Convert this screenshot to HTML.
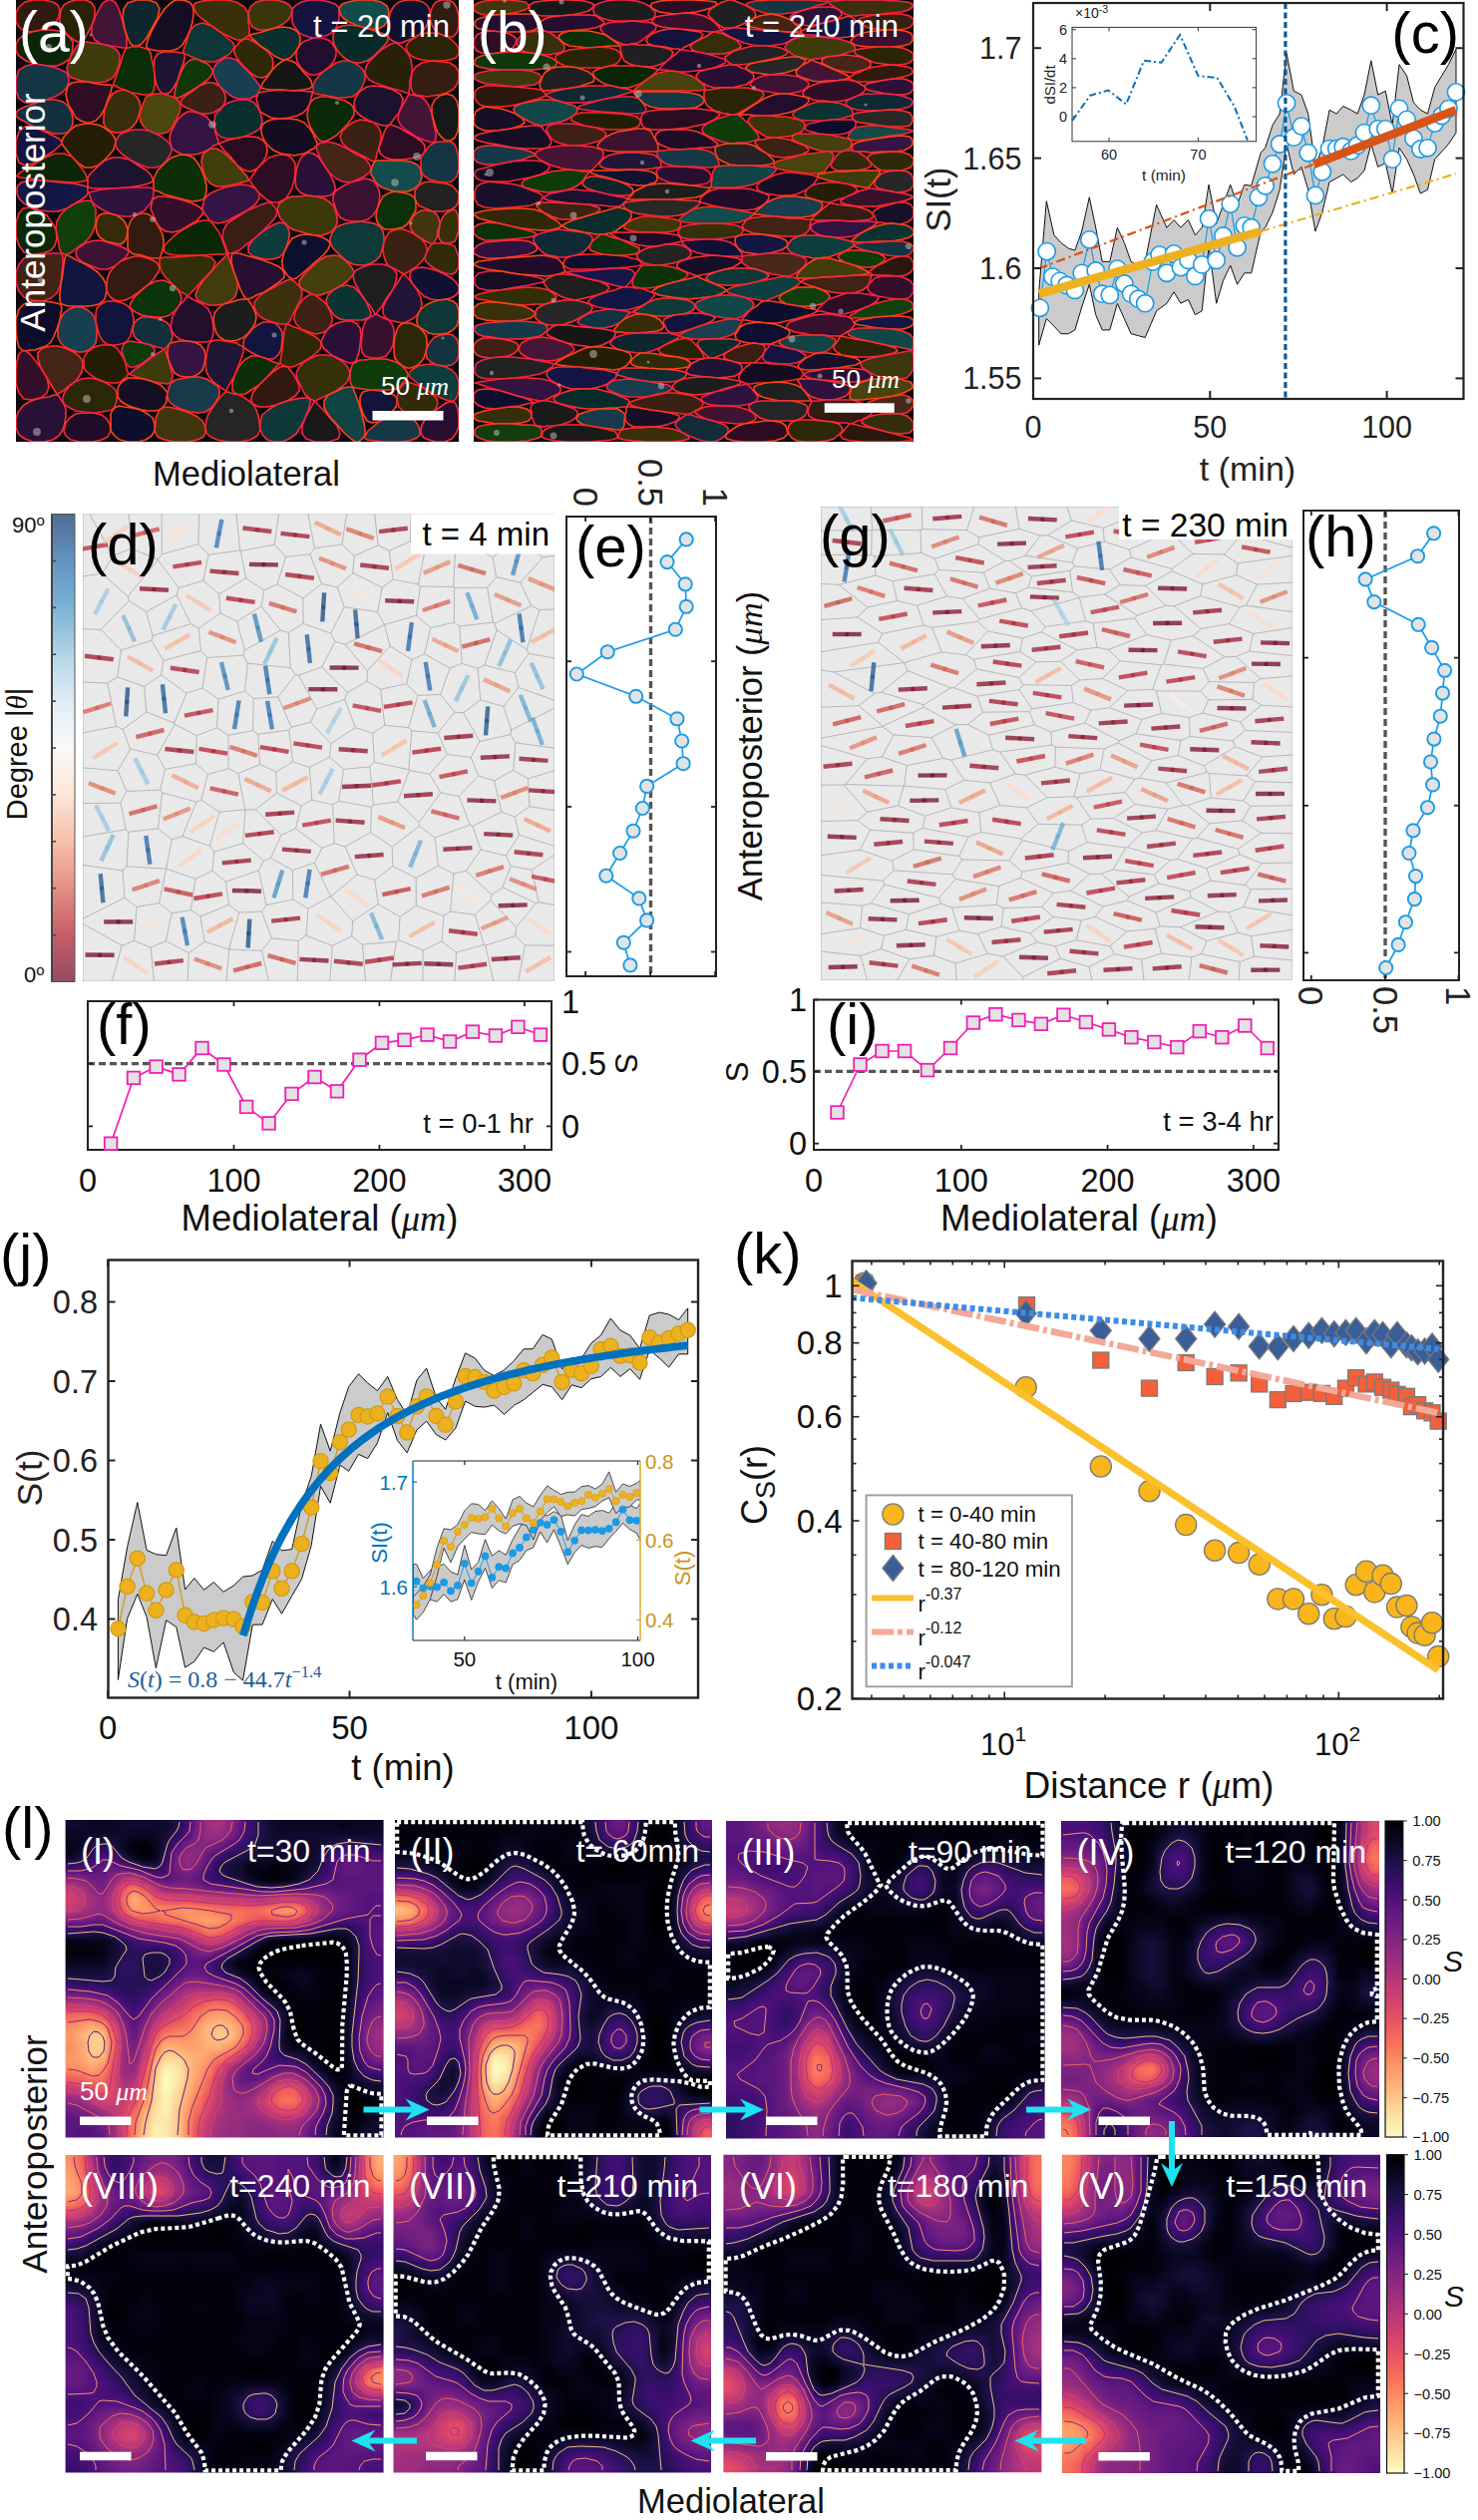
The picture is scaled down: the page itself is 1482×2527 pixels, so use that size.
<!DOCTYPE html>
<html><head><meta charset="utf-8"><style>
html,body{margin:0;padding:0;background:#fff;}
body{width:1482px;height:2527px;overflow:hidden;font-family:"Liberation Sans", sans-serif;}
svg{display:block;}
</style></head><body>
<svg width="1482" height="2527" viewBox="0 0 1482 2527" font-family='"Liberation Sans", sans-serif'><clipPath id="clipa"><rect x="16" y="0" width="444" height="443"/></clipPath>
<g clip-path="url(#clipa)" stroke-width="1.6" stroke-linejoin="round">
<rect x="16" y="0" width="444" height="443" fill="#0c0a0e"/>
<path d="M42 30l-10 2 -8 -1 -5 -4 -3 -5 0 -9 3 -6 6 -5 8 -2 11 0 9 2 5 3 2 5 -1 7 -3 5 -6 5z" fill="#311b11" stroke="#ff2626"/>
<path d="M60 17l1 -7 3 -5 5 -3 7 -2 10 0 6 3 3 5 0 8 -3 10 -4 7 -3 6 -2 3 -2 0 -3 0 -4 -2 -4 -3 -4 -4 -4 -5 -2 -5z" fill="#292208" stroke="#ff2a3a"/>
<path d="M122 18l3 11 2 9 0 6 0 3 -1 1 -3 0 -5 -1 -7 -1 -10 -2 -6 -4 -3 -6 0 -8 4 -10 4 -8 3 -5 5 -3 4 0 4 3 3 6z" fill="#421435" stroke="#f8204e"/>
<path d="M125 29l-2 -11 1 -9 4 -6 9 -3 12 0 8 3 3 6 -2 9 -6 11 -5 9 -5 6 -4 2 -4 0 -3 -2 -3 -6z" fill="#0e2630" stroke="#ff4418"/>
<path d="M177 98l-2 -1 0 -3 1 -5 2 -8 4 -10 4 -7 5 -4 6 -1 6 3 5 2 3 3 2 3 0 3 -2 4 -4 4 -7 5 -8 5 -7 4 -5 3z" fill="#0e380b" stroke="#ff3030"/>
<path d="M222 33l-10 -7 -8 -6 -6 -5 -3 -5 -1 -4 2 -3 7 -2 10 -1 14 0 10 2 8 5 4 6 0 9 1 6 0 5 0 2 0 1 -1 0 -2 1 -2 2 -3 1 -5 0 -6 -3z" fill="#392f0b" stroke="#ff2626"/>
<path d="M265 0l11 0 9 2 5 3 3 4 -1 6 -3 5 -5 4 -8 4 -10 2 -7 0 -6 -3 -3 -6 -1 -8 2 -6 6 -5z" fill="#3a350b" stroke="#ff2a3a"/>
<path d="M321 37l-7 1 -5 -1 -5 -2 -4 -2 -3 -4 -3 -4 -1 -5 0 -5 0 -6 4 -4 5 -3 9 -2 11 0 8 2 6 2 4 4 0 6 0 5 -1 4 -2 5 -2 3 -4 3 -5 2z" fill="#12143f" stroke="#f8204e"/>
<path d="M370 29l-11 -3 -9 -4 -6 -4 -3 -4 -1 -6 3 -4 6 -2 10 -2 14 0 9 2 6 4 2 6 -1 8 -4 6 -6 3z" fill="#124b4b" stroke="#ff4418"/>
<path d="M390 38l-1 -2 0 -4 0 -5 1 -6 1 -8 4 -7 5 -4 8 -2 9 0 7 2 5 4 2 5 -1 7 -2 7 -3 5 -5 5 -7 4 -6 2 -4 2 -4 0 -3 -1 -2 -1 -2 -1z" fill="#0e1031" stroke="#ff3030"/>
<path d="M414 39l6 -4 7 -2 7 0 7 1 8 3 5 4 4 4 2 4 0 5 -3 4 -6 2 -8 1 -11 0 -9 -1 -7 -2 -5 -3 -3 -4 -1 -4 2 -4z" fill="#2c2408" stroke="#ff2626"/>
<path d="M32 32l10 -2 9 0 8 1 6 2 5 5 3 4 0 5 -1 6 -2 6 -6 4 -7 3 -10 0 -12 -2 -9 -3 -7 -5 -3 -5 0 -7 3 -5 5 -4z" fill="#0a2607" stroke="#ff2a3a"/>
<path d="M70 59l3 -6 3 -5 2 -3 3 -2 2 -1 4 0 6 1 8 1 9 2 7 4 3 5 0 7 -3 10 -4 6 -7 4 -9 1 -10 -1 -9 -2 -6 -2 -3 -2 -1 -3 -1 -4 1 -4z" fill="#403b0c" stroke="#f8204e"/>
<path d="M153 29l6 -11 6 -9 6 -6 5 -3 6 0 5 1 4 2 2 3 1 4 0 5 -1 7 -2 7 -4 9 -4 7 -5 4 -7 2 -7 0 -6 0 -5 -1 -4 -1 -2 -1 0 -4 2 -6z" fill="#150e23" stroke="#ff4418"/>
<path d="M164 52l7 0 6 0 4 1 3 0 1 1 0 4 -1 5 -3 8 -3 10 -4 7 -4 5 -3 1 -4 0 -3 -3 -3 -6 -2 -8 -1 -10 1 -8 3 -5z" fill="#1e1434" stroke="#ff3030"/>
<path d="M222 33l-10 -7 -9 -3 -7 2 -5 5 -3 8 -2 7 -2 5 0 3 1 1 3 1 4 2 5 2 6 2 7 1 5 0 5 -2 5 -3 4 -2 3 -3 2 -3 1 -2 -1 -4 -5 -4z" fill="#0d3636" stroke="#ff2626"/>
<path d="M261 46l8 6 4 6 1 6 -1 6 -5 6 -5 2 -6 -1 -6 -4 -8 -8 -5 -6 -3 -6 0 -4 1 -2 2 -2 2 -3 2 -1 3 -2 4 0 6 3z" fill="#302809" stroke="#ff2a3a"/>
<path d="M306 72l-5 -5 -3 -5 -1 -6 0 -5 3 -5 4 -4 5 -2 5 -2 7 0 5 1 5 2 3 4 3 5 0 5 -2 6 -4 5 -7 6 -7 3 -6 0z" fill="#220d2c" stroke="#f8204e"/>
<path d="M294 91l-13 -1 -10 0 -6 -1 -3 -1 0 -1 1 -3 2 -3 4 -5 4 -6 5 -5 4 -3 3 -2 3 0 4 1 4 2 4 4 5 6 4 4 3 4 1 4 0 2 -3 2 -7 1z" fill="#161616" stroke="#ff4418"/>
<path d="M389 38l-1 -2 -3 -2 -6 -2 -9 -3 -11 -3 -9 -1 -7 1 -5 2 -3 4 -1 4 0 4 1 5 3 5 3 4 4 4 5 3 5 2 6 0 7 -2 6 -4 7 -7 5 -5 3 -4z" fill="#0a2a2a" stroke="#ff3030"/>
<path d="M412 82l1 -9 4 -6 6 -4 9 -2 11 1 8 1 6 4 3 5 0 8 -2 5 -4 5 -6 3 -7 2 -7 1 -6 1 -6 -1 -5 -1 -3 -2 -2 -5z" fill="#351d12" stroke="#ff2626"/>
<path d="M441 34l8 3 5 0 4 -4 2 -7 0 -10 -2 -8 -3 -5 -5 -3 -7 0 -6 2 -3 4 -2 5 -1 7 2 7 3 5z" fill="#321b11" stroke="#ff2a3a"/>
<path d="M47 66l-12 -2 -9 2 -7 4 -3 9 0 12 3 8 6 4 9 0 12 -3 9 -3 7 -4 4 -4 2 -3 1 -4 0 -3 -1 -3 -1 -3 -4 -2 -7 -3z" fill="#143544" stroke="#f8204e"/>
<path d="M87 82l10 2 8 1 5 0 3 1 0 0 -1 2 -1 5 -3 7 -3 9 -4 7 -5 5 -5 2 -5 0 -5 -2 -5 -3 -3 -6 -4 -6 -2 -6 -1 -6 1 -4 1 -4 4 -3 6 -1z" fill="#2f0e25" stroke="#ff4418"/>
<path d="M124 132l5 -2 4 -3 4 -5 2 -6 2 -8 -1 -6 -3 -5 -5 -4 -7 -3 -7 1 -5 3 -4 6 -4 10 -1 7 0 7 2 4 4 3 5 2 4 0z" fill="#382e0b" stroke="#ff3030"/>
<path d="M128 48l-1 0 -2 3 -2 5 -2 7 -3 9 -2 6 -2 5 0 2 0 0 2 1 3 2 6 2 7 3 7 1 5 1 4 0 4 -1 2 -3 1 -6 0 -8 -1 -10 -2 -8 -1 -6 -2 -3 -2 -1 -3 -1 -3 -1 -3 0 -4 0 -3 0 -2 1z" fill="#0b2c08" stroke="#ff2626"/>
<path d="M194 111l7 3 7 0 6 -1 5 -3 5 -4 2 -5 0 -5 -2 -5 -4 -5 -6 -3 -6 0 -8 3 -8 6 -6 4 -4 4 -1 3 1 2 3 2 4 2z" fill="#3b2014" stroke="#ff2a3a"/>
<path d="M240 99l6 0 5 0 3 -2 3 -1 2 -3 1 -2 1 -2 0 -1 0 -1 -2 -3 -3 -4 -6 -7 -7 -7 -6 -6 -6 -2 -6 0 -4 3 -4 3 -2 3 -1 3 0 3 1 4 2 4 3 5 5 5 5 4 5 3z" fill="#183f50" stroke="#f8204e"/>
<path d="M251 36l0 -1 3 -1 5 -1 7 -2 10 -3 8 -1 7 1 5 2 3 3 2 4 0 4 -1 5 -3 5 -3 4 -3 3 -3 1 -3 1 -4 -1 -6 -3 -6 -5 -8 -5 -5 -5 -4 -3z" fill="#0b2e2e" stroke="#ff4418"/>
<path d="M311 103l-2 6 -1 6 1 6 2 6 4 7 3 4 3 3 4 1 3 -1 4 -2 5 -3 5 -5 6 -6 4 -5 3 -5 0 -4 -1 -4 -3 -3 -5 -3 -8 -2 -9 -2 -8 0 -6 2z" fill="#0a2908" stroke="#ff3030"/>
<path d="M355 63l-5 -2 -6 0 -7 2 -6 4 -7 5 -5 5 -3 4 -2 4 0 2 0 2 0 2 0 1 0 1 3 1 5 1 7 1 9 2 8 0 7 -1 5 -3 4 -5 2 -4 2 -5 0 -4 -1 -4 -2 -3 -3 -3z" fill="#143745" stroke="#ff2626"/>
<path d="M391 125l-3 1 -3 0 -4 -1 -6 -2 -7 -3 -5 -3 -4 -3 -3 -4 -1 -3 0 -4 1 -4 3 -5 4 -4 5 -3 7 -1 9 1 10 3 7 4 3 5 -1 6 -3 8 -4 5 -3 4z" fill="#1b122d" stroke="#ff2a3a"/>
<path d="M411 81l2 -8 0 -7 -1 -6 -2 -5 -3 -4 -3 -3 -2 -2 -3 -2 -3 -1 -4 1 -5 3 -6 4 -6 6 -5 5 -3 5 -1 5 1 4 3 4 6 3 8 3 10 3 8 2 5 2 3 1 0 0 0 -2 1 -5z" fill="#282108" stroke="#f8204e"/>
<path d="M72 157l7 7 6 4 7 0 6 -2 7 -6 5 -5 4 -5 1 -4 1 -4 -1 -4 -2 -3 -3 -3 -4 -3 -5 -3 -4 -1 -6 -1 -5 0 -5 1 -5 1 -4 3 -4 4 -3 3 -2 3 -1 3 0 2 2 3 3 4z" fill="#251e07" stroke="#ff4418"/>
<path d="M46 100l-12 4 -9 3 -6 3 -3 3 0 3 3 3 6 3 8 5 12 4 9 3 8 0 5 -1 4 -4 2 -5 0 -5 -1 -6 -4 -7 -5 -4 -8 -2z" fill="#12303e" stroke="#ff3030"/>
<path d="M177 119l-4 8 -4 5 -6 2 -7 0 -7 -3 -5 -4 -3 -5 -1 -6 2 -8 2 -5 2 -5 3 -2 3 -1 3 -1 4 0 4 0 4 1 3 1 3 1 2 1 1 1 2 1 1 1 1 2 1 2 0 4 -1 4z" fill="#4c460f" stroke="#ff2626"/>
<path d="M178 120l-4 7 -3 7 -1 5 1 5 1 4 3 3 4 2 4 2 6 0 6 0 5 -1 5 -2 6 -3 3 -3 3 -1 2 -1 0 -1 0 -1 -1 -4 -2 -5 -1 -6 -4 -5 -4 -5 -6 -3 -7 -2 -6 0 -5 3z" fill="#331442" stroke="#ff2a3a"/>
<path d="M215 127l2 6 4 4 6 2 8 0 10 -2 7 -3 6 -3 3 -3 1 -3 1 -4 -1 -4 -1 -5 -3 -5 -3 -4 -4 -2 -5 -1 -6 0 -5 1 -6 2 -5 3 -4 5 -4 4 -1 6z" fill="#0b2f2f" stroke="#f8204e"/>
<path d="M280 119l10 0 8 1 7 3 5 5 4 6 2 5 2 4 0 3 -2 1 -1 2 -3 1 -3 2 -4 2 -5 1 -5 1 -6 -1 -7 -1 -5 -2 -5 -3 -4 -4 -3 -4 -2 -5 -1 -4 0 -4 1 -3 4 -3 5 -2z" fill="#140d22" stroke="#ff4418"/>
<path d="M311 103l-3 6 -4 4 -6 3 -8 2 -10 1 -8 -1 -6 -3 -5 -3 -2 -5 -1 -4 -1 -4 1 -3 1 -3 5 -1 7 -1 10 -1 13 1 9 0 7 1 3 0 0 1 0 2 -1 3z" fill="#150e24" stroke="#ff3030"/>
<path d="M380 148l2 -8 0 -7 -3 -6 -4 -4 -7 -2 -7 -1 -6 2 -6 4 -6 6 -2 5 2 6 6 6 10 5 8 4 5 3 3 1 1 -1 1 -2 1 -5z" fill="#3b2014" stroke="#ff2626"/>
<path d="M404 160l-11 0 -7 -2 -5 -4 -1 -6 3 -8 2 -7 2 -4 2 -3 2 -1 4 1 5 2 7 4 9 5 7 5 3 4 0 5 -2 4 -5 2 -7 2z" fill="#2c0d23" stroke="#ff2a3a"/>
<path d="M417 137l-9 -6 -6 -5 -3 -6 1 -7 4 -8 3 -5 2 -4 1 -2 0 0 1 1 3 0 3 1 5 1 4 3 4 6 3 8 2 11 2 8 0 6 -1 3 -2 1 -4 -1 -6 -2z" fill="#441437" stroke="#f8204e"/>
<path d="M447 141l5 0 4 -3 3 -6 1 -9 0 -13 -2 -9 -4 -5 -6 -2 -7 2 -5 4 -3 6 0 8 3 11 3 8 4 5z" fill="#171717" stroke="#ff4418"/>
<path d="M45 132l-12 -5 -8 0 -6 5 -3 9 0 13 3 9 6 3 8 -2 12 -7 8 -5 6 -5 3 -3 0 -2 -3 -3 -6 -3z" fill="#13143f" stroke="#ff3030"/>
<path d="M45 158l-11 7 -9 5 -6 4 -2 2 0 1 4 1 9 1 13 2 17 1 14 1 8 -1 5 -1 0 -3 -1 -3 -3 -5 -5 -6 -6 -7 -8 -3 -9 0z" fill="#0a2607" stroke="#ff2626"/>
<path d="M89 188l-1 -1 0 -2 0 -2 0 -2 0 -3 2 -3 4 -4 5 -5 6 -5 8 -3 8 0 9 2 9 6 8 5 4 4 2 4 0 3 -4 2 -8 2 -12 2 -16 1 -12 0 -8 0z" fill="#1d1331" stroke="#ff2a3a"/>
<path d="M167 161l-5 5 -6 2 -8 0 -8 -3 -10 -5 -7 -5 -5 -5 -2 -4 0 -4 2 -4 2 -3 4 -2 6 -2 5 -1 7 0 7 1 7 3 6 3 5 4 3 3 2 4 0 4 -2 4z" fill="#262626" stroke="#f8204e"/>
<path d="M173 197l11 3 9 2 7 -1 4 -1 2 -4 1 -4 0 -6 -2 -8 -3 -8 -4 -7 -4 -5 -5 -2 -6 -1 -5 1 -6 2 -5 4 -5 5 -4 4 -2 4 -2 4 0 3 0 3 0 2 0 2 1 2 4 1 6 3z" fill="#0c2f09" stroke="#ff4418"/>
<path d="M220 144l-1 0 2 2 4 5 6 6 7 9 7 5 7 1 6 -3 6 -7 3 -6 1 -5 -1 -6 -3 -4 -5 -3 -6 -1 -8 0 -10 2 -8 2 -5 2z" fill="#2a0c21" stroke="#ff3030"/>
<path d="M283 201l4 -2 3 -5 3 -6 2 -7 1 -9 0 -8 -3 -5 -4 -3 -7 -1 -6 1 -6 2 -6 5 -6 6 -4 6 -2 3 -2 2 0 1 1 1 2 3 3 4 4 5 4 3 3 3 3 2 3 1 3 0 3 0z" fill="#2c0d23" stroke="#ff2626"/>
<path d="M317 197l-9 -1 -7 -3 -4 -5 -1 -7 1 -10 2 -7 3 -6 3 -3 4 -2 5 1 5 3 5 7 6 9 4 8 2 6 0 4 -2 3 -3 2 -6 1z" fill="#2b1037" stroke="#ff2a3a"/>
<path d="M330 173l-6 -9 -4 -8 -2 -5 -1 -4 1 -1 2 -2 2 -1 3 0 3 -1 5 1 7 2 8 4 10 6 8 4 4 5 2 4 0 3 -3 3 -4 3 -6 3 -8 3 -8 -1 -6 -3z" fill="#442517" stroke="#f8204e"/>
<path d="M417 188l3 -3 2 -4 1 -4 -1 -4 -1 -5 -3 -3 -6 -3 -8 -1 -11 0 -8 0 -6 0 -3 1 -1 0 0 1 -1 2 -1 3 -1 3 0 4 2 3 2 4 3 3 4 3 6 2 6 2 7 0 7 0 5 -2z" fill="#134c4c" stroke="#ff4418"/>
<path d="M418 188l3 -3 4 -2 6 -1 7 1 9 1 6 2 4 4 3 4 0 6 -1 4 -2 3 -4 3 -4 1 -4 1 -5 0 -6 0 -5 -2 -5 -2 -4 -2 -2 -3 -2 -4 0 -4 0 -3z" fill="#222222" stroke="#ff3030"/>
<path d="M84 244l-6 4 -5 4 -3 2 -3 1 -1 0 -1 0 -1 0 -1 -1 -1 0 -2 -3 -1 -5 -1 -7 -2 -9 1 -8 4 -7 6 -6 8 -5 7 -2 6 -1 4 1 2 4 2 4 0 5 0 6 -1 6 -2 6 -4 6z" fill="#103f0c" stroke="#ff2626"/>
<path d="M75 204l-8 5 -9 3 -9 0 -9 -1 -9 -3 -7 -4 -5 -5 -2 -5 0 -6 4 -5 9 -2 13 0 17 2 14 1 9 2 4 1 1 2 0 1 0 1 0 2 0 1 -2 3 -4 3z" fill="#141644" stroke="#ff2a3a"/>
<path d="M117 216l-7 -2 -6 -3 -5 -3 -4 -3 -3 -3 -1 -3 -1 -3 -1 -2 0 -1 4 -1 8 -2 12 -1 16 -1 12 0 8 0 5 1 0 2 0 2 0 3 -1 3 -2 5 -3 3 -3 4 -4 2 -5 3 -6 1 -6 0z" fill="#30123e" stroke="#f8204e"/>
<path d="M160 259l0 0 1 -2 1 -3 1 -3 1 -5 0 -5 -1 -6 -3 -6 -5 -8 -4 -5 -5 -2 -5 0 -5 2 -4 4 -2 4 -2 6 0 8 0 6 0 4 1 3 1 1 2 2 4 1 6 1 6 2 6 1 3 0z" fill="#321b11" stroke="#ff4418"/>
<path d="M203 169l3 9 5 6 6 3 8 0 10 -2 7 -2 5 -1 2 -1 0 -1 -1 -3 -4 -4 -6 -7 -8 -8 -7 -6 -6 -3 -6 0 -5 3 -3 4 -1 6z" fill="#423d0d" stroke="#ff3030"/>
<path d="M260 194l-4 -5 -6 -3 -7 -1 -8 1 -10 2 -8 3 -6 3 -4 3 -2 3 -1 3 -1 4 0 3 1 3 2 2 2 3 2 3 4 2 5 1 8 -2 9 -5 12 -6 8 -6 4 -6z" fill="#341444" stroke="#ff2626"/>
<path d="M317 197l-9 -1 -8 1 -7 0 -6 2 -4 3 -3 2 -1 3 -1 3 1 3 1 4 2 3 3 3 4 4 4 3 7 2 7 2 9 2 7 0 6 -2 4 -2 3 -4 2 -4 0 -5 -1 -6 -2 -6 -4 -4 -6 -4z" fill="#3d380c" stroke="#ff2a3a"/>
<path d="M362 222l-8 0 -7 -1 -6 -3 -3 -5 -2 -6 -2 -5 0 -4 1 -4 2 -3 3 -2 5 -3 6 -3 8 -2 6 -2 6 1 4 2 3 4 2 5 1 5 -1 7 -2 7 -4 6 -5 4z" fill="#3b1130" stroke="#f8204e"/>
<path d="M394 230l5 -1 5 -1 4 -3 3 -4 3 -5 3 -5 0 -4 0 -4 -1 -4 -3 -3 -5 -2 -6 -1 -7 -1 -6 2 -5 3 -3 6 -3 7 -1 7 1 5 2 3 3 3 3 2 4 0z" fill="#0c3009" stroke="#ff4418"/>
<path d="M440 232l1 -7 2 -6 3 -4 4 -3 4 -2 3 1 2 4 1 7 0 9 -2 7 -2 4 -5 2 -5 0 -4 -2 -2 -4z" fill="#36310a" stroke="#ff3030"/>
<path d="M423 173l-1 -5 0 -5 0 -4 2 -4 3 -4 2 -3 3 -3 2 -1 2 -1 3 -1 4 0 4 0 5 0 4 3 2 5 2 9 0 10 -2 8 -5 5 -6 1 -9 -1 -7 -2 -5 -3z" fill="#143543" stroke="#ff2626"/>
<path d="M57 239l-1 -9 -4 -7 -5 -7 -7 -4 -10 -4 -7 1 -4 5 -3 9 0 14 3 9 5 7 8 2 11 -1 8 -3 4 -5z" fill="#0a2808" stroke="#ff2a3a"/>
<path d="M92 267l-9 -4 -6 -5 -1 -5 2 -4 7 -5 6 -2 7 -1 8 1 8 3 7 2 4 2 3 2 1 1 -1 3 -2 3 -5 4 -6 5 -7 3 -8 0z" fill="#3e1232" stroke="#f8204e"/>
<path d="M117 216l-7 -2 -6 0 -5 2 -2 5 -1 6 1 6 3 5 6 4 9 2 6 1 4 -3 2 -4 1 -8 -2 -6 -3 -4z" fill="#342b0a" stroke="#ff4418"/>
<path d="M152 204l1 -4 5 -3 6 0 9 1 11 3 9 3 6 3 4 3 1 3 -2 3 -4 5 -7 4 -10 6 -8 2 -7 -1 -6 -4 -4 -7 -3 -7 -2 -5z" fill="#350f2a" stroke="#ff3030"/>
<path d="M182 231l9 -5 8 -4 6 -1 5 0 3 3 3 4 3 4 3 6 2 6 2 5 1 4 1 1 0 0 -5 1 -8 0 -12 1 -17 0 -11 0 -8 -2 -3 -3 1 -5 4 -4 5 -5z" fill="#0a2707" stroke="#ff2626"/>
<path d="M285 253l3 -8 2 -7 0 -6 -2 -5 -3 -3 -5 -1 -7 3 -8 5 -11 9 -5 7 0 6 5 4 11 3 8 0 7 -2z" fill="#0e3b3b" stroke="#ff2a3a"/>
<path d="M233 254l2 -1 5 -2 6 -5 8 -6 10 -9 7 -7 5 -6 2 -5 -1 -3 -1 -2 -2 -2 -2 -2 -2 -1 -5 1 -7 3 -10 4 -11 7 -9 6 -4 7 -1 7 2 6 2 5 1 3 1 2 0 0 1 0 1 0z" fill="#381e13" stroke="#f8204e"/>
<path d="M318 261l-9 8 -7 6 -5 4 -4 1 -1 -1 -2 -1 -2 -2 -2 -3 -2 -3 -1 -5 0 -5 2 -7 4 -8 4 -6 7 -3 7 -1 9 1 7 2 4 2 3 2 1 3 -2 5 -4 5z" fill="#0d0f2e" stroke="#ff4418"/>
<path d="M385 243l-2 8 -2 6 -4 4 -5 3 -6 2 -6 0 -6 -1 -6 -3 -6 -5 -5 -5 -3 -3 -2 -4 -1 -3 0 -3 1 -3 2 -4 3 -4 4 -2 6 -2 7 -1 8 -1 7 1 6 1 4 2 3 2 2 4 1 5z" fill="#0e3939" stroke="#ff3030"/>
<path d="M412 271l5 -3 3 -3 3 -3 3 -4 2 -5 0 -5 -2 -4 -4 -5 -6 -4 -6 -3 -5 -2 -6 0 -5 1 -4 2 -3 5 -2 5 -1 8 1 6 2 6 3 4 6 3 4 2 3 2 1 0 1 1 2 -1 2 -1z" fill="#3b2014" stroke="#ff2626"/>
<path d="M416 235l6 4 5 3 4 2 2 0 2 0 1 -2 2 -4 1 -6 2 -7 -1 -6 -2 -4 -4 -3 -6 -1 -5 0 -4 2 -4 3 -3 5 -1 5 1 4z" fill="#41360d" stroke="#ff2a3a"/>
<path d="M43 255l-11 1 -8 3 -5 6 -3 8 0 11 3 8 5 6 8 3 11 1 8 -3 6 -5 4 -9 1 -11 1 -9 0 -7 -1 -3 -1 -1 -4 0 -6 0z" fill="#422417" stroke="#f8204e"/>
<path d="M102 303l-3 2 -4 1 -6 1 -7 0 -7 0 -6 0 -4 -1 -3 -1 -1 -1 -1 -3 0 -7 1 -9 2 -11 1 -9 1 -6 1 -3 1 0 3 1 5 3 7 3 9 5 7 5 5 6 3 5 1 7 -1 5 -1 4z" fill="#12143d" stroke="#ff4418"/>
<path d="M139 293l9 -7 6 -6 4 -6 2 -4 -1 -4 -2 -3 -4 -2 -5 -2 -7 -2 -6 0 -7 2 -7 3 -6 5 -5 6 -2 5 -1 6 0 7 2 5 3 3 3 2 5 1 5 -1 7 -3z" fill="#331b11" stroke="#ff3030"/>
<path d="M160 260l1 -1 4 -1 9 0 12 -1 16 -1 10 2 4 5 -3 8 -10 10 -7 8 -5 5 -3 3 -1 0 -1 -2 -4 -2 -5 -4 -6 -6 -5 -5 -3 -4 -2 -4 -1 -4 0 -3 0 -2z" fill="#322e0a" stroke="#ff2626"/>
<path d="M224 305l7 -3 5 -5 2 -7 0 -8 -4 -11 -3 -8 -2 -6 0 -2 -1 0 0 0 0 0 0 0 0 0 -3 3 -5 5 -7 8 -9 10 -6 9 -2 6 2 5 6 3 6 2 7 0z" fill="#413b0d" stroke="#ff2a3a"/>
<path d="M257 313l-2 -5 0 -5 4 -5 6 -5 10 -5 7 -4 6 -3 3 -1 2 1 2 1 2 2 2 2 3 3 1 4 -1 6 -3 6 -4 8 -3 6 -2 4 -2 2 -1 0 -2 0 -4 0 -5 -1 -6 -2 -5 -2 -5 -3z" fill="#3c310c" stroke="#f8204e"/>
<path d="M246 299l2 1 4 -1 5 -3 8 -3 9 -6 7 -5 4 -4 0 -4 -2 -4 -4 -3 -7 -3 -8 -3 -10 -3 -8 -2 -6 -2 -5 0 -2 0 -1 3 0 6 2 8 4 11 3 8 3 6z" fill="#270f32" stroke="#ff4418"/>
<path d="M319 262l-9 8 -6 6 -4 6 0 4 2 3 3 2 4 2 3 2 4 1 5 0 6 -2 7 -3 7 -4 6 -4 4 -4 3 -3 1 -3 -1 -3 -3 -4 -4 -4 -6 -5 -6 -1 -8 1z" fill="#453f0d" stroke="#ff3030"/>
<path d="M419 292l-5 -7 -4 -5 -3 -3 -2 -2 -1 0 -2 3 -3 5 -5 7 -6 10 -4 8 0 6 2 4 4 3 5 1 4 1 4 1 4 -1 4 -2 4 -2 4 -4 3 -5 1 -5 -1 -6z" fill="#201536" stroke="#ff2626"/>
<path d="M439 301l9 -1 6 -2 4 -3 2 -3 0 -5 -3 -4 -4 -4 -7 -4 -9 -4 -8 -2 -6 -1 -6 1 -4 2 -2 4 0 4 3 6 6 7 5 5 7 3z" fill="#0f1032" stroke="#ff2a3a"/>
<path d="M426 258l2 -5 2 -4 2 -3 1 -1 2 -1 2 0 4 0 5 0 5 1 5 2 2 5 2 6 0 9 -3 6 -4 2 -7 -1 -9 -4 -6 -4 -4 -4z" fill="#302c09" stroke="#f8204e"/>
<path d="M60 305l1 1 1 3 -1 5 -1 7 -3 9 -3 7 -3 6 -5 4 -6 2 -5 2 -5 0 -4 1 -4 -1 -3 -3 -2 -7 -1 -9 0 -12 3 -10 5 -5 8 -3 11 0 8 1 6 1z" fill="#0c0d28" stroke="#ff4418"/>
<path d="M82 308l-7 0 -6 2 -5 4 -4 7 -2 9 0 8 3 6 4 4 7 3 6 2 6 0 5 -2 4 -3 3 -4 1 -6 0 -7 -1 -9 -3 -7 -5 -4z" fill="#183f50" stroke="#ff3030"/>
<path d="M130 309l2 2 1 4 1 4 0 6 -2 6 -1 5 -2 4 -3 3 -2 1 -3 1 -4 1 -5 0 -5 -1 -4 -3 -3 -5 -2 -6 -2 -9 0 -7 1 -6 3 -3 3 -2 4 -2 4 0 4 0 4 1 4 1 4 2z" fill="#11133a" stroke="#ff2626"/>
<path d="M130 308l3 3 3 2 6 3 6 1 9 1 7 0 6 -2 5 -4 5 -6 2 -6 -1 -5 -4 -6 -6 -5 -7 -3 -8 1 -8 4 -8 7 -6 6 -3 5z" fill="#0d330a" stroke="#ff2a3a"/>
<path d="M213 321l1 7 0 6 -1 4 -1 3 -2 1 -3 1 -5 0 -7 0 -8 -1 -7 -2 -4 -3 -3 -4 -2 -5 1 -5 1 -6 3 -5 4 -6 4 -4 2 -3 2 -1 0 0 2 0 3 2 4 2 6 3 5 4 3 5z" fill="#220d2b" stroke="#f8204e"/>
<path d="M256 313l-2 -4 -2 -4 -2 -3 -2 -2 -2 0 -3 0 -5 1 -6 2 -8 2 -5 4 -4 5 -1 7 1 7 2 6 3 4 5 3 7 1 6 -1 5 -2 5 -4 5 -6 3 -5 1 -6z" fill="#1d1d1d" stroke="#ff4418"/>
<path d="M253 330l-4 5 -4 5 -1 4 0 3 1 2 3 2 5 3 6 3 9 3 6 0 5 -4 3 -6 1 -9 0 -8 -3 -5 -4 -4 -6 -1 -6 0 -6 3z" fill="#131540" stroke="#ff3030"/>
<path d="M331 312l-3 -6 -4 -4 -4 -3 -4 -3 -4 -1 -4 2 -4 3 -4 5 -4 8 -1 7 2 5 5 5 8 3 6 2 6 -1 5 -2 4 -5 2 -4 0 -5z" fill="#3e2115" stroke="#ff2626"/>
<path d="M347 321l7 0 5 0 5 0 4 -2 3 -1 1 -4 -2 -5 -3 -7 -6 -8 -6 -6 -7 -2 -7 1 -7 4 -5 5 -2 5 1 5 4 6 4 5 5 3z" fill="#0c3333" stroke="#ff2a3a"/>
<path d="M395 270l-5 -3 -6 -2 -6 0 -6 0 -6 2 -5 2 -4 2 -2 3 -1 2 1 5 2 5 4 7 6 9 5 6 3 5 1 2 1 0 2 -3 4 -5 4 -7 7 -10 3 -8 1 -7z" fill="#1e1e1e" stroke="#f8204e"/>
<path d="M448 300l-8 1 -7 2 -6 3 -5 4 -3 5 -1 5 0 4 2 4 5 3 5 3 5 1 7 0 7 -1 5 -3 4 -4 2 -7 0 -8 -2 -7 -4 -3z" fill="#0d3636" stroke="#ff4418"/>
<path d="M68 388l7 -5 4 -5 3 -5 1 -5 0 -5 -2 -4 -4 -4 -5 -3 -7 -3 -7 -2 -6 0 -6 1 -5 2 -3 4 0 6 3 9 6 10 5 8 3 5 2 3 1 0 2 -1 3 -2z" fill="#452518" stroke="#ff3030"/>
<path d="M126 364l-3 -6 -3 -5 -3 -4 -5 -3 -5 0 -5 0 -4 1 -5 2 -4 3 -3 3 -2 4 0 4 0 5 2 4 5 4 6 4 8 3 6 1 6 0 4 -1 3 -3 3 -2 1 -2 1 -1 0 0 -1 -2 -1 -3z" fill="#241e07" stroke="#ff2626"/>
<path d="M151 346l-8 -2 -6 -4 -3 -4 -1 -5 1 -6 3 -4 5 -3 6 0 9 1 6 2 5 3 3 4 1 5 1 4 -1 4 -1 3 -2 2 -2 2 -1 1 -1 1 -1 0 -2 -1 -5 -1z" fill="#12303c" stroke="#ff2a3a"/>
<path d="M142 366l9 -7 6 -4 5 -3 2 -2 1 0 1 2 1 4 2 5 2 8 2 6 0 4 -1 3 -1 2 -4 1 -6 -1 -7 -1 -10 -3 -7 -2 -5 -2 -2 -1 0 0 2 -2 4 -3z" fill="#3f3a0c" stroke="#f8204e"/>
<path d="M186 378l7 0 6 -3 4 -4 2 -6 1 -8 -1 -6 -4 -5 -6 -3 -8 -1 -7 0 -5 1 -4 1 -2 2 -1 4 0 5 1 6 3 7 3 6 5 3z" fill="#351444" stroke="#ff4418"/>
<path d="M280 365l0 0 -2 2 -4 4 -6 7 -8 8 -8 5 -6 4 -6 1 -5 -2 -2 -3 0 -6 2 -8 5 -10 5 -6 7 -4 7 0 9 3 6 3 4 1z" fill="#0c2e09" stroke="#ff3030"/>
<path d="M287 326l1 -1 3 1 4 2 6 2 8 4 6 3 4 3 3 3 0 4 -1 3 -4 4 -5 4 -8 5 -6 3 -5 2 -4 0 -3 -1 -3 -1 -1 -1 -1 0 0 0 0 -3 1 -5 1 -7 1 -9 1 -8 1 -5z" fill="#312809" stroke="#ff2626"/>
<path d="M347 322l6 0 5 3 3 4 1 7 -1 10 -1 7 -2 6 -1 3 -3 2 -3 0 -4 -1 -6 -3 -7 -3 -5 -4 -4 -3 -2 -4 -1 -3 1 -3 2 -4 2 -4 4 -4 5 -3 5 -2z" fill="#2a1036" stroke="#ff2a3a"/>
<path d="M395 337l-1 9 -3 6 -4 5 -7 2 -8 0 -6 -2 -3 -4 -1 -7 1 -10 1 -7 2 -6 2 -3 3 -2 3 -1 1 -1 2 -1 0 0 2 1 2 1 4 2 5 2 3 4 2 5z" fill="#37102c" stroke="#f8204e"/>
<path d="M408 324l-4 0 -4 3 -2 4 -2 6 -1 9 0 7 1 6 3 4 5 4 4 2 4 0 3 -1 4 -2 3 -3 3 -4 2 -6 1 -6 0 -6 -1 -5 -3 -4 -4 -4 -4 -2 -4 -2z" fill="#2e2609" stroke="#ff4418"/>
<path d="M429 347l-2 6 1 6 4 4 6 3 9 1 6 -1 5 -4 2 -6 0 -9 -2 -7 -4 -4 -5 -1 -7 1 -6 2 -4 4z" fill="#13323f" stroke="#ff3030"/>
<path d="M47 379l-6 -10 -6 -8 -5 -6 -4 -3 -4 0 -3 3 -2 7 -1 9 0 14 3 9 5 6 7 1 10 -2 6 -5 2 -6z" fill="#330f29" stroke="#ff2626"/>
<path d="M33 443l11 0 9 -2 6 -4 4 -6 2 -7 1 -7 0 -6 -1 -4 -3 -5 -2 -3 -1 -2 -2 -1 0 0 -3 0 -5 2 -8 1 -10 3 -7 4 -5 6 -3 7 0 10 3 7 6 4z" fill="#291036" stroke="#ff2a3a"/>
<path d="M126 364l-2 -6 -2 -6 1 -4 1 -3 3 -2 4 -1 5 1 7 1 8 2 4 4 0 4 -5 5 -8 6 -7 3 -5 0z" fill="#0f3a0b" stroke="#f8204e"/>
<path d="M125 381l-3 2 -3 4 -1 3 0 4 0 4 3 4 4 3 7 3 10 3 7 1 6 0 5 -1 3 -2 2 -3 2 -3 0 -4 1 -5 -3 -4 -4 -4 -7 -3 -10 -3 -8 -1 -7 0z" fill="#160e25" stroke="#ff4418"/>
<path d="M186 379l8 -1 6 0 7 2 5 3 6 4 2 4 0 5 -3 6 -5 7 -6 4 -7 1 -8 -1 -10 -3 -6 -3 -5 -4 -2 -4 0 -5 1 -4 1 -3 1 -3 2 -1 3 -2 4 -1z" fill="#163a4a" stroke="#ff3030"/>
<path d="M232 343l-7 -1 -5 -1 -4 0 -3 1 -2 1 -2 3 -1 5 -1 6 -1 8 1 7 2 5 4 5 5 4 4 3 3 2 1 1 1 0 1 -3 3 -5 4 -7 4 -10 3 -8 2 -6 0 -4 -1 -2 -3 -1 -3 -2z" fill="#1f1534" stroke="#ff2626"/>
<path d="M288 402l-11 4 -9 2 -8 0 -5 -2 -3 -3 0 -4 2 -6 6 -7 8 -8 7 -6 6 -4 4 -1 3 1 3 3 3 4 3 5 3 7 0 5 -4 5z" fill="#2f1910" stroke="#ff2a3a"/>
<path d="M329 396l8 -4 7 -5 4 -4 2 -5 1 -4 -2 -5 -3 -4 -5 -4 -7 -4 -7 -1 -8 0 -7 3 -7 4 -5 5 -3 6 1 6 3 6 3 6 2 4 3 2 2 2 2 1 1 0 1 1 1 0 2 -1 4 -2z" fill="#35300a" stroke="#f8204e"/>
<path d="M382 392l-11 -1 -7 2 -3 5 0 7 3 10 4 7 5 2 7 -1 7 -5 6 -5 4 -5 1 -4 0 -5 -3 -3 -6 -2z" fill="#11133b" stroke="#ff4418"/>
<path d="M404 384l-3 4 -4 2 -7 1 -8 0 -11 0 -8 -1 -6 -1 -3 -1 -1 -1 -1 -2 -1 -3 0 -4 0 -4 1 -4 1 -4 2 -2 2 -1 4 -2 5 0 6 -1 8 0 7 0 7 2 5 2 4 3 3 3 2 3 1 2 0 1 -1 3 -1 2z" fill="#0f3b0b" stroke="#ff3030"/>
<path d="M423 388l10 6 7 4 7 3 4 1 4 0 2 -2 2 -4 1 -6 0 -8 -3 -7 -4 -4 -6 -3 -9 -2 -7 -1 -7 1 -5 1 -3 2 -3 2 -2 2 -1 2 0 2 2 2 5 4z" fill="#0f3c3c" stroke="#ff2626"/>
<path d="M66 424l-2 8 2 5 5 4 9 2 13 0 9 -2 6 -3 3 -6 -1 -7 -3 -5 -5 -4 -8 -2 -10 0 -8 1 -6 4z" fill="#1f0c28" stroke="#ff2a3a"/>
<path d="M69 388l6 -5 7 -3 7 -1 7 1 8 3 6 3 5 4 2 4 0 4 0 4 -1 3 -1 3 -3 3 -4 1 -6 1 -8 1 -10 -1 -8 -1 -6 -3 -5 -3 -2 -4 0 -4 2 -5z" fill="#2b2708" stroke="#f8204e"/>
<path d="M132 409l9 2 7 4 5 4 2 6 0 7 -3 5 -6 4 -7 2 -11 0 -8 -2 -5 -4 -4 -5 0 -7 0 -6 0 -4 2 -4 2 -2 4 -2 6 1z" fill="#0d0e2d" stroke="#ff4418"/>
<path d="M190 414l-9 -3 -7 -2 -6 -1 -5 1 -3 2 -2 4 -2 5 0 5 -1 7 3 6 7 3 10 2 13 0 10 -2 6 -3 2 -4 0 -6 -3 -6 -5 -4z" fill="#40350c" stroke="#ff3030"/>
<path d="M218 402l-5 7 -4 6 -2 6 -1 7 1 6 4 4 7 3 10 2 13 0 10 -2 7 -4 3 -6 -1 -8 -1 -6 -2 -6 -2 -4 -4 -4 -3 -2 -4 -3 -4 -2 -5 -1 -4 -1 -2 -1 -2 0 0 0 -2 1 -3 3z" fill="#252525" stroke="#ff2626"/>
<path d="M307 417l-5 10 -5 8 -7 5 -7 3 -9 0 -6 -2 -4 -4 -3 -6 0 -8 2 -7 6 -5 8 -5 11 -4 9 -2 7 -1 4 0 3 1 0 4 -1 5z" fill="#0e3838" stroke="#ff2a3a"/>
<path d="M329 417l9 10 3 8 -2 5 -9 3 -14 0 -9 -3 -4 -5 0 -8 4 -10 4 -7 3 -5 1 -3 1 0 2 3 5 5z" fill="#181818" stroke="#f8204e"/>
<path d="M339 427l-9 -10 -5 -8 0 -7 4 -6 9 -4 6 -3 5 -1 3 0 2 1 1 3 2 5 3 8 3 11 2 8 1 7 0 4 -1 3 -2 2 -2 2 -2 1 -3 0 -4 -3 -6 -5z" fill="#104343" stroke="#ff4418"/>
<path d="M421 431l0 5 -3 3 -7 3 -11 1 -14 0 -11 -1 -7 -1 -3 -3 2 -2 2 -4 5 -4 6 -5 8 -5 7 -3 6 -1 6 1 5 4 4 3 3 4z" fill="#153746" stroke="#ff3030"/>
<path d="M405 385l-3 3 -2 4 -1 3 -1 4 1 5 1 4 3 3 4 4 6 3 5 1 6 -1 6 -2 6 -5 3 -6 -1 -5 -6 -6 -9 -6 -8 -3 -6 -2z" fill="#332a0a" stroke="#ff2626"/>
<path d="M437 411l-7 5 -4 5 -3 5 -1 5 0 4 3 4 5 2 7 2 9 0 7 -3 4 -5 3 -7 0 -11 -1 -7 -2 -5 -2 -2 -4 0 -4 1 -4 3z" fill="#260e31" stroke="#ff2a3a"/>
<circle cx="173" cy="289" r="3.2" fill="#bbb" fill-opacity="0.55"/>
<circle cx="161" cy="320" r="2.0" fill="#bbb" fill-opacity="0.55"/>
<circle cx="412" cy="224" r="1.8" fill="#bbb" fill-opacity="0.55"/>
<circle cx="135" cy="215" r="2.3" fill="#bbb" fill-opacity="0.55"/>
<circle cx="305" cy="243" r="2.6" fill="#bbb" fill-opacity="0.55"/>
<circle cx="338" cy="103" r="2.1" fill="#bbb" fill-opacity="0.55"/>
<circle cx="396" cy="183" r="3.8" fill="#bbb" fill-opacity="0.55"/>
<circle cx="444" cy="339" r="1.6" fill="#bbb" fill-opacity="0.55"/>
<circle cx="153" cy="355" r="2.0" fill="#bbb" fill-opacity="0.55"/>
<circle cx="448" cy="5" r="3.7" fill="#bbb" fill-opacity="0.55"/>
<circle cx="153" cy="220" r="2.8" fill="#bbb" fill-opacity="0.55"/>
<circle cx="41" cy="281" r="3.0" fill="#bbb" fill-opacity="0.55"/>
<circle cx="418" cy="157" r="3.9" fill="#bbb" fill-opacity="0.55"/>
<circle cx="37" cy="433" r="3.9" fill="#bbb" fill-opacity="0.55"/>
<circle cx="232" cy="412" r="2.2" fill="#bbb" fill-opacity="0.55"/>
<circle cx="213" cy="125" r="3.8" fill="#bbb" fill-opacity="0.55"/>
<circle cx="91" cy="35" r="1.5" fill="#bbb" fill-opacity="0.55"/>
<circle cx="275" cy="336" r="2.5" fill="#bbb" fill-opacity="0.55"/>
<circle cx="87" cy="400" r="3.9" fill="#bbb" fill-opacity="0.55"/>
<circle cx="49" cy="47" r="3.1" fill="#bbb" fill-opacity="0.55"/>
</g>
<clipPath id="clipb"><rect x="475" y="0" width="441" height="443"/></clipPath>
<g clip-path="url(#clipb)" stroke-width="1.6" stroke-linejoin="round">
<rect x="475" y="0" width="441" height="443" fill="#0c0a0e"/>
<path d="M509 14l-13 1 -10 0 -7 -2 -4 -3 0 -4 4 -3 7 -2 10 -1 14 0 10 1 7 1 3 3 0 3 -4 2 -7 2z" fill="#42360d" stroke="#ff2626"/>
<path d="M531 8l0 -3 5 -3 8 -1 13 -1 16 0 13 1 7 2 3 2 -2 3 -4 3 -7 2 -10 2 -12 1 -10 0 -8 0 -5 -1 -3 -1 -2 -2 -2 -2z" fill="#181818" stroke="#ff2a3a"/>
<path d="M603 18l-4 -2 -3 -2 -1 -3 0 -3 2 -3 4 -2 7 -2 9 -1 11 0 10 1 7 2 6 3 3 3 3 3 0 3 -1 2 -2 2 -4 1 -6 1 -9 0 -10 0 -9 0 -7 -1z" fill="#1d1d1d" stroke="#f8204e"/>
<path d="M697 0l-21 0 -14 1 -8 2 -2 3 3 3 6 3 7 1 9 1 11 -1 10 -1 8 -2 7 -2 6 -3 -1 -3 -8 -1z" fill="#2d0d24" stroke="#ff4418"/>
<path d="M754 9l-7 -4 -5 -2 -5 -2 -3 -1 -3 0 -3 1 -4 1 -5 3 -5 3 -3 3 -1 4 3 3 5 5 4 3 4 2 4 0 4 0 4 -1 5 -2 6 -3 6 -3 3 -4 -1 -3z" fill="#202020" stroke="#ff3030"/>
<path d="M813 8l-11 3 -9 2 -8 1 -7 0 -5 0 -6 -1 -6 -2 -6 -2 -7 -4 1 -2 8 -2 16 -1 23 0 17 0 11 1 6 0 0 1 -3 2 -6 1z" fill="#143543" stroke="#ff2626"/>
<path d="M814 8l-11 3 -7 3 -4 3 1 3 5 4 6 1 8 1 10 -2 11 -3 8 -3 3 -3 -1 -4 -5 -3 -7 -1 -8 0z" fill="#2c1139" stroke="#ff2a3a"/>
<path d="M863 0l21 0 16 1 10 1 5 2 0 3 -4 3 -7 2 -12 1 -15 2 -12 0 -8 1 -4 0 -1 0 -2 -1 -3 -1 -4 -3 -5 -3 -3 -2 -3 -2 -1 -2 0 -1 5 0 11 -1z" fill="#3a300b" stroke="#f8204e"/>
<path d="M534 14l3 1 2 2 2 2 0 3 0 3 -2 3 -3 2 -4 1 -5 1 -6 0 -8 0 -10 0 -11 -1 -8 -1 -6 -2 -2 -3 0 -3 3 -3 7 -2 10 -2 13 -1 11 0 8 0z" fill="#250e2f" stroke="#ff4418"/>
<path d="M581 30l-11 1 -8 1 -8 0 -5 0 -3 -1 -2 -1 -2 -2 0 -3 0 -3 4 -3 6 -2 9 -1 12 -1 11 0 8 0 6 1 4 3 3 2 1 2 -1 1 -3 2 -5 2 -7 1z" fill="#260e31" stroke="#ff3030"/>
<path d="M648 37l5 -4 4 -3 1 -3 -1 -2 -2 -1 -5 -2 -6 0 -9 -1 -10 1 -8 0 -7 1 -5 2 -2 1 -1 3 2 3 3 3 6 4 6 3 5 2 5 1 5 -1 5 -1 4 -2z" fill="#291035" stroke="#ff2626"/>
<path d="M681 29l13 1 10 1 8 1 4 0 2 0 1 -1 1 0 2 0 1 -1 -1 -1 -2 -3 -3 -3 -5 -4 -6 -3 -8 -2 -10 -1 -11 1 -8 1 -7 1 -5 1 -2 2 -1 1 0 2 2 2 2 1 5 2 8 1z" fill="#37102c" stroke="#ff2a3a"/>
<path d="M778 31l-15 -1 -13 -1 -9 -1 -7 0 -3 1 -3 0 -3 1 -1 0 -1 1 1 1 3 2 5 3 7 3 7 3 8 2 8 1 9 0 7 -1 7 -1 5 -2 5 -3 4 -2 2 -2 1 -1 0 0 -4 -1 -8 -1z" fill="#131540" stroke="#f8204e"/>
<path d="M779 31l-16 -2 -10 -2 -5 -2 1 -3 6 -3 6 -3 6 -1 6 -1 5 1 5 1 5 2 5 2 4 4 4 3 2 2 0 2 0 1 -5 0 -8 0z" fill="#432417" stroke="#ff4418"/>
<path d="M833 38l-12 -2 -8 -1 -6 0 -3 -1 -1 0 0 -1 0 0 1 -1 0 -1 4 -2 6 -2 8 -3 12 -3 8 -2 6 -2 4 -1 0 1 2 0 2 2 4 3 4 3 2 3 -1 3 -3 3 -5 2 -6 1 -9 1z" fill="#131541" stroke="#ff3030"/>
<path d="M865 25l-5 -3 1 -3 6 -2 10 -2 16 -1 11 0 8 2 4 3 0 4 -3 4 -6 2 -8 1 -11 0 -10 -1 -7 -1z" fill="#371e13" stroke="#ff2626"/>
<path d="M503 32l-11 -1 -8 1 -6 3 -3 5 0 6 3 5 5 2 8 1 10 -1 7 -2 6 -3 3 -4 1 -4 -2 -3 -5 -3z" fill="#2e0d25" stroke="#ff2a3a"/>
<path d="M540 54l-9 -1 -7 -2 -4 -3 -2 -4 1 -4 2 -3 3 -3 4 -2 5 0 4 -1 5 0 3 0 4 1 3 1 4 3 4 3 4 4 2 3 0 3 -2 3 -4 1 -5 1 -7 1z" fill="#3a2f0b" stroke="#f8204e"/>
<path d="M565 43l-4 -4 -1 -3 4 -3 7 -2 11 0 9 0 9 2 7 2 6 4 4 3 3 2 1 1 0 1 -3 0 -6 0 -10 1 -12 1 -10 -1 -9 -1z" fill="#0c2f09" stroke="#ff4418"/>
<path d="M649 38l5 -4 7 -3 9 -2 11 0 13 2 8 1 3 3 -3 4 -7 4 -6 3 -4 2 -2 2 0 0 -3 -1 -5 0 -8 -2 -10 -1 -7 -2 -2 -3z" fill="#11133b" stroke="#ff3030"/>
<path d="M734 52l6 -2 7 -2 7 -2 8 0 8 0 7 1 6 1 4 2 3 2 -2 3 -5 2 -9 2 -13 3 -11 2 -8 1 -5 0 -2 0 -2 -1 -2 -1 -2 -2 -2 -2 0 -2 3 -2z" fill="#222222" stroke="#ff2626"/>
<path d="M695 43l8 -4 6 -3 4 -3 3 -1 2 0 3 1 4 1 6 3 7 3 4 4 1 3 -3 2 -7 3 -7 2 -8 0 -9 0 -10 -2 -5 -2 -2 -3z" fill="#362d0a" stroke="#ff2a3a"/>
<path d="M832 38l-11 -1 -10 0 -8 0 -7 2 -5 3 -3 3 -1 2 1 3 3 2 3 2 3 2 4 1 5 1 3 1 3 1 1 0 1 0 2 -1 5 0 8 -2 10 -1 7 -2 6 -2 4 -1 1 -1 1 -2 -1 -1 -1 -2 -3 -2 -5 -2 -7 -2z" fill="#403b0c" stroke="#f8204e"/>
<path d="M858 36l5 -2 7 -2 8 -1 10 -1 11 0 8 1 6 2 2 3 0 5 -3 3 -7 2 -10 1 -14 0 -11 0 -8 -1 -5 -1 -3 -2 -1 -2 2 -3z" fill="#3b112f" stroke="#ff4418"/>
<path d="M555 67l-4 1 -7 1 -10 1 -14 0 -18 0 -13 -1 -9 -2 -4 -2 0 -4 2 -3 5 -2 8 -2 10 -1 10 -1 10 0 9 1 10 1 7 2 6 2 3 2 2 2 0 2 -1 2z" fill="#0e380b" stroke="#ff3030"/>
<path d="M572 67l8 1 7 0 8 0 8 0 9 -2 6 -2 3 -3 2 -4 -1 -4 -4 -3 -6 -2 -10 -1 -12 1 -10 1 -9 1 -6 2 -4 2 -3 1 -1 2 0 3 2 2 3 2 4 2z" fill="#2b2308" stroke="#ff2626"/>
<path d="M638 66l8 1 8 0 7 -2 7 -3 5 -5 2 -4 -2 -3 -6 -2 -11 -2 -8 -1 -8 0 -6 -1 -5 1 -3 0 -3 0 -1 1 0 0 0 1 0 2 1 4 1 4 2 4 5 3z" fill="#202020" stroke="#ff2a3a"/>
<path d="M661 69l0 1 2 0 4 0 6 1 8 1 8 0 8 -1 10 -1 9 -2 7 -3 4 -2 1 -2 -2 -2 -4 -1 -6 -2 -7 -2 -10 -2 -8 -1 -5 -1 -3 0 0 0 -2 1 -3 3 -4 3 -6 5 -4 4 -2 2z" fill="#220d2c" stroke="#f8204e"/>
<path d="M805 65l-5 4 -6 2 -7 2 -7 1 -8 1 -7 -1 -7 -1 -5 -1 -5 -3 0 -2 4 -3 9 -2 13 -2 11 -2 9 -1 7 0 4 2 3 1 -1 2z" fill="#262626" stroke="#ff4418"/>
<path d="M863 57l7 3 3 3 0 3 -4 3 -7 2 -7 2 -8 -1 -9 -2 -9 -4 -5 -3 0 -3 5 -3 10 -1 9 -1 8 1z" fill="#472619" stroke="#ff3030"/>
<path d="M859 82l-3 -1 -2 -1 -2 -1 0 -1 0 -1 2 -1 3 -2 6 -2 6 -3 8 -2 8 -1 8 -1 9 1 7 1 4 1 2 2 0 3 -3 2 -6 2 -10 2 -13 2 -10 1 -8 0z" fill="#2f1910" stroke="#ff2626"/>
<path d="M858 50l-1 1 0 2 2 2 5 2 6 3 7 3 8 1 8 1 9 0 7 -1 4 -2 3 -3 0 -5 -4 -3 -7 -3 -10 -1 -14 0 -11 1 -7 1z" fill="#2c2408" stroke="#ff2a3a"/>
<path d="M515 87l-16 -2 -12 -1 -8 -3 -3 -2 0 -4 4 -2 9 -2 13 -1 17 0 13 1 8 3 3 3 -2 5 -5 3 -9 1z" fill="#3d380c" stroke="#f8204e"/>
<path d="M555 68l-3 1 -3 2 -3 2 -2 4 -2 5 -1 3 1 3 1 2 2 1 4 0 8 -1 10 -1 13 -2 9 -3 6 -2 1 -4 -2 -3 -4 -3 -5 -2 -6 -2 -7 -1 -7 0 -5 0z" fill="#202020" stroke="#ff4418"/>
<path d="M595 75l2 3 4 3 5 3 7 2 9 2 8 0 7 -2 7 -3 7 -5 5 -4 3 -3 1 -1 0 0 -3 -1 -4 -1 -7 -1 -8 -1 -9 0 -8 0 -9 0 -8 2 -6 2 -3 2z" fill="#092507" stroke="#ff3030"/>
<path d="M651 78l-6 5 -5 4 -3 2 -2 2 1 0 4 0 9 0 13 0 17 0 13 0 9 0 5 -1 2 0 -1 -1 -1 -3 -3 -3 -5 -4 -5 -3 -6 -2 -7 -2 -7 -1 -8 1 -7 2z" fill="#48420e" stroke="#ff2626"/>
<path d="M699 79l5 4 5 3 7 2 8 0 10 0 8 -2 6 -1 4 -3 3 -2 1 -3 -1 -3 -3 -2 -5 -3 -4 -1 -3 -2 -3 -1 -2 0 -4 0 -6 1 -8 2 -10 2 -6 2 -3 4z" fill="#290f34" stroke="#ff2a3a"/>
<path d="M764 91l-6 -2 -4 -2 -2 -2 1 -2 3 -3 4 -2 5 -2 7 -1 8 0 8 0 7 1 6 1 6 3 3 2 1 2 -1 3 -4 3 -5 2 -5 1 -6 1 -7 0 -7 -1 -6 -1z" fill="#3e1232" stroke="#f8204e"/>
<path d="M851 78l0 -1 -2 -2 -5 -2 -7 -3 -9 -4 -7 -3 -5 -2 -2 -1 -1 0 -1 1 -3 2 -4 2 -5 4 -2 3 1 3 3 2 6 2 6 2 7 1 8 -1 9 0 6 -1 5 -1z" fill="#441437" stroke="#ff4418"/>
<path d="M868 89l-1 -3 2 -2 5 -1 9 -2 13 -2 10 0 6 2 4 3 0 5 -3 4 -6 2 -8 0 -11 -1 -9 -2 -7 -1z" fill="#2d113a" stroke="#ff3030"/>
<path d="M547 94l0 2 -2 1 -5 2 -8 2 -10 3 -10 2 -9 1 -8 0 -8 0 -6 -2 -3 -3 -2 -4 0 -6 4 -4 7 -2 12 0 16 1 12 1 9 1 6 1 2 1 1 1 1 1z" fill="#2d180f" stroke="#ff2626"/>
<path d="M548 94l0 2 2 1 4 2 5 2 8 2 9 0 10 0 13 -2 14 -3 11 -3 7 -2 3 -1 1 0 0 0 0 -1 -1 0 0 0 -2 -1 -5 -1 -6 -1 -8 -2 -10 0 -11 0 -11 1 -13 2 -10 2 -7 2z" fill="#0f2732" stroke="#ff2a3a"/>
<path d="M580 109l-1 -1 3 -2 7 -2 10 -3 14 -3 12 -1 9 0 7 2 4 5 2 3 1 3 -1 2 -2 1 -6 1 -8 0 -12 -1 -15 -1 -11 -1 -8 -1z" fill="#0e2630" stroke="#f8204e"/>
<path d="M641 99l5 5 6 3 9 2 12 0 13 0 11 -1 6 -3 3 -3 -1 -4 -4 -3 -9 -2 -13 -1 -17 0 -13 0 -9 0 -4 0 -1 0 1 2 2 2z" fill="#153847" stroke="#ff4418"/>
<path d="M736 115l-3 0 -4 -1 -4 0 -4 -2 -5 -1 -4 -3 -3 -2 -2 -4 -1 -4 0 -3 0 -3 1 -1 1 -1 4 0 5 -1 7 -1 10 0 9 0 7 0 7 2 6 1 3 3 -1 3 -5 5 -8 5 -7 4 -5 3z" fill="#2c2408" stroke="#ff3030"/>
<path d="M833 102l-7 0 -6 0 -7 2 -7 3 -7 3 -4 4 0 2 2 2 5 2 6 1 8 0 9 0 11 -1 8 -1 6 -2 4 -1 1 -2 0 -2 -1 -2 -2 -2 -4 -2 -4 -2 -6 -1z" fill="#0c3333" stroke="#ff2626"/>
<path d="M833 102l-7 -1 -6 0 -5 -1 -4 -2 -4 -1 -2 -2 0 -2 2 -3 4 -3 5 -2 6 -2 8 -1 8 -1 7 -1 6 0 4 1 4 1 2 1 3 2 2 1 2 3 -1 2 -2 2 -5 3 -7 3 -7 2 -7 1z" fill="#310e27" stroke="#ff2a3a"/>
<path d="M853 99l7 -3 8 -2 9 0 11 0 11 1 8 2 6 2 2 2 0 3 -3 3 -7 2 -11 1 -14 1 -12 0 -9 -1 -6 -2 -4 -2 -1 -2 1 -3z" fill="#0f2934" stroke="#f8204e"/>
<path d="M475 117l0 7 4 4 7 3 12 0 14 -2 10 -3 4 -3 -2 -4 -7 -5 -8 -3 -7 -2 -8 -1 -7 -1 -6 2 -4 3z" fill="#160f26" stroke="#ff4418"/>
<path d="M579 109l-1 -1 -2 -2 -4 -1 -6 -2 -7 -2 -8 -1 -9 0 -10 2 -10 2 -6 3 -1 3 2 4 8 5 6 3 4 2 4 1 2 1 3 0 4 -1 4 -1 6 -1 5 -1 5 -2 4 -2 4 -3 2 -2 1 -2z" fill="#114747" stroke="#ff3030"/>
<path d="M604 113l15 1 11 1 8 2 4 3 0 3 -1 3 -3 2 -5 1 -7 1 -8 0 -9 0 -11 -2 -12 -2 -8 -3 -5 -2 0 -3 3 -3 7 -2 9 0z" fill="#251e07" stroke="#ff2626"/>
<path d="M648 129l2 0 4 1 7 0 9 0 10 -1 10 -1 9 -2 9 -2 8 -4 4 -3 2 -2 -2 -2 -5 -2 -7 -1 -10 -1 -11 0 -14 1 -11 0 -9 1 -5 1 -2 1 -2 2 -1 2 0 3 0 3 1 3 2 2z" fill="#2a0c21" stroke="#ff2a3a"/>
<path d="M736 115l-3 0 -4 1 -6 2 -6 2 -8 4 -4 3 -1 4 3 4 7 3 7 3 6 2 7 1 8 -1 6 0 5 -1 4 -1 3 -1 1 -2 -1 -3 -4 -5 -5 -6 -5 -4 -3 -3 -2 -1 0 0 -1 -1 -2 0z" fill="#0f3b0b" stroke="#f8204e"/>
<path d="M753 107l8 -5 7 -4 8 -3 7 -1 7 0 6 1 5 1 5 1 4 1 1 3 -1 2 -5 4 -6 3 -8 3 -10 2 -10 1 -11 0 -9 -1 -6 0 -3 0 -1 0 2 -1 4 -3z" fill="#230d2d" stroke="#ff4418"/>
<path d="M880 111l14 -1 11 1 7 2 3 4 0 5 -3 4 -7 1 -10 0 -13 -1 -11 -2 -8 -1 -5 -1 -2 -2 -1 -1 -1 -1 1 -2 1 -2 5 -1 8 -1z" fill="#282828" stroke="#ff3030"/>
<path d="M878 139l15 -3 11 -1 8 -2 3 -1 0 -1 -3 -1 -7 -1 -10 -1 -13 -2 -11 0 -9 1 -6 2 -3 3 -2 3 -1 2 1 2 2 1 5 1 9 -1z" fill="#124a4a" stroke="#ff2626"/>
<path d="M514 148l-15 -3 -12 -2 -8 -2 -3 -2 0 -2 3 -2 8 -2 11 -2 15 -2 11 -2 9 -1 5 0 2 0 3 1 2 3 3 3 3 5 2 4 -1 3 -3 3 -5 1 -8 0 -10 0z" fill="#150e24" stroke="#ff2a3a"/>
<path d="M558 124l-5 1 -4 2 -1 3 1 3 3 5 5 4 6 2 8 2 9 0 8 -1 7 -2 7 -2 5 -4 1 -3 -3 -3 -8 -3 -12 -2 -10 -2 -9 0z" fill="#3e2115" stroke="#f8204e"/>
<path d="M647 129l2 1 3 1 2 3 2 4 3 5 1 4 0 3 0 1 -1 1 -4 0 -7 0 -9 0 -11 0 -10 0 -8 -1 -6 -1 -4 -2 -1 -2 1 -2 3 -3 5 -4 6 -3 6 -2 7 -1 6 -1 6 -1 5 0z" fill="#3c1230" stroke="#ff4418"/>
<path d="M680 130l-10 0 -8 1 -4 3 -1 4 2 5 5 3 8 3 10 1 13 -1 10 -1 7 0 5 -1 2 -1 1 -2 -3 -2 -4 -3 -7 -4 -7 -3 -9 -2z" fill="#1f0c28" stroke="#ff3030"/>
<path d="M751 124l6 6 6 4 5 3 6 1 5 0 6 -1 5 0 4 -1 5 -2 3 -1 3 -2 1 -2 1 -3 0 -2 -2 -2 -4 -2 -5 -1 -7 -2 -8 0 -10 -1 -11 0 -7 1 -3 3z" fill="#3f330c" stroke="#ff2626"/>
<path d="M847 151l-2 1 -4 0 -4 0 -4 0 -5 0 -6 -1 -7 -2 -7 -3 -8 -3 -5 -3 -1 -2 1 -2 4 -2 6 0 8 0 8 0 11 1 8 2 6 1 4 1 2 1 2 2 0 1 0 2 -1 2 -1 2 -2 1z" fill="#45400d" stroke="#ff2a3a"/>
<path d="M808 126l-1 3 2 2 5 1 7 2 11 1 8 0 7 -1 5 -2 4 -3 2 -3 0 -3 0 -1 -3 -2 -4 0 -7 0 -8 0 -11 1 -8 2 -6 1z" fill="#0c0d29" stroke="#f8204e"/>
<path d="M884 152l12 0 10 -1 6 -3 3 -3 0 -5 -3 -3 -8 -1 -11 1 -15 2 -11 2 -8 2 -4 2 -1 3 0 1 1 2 2 1 3 0 6 0 7 1z" fill="#361546" stroke="#ff4418"/>
<path d="M513 162l-15 3 -11 0 -8 -2 -4 -4 0 -7 4 -4 8 -2 11 0 15 2 12 2 7 2 4 2 0 2 -4 1 -8 3z" fill="#153948" stroke="#ff3030"/>
<path d="M579 171l-8 -1 -7 -1 -7 -2 -6 -2 -6 -3 -4 -2 -3 -3 -1 -1 0 -2 1 -2 3 -1 4 -2 5 -1 6 -1 7 -1 8 0 9 0 8 1 6 0 5 2 4 1 2 3 0 3 -1 3 -4 5 -3 3 -3 3 -1 1 -1 0 -3 0 -4 0z" fill="#451437" stroke="#ff2626"/>
<path d="M659 168l3 0 1 -2 0 -2 -1 -3 -2 -3 -5 -3 -7 -1 -9 -1 -11 0 -10 1 -8 2 -5 3 -4 5 1 3 5 2 11 1 15 0 12 0 9 -1z" fill="#211637" stroke="#ff2a3a"/>
<path d="M681 184l12 2 10 -1 6 -1 4 -4 0 -4 -2 -4 -6 -3 -9 -1 -12 -1 -10 0 -7 0 -5 1 -2 1 -1 1 -1 2 1 3 1 3 4 2 7 3z" fill="#270f32" stroke="#f8204e"/>
<path d="M762 150l7 4 4 4 3 3 0 2 -1 1 -4 1 -7 1 -9 0 -13 0 -10 -1 -7 -3 -5 -3 -2 -4 -1 -4 0 -2 1 -2 2 -1 4 -1 5 -1 6 0 7 0 7 0 7 2z" fill="#242424" stroke="#ff4418"/>
<path d="M804 155l-10 2 -9 1 -9 -1 -7 -3 -6 -4 -4 -4 -2 -3 1 -2 3 -1 4 0 4 -1 5 -1 5 0 6 1 7 1 7 3 8 3 4 4 -1 2z" fill="#3c2115" stroke="#ff3030"/>
<path d="M832 152l-5 0 -6 1 -8 1 -8 1 -11 3 -8 2 -5 1 -4 2 -1 1 0 2 0 1 1 1 2 1 4 1 5 1 7 1 9 1 8 1 5 0 4 0 3 -1 3 -1 2 -3 3 -4 3 -5 1 -4 -1 -2z" fill="#49430e" stroke="#ff2626"/>
<path d="M904 171l-8 0 -6 1 -6 2 -4 4 -3 4 0 4 4 3 8 2 10 2 9 -1 5 -2 3 -4 0 -6 -2 -5 -4 -3z" fill="#272727" stroke="#ff2a3a"/>
<path d="M544 162l6 3 1 3 -2 3 -7 4 -11 3 -11 2 -10 2 -10 0 -10 0 -7 -1 -5 -2 -2 -3 0 -3 3 -3 8 -2 11 -3 15 -3 12 -1 11 0z" fill="#120c1f" stroke="#f8204e"/>
<path d="M622 182l-13 -4 -9 -2 -6 -2 -3 -2 0 0 0 0 1 0 0 0 1 -1 5 0 8 0 12 0 15 -1 12 1 8 1 5 3 1 3 0 2 -2 3 -4 1 -5 2 -7 0 -9 -1z" fill="#101135" stroke="#ff4418"/>
<path d="M635 192l-2 3 -5 1 -8 0 -10 -1 -12 -3 -9 -3 -4 -3 -1 -3 3 -4 5 -2 7 0 10 2 12 3 9 4 4 3z" fill="#0d242d" stroke="#ff3030"/>
<path d="M660 158l3 3 4 3 7 2 10 1 12 0 10 1 7 0 5 -1 2 0 1 -2 0 -2 -2 -4 -2 -4 -5 -3 -7 -2 -10 -1 -13 1 -10 0 -7 1 -4 0 -2 1 0 1 0 2z" fill="#153948" stroke="#ff2626"/>
<path d="M778 169l-2 -1 -4 -1 -8 0 -9 -1 -13 0 -10 0 -7 0 -5 1 -2 0 -1 2 -2 3 -1 4 0 4 -1 4 0 3 0 1 0 0 3 0 5 0 7 0 9 0 9 -1 9 -2 7 -3 8 -4 5 -4 3 -3z" fill="#104343" stroke="#ff2a3a"/>
<path d="M870 159l4 5 -1 3 -4 2 -9 2 -12 0 -9 0 -5 -3 -1 -3 3 -5 3 -4 3 -3 3 -1 3 -1 3 0 3 0 3 1 3 0 3 2 3 2z" fill="#32290a" stroke="#f8204e"/>
<path d="M881 171l1 0 0 1 0 2 -3 4 -3 4 -2 3 -2 2 -1 1 -1 0 -3 0 -6 -1 -9 -2 -12 -2 -9 -2 -7 -2 -3 -1 -1 -1 0 -1 0 -1 2 -1 3 0 5 -1 7 -1 11 0 12 -1 10 0 7 0z" fill="#403b0c" stroke="#ff4418"/>
<path d="M870 160l4 4 3 3 3 2 2 1 1 1 3 0 4 0 6 0 8 0 6 -2 4 -2 2 -4 0 -4 -4 -4 -6 -2 -9 -1 -13 1 -9 1 -4 2z" fill="#2e2a09" stroke="#ff3030"/>
<path d="M526 188l7 3 6 2 4 2 1 2 0 2 -1 1 -1 2 -2 1 -3 1 -5 2 -9 1 -11 1 -15 1 -11 -1 -7 -3 -3 -5 0 -8 2 -5 5 -3 7 -2 10 1 9 1 8 1z" fill="#19112b" stroke="#ff2626"/>
<path d="M586 179l-3 4 -4 3 -6 3 -7 2 -8 1 -8 1 -8 -1 -8 -2 -8 -2 -3 -3 2 -4 7 -3 11 -3 10 -3 9 -1 9 -1 8 1 5 1 4 0 2 0 0 1 0 1 -2 2z" fill="#0f3b0b" stroke="#ff2a3a"/>
<path d="M629 199l0 1 0 0 -1 1 -2 2 -2 2 -1 1 -2 1 -1 0 -1 0 -6 0 -9 -1 -14 -1 -18 -1 -14 -2 -8 -1 -5 -2 1 -2 2 -1 4 -2 6 -1 9 -2 9 -1 10 1 12 1 12 3 9 2 7 1z" fill="#1b122f" stroke="#f8204e"/>
<path d="M636 192l-2 3 -2 2 -2 1 0 1 0 1 5 0 8 0 13 0 18 0 13 -1 11 -1 6 -2 4 -3 2 -2 2 -2 0 -1 0 0 -3 0 -7 -1 -9 -1 -12 -1 -11 -1 -9 0 -7 1 -6 1 -4 2 -4 2z" fill="#1e1e1e" stroke="#ff4418"/>
<path d="M628 210l4 2 6 2 7 1 8 1 10 1 9 0 8 -1 8 -2 6 -4 5 -3 2 -2 1 -2 -1 -1 -5 -1 -9 0 -13 -1 -18 0 -13 1 -10 1 -6 1 -2 2 0 1 1 2z" fill="#282828" stroke="#ff3030"/>
<path d="M814 186l-5 4 -6 3 -5 2 -6 1 -6 0 -6 0 -6 -1 -6 -1 -6 -2 -3 -3 0 -3 4 -4 8 -4 7 -3 9 -2 8 0 9 1 7 1 5 1 3 1 1 1 -1 2 -2 3z" fill="#150e24" stroke="#ff2626"/>
<path d="M915 198l0 -1 -2 -1 -6 -2 -8 -1 -11 -2 -8 -1 -6 -1 -3 0 0 0 -3 1 -5 1 -6 3 -10 4 -4 3 0 2 6 2 10 2 10 0 10 0 10 -2 11 -2 8 -2 5 -2z" fill="#38112d" stroke="#ff2a3a"/>
<path d="M840 183l12 2 6 3 2 3 -4 3 -9 4 -7 2 -5 2 -3 1 0 0 -3 0 -4 -1 -5 -1 -7 -2 -5 -2 -1 -3 2 -4 5 -4 7 -2 9 -1z" fill="#251e07" stroke="#f8204e"/>
<path d="M550 231l5 -1 4 -1 2 -1 2 -1 0 -1 -2 -2 -3 -3 -6 -3 -7 -5 -9 -3 -11 -1 -13 0 -14 1 -11 1 -8 2 -3 1 0 2 4 3 8 2 13 3 16 4 14 2 11 1z" fill="#302809" stroke="#ff4418"/>
<path d="M597 214l-13 4 -12 2 -10 0 -9 -3 -8 -4 -4 -3 -3 -3 0 -2 3 -2 6 0 10 0 14 1 19 1 10 3 2 2z" fill="#3e2215" stroke="#ff3030"/>
<path d="M681 221l1 1 1 2 0 1 -1 2 -2 3 -5 2 -8 1 -12 0 -14 0 -10 -2 -5 -2 0 -3 5 -4 6 -3 8 -2 8 0 10 1 8 1 6 1z" fill="#42360d" stroke="#ff2626"/>
<path d="M768 203l-5 4 -7 3 -9 1 -11 -1 -12 -2 -10 -2 -7 -2 -4 -1 -1 -1 0 -2 1 -2 2 -2 4 -3 4 -2 7 -2 8 0 9 0 9 0 8 1 7 2 6 2 4 2 0 3z" fill="#210c2a" stroke="#ff2a3a"/>
<path d="M683 238l-2 -2 -1 -2 0 -2 1 -2 2 -2 5 -2 8 -1 11 -1 14 0 10 1 8 1 4 2 2 2 0 2 -1 2 -2 2 -4 1 -6 1 -7 1 -10 1 -12 0 -9 0 -7 -1z" fill="#34300a" stroke="#f8204e"/>
<path d="M769 203l-5 4 -4 3 -3 3 -1 1 0 1 4 0 7 1 11 1 14 1 11 0 9 -1 7 -3 4 -4 2 -4 -1 -3 -5 -2 -7 -2 -7 -1 -7 -1 -6 0 -6 0 -5 1 -6 2z" fill="#173d4e" stroke="#ff4418"/>
<path d="M854 222l-16 -1 -12 0 -8 0 -4 -1 -1 0 1 -1 2 -2 4 -3 4 -4 4 -3 2 -2 2 -1 0 -1 3 1 5 1 8 1 10 1 8 2 5 2 4 3 1 3 -3 3 -8 1z" fill="#361d13" stroke="#ff3030"/>
<path d="M877 217l-2 -3 2 -3 5 -3 7 -2 11 -3 8 0 5 2 3 4 0 7 -2 4 -5 3 -6 2 -9 -1 -6 0 -5 -1 -3 0 0 0 -1 -1 -1 -2z" fill="#19102a" stroke="#ff2626"/>
<path d="M500 224l17 4 12 3 7 2 2 2 -3 2 -5 1 -8 1 -11 1 -14 1 -11 0 -7 -3 -4 -4 0 -6 5 -3 8 -2z" fill="#0c3009" stroke="#ff2a3a"/>
<path d="M550 232l5 -1 6 -1 7 1 8 1 9 1 6 2 3 3 0 4 -3 5 -4 4 -4 3 -6 2 -5 1 -6 1 -5 0 -5 -1 -5 -1 -4 -1 -4 -3 -3 -3 -3 -4 -2 -3 0 -3 1 -2 3 -2 3 -1 4 -1z" fill="#102a35" stroke="#f8204e"/>
<path d="M628 210l4 2 1 3 0 3 -3 4 -5 4 -4 3 -4 3 -3 1 -2 1 -3 0 -2 1 -2 0 -3 0 -4 0 -5 -1 -7 -1 -9 -2 -7 -1 -4 -2 -2 -1 0 -1 3 -2 7 -3 10 -3 13 -4 11 -3 7 -2 4 -1 1 0 2 0 2 1z" fill="#0b2d2d" stroke="#ff4418"/>
<path d="M632 243l-10 -3 -6 -3 -3 -2 -1 -1 3 -1 6 0 8 0 12 0 14 0 12 1 8 1 5 1 2 2 1 2 1 1 0 1 -1 0 -3 1 -5 1 -7 1 -9 2 -9 0 -9 -1z" fill="#1e0b27" stroke="#ff3030"/>
<path d="M723 208l13 2 9 2 7 1 3 1 0 1 0 1 -2 1 -2 2 -4 2 -6 2 -9 1 -11 0 -14 0 -11 0 -8 -1 -5 -1 -2 -1 1 -2 2 -2 4 -3 7 -4 8 -2 9 -1z" fill="#134c4c" stroke="#ff2626"/>
<path d="M765 235l11 1 9 1 8 0 7 0 4 -1 4 -2 2 -2 2 -3 0 -3 1 -3 0 -1 0 -1 -1 -1 -3 0 -7 -1 -11 0 -13 -2 -12 0 -8 1 -6 1 -4 2 -2 3 -2 2 1 2 1 2 4 2 6 2z" fill="#402316" stroke="#ff2a3a"/>
<path d="M870 230l-7 4 -8 3 -9 1 -9 0 -10 -1 -7 -2 -5 -3 -2 -3 0 -3 5 -3 8 -1 12 -1 16 1 12 0 8 0 5 1 1 0 -1 1 -4 3z" fill="#321340" stroke="#f8204e"/>
<path d="M871 230l-8 4 -5 4 -3 2 -1 2 1 0 5 1 8 0 11 -1 15 0 11 -2 7 -2 4 -3 0 -4 -3 -3 -4 -2 -6 -1 -9 -1 -8 1 -8 2z" fill="#0c3333" stroke="#ff4418"/>
<path d="M536 245l3 4 -2 3 -7 3 -12 2 -17 2 -13 0 -8 -2 -5 -3 0 -4 4 -4 7 -3 11 -1 14 -1 11 0 8 1z" fill="#2f123d" stroke="#ff3030"/>
<path d="M644 266l-1 0 -6 1 -9 1 -14 1 -19 1 -14 0 -9 0 -6 -3 -1 -3 1 -3 2 -2 4 -2 6 -1 8 -1 8 0 11 0 12 1 10 1 7 2 5 1 3 2 1 2 1 1z" fill="#0e0f2f" stroke="#ff2626"/>
<path d="M681 262l7 -2 4 -3 1 -3 -1 -3 -4 -3 -5 -2 -7 -1 -8 0 -9 2 -7 1 -6 2 -4 2 -2 2 -2 2 1 2 1 2 3 2 3 2 5 1 5 1 6 0 7 -1 6 -1z" fill="#242424" stroke="#ff2a3a"/>
<path d="M684 242l1 0 3 -1 6 0 9 -1 12 0 10 1 7 2 5 3 4 4 2 3 1 2 1 2 -1 0 -3 0 -6 0 -9 0 -11 -1 -9 -1 -8 -2 -5 -2 -4 -3 -3 -3 -2 -1z" fill="#0f1033" stroke="#f8204e"/>
<path d="M741 250l-3 -4 -1 -4 0 -3 2 -2 3 -1 6 -1 7 0 9 0 12 2 8 2 4 2 2 3 -1 3 -4 3 -6 2 -8 2 -10 1 -8 -1 -7 -1z" fill="#141643" stroke="#ff4418"/>
<path d="M841 254l6 -2 4 -2 3 -2 2 -1 0 -2 0 -1 -1 -1 0 0 -2 -1 -3 -1 -5 -1 -8 -2 -10 -1 -9 -1 -7 0 -6 0 -5 1 -4 2 -3 2 -2 3 -2 3 1 3 3 3 4 2 7 2 7 1 5 1 5 0 5 -1 5 0 5 -2z" fill="#0f3d3d" stroke="#ff3030"/>
<path d="M857 247l0 -2 4 -1 7 -1 11 0 15 -1 11 0 7 2 4 3 0 3 -2 3 -2 2 -4 2 -5 0 -6 0 -7 -1 -9 -2 -10 -2 -7 -2 -5 -2z" fill="#143443" stroke="#ff2626"/>
<path d="M880 266l7 -3 5 -3 6 -2 5 -1 5 0 4 1 2 2 2 4 0 5 -3 4 -5 3 -7 1 -10 -1 -8 0 -5 0 -3 0 -1 -1 0 0 -1 -1 -1 -1 0 0 1 -2 3 -2z" fill="#2b170f" stroke="#ff2a3a"/>
<path d="M501 291l16 -3 13 -2 9 -2 5 -1 2 -2 -4 -2 -8 -2 -13 -2 -18 -3 -14 0 -9 2 -4 4 0 7 4 4 8 2z" fill="#150e24" stroke="#f8204e"/>
<path d="M501 259l17 -1 14 -1 11 -1 8 1 4 1 4 1 3 3 2 2 1 3 1 3 1 2 0 1 0 0 -2 0 -2 1 -4 1 -4 1 -8 1 -11 -1 -15 -1 -18 -3 -14 -2 -9 -2 -4 -2 0 -2 4 -2 9 -1z" fill="#210c2a" stroke="#ff4418"/>
<path d="M617 256l-12 -1 -8 -2 -5 -2 -1 -4 3 -5 3 -3 3 -2 2 -2 3 0 4 1 5 2 8 2 9 4 6 3 4 2 0 3 -2 2 -5 1 -7 1z" fill="#0f390b" stroke="#ff3030"/>
<path d="M681 270l7 3 2 3 -3 3 -7 3 -12 3 -11 3 -8 1 -7 0 -4 -1 -3 -1 -1 -3 1 -4 2 -5 3 -4 2 -3 1 -1 2 -1 2 0 4 0 5 0 6 0 7 1 6 1z" fill="#0d320a" stroke="#ff2626"/>
<path d="M682 270l7 3 5 2 3 1 2 1 0 0 3 -1 6 -1 8 -2 11 -3 8 -2 5 -3 3 -2 0 -2 -3 -2 -6 -1 -8 -1 -11 -1 -10 1 -9 1 -7 2 -7 2 -3 3 0 3z" fill="#160f25" stroke="#ff2a3a"/>
<path d="M803 257l-6 -2 -8 -1 -8 0 -10 0 -10 1 -7 1 -6 0 -3 1 0 0 -1 1 0 1 0 2 0 2 2 2 5 3 7 2 9 3 8 2 7 1 5 1 3 0 4 -1 4 -2 4 -3 5 -5 2 -4 -2 -3z" fill="#4a2819" stroke="#f8204e"/>
<path d="M847 263l9 3 7 3 5 2 3 2 0 1 -4 1 -8 1 -13 1 -18 1 -13 1 -10 0 -5 0 -1 -1 0 -1 1 -3 3 -3 5 -5 4 -3 5 -3 4 -1 5 0 6 0 7 2z" fill="#433d0d" stroke="#ff4418"/>
<path d="M842 255l5 -3 7 -1 8 0 9 1 10 2 5 3 2 2 -2 3 -6 4 -7 2 -8 0 -8 -2 -10 -3 -5 -3 -2 -3z" fill="#0f3b0b" stroke="#ff3030"/>
<path d="M498 303l15 2 13 1 11 -1 9 0 7 -2 4 -3 1 -2 -2 -3 -6 -4 -8 -2 -11 -1 -14 1 -16 2 -13 2 -8 2 -4 2 0 1 3 2 8 1z" fill="#322e0a" stroke="#ff2626"/>
<path d="M601 282l-14 -3 -11 -3 -9 -1 -7 0 -5 1 -3 2 -3 1 -2 2 -2 2 1 2 2 3 3 3 6 3 5 3 5 2 5 1 5 1 5 -1 8 -2 8 -2 9 -3 4 -4 -2 -3z" fill="#1f1f1f" stroke="#ff2a3a"/>
<path d="M634 280l3 -5 -3 -4 -7 -2 -13 0 -19 2 -13 1 -10 0 -4 1 0 0 3 1 7 2 10 3 14 3 10 3 8 2 5 1 2 0 2 -2 2 -2z" fill="#151747" stroke="#f8204e"/>
<path d="M657 294l-3 -1 1 -2 5 -3 8 -3 12 -3 9 -2 7 -2 3 -1 0 0 2 1 4 2 5 2 7 3 5 2 4 2 2 2 0 1 -2 1 -4 2 -6 2 -8 1 -8 1 -9 1 -8 -1 -9 -1 -7 -1 -6 -1z" fill="#0c3333" stroke="#ff4418"/>
<path d="M717 273l10 -3 11 -1 10 0 10 1 9 3 4 3 -2 3 -8 3 -13 3 -12 1 -10 0 -8 -1 -7 -3 -3 -3 2 -3z" fill="#0e3838" stroke="#ff3030"/>
<path d="M790 278l-3 -1 -6 1 -9 2 -10 2 -14 3 -10 2 -6 2 -3 2 0 1 2 2 4 1 7 2 8 2 7 1 5 1 4 1 2 0 4 -2 5 -2 7 -3 8 -4 6 -4 3 -2 2 -2 -1 -1 -1 -1 -1 -1 -1 -1 -1 0 -2 -1 -3 0z" fill="#0f3e3e" stroke="#ff2626"/>
<path d="M803 282l1 1 2 1 5 2 6 2 9 3 8 2 8 1 7 0 7 0 6 -2 4 -2 4 -3 2 -4 1 -4 1 -2 0 -1 -1 0 -4 0 -10 0 -13 1 -18 1 -13 1 -8 1z" fill="#402316" stroke="#ff2a3a"/>
<path d="M905 300l-6 0 -7 -1 -6 -1 -6 -1 -5 -2 -3 -2 -2 -3 0 -3 3 -4 4 -4 6 -2 8 0 10 0 7 2 5 3 3 4 0 6 -2 4 -3 3z" fill="#330f29" stroke="#f8204e"/>
<path d="M475 309l0 6 4 4 8 2 11 1 15 0 11 -1 8 -2 4 -3 0 -3 -4 -3 -7 -3 -12 -2 -15 -2 -11 0 -8 2z" fill="#3a300b" stroke="#ff4418"/>
<path d="M564 326l-5 0 -4 0 -5 0 -4 -1 -4 -2 -3 -2 -2 -2 0 -3 0 -3 1 -3 4 -3 5 -2 7 -2 6 -1 6 -1 6 0 4 0 5 1 4 1 4 1 4 2 1 3 -1 3 -5 3 -7 4 -6 3 -6 2z" fill="#272727" stroke="#ff3030"/>
<path d="M621 311l-9 -1 -7 -1 -6 -1 -5 -2 -4 -2 0 -2 3 -3 6 -3 9 -3 8 -2 5 -2 4 -1 2 0 3 0 3 0 4 1 5 0 4 1 4 2 3 1 3 1 0 3 -2 2 -4 4 -7 4 -7 2 -7 2z" fill="#131542" stroke="#ff2626"/>
<path d="M644 307l6 -4 8 -3 7 -1 9 0 8 1 7 1 5 2 2 2 1 3 -2 3 -4 2 -6 2 -9 1 -9 1 -8 0 -7 -1 -7 -1 -6 -1 -3 -1 -2 0 0 0 1 -1 4 -2z" fill="#0e3a3a" stroke="#ff2a3a"/>
<path d="M709 315l6 2 6 1 6 1 4 0 5 1 4 -1 5 -2 4 -4 5 -4 2 -4 -2 -3 -5 -3 -8 -2 -9 -1 -8 0 -8 1 -8 2 -5 2 -4 2 -2 2 1 3 2 3 4 2z" fill="#114747" stroke="#f8204e"/>
<path d="M801 307l-12 -2 -6 -3 -2 -3 3 -4 8 -4 8 -3 9 0 8 0 8 3 5 3 2 3 -1 3 -5 4 -7 2 -8 1z" fill="#103f0c" stroke="#ff4418"/>
<path d="M801 307l-12 -2 -9 -2 -7 -1 -5 0 -2 0 -3 1 -3 3 -5 3 -5 4 -3 4 -2 2 -1 2 1 0 3 0 5 1 7 1 9 1 10 0 9 -2 9 -2 10 -3 7 -2 4 -2 2 -1 -1 -1 -3 -1 -7 -1z" fill="#0d0e2d" stroke="#ff3030"/>
<path d="M852 318l1 1 5 0 9 0 11 -1 15 -1 11 -2 8 -3 4 -3 0 -3 -2 -3 -4 -2 -5 -1 -6 0 -8 1 -8 2 -10 3 -9 4 -7 4 -4 2z" fill="#11410d" stroke="#ff2626"/>
<path d="M530 339l6 -1 5 -1 4 -2 2 -2 2 -2 0 -3 -1 -1 -2 -2 -4 -1 -7 -1 -10 -1 -12 0 -15 1 -11 1 -8 2 -3 2 0 4 3 3 5 2 9 1 11 2 11 0 8 0z" fill="#153949" stroke="#ff2a3a"/>
<path d="M621 311l-9 -1 -8 1 -7 1 -8 3 -7 4 -3 4 2 2 6 2 10 2 9 0 8 -2 7 -3 5 -4 3 -4 3 -2 1 -1 0 0 -2 0 -4 -1z" fill="#13323f" stroke="#f8204e"/>
<path d="M626 320l-5 4 -3 4 -2 2 0 2 2 1 4 0 7 1 9 0 12 -1 9 -1 5 -2 2 -3 -2 -3 -2 -3 -5 -3 -6 -2 -7 -1 -6 0 -6 2z" fill="#362c0a" stroke="#ff4418"/>
<path d="M665 324l2 3 1 3 2 2 3 2 2 0 5 0 6 -2 10 -3 11 -4 7 -3 3 -3 -2 -2 -7 -2 -7 -1 -8 0 -8 1 -9 1 -6 2 -4 2z" fill="#12143d" stroke="#ff3030"/>
<path d="M738 333l3 -5 2 -3 1 -2 0 -2 -1 0 -2 0 -2 -1 -4 0 -4 0 -6 1 -8 2 -9 2 -12 4 -8 3 -5 3 -2 1 1 1 1 1 2 0 2 1 3 0 4 1 7 0 8 0 10 0 8 -2 6 -2z" fill="#184051" stroke="#ff2626"/>
<path d="M808 318l-10 3 -6 2 -3 3 -1 3 4 2 5 2 7 1 10 2 11 0 9 1 6 0 3 0 0 0 1 -1 2 -1 3 -2 4 -2 2 -3 2 -2 0 -1 -1 -2 -1 -2 -1 -1 -1 -1 -2 -1 -3 -1 -4 0 -6 -1 -6 -1 -7 0 -8 1z" fill="#37102c" stroke="#ff2a3a"/>
<path d="M826 304l5 -4 6 -2 6 -2 6 -2 7 0 6 0 7 1 5 1 6 1 1 2 -2 3 -6 4 -10 4 -9 3 -8 2 -7 0 -7 -1 -5 -1 -4 -1 -2 0 -1 -1 1 -2 2 -2z" fill="#2d0d24" stroke="#f8204e"/>
<path d="M880 329l14 1 11 0 7 -2 4 -3 0 -4 -4 -3 -8 -1 -11 0 -15 1 -11 2 -7 1 -3 2 1 2 4 1 7 1z" fill="#141644" stroke="#ff4418"/>
<path d="M520 347l-1 4 -3 3 -6 3 -8 1 -11 1 -8 -1 -5 -2 -3 -4 0 -6 3 -4 6 -3 9 0 11 1 9 2 5 2z" fill="#3e2115" stroke="#ff3030"/>
<path d="M531 340l6 -1 6 -1 8 1 8 2 10 3 5 3 2 4 -3 3 -7 4 -8 3 -8 1 -8 -1 -9 -1 -7 -3 -4 -3 -2 -3 1 -4 2 -3 3 -2z" fill="#461538" stroke="#ff2626"/>
<path d="M564 326l-5 0 -4 1 -3 2 -2 2 -2 2 1 3 4 2 7 3 9 3 9 2 8 1 7 1 6 -1 5 -1 4 -2 4 -2 3 -3 2 -3 0 -2 0 -1 -2 -1 -4 -1 -6 -1 -8 -1 -11 -1 -9 -1 -7 -1z" fill="#161616" stroke="#ff2a3a"/>
<path d="M626 352l-7 -2 -5 -3 -2 -2 1 -3 3 -3 5 -2 7 -2 10 -1 12 0 10 0 7 0 5 0 2 1 2 0 2 1 2 0 1 1 -1 2 -4 2 -6 3 -7 4 -7 3 -6 2 -4 1 -4 0 -4 0 -5 -1z" fill="#0e252f" stroke="#f8204e"/>
<path d="M756 344l6 1 5 0 3 0 2 0 1 0 2 -1 3 -1 4 -2 6 -2 3 -3 1 -2 -1 -3 -4 -2 -4 -2 -6 -2 -8 -1 -9 -1 -7 1 -6 1 -5 3 -3 5 -2 3 1 3 1 2 3 1 4 1 5 1z" fill="#0e0f30" stroke="#ff4418"/>
<path d="M729 353l7 -4 7 -2 7 -2 6 -1 6 1 4 1 1 3 0 3 -3 5 -3 3 -2 2 -3 2 -3 0 -4 0 -5 0 -7 -1 -7 -2 -4 -2 0 -3z" fill="#381e13" stroke="#ff3030"/>
<path d="M825 353l-5 1 -5 0 -7 -1 -9 -2 -9 -2 -6 -3 -3 -2 2 -3 5 -2 7 -2 8 -1 10 0 12 0 8 2 4 2 1 3 -3 4 -3 3 -3 2z" fill="#114545" stroke="#ff2626"/>
<path d="M915 351l0 0 -5 -1 -9 -2 -13 -2 -18 -4 -12 -3 -7 -3 -1 -3 3 -2 7 -2 9 0 11 0 14 1 11 2 7 3 4 4 0 5 0 3 -1 3z" fill="#114646" stroke="#ff2a3a"/>
<path d="M532 360l9 2 7 1 5 1 3 1 0 0 -1 1 -1 2 -3 2 -3 2 -7 3 -10 2 -14 2 -16 1 -13 0 -8 -2 -4 -4 0 -5 2 -5 6 -3 8 -2 10 -1 11 0 10 1z" fill="#222222" stroke="#f8204e"/>
<path d="M567 358l7 -3 6 -3 7 -3 6 -1 6 0 6 0 7 1 6 1 8 2 5 2 2 3 0 3 -2 3 -2 3 -3 2 -2 1 -3 1 -6 1 -8 -1 -12 -1 -15 -1 -11 -1 -8 -1 -4 -1 0 0 1 -2 4 -2z" fill="#241e07" stroke="#ff4418"/>
<path d="M664 370l-14 -1 -11 0 -9 0 -5 0 -3 1 -2 2 -1 1 0 1 0 2 4 1 7 2 10 2 13 2 11 0 9 0 6 -1 5 -2 3 -2 1 -2 1 -1 -1 -1 -5 -2 -8 -1z" fill="#102a36" stroke="#ff3030"/>
<path d="M703 352l-4 -5 -3 -3 -3 -3 -3 -1 -3 -1 -4 1 -5 1 -7 3 -8 4 -3 3 2 3 6 2 12 2 9 2 7 0 5 0 3 0 2 -2 -1 -3z" fill="#2a2308" stroke="#ff2626"/>
<path d="M729 353l7 -4 4 -3 2 -2 0 -2 -3 -1 -5 -1 -7 0 -8 0 -10 0 -7 1 -3 3 1 3 4 5 3 3 3 3 3 1 2 0 3 -1 5 -2z" fill="#0a2b2b" stroke="#ff2a3a"/>
<path d="M767 352l-2 5 0 3 3 3 6 1 9 1 8 0 7 -1 5 -2 4 -3 1 -3 -3 -2 -6 -3 -10 -2 -7 -2 -6 -1 -3 -1 0 0 -2 2 -1 2z" fill="#131540" stroke="#f8204e"/>
<path d="M862 364l1 -1 -2 -2 -3 -2 -6 -1 -8 -2 -8 -1 -6 -1 -5 0 -4 0 -5 1 -4 2 -4 2 -4 3 -3 3 -1 2 1 2 2 1 5 1 8 0 11 -1 13 -1 11 -2 7 -1z" fill="#18102a" stroke="#ff4418"/>
<path d="M852 357l-8 -1 -5 -3 -3 -3 0 -3 3 -4 2 -3 1 -2 1 -1 0 0 5 1 9 2 13 2 18 4 10 3 2 3 -4 2 -13 3 -11 1 -10 0z" fill="#2c2408" stroke="#ff3030"/>
<path d="M517 379l-16 1 -13 2 -8 1 -4 1 0 0 4 1 8 3 11 3 16 5 12 3 9 2 6 1 2 0 3 -1 4 -2 4 -2 5 -2 2 -3 0 -3 -4 -4 -6 -3 -9 -2 -11 -1z" fill="#331342" stroke="#ff2626"/>
<path d="M580 368l15 2 11 1 8 2 4 1 0 2 0 2 -2 2 -3 2 -4 3 -5 2 -7 2 -7 1 -9 0 -8 0 -7 -2 -7 -3 -6 -3 -4 -4 -1 -3 1 -3 3 -2 7 -2 9 0z" fill="#131542" stroke="#ff2a3a"/>
<path d="M648 398l11 -3 7 -1 5 -2 3 -2 -1 -2 -3 -2 -7 -1 -10 -2 -13 -2 -11 -1 -9 1 -6 1 -4 3 -2 3 2 3 4 2 8 3 8 2 8 0z" fill="#173d4e" stroke="#f8204e"/>
<path d="M679 358l-11 -1 -10 -2 -7 -1 -5 0 -4 0 -3 2 -2 1 -3 3 -2 3 2 3 6 2 10 1 14 1 12 0 8 -1 6 -1 2 -3 0 -2 -5 -3z" fill="#302c09" stroke="#ff4418"/>
<path d="M729 361l8 2 5 2 2 2 0 4 -2 3 -5 3 -7 1 -10 1 -11 -1 -9 -1 -7 -1 -3 -1 -2 -2 0 -1 1 -2 2 -2 2 -3 3 -2 3 -1 3 -2 3 0 2 -1 3 0 2 0 3 0 3 0 5 1z" fill="#1e1433" stroke="#ff3030"/>
<path d="M753 364l3 0 5 0 6 0 7 1 9 0 7 1 6 1 4 2 2 1 2 2 1 1 0 2 0 1 -1 2 -1 1 -1 1 -2 0 -4 1 -7 1 -9 1 -12 1 -9 0 -6 1 -4 0 0 0 -1 -1 -2 0 -2 -1 -2 -1 -1 -2 0 -3 2 -3 2 -3 3 -3 3 -2z" fill="#140d21" stroke="#ff2626"/>
<path d="M872 374l-4 -3 -7 -1 -9 -1 -11 0 -14 1 -10 2 -7 1 -4 2 0 1 3 2 6 2 9 1 13 1 11 1 9 0 8 -1 5 -1 4 -2 0 -2z" fill="#2a1036" stroke="#ff2a3a"/>
<path d="M916 362l0 8 -3 5 -4 4 -7 1 -9 -1 -7 -1 -7 -1 -6 -3 -5 -3 -3 -2 -2 -3 0 -1 1 -2 4 -2 6 -2 10 -2 12 -2 9 -2 7 -1 3 -1 0 0 0 2 1 4z" fill="#3c370c" stroke="#f8204e"/>
<path d="M510 408l-14 2 -10 2 -7 2 -4 2 0 3 4 3 7 1 11 2 15 0 11 -1 7 -2 3 -4 -1 -5 -4 -3 -8 -2z" fill="#372d0b" stroke="#ff4418"/>
<path d="M611 409l-11 1 -11 0 -9 -1 -10 -2 -8 -2 -5 -2 -2 -3 1 -2 5 -3 6 -2 7 -2 7 -1 9 0 8 0 8 2 8 2 7 3 5 2 4 2 1 2 -1 2 0 1 -1 1 -1 1 0 0 -3 0 -6 1z" fill="#0a2b2b" stroke="#ff3030"/>
<path d="M701 410l-4 2 -3 2 -3 1 -1 0 -1 0 -4 0 -8 -1 -11 -1 -14 -2 -11 -2 -7 -2 -3 -2 1 -2 3 -1 6 -2 8 -2 10 -2 9 -2 9 0 7 1 5 1 5 1 5 2 3 2 2 2 1 2 -1 3z" fill="#3b2014" stroke="#ff2626"/>
<path d="M741 382l2 1 -1 2 -5 2 -8 2 -12 4 -11 2 -9 1 -7 -1 -6 -1 -4 -1 -4 -2 -1 -1 -1 -2 1 -2 2 -2 3 -2 5 -2 6 -1 8 -1 10 0 11 1 10 1 6 1z" fill="#1d1d1d" stroke="#ff2a3a"/>
<path d="M755 391l3 4 2 3 -1 3 -2 2 -5 2 -5 1 -7 1 -8 0 -9 0 -8 -1 -6 -1 -4 -2 -2 -2 1 -3 5 -2 8 -3 12 -3 9 -3 7 -1 3 -1 1 0 1 1 2 2z" fill="#30123f" stroke="#f8204e"/>
<path d="M768 384l12 -1 10 1 8 2 6 3 4 5 3 4 2 3 0 1 0 0 -4 0 -6 0 -9 0 -12 0 -10 -2 -8 -2 -5 -3 -3 -4 0 -3 4 -2z" fill="#202020" stroke="#ff4418"/>
<path d="M853 390l-2 4 -3 3 -5 2 -7 2 -9 0 -7 -1 -6 -2 -5 -4 -5 -5 -2 -4 -2 -3 1 -1 1 -1 5 0 7 0 10 1 12 2 10 2 5 2z" fill="#30123e" stroke="#ff3030"/>
<path d="M902 415l-8 0 -8 -1 -7 -2 -5 -2 -4 -3 0 -3 4 -2 9 -3 13 -2 10 -1 6 2 4 4 0 5 -3 4 -4 3z" fill="#4a2819" stroke="#ff2626"/>
<path d="M475 402l0 -7 4 -4 8 -1 12 1 16 5 11 3 7 3 2 2 -2 0 -5 1 -7 2 -11 1 -14 2 -10 -1 -7 -3z" fill="#0e0f2e" stroke="#ff2a3a"/>
<path d="M541 427l-3 0 -2 -2 -1 -3 -2 -4 0 -5 -1 -4 1 -3 1 -1 2 -1 2 -1 2 0 2 -1 3 0 4 0 5 1 7 2 9 3 6 2 3 3 0 3 -2 3 -4 3 -5 2 -6 2 -7 1 -6 0 -5 1z" fill="#1a1a1a" stroke="#f8204e"/>
<path d="M603 429l-12 -2 -8 -2 -4 -3 -1 -2 2 -4 4 -2 7 -2 9 -2 11 0 8 0 5 3 3 3 -1 6 0 4 -1 3 -1 1 -2 1 -4 0 -6 -1z" fill="#163a4a" stroke="#ff4418"/>
<path d="M627 422l0 -6 1 -4 0 -2 1 -2 0 0 4 0 8 1 11 2 14 2 10 2 5 2 0 3 -4 3 -6 2 -7 2 -10 1 -11 0 -8 0 -5 -3z" fill="#160f26" stroke="#ff3030"/>
<path d="M702 410l-4 2 -1 2 4 3 7 3 11 3 10 1 9 1 8 0 7 -2 4 -2 1 -2 -1 -3 -5 -4 -5 -2 -7 -2 -8 -1 -10 0 -8 0 -6 1z" fill="#401333" stroke="#ff2626"/>
<path d="M782 402l12 0 9 2 5 2 2 3 -1 4 -2 4 -3 2 -4 2 -4 1 -5 0 -5 0 -6 0 -6 0 -6 -1 -6 -2 -4 -3 -5 -4 -2 -3 0 -2 2 -2 4 -2 7 -1 8 0z" fill="#252525" stroke="#ff2a3a"/>
<path d="M811 409l-1 4 1 4 5 3 8 2 10 1 8 1 6 0 4 1 1 0 3 -1 4 -2 4 -1 6 -3 4 -3 1 -2 -2 -3 -4 -3 -4 -2 -4 -2 -3 -1 -4 -1 -5 0 -6 0 -7 0 -8 0 -7 1 -4 0 -3 0 0 1 -1 1 -1 2z" fill="#321b11" stroke="#f8204e"/>
<path d="M893 380l9 0 7 2 4 1 2 3 0 3 -3 2 -6 3 -10 3 -13 2 -11 1 -8 1 -6 0 -3 0 -3 -2 0 -2 0 -3 2 -4 2 -3 4 -2 5 -2 6 -2 7 -1 7 0z" fill="#47420e" stroke="#ff4418"/>
<path d="M540 428l-2 -1 -6 -1 -8 0 -12 -1 -14 0 -11 1 -8 2 -3 3 0 5 4 3 8 3 12 1 16 0 13 -1 8 -2 5 -2 1 -4 0 -3 -1 -2z" fill="#103e0c" stroke="#ff3030"/>
<path d="M590 443l-20 0 -14 -1 -9 -2 -4 -2 1 -4 2 -3 4 -2 6 -2 7 -1 8 0 10 0 10 1 11 2 9 2 6 2 2 3 0 3 -5 2 -10 1z" fill="#1a1a1a" stroke="#ff2626"/>
<path d="M620 436l0 3 5 2 10 1 15 1 21 0 13 -1 7 -2 -1 -3 -7 -4 -9 -3 -9 -1 -11 -1 -11 1 -8 0 -7 1 -4 1 -1 0 -1 1 -1 2z" fill="#392f0b" stroke="#ff2a3a"/>
<path d="M683 433l8 4 7 3 6 2 6 1 5 0 4 -1 4 -2 4 -3 3 -4 0 -4 -4 -3 -8 -3 -11 -3 -8 -2 -6 -2 -3 0 -1 0 -1 0 -3 2 -3 2 -4 3 -1 3 2 3z" fill="#102c37" stroke="#f8204e"/>
<path d="M773 422l7 1 4 1 4 3 1 4 1 4 -4 4 -9 3 -12 1 -17 0 -12 -1 -7 -2 -2 -3 4 -4 4 -3 5 -3 6 -2 7 -1 7 -1 7 -1z" fill="#2b0c22" stroke="#ff4418"/>
<path d="M841 436l4 -4 -1 -4 -3 -3 -7 -2 -11 -1 -9 -1 -7 0 -6 0 -4 1 -4 2 -2 3 -1 4 1 4 3 4 5 3 9 1 11 0 10 -1 7 -2z" fill="#2c2808" stroke="#ff3030"/>
<path d="M915 442l0 -1 -3 -2 -8 -2 -11 -3 -15 -4 -11 -2 -8 -2 -5 -1 -2 0 -1 1 -3 3 -2 3 -4 4 3 4 8 2 14 1 19 0 15 0 10 -1z" fill="#2a170e" stroke="#ff2626"/>
<path d="M916 424l0 6 -4 4 -8 1 -11 -1 -15 -4 -9 -3 -5 -3 1 -3 6 -3 7 -2 7 -1 9 0 8 0 7 2 4 3z" fill="#332e0a" stroke="#ff2a3a"/>
<circle cx="493" cy="374" r="2.2" fill="#bbb" fill-opacity="0.55"/>
<circle cx="794" cy="340" r="3.4" fill="#bbb" fill-opacity="0.55"/>
<circle cx="563" cy="2" r="2.5" fill="#bbb" fill-opacity="0.55"/>
<circle cx="640" cy="94" r="3.6" fill="#bbb" fill-opacity="0.55"/>
<circle cx="815" cy="307" r="3.2" fill="#bbb" fill-opacity="0.55"/>
<circle cx="756" cy="88" r="2.0" fill="#bbb" fill-opacity="0.55"/>
<circle cx="669" cy="192" r="2.3" fill="#bbb" fill-opacity="0.55"/>
<circle cx="491" cy="173" r="3.9" fill="#bbb" fill-opacity="0.55"/>
<circle cx="506" cy="1" r="1.8" fill="#bbb" fill-opacity="0.55"/>
<circle cx="555" cy="301" r="2.6" fill="#bbb" fill-opacity="0.55"/>
<circle cx="868" cy="105" r="1.6" fill="#bbb" fill-opacity="0.55"/>
<circle cx="911" cy="247" r="3.1" fill="#bbb" fill-opacity="0.55"/>
<circle cx="843" cy="312" r="2.6" fill="#bbb" fill-opacity="0.55"/>
<circle cx="644" cy="163" r="2.2" fill="#bbb" fill-opacity="0.55"/>
<circle cx="911" cy="402" r="2.7" fill="#bbb" fill-opacity="0.55"/>
<circle cx="575" cy="216" r="3.4" fill="#bbb" fill-opacity="0.55"/>
<circle cx="584" cy="98" r="2.5" fill="#bbb" fill-opacity="0.55"/>
<circle cx="663" cy="387" r="3.2" fill="#bbb" fill-opacity="0.55"/>
<circle cx="701" cy="66" r="2.2" fill="#bbb" fill-opacity="0.55"/>
<circle cx="561" cy="386" r="1.7" fill="#bbb" fill-opacity="0.55"/>
<circle cx="540" cy="204" r="2.2" fill="#bbb" fill-opacity="0.55"/>
<circle cx="487" cy="175" r="1.6" fill="#bbb" fill-opacity="0.55"/>
<circle cx="822" cy="377" r="2.6" fill="#bbb" fill-opacity="0.55"/>
<circle cx="650" cy="363" r="1.5" fill="#bbb" fill-opacity="0.55"/>
<circle cx="595" cy="355" r="3.9" fill="#bbb" fill-opacity="0.55"/>
<circle cx="548" cy="67" r="3.6" fill="#bbb" fill-opacity="0.55"/>
<circle cx="635" cy="239" r="3.4" fill="#bbb" fill-opacity="0.55"/>
<circle cx="555" cy="437" r="3.4" fill="#bbb" fill-opacity="0.55"/>
<circle cx="498" cy="434" r="3.0" fill="#bbb" fill-opacity="0.55"/>
</g>
<text x="19" y="52" font-size="57" text-anchor="start" fill="#fff" >(a)</text>
<text x="479" y="52" font-size="57" text-anchor="start" fill="#fff" >(b)</text>
<text x="451" y="37" font-size="31" text-anchor="end" fill="#fff" >t = 20 min</text>
<text x="901" y="37" font-size="31" text-anchor="end" fill="#fff" >t = 240 min</text>
<text x="45" y="213" font-size="35" text-anchor="middle" fill="#fff" transform="rotate(-90 45 213)" >Anteroposterior</text>
<rect x="373.5" y="412" width="71" height="9.5" fill="#fff"/>
<text x="450" y="396" font-size="26" text-anchor="end" fill="#fff">50 <tspan font-style="italic" font-family='"Liberation Serif", serif'>μm</tspan></text>
<rect x="826.7" y="404.3" width="70" height="9.5" fill="#fff"/>
<text x="902" y="389" font-size="26" text-anchor="end" fill="#fff">50 <tspan font-style="italic" font-family='"Liberation Serif", serif'>μm</tspan></text>
<text x="247" y="487" font-size="34.5" text-anchor="middle" fill="#111" >Mediolateral</text>
<polygon points="1041.7,292.8 1049.3,201.6 1056.9,235.8 1063.8,243.4 1071.4,249.1 1077.8,251 1084.7,232 1092.3,197.8 1098.7,228.2 1105.2,262.4 1112.8,262.4 1120.4,228.2 1127.3,243.4 1134.1,262.4 1141.3,266.2 1148.2,262.4 1159.6,205.4 1169.9,228.2 1177.1,220.6 1183.9,228.2 1191.5,220.6 1198.4,235.8 1205.2,228.2 1212.1,185.2 1219.7,224.4 1226.5,205.4 1233.7,185.2 1240.6,205.4 1247.8,185.2 1254.7,186.3 1264.2,153.3 1268.7,148.3 1276,125.5 1283.2,114.1 1290,53.2 1297.3,91.3 1304.9,95.1 1311.7,114.1 1318.9,167.3 1325.8,148.3 1333,110.3 1340.2,114.1 1346.7,106.5 1354.7,110.3 1361.1,114.1 1368,95.1 1374.8,60.8 1381.7,95.1 1389.3,91.3 1396.1,125.5 1403,64.7 1410.6,76.1 1417.4,102.7 1424.3,110.3 1431.5,114.1 1438.7,87.5 1445.6,76.1 1452.4,64.7 1460,49.4 1460,133.1 1452.4,144.5 1445.6,152.1 1438.7,159.7 1431.5,190.2 1424.3,194 1417.4,174.9 1410.6,159.7 1403,148.3 1396.1,194 1389.3,163.5 1381.7,167.3 1374.8,144.5 1368,171.1 1361.1,178.7 1354.7,182.5 1346.7,174.9 1340.2,178.7 1333,182.5 1325.8,213 1318.9,232 1311.7,190.2 1304.9,167.3 1297.3,174.9 1290,144.5 1283.2,190.2 1276,213 1268.7,228.2 1264.2,232 1254.7,273.8 1247.8,273.8 1240.6,285.2 1233.7,266.2 1226.5,281.4 1219.7,304.2 1212.1,247.2 1205.2,311.8 1198.4,315.6 1191.5,300.4 1183.9,304.2 1177.1,292.8 1169.9,304.2 1159.6,311.8 1148.2,338.5 1141.3,336.6 1134.1,334.7 1127.3,319.5 1120.4,304.2 1112.8,330.9 1105.2,330.9 1098.7,315.6 1092.3,285.2 1084.7,308 1077.8,330.9 1071.4,334.7 1063.8,334.7 1056.9,327.1 1049.3,319.5 1041.7,346.1" fill="#cbcbcb" stroke="#111" stroke-width="1"/>
<polyline points="1042.8,308.8 1049.7,252.1 1055.4,277.6 1062.6,281.8 1069.5,286 1077.8,290.9 1084.7,273.8 1092.3,240.3 1098.7,271.5 1105.2,294.7 1112.8,295.9 1120.4,269.6 1127.3,284.5 1134.1,294.7 1141.3,299.7 1148.2,304.2 1155.8,262.4 1162.6,255.6 1169.9,273.8 1177.1,254.4 1183.9,268.1 1191.5,260.9 1198.4,276.9 1205.2,265.4 1212.1,219.4 1219.7,260.9 1226.5,236.5 1233.7,204.6 1240.6,248.3 1247.8,226.3 1254.7,228.2 1261.9,197.8 1268.7,186.3 1276,164.3 1283.2,144.5 1290,103.4 1297.3,137.7 1304.9,126.6 1311.7,153.3 1318.9,195.9 1325.8,172.3 1333,149.1 1340.2,149.1 1346.7,147.2 1354.7,151.4 1361.1,145.7 1368,133.1 1374.8,105.7 1381.7,129.3 1389.3,129.3 1396.1,159.7 1403,108.8 1410.6,119.8 1417.4,138.8 1424.3,149.5 1431.5,148.3 1438.7,123.6 1445.6,116 1452.4,109.1 1460,92.4" fill="none" stroke="#1a9be6" stroke-width="1.2"/>
<circle cx="1042.8" cy="308.8" r="8.6" fill="#fff" stroke="#1a9be6" stroke-width="1.6"/>
<circle cx="1049.7" cy="252.1" r="8.6" fill="#fff" stroke="#1a9be6" stroke-width="1.6"/>
<circle cx="1055.4" cy="277.6" r="8.6" fill="#fff" stroke="#1a9be6" stroke-width="1.6"/>
<circle cx="1062.6" cy="281.8" r="8.6" fill="#fff" stroke="#1a9be6" stroke-width="1.6"/>
<circle cx="1069.5" cy="286" r="8.6" fill="#fff" stroke="#1a9be6" stroke-width="1.6"/>
<circle cx="1077.8" cy="290.9" r="8.6" fill="#fff" stroke="#1a9be6" stroke-width="1.6"/>
<circle cx="1084.7" cy="273.8" r="8.6" fill="#fff" stroke="#1a9be6" stroke-width="1.6"/>
<circle cx="1092.3" cy="240.3" r="8.6" fill="#fff" stroke="#1a9be6" stroke-width="1.6"/>
<circle cx="1098.7" cy="271.5" r="8.6" fill="#fff" stroke="#1a9be6" stroke-width="1.6"/>
<circle cx="1105.2" cy="294.7" r="8.6" fill="#fff" stroke="#1a9be6" stroke-width="1.6"/>
<circle cx="1112.8" cy="295.9" r="8.6" fill="#fff" stroke="#1a9be6" stroke-width="1.6"/>
<circle cx="1120.4" cy="269.6" r="8.6" fill="#fff" stroke="#1a9be6" stroke-width="1.6"/>
<circle cx="1127.3" cy="284.5" r="8.6" fill="#fff" stroke="#1a9be6" stroke-width="1.6"/>
<circle cx="1134.1" cy="294.7" r="8.6" fill="#fff" stroke="#1a9be6" stroke-width="1.6"/>
<circle cx="1141.3" cy="299.7" r="8.6" fill="#fff" stroke="#1a9be6" stroke-width="1.6"/>
<circle cx="1148.2" cy="304.2" r="8.6" fill="#fff" stroke="#1a9be6" stroke-width="1.6"/>
<circle cx="1155.8" cy="262.4" r="8.6" fill="#fff" stroke="#1a9be6" stroke-width="1.6"/>
<circle cx="1162.6" cy="255.6" r="8.6" fill="#fff" stroke="#1a9be6" stroke-width="1.6"/>
<circle cx="1169.9" cy="273.8" r="8.6" fill="#fff" stroke="#1a9be6" stroke-width="1.6"/>
<circle cx="1177.1" cy="254.4" r="8.6" fill="#fff" stroke="#1a9be6" stroke-width="1.6"/>
<circle cx="1183.9" cy="268.1" r="8.6" fill="#fff" stroke="#1a9be6" stroke-width="1.6"/>
<circle cx="1191.5" cy="260.9" r="8.6" fill="#fff" stroke="#1a9be6" stroke-width="1.6"/>
<circle cx="1198.4" cy="276.9" r="8.6" fill="#fff" stroke="#1a9be6" stroke-width="1.6"/>
<circle cx="1205.2" cy="265.4" r="8.6" fill="#fff" stroke="#1a9be6" stroke-width="1.6"/>
<circle cx="1212.1" cy="219.4" r="8.6" fill="#fff" stroke="#1a9be6" stroke-width="1.6"/>
<circle cx="1219.7" cy="260.9" r="8.6" fill="#fff" stroke="#1a9be6" stroke-width="1.6"/>
<circle cx="1226.5" cy="236.5" r="8.6" fill="#fff" stroke="#1a9be6" stroke-width="1.6"/>
<circle cx="1233.7" cy="204.6" r="8.6" fill="#fff" stroke="#1a9be6" stroke-width="1.6"/>
<circle cx="1240.6" cy="248.3" r="8.6" fill="#fff" stroke="#1a9be6" stroke-width="1.6"/>
<circle cx="1247.8" cy="226.3" r="8.6" fill="#fff" stroke="#1a9be6" stroke-width="1.6"/>
<circle cx="1254.7" cy="228.2" r="8.6" fill="#fff" stroke="#1a9be6" stroke-width="1.6"/>
<circle cx="1261.9" cy="197.8" r="8.6" fill="#fff" stroke="#1a9be6" stroke-width="1.6"/>
<circle cx="1268.7" cy="186.3" r="8.6" fill="#fff" stroke="#1a9be6" stroke-width="1.6"/>
<circle cx="1276" cy="164.3" r="8.6" fill="#fff" stroke="#1a9be6" stroke-width="1.6"/>
<circle cx="1283.2" cy="144.5" r="8.6" fill="#fff" stroke="#1a9be6" stroke-width="1.6"/>
<circle cx="1290" cy="103.4" r="8.6" fill="#fff" stroke="#1a9be6" stroke-width="1.6"/>
<circle cx="1297.3" cy="137.7" r="8.6" fill="#fff" stroke="#1a9be6" stroke-width="1.6"/>
<circle cx="1304.9" cy="126.6" r="8.6" fill="#fff" stroke="#1a9be6" stroke-width="1.6"/>
<circle cx="1311.7" cy="153.3" r="8.6" fill="#fff" stroke="#1a9be6" stroke-width="1.6"/>
<circle cx="1318.9" cy="195.9" r="8.6" fill="#fff" stroke="#1a9be6" stroke-width="1.6"/>
<circle cx="1325.8" cy="172.3" r="8.6" fill="#fff" stroke="#1a9be6" stroke-width="1.6"/>
<circle cx="1333" cy="149.1" r="8.6" fill="#fff" stroke="#1a9be6" stroke-width="1.6"/>
<circle cx="1340.2" cy="149.1" r="8.6" fill="#fff" stroke="#1a9be6" stroke-width="1.6"/>
<circle cx="1346.7" cy="147.2" r="8.6" fill="#fff" stroke="#1a9be6" stroke-width="1.6"/>
<circle cx="1354.7" cy="151.4" r="8.6" fill="#fff" stroke="#1a9be6" stroke-width="1.6"/>
<circle cx="1361.1" cy="145.7" r="8.6" fill="#fff" stroke="#1a9be6" stroke-width="1.6"/>
<circle cx="1368" cy="133.1" r="8.6" fill="#fff" stroke="#1a9be6" stroke-width="1.6"/>
<circle cx="1374.8" cy="105.7" r="8.6" fill="#fff" stroke="#1a9be6" stroke-width="1.6"/>
<circle cx="1381.7" cy="129.3" r="8.6" fill="#fff" stroke="#1a9be6" stroke-width="1.6"/>
<circle cx="1389.3" cy="129.3" r="8.6" fill="#fff" stroke="#1a9be6" stroke-width="1.6"/>
<circle cx="1396.1" cy="159.7" r="8.6" fill="#fff" stroke="#1a9be6" stroke-width="1.6"/>
<circle cx="1403" cy="108.8" r="8.6" fill="#fff" stroke="#1a9be6" stroke-width="1.6"/>
<circle cx="1410.6" cy="119.8" r="8.6" fill="#fff" stroke="#1a9be6" stroke-width="1.6"/>
<circle cx="1417.4" cy="138.8" r="8.6" fill="#fff" stroke="#1a9be6" stroke-width="1.6"/>
<circle cx="1424.3" cy="149.5" r="8.6" fill="#fff" stroke="#1a9be6" stroke-width="1.6"/>
<circle cx="1431.5" cy="148.3" r="8.6" fill="#fff" stroke="#1a9be6" stroke-width="1.6"/>
<circle cx="1438.7" cy="123.6" r="8.6" fill="#fff" stroke="#1a9be6" stroke-width="1.6"/>
<circle cx="1445.6" cy="116" r="8.6" fill="#fff" stroke="#1a9be6" stroke-width="1.6"/>
<circle cx="1452.4" cy="109.1" r="8.6" fill="#fff" stroke="#1a9be6" stroke-width="1.6"/>
<circle cx="1460" cy="92.4" r="8.6" fill="#fff" stroke="#1a9be6" stroke-width="1.6"/>
<line x1="1041.7" y1="294.7" x2="1264.2" y2="232" stroke="#EDB120" stroke-width="8.5"/>
<line x1="1264.2" y1="232" x2="1460" y2="174.2" stroke="#EDB120" stroke-width="2.2" stroke-dasharray="9 4 2 4"/>
<line x1="1041.7" y1="269.3" x2="1317.4" y2="164.7" stroke="#D95319" stroke-width="2.2" stroke-dasharray="9 4 2 4"/>
<line x1="1317.4" y1="164.7" x2="1460" y2="110.3" stroke="#D95319" stroke-width="8.5"/>
<line x1="1288.9" y1="3" x2="1288.9" y2="400" stroke="#0b5a95" stroke-width="3.2" stroke-dasharray="6 3.5"/>
<rect x="1036" y="3" width="431.5" height="397" fill="none" stroke="#222" stroke-width="2.2"/>
<line x1="1036" y1="48.2" x2="1044" y2="48.2" stroke="#222" stroke-width="2"/>
<line x1="1467.5" y1="48.2" x2="1459.5" y2="48.2" stroke="#222" stroke-width="2"/>
<text x="1024.5" y="59.2" font-size="30.5" text-anchor="end" fill="#222" >1.7</text>
<line x1="1036" y1="158.6" x2="1044" y2="158.6" stroke="#222" stroke-width="2"/>
<line x1="1467.5" y1="158.6" x2="1459.5" y2="158.6" stroke="#222" stroke-width="2"/>
<text x="1024.5" y="169.6" font-size="30.5" text-anchor="end" fill="#222" >1.65</text>
<line x1="1036" y1="269" x2="1044" y2="269" stroke="#222" stroke-width="2"/>
<line x1="1467.5" y1="269" x2="1459.5" y2="269" stroke="#222" stroke-width="2"/>
<text x="1024.5" y="280" font-size="30.5" text-anchor="end" fill="#222" >1.6</text>
<line x1="1036" y1="379.4" x2="1044" y2="379.4" stroke="#222" stroke-width="2"/>
<line x1="1467.5" y1="379.4" x2="1459.5" y2="379.4" stroke="#222" stroke-width="2"/>
<text x="1024.5" y="390.4" font-size="30.5" text-anchor="end" fill="#222" >1.55</text>
<line x1="1036" y1="400" x2="1036" y2="392" stroke="#222" stroke-width="2"/>
<line x1="1036" y1="3" x2="1036" y2="11" stroke="#222" stroke-width="2"/>
<text x="1036" y="439" font-size="30.5" text-anchor="middle" fill="#222" >0</text>
<line x1="1213.3" y1="400" x2="1213.3" y2="392" stroke="#222" stroke-width="2"/>
<line x1="1213.3" y1="3" x2="1213.3" y2="11" stroke="#222" stroke-width="2"/>
<text x="1213.3" y="439" font-size="30.5" text-anchor="middle" fill="#222" >50</text>
<line x1="1390.6" y1="400" x2="1390.6" y2="392" stroke="#222" stroke-width="2"/>
<line x1="1390.6" y1="3" x2="1390.6" y2="11" stroke="#222" stroke-width="2"/>
<text x="1390.6" y="439" font-size="30.5" text-anchor="middle" fill="#222" >100</text>
<text x="1251" y="482" font-size="34" text-anchor="middle" fill="#222" >t (min)</text>
<text x="953" y="200" font-size="34.5" text-anchor="middle" fill="#222" transform="rotate(-90 953 200)" >SI(t)</text>
<text x="1463" y="52.5" font-size="58" text-anchor="end" fill="#000" >(c)</text>
<rect x="1075" y="27.4" width="184.6" height="114.4" fill="#fff" stroke="#333" stroke-width="1"/>
<line x1="1075" y1="117" x2="1079" y2="117" stroke="#333" stroke-width="1"/>
<line x1="1259.6" y1="117" x2="1255.6" y2="117" stroke="#333" stroke-width="1"/>
<text x="1070" y="122" font-size="14.5" text-anchor="end" fill="#222" >0</text>
<line x1="1075" y1="87.9" x2="1079" y2="87.9" stroke="#333" stroke-width="1"/>
<line x1="1259.6" y1="87.9" x2="1255.6" y2="87.9" stroke="#333" stroke-width="1"/>
<text x="1070" y="92.9" font-size="14.5" text-anchor="end" fill="#222" >2</text>
<line x1="1075" y1="58.8" x2="1079" y2="58.8" stroke="#333" stroke-width="1"/>
<line x1="1259.6" y1="58.8" x2="1255.6" y2="58.8" stroke="#333" stroke-width="1"/>
<text x="1070" y="63.8" font-size="14.5" text-anchor="end" fill="#222" >4</text>
<line x1="1075" y1="29.7" x2="1079" y2="29.7" stroke="#333" stroke-width="1"/>
<line x1="1259.6" y1="29.7" x2="1255.6" y2="29.7" stroke="#333" stroke-width="1"/>
<text x="1070" y="34.7" font-size="14.5" text-anchor="end" fill="#222" >6</text>
<line x1="1112" y1="141.8" x2="1112" y2="137.8" stroke="#333" stroke-width="1"/>
<line x1="1112" y1="27.4" x2="1112" y2="31.4" stroke="#333" stroke-width="1"/>
<text x="1112" y="160" font-size="14.5" text-anchor="middle" fill="#222" >60</text>
<line x1="1201.4" y1="141.8" x2="1201.4" y2="137.8" stroke="#333" stroke-width="1"/>
<line x1="1201.4" y1="27.4" x2="1201.4" y2="31.4" stroke="#333" stroke-width="1"/>
<text x="1201.4" y="160" font-size="14.5" text-anchor="middle" fill="#222" >70</text>
<text x="1167" y="181" font-size="15.5" text-anchor="middle" fill="#222" >t (min)</text>
<text x="1058" y="85" font-size="15" text-anchor="middle" fill="#222" transform="rotate(-90 1058 85)" >dSI/dt</text>
<text x="1078" y="18" font-size="14" text-anchor="start" fill="#222" >×10<tspan font-size="10.5" dy="-5">-3</tspan></text>
<polyline points="1075.2,120.9 1093,95.8 1111.3,90.5 1129.2,104.6 1147,60.8 1164.5,62.7 1183.2,35 1201.4,76.1 1220.4,78 1237.6,106.5 1250.9,140.7" fill="none" stroke="#0b6fb8" stroke-width="2" stroke-dasharray="7 3 2 3"/>
<linearGradient id="cbdeg" x1="0" y1="0" x2="0" y2="1"><stop offset="0.00" stop-color="#506e90"/><stop offset="0.05" stop-color="#597fa9"/><stop offset="0.10" stop-color="#6393c3"/><stop offset="0.15" stop-color="#6fa3cc"/><stop offset="0.20" stop-color="#7bb3d4"/><stop offset="0.25" stop-color="#95c3dd"/><stop offset="0.30" stop-color="#b1d5e7"/><stop offset="0.35" stop-color="#c8e1ee"/><stop offset="0.40" stop-color="#deecf4"/><stop offset="0.45" stop-color="#ecf3f6"/><stop offset="0.50" stop-color="#f8f9f9"/><stop offset="0.55" stop-color="#fbefe8"/><stop offset="0.60" stop-color="#fde5d7"/><stop offset="0.65" stop-color="#fad2bf"/><stop offset="0.70" stop-color="#f6bfa6"/><stop offset="0.75" stop-color="#eda895"/><stop offset="0.80" stop-color="#e28f82"/><stop offset="0.85" stop-color="#d57676"/><stop offset="0.90" stop-color="#c85c6a"/><stop offset="0.95" stop-color="#ad5466"/><stop offset="1.00" stop-color="#944c62"/></linearGradient>
<rect x="52" y="515.5" width="23" height="469.0" fill="url(#cbdeg)" stroke="#555" stroke-width="1"/>
<line x1="52" y1="515.5" x2="52" y2="984.5" stroke="#444" stroke-width="2"/>
<line x1="52" y1="562.4" x2="56" y2="562.4" stroke="#444" stroke-width="1.6"/>
<line x1="52" y1="609.3" x2="56" y2="609.3" stroke="#444" stroke-width="1.6"/>
<line x1="52" y1="656.2" x2="56" y2="656.2" stroke="#444" stroke-width="1.6"/>
<line x1="52" y1="703.1" x2="56" y2="703.1" stroke="#444" stroke-width="1.6"/>
<line x1="52" y1="750" x2="56" y2="750" stroke="#444" stroke-width="1.6"/>
<line x1="52" y1="796.9" x2="56" y2="796.9" stroke="#444" stroke-width="1.6"/>
<line x1="52" y1="843.8" x2="56" y2="843.8" stroke="#444" stroke-width="1.6"/>
<line x1="52" y1="890.7" x2="56" y2="890.7" stroke="#444" stroke-width="1.6"/>
<line x1="52" y1="937.6" x2="56" y2="937.6" stroke="#444" stroke-width="1.6"/>
<text x="12" y="534" font-size="22" text-anchor="start" fill="#111" >90<tspan font-size="15" dy="-7">o</tspan></text>
<text x="24" y="985" font-size="22" text-anchor="start" fill="#111" >0<tspan font-size="15" dy="-7">o</tspan></text>
<text x="26.5" y="756" font-size="29" text-anchor="middle" fill="#111" transform="rotate(-90 26.5 756)" >Degree |<tspan font-style="italic" font-family='"Liberation Serif", serif'>θ</tspan>|</text>
<clipPath id="clipd"><rect x="83" y="515.5" width="473" height="468.5"/></clipPath>
<g clip-path="url(#clipd)">
<rect x="83" y="515.5" width="473" height="468.5" fill="#e9e9e9"/>
<path d="M43.7 948.2L83 926.3M83 984L83 926.3M58.5 999.9L83 984M123 873L124.9 900.4M123 873L83 867.5M124.9 900.4L83 921.2M83 867.5L83 921.2M317.8 711L299.4 677.1M311.4 724.3L317.8 711M292.1 729.2L311.4 724.3M292.1 729.2L278.9 698.9M278.9 698.9L296.4 676.4M299.4 677.1L296.4 676.4M39.8 831.8L83 839M45.1 805.2L83 805.6M83 839L83 805.6M83 769.9L83 805.6M83 769.9L47.8 772.8M126.2 831.8L83 839M126.2 831.8L120.9 805.2M120.9 805.2L83 805.6M126.2 831.8L128.9 834.3M83 867.5L83 839M123 873L127 868.8M127 868.8L128.9 834.3M127 793.5L120.9 805.2M127 793.5L118.2 772.8M118.2 772.8L83 769.9M293.6 763.9L276.9 774M293.6 763.9L310.3 769.4M310.3 769.4L312.8 802.2M276.9 774L277.5 795.3M277.5 795.3L302.2 808M302.2 808L312.8 802.2M197.1 804.1L162.6 795M197.1 804.1L182.8 838.6M162.6 795L158.5 830.8M158.5 830.8L172.3 841.8M182.8 838.6L172.3 841.8M160.7 792.1L162.6 795M127 793.5L160.7 792.1M128.9 834.3L158.5 830.8M166.6 871.2L166.7 871.1M166.6 871.2L127 868.8M166.7 871.1L172.3 841.8M195.9 881.3L166.7 871.1M195.9 881.3L213.1 873.2M214.6 854.2L213.1 873.2M210.4 848.4L214.6 854.2M210.4 848.4L182.8 838.6M289.8 732L293.6 763.9M289.8 732L258.7 736.2M276.9 774L260.5 766.4M258.7 736.2L260.5 766.4M83 867.5L43 873M83 921.2L41.1 900.4M83 926.3L83 921.2M83 926.3L122.3 948.2M83 984L112.1 984M122.3 948.2L112.1 984M122.3 1019.8L112.1 984M409.7 729.6L419 697.4M407.7 685.7L419 697.4M409.7 729.6L385.7 727.2M407.7 685.7L381.7 691.2M385.7 727.2L381.7 691.2M463.2 665.3L460.7 627.9M463.2 665.3L451.1 670M460.7 627.9L455.3 624.2M455.3 624.2L431.8 629.5M451.1 670L425.6 655.8M431.8 629.5L425.6 655.8M407.7 685.7L413 661.5M451.1 670L441.7 696.4M419 697.4L441.7 696.4M413 661.5L425.6 655.8M63.7 575.2L83 578M83 515.5L83 578M83 515.5L77.2 513.6M113.3 557.6L89.8 515.5M102.3 575.2L113.3 557.6M89.8 515.5L83 515.5M102.3 575.2L83 578M89.8 515.5L113.3 473.4M83 769.9L83 734.8M49.5 728.4L83 734.8M64.8 631.4L83 630.7M83 684L83 630.7M58.1 685.1L83 684M83 578L83 630.7M129.3 602.4L128.3 598.1M102.3 575.2L128.3 598.1M101.2 631.4L83 630.7M129.3 602.4L101.2 631.4M83 734.8L83 684M160.7 792.1L165.6 771.4M165.6 771.4L157.7 757.2M118.2 772.8L130.6 751.1M157.7 757.2L130.6 751.1M302.2 808L296.4 830.9M256.3 811.7L282 837.4M256.3 811.7L277.5 795.3M282 837.4L296.4 830.9M375.3 764.4L370.8 768.9M375.3 764.4L373.8 735.3M370.8 768.9L344.6 771.4M356.4 729.7L373.8 735.3M356.4 729.7L331.8 745.8M344.6 771.4L330.4 759.2M331.8 745.8L330.4 759.2M339.7 803.3L344.6 771.4M339.7 803.3L372.3 809.3M372.3 809.3L374.5 807.2M374.5 807.2L370.8 768.9M345.6 701.3L356.4 729.7M317.8 711L345.6 701.3M311.4 724.3L331.8 745.8M333.6 807L312.8 802.2M333.6 807L339.7 803.3M310.3 769.4L330.4 759.2M289.8 732L292.1 729.2M157.7 757.2L175.4 726.4M175.4 726.4L197.2 737.6M165.6 771.4L196.6 765.7M197.2 737.6L196.6 765.7M163.8 662.4L201.4 652.4M163.8 662.4L151.9 642.2M151.9 642.2L153.2 637.6M153.2 637.6L191.2 625.6M201.4 652.4L199.2 630M199.2 630L191.2 625.6M146.5 613.5L129.3 602.4M121.5 652L101.2 631.4M146.5 613.5L153.2 637.6M121.5 652L151.9 642.2M177.2 596.6L146.5 613.5M177.2 596.6L191.2 625.6M221 614.9L237.7 623.1M221 614.9L199.2 630M245.3 652L237.7 623.1M207.6 659.5L243.8 657.2M245.3 652L243.8 657.2M207.6 659.5L201.4 652.4M122.3 948.2L134.5 943.4M124.9 900.4L137 909.4M134.5 943.4L137 909.4M166.6 871.2L159.5 905.6M137 909.4L159.5 905.6M195.9 881.3L191.4 912.6M191.4 912.6L172.3 915.8M159.5 905.6L172.3 915.8M371.7 834.8L393.1 849.2M420.7 828.3L393.1 849.2M420.7 828.3L420.1 824.6M374.5 807.2L398.8 803.9M372.3 809.3L371.7 834.8M420.1 824.6L398.8 803.9M460.2 798.6L441.9 794.9M460.2 798.6L471.3 827.1M441.9 794.9L420.1 824.6M420.7 828.3L436.1 840.1M436.1 840.1L471.3 827.1M436.1 840.1L439.5 868.3M393.9 868.6L393.1 849.2M393.9 868.6L417.2 880.2M417.2 880.2L439.5 868.3M412.8 732.8L439.1 735M412.8 732.8L409.8 771.7M439.1 735L448.3 756.3M448.3 756.3L430.8 776.3M430.8 776.3L410.4 772.5M409.8 771.7L410.4 772.5M455.8 714.2L441.7 696.4M409.7 729.6L412.8 732.8M455.8 714.2L439.1 735M385.7 727.2L373.8 735.3M375.3 764.4L409.8 771.7M479.7 777.9L472.2 759.6M472.2 759.6L448.3 756.3M441.9 794.9L430.8 776.3M460.2 798.6L479.7 777.9M398.8 803.9L410.4 772.5M368.3 672.7L346 646.2M368.3 672.7L368.2 683.3M368.2 683.3L348.5 694.3M348.5 694.3L322.7 668.8M322.7 668.8L336 643.4M336 643.4L346 646.2M391.1 648L385.5 626.4M385.5 626.4L346 646.2M391.1 648L368.3 672.7M391.1 648L413 661.5M381.7 691.2L368.2 683.3M345.6 701.3L348.5 694.3M299.4 677.1L322.7 668.8M213.1 873.2L226.4 884.2M226.4 884.2L229.6 907.3M191.4 912.6L200.9 918.9M200.9 918.9L229.6 907.3M243.6 845.7L264.6 863.1M243.6 845.7L214.6 854.2M226.4 884.2L259.4 872.8M259.4 872.8L264.6 863.1M246 812.1L243.6 845.7M246 812.1L256.3 811.7M282 837.4L271.5 860.5M264.6 863.1L271.5 860.5M299.2 1024.5L298.3 984M298.3 984L269.4 984M262.5 1014.6L269.4 984M375.8 882.3L379.3 906.7M393.9 868.6L375.8 882.3M417.2 880.2L417.3 908.4M417.3 908.4L401.1 919.3M401.1 919.3L379.3 906.7M371.7 834.8L346 849M375.8 882.3L358.1 877.2M358.1 877.2L346 849M293.4 872.6L271.5 860.5M296.4 830.9L323.1 850.3M293.4 872.6L315.3 865.3M315.3 865.3L323.1 850.3M333.6 807L335.2 845.7M323.1 850.3L335.2 845.7M335.2 845.7L346 849M298.3 984L299.2 943.5M262.5 953.4L269.4 984M262.5 953.4L272.4 940.8M299.2 943.5L272.4 940.8M293.4 872.6L293.8 901.9M259.4 872.8L267 907.7M293.8 901.9L267 907.7M229.6 907.3L239.7 915.1M239.7 915.1L262.4 914M262.4 914L267 907.7M219.7 595.6L221 614.9M219.7 595.6L203.8 582.3M177.2 596.6L179.3 589.5M203.8 582.3L179.3 589.5M128.3 598.1L158.3 561.4M179.3 589.5L158.3 561.4M131.8 550L113.3 557.6M131.8 550L158.3 561.1M158.3 561.1L158.3 561.4M331.7 635.1L336 643.4M291.3 669.7L296.4 676.4M291.3 669.7L289.3 634.3M331.7 635.1L304 625.3M289.3 634.3L304 625.3M291.3 669.7L248.2 665.1M243.8 657.2L248.2 665.1M245.3 652L281.4 632.1M289.3 634.3L281.4 632.1M237.7 623.1L262 608.2M281.4 632.1L262 608.2M131.8 481L129.2 515.5M89.8 515.5L129.2 515.5M131.8 550L129.2 515.5M83 734.8L116.5 728.4M83 684L107.9 685.1M116.5 728.4L107.9 685.1M130.6 751.1L123.1 731.4M116.5 728.4L123.1 731.4M121.5 652L117.6 679M107.9 685.1L117.6 679M238.9 775.6L229 770.8M238.9 775.6L245.7 811.9M229 770.8L208.3 776.4M208.3 776.4L201.9 802.2M201.9 802.2L220 814.2M245.7 811.9L220 814.2M260.5 766.4L238.9 775.6M246 812.1L245.7 811.9M196.6 765.7L208.3 776.4M197.1 804.1L201.9 802.2M210.4 848.4L220 814.2M219 701.1L245.6 693M219 701.1L217.6 729.9M253.8 732.6L229 737.3M253.8 732.6L254.1 700.6M254.1 700.6L245.6 693M217.6 729.9L229 737.3M203 689.9L207.6 659.5M203 689.9L219 701.1M248.2 665.1L245.6 693M258.7 736.2L253.8 732.6M229 770.8L229 737.3M278.9 698.9L254.1 700.6M197.2 737.6L217.6 729.9M172.3 915.8L166.2 943.6M134.5 943.4L151.2 950.2M166.2 943.6L151.2 950.2M112.1 984L154.5 984M151.2 950.2L154.5 984M151.2 1017.8L154.5 984M528.2 651.3L498.1 631.8M498.1 631.8L485.8 667M530.1 655.5L516.5 674.7M528.2 651.3L530.1 655.5M516.5 674.7L485.8 667M463.2 665.3L479.1 670.3M494.6 624.2L495.8 625.2M498.1 631.8L495.8 625.2M460.7 627.9L494.6 624.2M479.1 670.3L485.8 667M473.9 828.4L482.1 852.1M471.3 827.1L473.9 828.4M454.9 876.1L439.5 868.3M454.9 876.1L467.3 873.3M467.3 873.3L482.1 852.1M306.9 938.1L309 911.1M306.9 938.1L333.3 948.4M333.3 948.4L352.7 938.7M309 911.1L331.6 899M352.7 938.7L353.7 923.7M353.7 923.7L331.7 899M331.6 899L331.7 899M299.2 943.5L306.9 938.1M293.8 901.9L309 911.1M272.4 940.8L262.4 914M298.3 984L330.7 984M330.7 984L333.3 948.4M315.3 865.3L331.6 899M379.3 906.7L353.7 923.7M358.1 877.2L331.7 899M421.3 588L419.4 585.9M421.3 588L417.5 617.2M419.4 585.9L394.2 581M417.5 617.2L385.5 626.4M394.2 581L383.1 589.1M383.1 589.1L378.6 613.6M385.5 626.4L378.6 613.6M431.8 629.5L417.5 617.2M385.5 626.4L385.5 626.4M353.9 574.5L383.1 589.1M338.3 588.9L353.9 574.5M345.2 608.7L338.3 588.9M345.2 608.7L378.6 613.6M331.7 635.1L345.2 608.7M528.2 651.3L541.1 611.6M495.8 625.2L532.7 607.6M541.1 611.6L532.7 607.6M537.4 905.8L503.9 889.8M537.4 905.8L517.7 929.7M517.7 929.7L491.7 903M503.9 889.8L493.1 897.1M491.7 903L493.1 897.1M467.3 873.3L493.1 897.1M482.1 852.1L507.5 858M512.3 868.4L503.9 889.8M507.5 858L512.3 868.4M585.5 948L556 948.2M556 984L556 948.2M591.9 1019.5L556 984M146.8 713.9L144.6 688.3M146.8 713.9L174.8 725.1M187 695.1L161.7 676.8M187 695.1L174.8 725.1M161.7 676.8L144.6 688.3M123.1 731.4L146.8 713.9M117.6 679L144.6 688.3M175.4 726.4L174.8 725.1M163.8 662.4L161.7 676.8M203 689.9L187 695.1M200.9 918.9L205.2 944.3M239.7 915.1L229.5 952M229.5 952L205.2 944.3M262.5 953.4L229.6 952.1M229.5 952L229.6 952.1M166.2 943.6L189.4 955.5M205.2 944.3L189.4 955.5M530.1 655.5L556 659.9M556 659.9L556 702.2M519.9 689.4L556 702.2M516.5 674.7L519.9 689.4M581.9 655.5L556 659.9M592.1 689.4L556 702.2M464.8 714.8L481.1 743.5M464.8 714.8L481.7 701.9M481.7 701.9L504.9 708.4M481.1 743.5L511.8 736.5M504.9 708.4L512.7 732M512.7 732L511.8 736.5M455.8 714.2L464.8 714.8M472.2 759.6L481.1 743.5M479.1 670.3L481.7 701.9M519.9 689.4L504.9 708.4M556 710L556 702.2M556 710L512.7 732M516.8 744.8L514.8 772.3M516.8 744.8L511.8 736.5M479.7 777.9L495.5 782.8M495.5 782.8L514.8 772.3M473.9 828.4L503 814.1M495.5 782.8L503 814.1M520.5 837.2L516.2 819.2M520.5 837.2L507.5 858M503 814.1L516.2 819.2M556 710L556 750.2M516.8 744.8L556 750.2M330.7 984L333.3 1019.6M352.7 938.7L363.4 947.1M363.4 947.1L366.6 984M330.7 984L366.6 984M229.6 1015.9L227 984M227 984L188.1 984M189.4 1012.5L188.1 984M269.4 984L227 984M229.6 952.1L227 984M189.4 955.5L188.1 984M154.5 984L188.1 984M262 608.2L264.8 591.8M219.7 595.6L246.6 579.9M264.8 591.8L246.6 579.9M476.6 548.7L494.1 559.2M476.6 548.7L456.5 555.1M456.5 555.1L454.6 588.5M494.1 559.2L497.6 578.7M455.6 589.4L488.6 589.3M455.6 589.4L454.6 588.5M488.6 589.3L497.6 578.7M455.3 624.2L455.6 589.4M494.6 624.2L488.6 589.3M421.3 588L454.6 588.5M521.7 584.1L532.7 607.6M521.7 584.1L497.6 578.7M556 659.9L556 610.9M570.9 611.6L556 610.9M541.1 611.6L556 610.9M556 710L599.3 732M595.2 744.8L556 750.2M514.8 772.3L529.4 780.8M516.2 819.2L531 808.6M531 808.6L529.4 780.8M397.3 944.1L391.5 984M366.6 984L391.5 984M363.4 947.1L397.3 944.1M401.1 919.3L399.5 942.4M399.5 942.4L397.3 944.1M129.2 515.5L162.1 515.5M162.3 475.2L162.1 515.5M158.3 561.1L162.3 555.8M162.3 555.8L162.1 515.5M209.2 556.3L198.8 545.6M209.2 556.3L240.7 551.9M198.8 545.6L199.8 515.5M199.8 515.5L237 515.5M240.7 551.9L237 515.5M203.8 582.3L209.2 556.3M162.3 555.8L198.8 545.6M246.6 579.9L241.3 552.4M241.3 552.4L240.7 551.9M162.1 515.5L199.8 515.5M198.8 485.4L199.8 515.5M240.7 479.1L237 515.5M310.8 555.8L286.8 558.4M310.8 555.8L322.5 585.5M286.8 558.4L277.9 585.9M277.9 585.9L303.9 599.8M322.5 585.5L303.9 599.8M275.3 546.1L286.8 558.4M275.3 546.1L241.3 552.4M264.8 591.8L277.9 585.9M304 625.3L303.9 599.8M338.3 588.9L322.5 585.5M494.1 559.2L516.2 540.8M521.7 584.1L544.6 558.7M516.2 540.8L544.6 558.7M556 610.9L556 557.3M544.6 558.7L556 557.3M567.4 558.7L556 557.3M556 948.2L526.5 948M556 984L519.6 984M526.5 948L519.6 984M526.5 1020L519.6 984M485.3 947.4L457.5 955.1M485.3 947.4L476.2 917.3M476.2 917.3L451.5 914M443 943.9L457.5 955.1M443 943.9L444.9 918.4M451.5 914L444.9 918.4M486.7 948.1L517 938.4M517.7 929.7L517 938.4M486.7 948.1L485.3 947.4M491.7 903L476.2 917.3M454.9 876.1L451.5 914M424.1 952.9L399.5 942.4M424.1 952.9L443 943.9M417.3 908.4L444.9 918.4M533.4 872.3L540.1 904.8M533.4 872.3L556 857.3M556 857.3L556 907.4M540.1 904.8L556 907.4M512.3 868.4L533.4 872.3M537.4 905.8L540.1 904.8M520.5 837.2L556 848.4M556 848.4L556 857.3M578.6 872.3L556 857.3M571.9 904.8L556 907.4M556 948.2L556 907.4M526.5 948L517 938.4M591.5 837.2L556 848.4M582.6 780.8L556 772.7M556 772.7L556 812.8M581 808.6L556 812.8M556 750.2L556 772.7M531 808.6L556 812.8M529.4 780.8L556 772.7M556 848.4L556 812.8M366.6 984L363.4 1020.9M391.5 984L397.3 1023.9M519.6 984L494.8 984M486.7 1019.9L494.8 984M486.7 948.1L494.8 984M556 515.5L514.8 515.5M556 515.5L590.1 477.7M516.2 490.2L514.8 515.5M516.2 540.8L514.8 515.5M556 557.3L556 515.5M479.3 515.5L514.8 515.5M476.6 482.3L479.3 515.5M479.3 515.5L476.6 548.7M423.9 984L455.9 984M424.1 1015.1L423.9 984M457.5 1012.9L455.9 984M457.5 955.1L455.9 984M424.1 952.9L423.9 984M391.5 984L423.9 984M494.8 984L455.9 984M237 515.5L279.5 515.5M275.3 484.9L279.5 515.5M275.3 546.1L279.5 515.5M342.8 546L347.6 515.5M342.8 546L315.5 549.6M347.6 515.5L308.9 515.5M315.5 549.6L308.9 515.5M310.8 555.8L315.5 549.6M353.9 574.5L355.2 557.4M355.2 557.4L342.8 546M342.8 485L347.6 515.5M315.5 481.4L308.9 515.5M279.5 515.5L308.9 515.5M394.2 581L390.1 552.3M355.2 557.4L379.2 546.8M390.1 552.3L379.2 546.8M419.4 585.9L425.9 552.6M390.1 552.3L411.4 543M411.4 543L425.9 552.6M456.5 555.1L445 547.9M425.9 552.6L445 547.9M479.3 515.5L445 515.5M445 547.9L445 515.5M375.7 515.5L412.2 515.5M379.2 484.2L375.7 515.5M411.4 488L412.2 515.5M379.2 546.8L375.7 515.5M411.4 543L412.2 515.5M347.6 515.5L375.7 515.5M445 515.5L412.2 515.5M445 515.5L445 483.1" stroke="#a8a8a8" stroke-width="0.8" fill="none"/>
<line x1="79.5" y1="551" x2="108.1" y2="546" stroke="#b51f2e" stroke-width="4.4" stroke-opacity="0.72"/>
<circle cx="93.8" cy="548.5" r="2.3" fill="#b51f2e" fill-opacity="0.55"/>
<line x1="131.6" y1="537.6" x2="159.7" y2="530.3" stroke="#c7433f" stroke-width="4.4" stroke-opacity="0.72"/>
<circle cx="145.6" cy="533.9" r="2.3" fill="#c7433f" fill-opacity="0.55"/>
<line x1="167.2" y1="542.5" x2="190.2" y2="525" stroke="#fcdfce" stroke-width="4.4" stroke-opacity="0.72"/>
<circle cx="178.7" cy="533.8" r="2.3" fill="#fcdfce" fill-opacity="0.55"/>
<line x1="216.8" y1="549.4" x2="222.4" y2="520.9" stroke="#286fb0" stroke-width="4.4" stroke-opacity="0.72"/>
<circle cx="219.6" cy="535.2" r="2.3" fill="#286fb0" fill-opacity="0.55"/>
<line x1="243.5" y1="529.5" x2="272.3" y2="533" stroke="#9e1127" stroke-width="4.4" stroke-opacity="0.72"/>
<circle cx="257.9" cy="531.3" r="2.3" fill="#9e1127" fill-opacity="0.55"/>
<line x1="281.5" y1="534.9" x2="310.4" y2="538.1" stroke="#991027" stroke-width="4.4" stroke-opacity="0.72"/>
<circle cx="295.9" cy="536.5" r="2.3" fill="#991027" fill-opacity="0.55"/>
<line x1="315.7" y1="523.8" x2="341.9" y2="536.3" stroke="#ee9878" stroke-width="4.4" stroke-opacity="0.72"/>
<circle cx="328.8" cy="530.1" r="2.3" fill="#ee9878" fill-opacity="0.55"/>
<line x1="347.3" y1="530.4" x2="374.7" y2="539.8" stroke="#d86551" stroke-width="4.4" stroke-opacity="0.72"/>
<circle cx="361" cy="535.1" r="2.3" fill="#d86551" fill-opacity="0.55"/>
<line x1="380" y1="533.1" x2="408.8" y2="529.8" stroke="#9b1027" stroke-width="4.4" stroke-opacity="0.72"/>
<circle cx="394.4" cy="531.4" r="2.3" fill="#9b1027" fill-opacity="0.55"/>
<line x1="414.9" y1="529.2" x2="443.2" y2="535.6" stroke="#c03538" stroke-width="4.4" stroke-opacity="0.72"/>
<circle cx="429.1" cy="532.4" r="2.3" fill="#c03538" fill-opacity="0.55"/>
<line x1="458.7" y1="546.7" x2="463.2" y2="518.1" stroke="#2064aa" stroke-width="4.4" stroke-opacity="0.72"/>
<circle cx="460.9" cy="532.4" r="2.3" fill="#2064aa" fill-opacity="0.55"/>
<line x1="480.3" y1="536.9" x2="509.1" y2="533.4" stroke="#9e1127" stroke-width="4.4" stroke-opacity="0.72"/>
<circle cx="494.7" cy="535.2" r="2.3" fill="#9e1127" fill-opacity="0.55"/>
<line x1="522.6" y1="530.2" x2="551.2" y2="535.3" stroke="#b51f2e" stroke-width="4.4" stroke-opacity="0.72"/>
<circle cx="536.9" cy="532.7" r="2.3" fill="#b51f2e" fill-opacity="0.55"/>
<line x1="103.7" y1="544.2" x2="127.9" y2="528.2" stroke="#faccb4" stroke-width="4.4" stroke-opacity="0.72"/>
<circle cx="115.8" cy="536.2" r="2.3" fill="#faccb4" fill-opacity="0.55"/>
<line x1="117.9" y1="563.1" x2="142.2" y2="578.9" stroke="#facab1" stroke-width="4.4" stroke-opacity="0.72"/>
<circle cx="130" cy="571" r="2.3" fill="#facab1" fill-opacity="0.55"/>
<line x1="173.4" y1="568.3" x2="202.1" y2="563.9" stroke="#b0172a" stroke-width="4.4" stroke-opacity="0.72"/>
<circle cx="187.7" cy="566.1" r="2.3" fill="#b0172a" fill-opacity="0.55"/>
<line x1="210.5" y1="572.6" x2="239.4" y2="575" stroke="#8d0c25" stroke-width="4.4" stroke-opacity="0.72"/>
<circle cx="225" cy="573.8" r="2.3" fill="#8d0c25" fill-opacity="0.55"/>
<line x1="249.9" y1="565.9" x2="278.9" y2="566.4" stroke="#6c011f" stroke-width="4.4" stroke-opacity="0.72"/>
<circle cx="264.4" cy="566.1" r="2.3" fill="#6c011f" fill-opacity="0.55"/>
<line x1="286.1" y1="576" x2="314.8" y2="579.7" stroke="#a11228" stroke-width="4.4" stroke-opacity="0.72"/>
<circle cx="300.4" cy="577.8" r="2.3" fill="#a11228" fill-opacity="0.55"/>
<line x1="319.9" y1="559.6" x2="347" y2="570.2" stroke="#e0785f" stroke-width="4.4" stroke-opacity="0.72"/>
<circle cx="333.5" cy="564.9" r="2.3" fill="#e0785f" fill-opacity="0.55"/>
<line x1="361.2" y1="566.5" x2="390" y2="569.7" stroke="#991027" stroke-width="4.4" stroke-opacity="0.72"/>
<circle cx="375.6" cy="568.1" r="2.3" fill="#991027" fill-opacity="0.55"/>
<line x1="396.1" y1="570.9" x2="420.8" y2="555.7" stroke="#f8c1a6" stroke-width="4.4" stroke-opacity="0.72"/>
<circle cx="408.4" cy="563.3" r="2.3" fill="#f8c1a6" fill-opacity="0.55"/>
<line x1="424.7" y1="574.7" x2="451.4" y2="563.3" stroke="#e6856a" stroke-width="4.4" stroke-opacity="0.72"/>
<circle cx="438.1" cy="569" r="2.3" fill="#e6856a" fill-opacity="0.55"/>
<line x1="459.3" y1="566.9" x2="487.1" y2="575.1" stroke="#ce5146" stroke-width="4.4" stroke-opacity="0.72"/>
<circle cx="473.2" cy="571" r="2.3" fill="#ce5146" fill-opacity="0.55"/>
<line x1="514" y1="576.9" x2="521.7" y2="548.9" stroke="#3884bb" stroke-width="4.4" stroke-opacity="0.72"/>
<circle cx="517.9" cy="562.9" r="2.3" fill="#3884bb" fill-opacity="0.55"/>
<line x1="529.8" y1="580.1" x2="556.5" y2="591.2" stroke="#e58368" stroke-width="4.4" stroke-opacity="0.72"/>
<circle cx="543.2" cy="585.7" r="2.3" fill="#e58368" fill-opacity="0.55"/>
<line x1="94.9" y1="616.2" x2="108.5" y2="590.5" stroke="#98c8df" stroke-width="4.4" stroke-opacity="0.72"/>
<circle cx="101.7" cy="603.3" r="2.3" fill="#98c8df" fill-opacity="0.55"/>
<line x1="140" y1="590.2" x2="169" y2="591.7" stroke="#7e0722" stroke-width="4.4" stroke-opacity="0.72"/>
<circle cx="154.5" cy="591" r="2.3" fill="#7e0722" fill-opacity="0.55"/>
<line x1="163.4" y1="631.7" x2="176.4" y2="605.8" stroke="#90c4dd" stroke-width="4.4" stroke-opacity="0.72"/>
<circle cx="169.9" cy="618.8" r="2.3" fill="#90c4dd" fill-opacity="0.55"/>
<line x1="186.8" y1="597" x2="211.4" y2="612.3" stroke="#f8c1a6" stroke-width="4.4" stroke-opacity="0.72"/>
<circle cx="199.1" cy="604.6" r="2.3" fill="#f8c1a6" fill-opacity="0.55"/>
<line x1="226.9" y1="599.7" x2="255.6" y2="603.9" stroke="#ad162a" stroke-width="4.4" stroke-opacity="0.72"/>
<circle cx="241.2" cy="601.8" r="2.3" fill="#ad162a" fill-opacity="0.55"/>
<line x1="269.8" y1="604.8" x2="297.5" y2="613.3" stroke="#d15749" stroke-width="4.4" stroke-opacity="0.72"/>
<circle cx="283.7" cy="609" r="2.3" fill="#d15749" fill-opacity="0.55"/>
<line x1="323.3" y1="623.3" x2="325.1" y2="594.4" stroke="#0e437b" stroke-width="4.4" stroke-opacity="0.72"/>
<circle cx="324.2" cy="608.8" r="2.3" fill="#0e437b" fill-opacity="0.55"/>
<line x1="350.7" y1="586.4" x2="372.9" y2="605" stroke="#fae7db" stroke-width="4.4" stroke-opacity="0.72"/>
<circle cx="361.8" cy="595.7" r="2.3" fill="#fae7db" fill-opacity="0.55"/>
<line x1="386.2" y1="602.2" x2="415.2" y2="603.2" stroke="#750421" stroke-width="4.4" stroke-opacity="0.72"/>
<circle cx="400.7" cy="602.7" r="2.3" fill="#750421" fill-opacity="0.55"/>
<line x1="423.8" y1="612" x2="451.3" y2="602.8" stroke="#d7624f" stroke-width="4.4" stroke-opacity="0.72"/>
<circle cx="437.5" cy="607.4" r="2.3" fill="#d7624f" fill-opacity="0.55"/>
<line x1="468.3" y1="594.2" x2="478.4" y2="621.3" stroke="#559ec9" stroke-width="4.4" stroke-opacity="0.72"/>
<circle cx="473.3" cy="607.7" r="2.3" fill="#559ec9" fill-opacity="0.55"/>
<line x1="520.6" y1="615.4" x2="524.4" y2="644.1" stroke="#1c5c9e" stroke-width="4.4" stroke-opacity="0.72"/>
<circle cx="522.5" cy="629.7" r="2.3" fill="#1c5c9e" fill-opacity="0.55"/>
<line x1="495.8" y1="595.9" x2="522.5" y2="607.3" stroke="#e6856a" stroke-width="4.4" stroke-opacity="0.72"/>
<circle cx="509.1" cy="601.6" r="2.3" fill="#e6856a" fill-opacity="0.55"/>
<line x1="123.3" y1="616.9" x2="135.2" y2="643.3" stroke="#77b4d5" stroke-width="4.4" stroke-opacity="0.72"/>
<circle cx="129.2" cy="630.1" r="2.3" fill="#77b4d5" fill-opacity="0.55"/>
<line x1="127.9" y1="658.3" x2="153.2" y2="672.4" stroke="#f5b090" stroke-width="4.4" stroke-opacity="0.72"/>
<circle cx="140.5" cy="665.3" r="2.3" fill="#f5b090" fill-opacity="0.55"/>
<line x1="165.1" y1="650.7" x2="190.3" y2="636.3" stroke="#f6b496" stroke-width="4.4" stroke-opacity="0.72"/>
<circle cx="177.7" cy="643.5" r="2.3" fill="#f6b496" fill-opacity="0.55"/>
<line x1="209.4" y1="633.7" x2="236.5" y2="644.1" stroke="#df755d" stroke-width="4.4" stroke-opacity="0.72"/>
<circle cx="222.9" cy="638.9" r="2.3" fill="#df755d" fill-opacity="0.55"/>
<line x1="254.9" y1="615.5" x2="261.9" y2="643.6" stroke="#347fb9" stroke-width="4.4" stroke-opacity="0.72"/>
<circle cx="258.4" cy="629.6" r="2.3" fill="#347fb9" fill-opacity="0.55"/>
<line x1="307.7" y1="636.3" x2="310.9" y2="665.1" stroke="#175493" stroke-width="4.4" stroke-opacity="0.72"/>
<circle cx="309.3" cy="650.7" r="2.3" fill="#175493" fill-opacity="0.55"/>
<line x1="356.1" y1="611.4" x2="358.6" y2="640.3" stroke="#134b87" stroke-width="4.4" stroke-opacity="0.72"/>
<circle cx="357.4" cy="625.9" r="2.3" fill="#134b87" fill-opacity="0.55"/>
<line x1="355.1" y1="645.4" x2="383.1" y2="653.2" stroke="#cc4c43" stroke-width="4.4" stroke-opacity="0.72"/>
<circle cx="369.1" cy="649.3" r="2.3" fill="#cc4c43" fill-opacity="0.55"/>
<line x1="409" y1="652.9" x2="412.9" y2="624.1" stroke="#1d5ea1" stroke-width="4.4" stroke-opacity="0.72"/>
<circle cx="410.9" cy="638.5" r="2.3" fill="#1d5ea1" fill-opacity="0.55"/>
<line x1="433.3" y1="640.8" x2="459.5" y2="653.1" stroke="#ed9676" stroke-width="4.4" stroke-opacity="0.72"/>
<circle cx="446.4" cy="646.9" r="2.3" fill="#ed9676" fill-opacity="0.55"/>
<line x1="463.3" y1="648.6" x2="491.3" y2="641.1" stroke="#c94641" stroke-width="4.4" stroke-opacity="0.72"/>
<circle cx="477.3" cy="644.9" r="2.3" fill="#c94641" fill-opacity="0.55"/>
<line x1="500.3" y1="668.2" x2="512.1" y2="641.7" stroke="#77b4d5" stroke-width="4.4" stroke-opacity="0.72"/>
<circle cx="506.2" cy="654.9" r="2.3" fill="#77b4d5" fill-opacity="0.55"/>
<line x1="532.8" y1="644.2" x2="558.2" y2="630.1" stroke="#f5b090" stroke-width="4.4" stroke-opacity="0.72"/>
<circle cx="545.5" cy="637.2" r="2.3" fill="#f5b090" fill-opacity="0.55"/>
<line x1="85" y1="657.7" x2="113.8" y2="661.2" stroke="#9e1127" stroke-width="4.4" stroke-opacity="0.72"/>
<circle cx="99.4" cy="659.5" r="2.3" fill="#9e1127" fill-opacity="0.55"/>
<line x1="126.3" y1="718.4" x2="128.1" y2="689.4" stroke="#0f457e" stroke-width="4.4" stroke-opacity="0.72"/>
<circle cx="127.2" cy="703.9" r="2.3" fill="#0f457e" fill-opacity="0.55"/>
<line x1="170.9" y1="669.7" x2="199.6" y2="674" stroke="#ad162a" stroke-width="4.4" stroke-opacity="0.72"/>
<circle cx="185.2" cy="671.9" r="2.3" fill="#ad162a" fill-opacity="0.55"/>
<line x1="221.9" y1="663.9" x2="228.8" y2="692" stroke="#317cb7" stroke-width="4.4" stroke-opacity="0.72"/>
<circle cx="225.4" cy="677.9" r="2.3" fill="#317cb7" fill-opacity="0.55"/>
<line x1="266.1" y1="667.6" x2="270.3" y2="696.3" stroke="#1e60a4" stroke-width="4.4" stroke-opacity="0.72"/>
<circle cx="268.2" cy="682" r="2.3" fill="#1e60a4" fill-opacity="0.55"/>
<line x1="265" y1="666" x2="277.5" y2="639.8" stroke="#84bcd9" stroke-width="4.4" stroke-opacity="0.72"/>
<circle cx="271.3" cy="652.9" r="2.3" fill="#84bcd9" fill-opacity="0.55"/>
<line x1="327.6" y1="735.4" x2="342" y2="710.2" stroke="#a4cee3" stroke-width="4.4" stroke-opacity="0.72"/>
<circle cx="334.8" cy="722.8" r="2.3" fill="#a4cee3" fill-opacity="0.55"/>
<line x1="330.6" y1="669.5" x2="359.6" y2="669.6" stroke="#67001f" stroke-width="4.4" stroke-opacity="0.72"/>
<circle cx="345.1" cy="669.6" r="2.3" fill="#67001f" fill-opacity="0.55"/>
<line x1="379.5" y1="661.8" x2="403.5" y2="678.1" stroke="#fbd0b9" stroke-width="4.4" stroke-opacity="0.72"/>
<circle cx="391.5" cy="670" r="2.3" fill="#fbd0b9" fill-opacity="0.55"/>
<line x1="426.7" y1="663.8" x2="431.3" y2="692.5" stroke="#2064aa" stroke-width="4.4" stroke-opacity="0.72"/>
<circle cx="429" cy="678.1" r="2.3" fill="#2064aa" fill-opacity="0.55"/>
<line x1="456.8" y1="703.2" x2="469.4" y2="677.1" stroke="#87beda" stroke-width="4.4" stroke-opacity="0.72"/>
<circle cx="463.1" cy="690.2" r="2.3" fill="#87beda" fill-opacity="0.55"/>
<line x1="484.9" y1="681.2" x2="511.3" y2="693.2" stroke="#eb9072" stroke-width="4.4" stroke-opacity="0.72"/>
<circle cx="498.1" cy="687.2" r="2.3" fill="#eb9072" fill-opacity="0.55"/>
<line x1="532.6" y1="664.7" x2="544.6" y2="691.1" stroke="#7ab6d6" stroke-width="4.4" stroke-opacity="0.72"/>
<circle cx="538.6" cy="677.9" r="2.3" fill="#7ab6d6" fill-opacity="0.55"/>
<line x1="83.5" y1="714.2" x2="111.1" y2="705.5" stroke="#d35a4a" stroke-width="4.4" stroke-opacity="0.72"/>
<circle cx="97.3" cy="709.9" r="2.3" fill="#d35a4a" fill-opacity="0.55"/>
<line x1="162.9" y1="686.3" x2="166" y2="715.2" stroke="#175493" stroke-width="4.4" stroke-opacity="0.72"/>
<circle cx="164.4" cy="700.7" r="2.3" fill="#175493" fill-opacity="0.55"/>
<line x1="185" y1="717.6" x2="213.5" y2="712.2" stroke="#b82431" stroke-width="4.4" stroke-opacity="0.72"/>
<circle cx="199.2" cy="714.9" r="2.3" fill="#b82431" fill-opacity="0.55"/>
<line x1="235" y1="731.1" x2="239.6" y2="702.4" stroke="#2064aa" stroke-width="4.4" stroke-opacity="0.72"/>
<circle cx="237.3" cy="716.8" r="2.3" fill="#2064aa" fill-opacity="0.55"/>
<line x1="268.1" y1="702.8" x2="272.9" y2="731.4" stroke="#2368ad" stroke-width="4.4" stroke-opacity="0.72"/>
<circle cx="270.5" cy="717.1" r="2.3" fill="#2368ad" fill-opacity="0.55"/>
<line x1="284.3" y1="710.2" x2="311.5" y2="700.2" stroke="#dd7059" stroke-width="4.4" stroke-opacity="0.72"/>
<circle cx="297.9" cy="705.2" r="2.3" fill="#dd7059" fill-opacity="0.55"/>
<line x1="309.3" y1="691.1" x2="338.3" y2="691.3" stroke="#69001f" stroke-width="4.4" stroke-opacity="0.72"/>
<circle cx="323.8" cy="691.2" r="2.3" fill="#69001f" fill-opacity="0.55"/>
<line x1="353.7" y1="707.4" x2="382.1" y2="712.9" stroke="#b92732" stroke-width="4.4" stroke-opacity="0.72"/>
<circle cx="367.9" cy="710.1" r="2.3" fill="#b92732" fill-opacity="0.55"/>
<line x1="385" y1="708.9" x2="413.6" y2="704.3" stroke="#b0172a" stroke-width="4.4" stroke-opacity="0.72"/>
<circle cx="399.3" cy="706.6" r="2.3" fill="#b0172a" fill-opacity="0.55"/>
<line x1="425.7" y1="702.1" x2="435.8" y2="729.3" stroke="#559ec9" stroke-width="4.4" stroke-opacity="0.72"/>
<circle cx="430.7" cy="715.7" r="2.3" fill="#559ec9" fill-opacity="0.55"/>
<line x1="487" y1="737.4" x2="489.2" y2="708.4" stroke="#124984" stroke-width="4.4" stroke-opacity="0.72"/>
<circle cx="488.1" cy="722.9" r="2.3" fill="#124984" fill-opacity="0.55"/>
<line x1="521.7" y1="696.7" x2="532.5" y2="723.6" stroke="#65a8ce" stroke-width="4.4" stroke-opacity="0.72"/>
<circle cx="527.1" cy="710.1" r="2.3" fill="#65a8ce" fill-opacity="0.55"/>
<line x1="533.8" y1="719.7" x2="544" y2="746.9" stroke="#58a0ca" stroke-width="4.4" stroke-opacity="0.72"/>
<circle cx="538.9" cy="733.3" r="2.3" fill="#58a0ca" fill-opacity="0.55"/>
<line x1="93" y1="760.3" x2="117.8" y2="745.2" stroke="#f8bfa3" stroke-width="4.4" stroke-opacity="0.72"/>
<circle cx="105.4" cy="752.7" r="2.3" fill="#f8bfa3" fill-opacity="0.55"/>
<line x1="136.4" y1="739.2" x2="164.5" y2="732" stroke="#c6403e" stroke-width="4.4" stroke-opacity="0.72"/>
<circle cx="150.5" cy="735.6" r="2.3" fill="#c6403e" fill-opacity="0.55"/>
<line x1="165.5" y1="751" x2="194.4" y2="754" stroke="#960f26" stroke-width="4.4" stroke-opacity="0.72"/>
<circle cx="179.9" cy="752.5" r="2.3" fill="#960f26" fill-opacity="0.55"/>
<line x1="199.5" y1="750.8" x2="228.1" y2="755.7" stroke="#b41c2d" stroke-width="4.4" stroke-opacity="0.72"/>
<circle cx="213.8" cy="753.3" r="2.3" fill="#b41c2d" fill-opacity="0.55"/>
<line x1="230.4" y1="748.9" x2="258" y2="757.8" stroke="#d45d4b" stroke-width="4.4" stroke-opacity="0.72"/>
<circle cx="244.2" cy="753.3" r="2.3" fill="#d45d4b" fill-opacity="0.55"/>
<line x1="260.8" y1="749.2" x2="289.5" y2="753.8" stroke="#b0172a" stroke-width="4.4" stroke-opacity="0.72"/>
<circle cx="275.2" cy="751.5" r="2.3" fill="#b0172a" fill-opacity="0.55"/>
<line x1="294.3" y1="745.4" x2="323" y2="749.6" stroke="#aa1529" stroke-width="4.4" stroke-opacity="0.72"/>
<circle cx="308.6" cy="747.5" r="2.3" fill="#aa1529" fill-opacity="0.55"/>
<line x1="339.7" y1="751.3" x2="368.7" y2="753.3" stroke="#870a24" stroke-width="4.4" stroke-opacity="0.72"/>
<circle cx="354.2" cy="752.3" r="2.3" fill="#870a24" fill-opacity="0.55"/>
<line x1="382.6" y1="757.5" x2="407.5" y2="742.6" stroke="#f7bb9e" stroke-width="4.4" stroke-opacity="0.72"/>
<circle cx="395" cy="750.1" r="2.3" fill="#f7bb9e" fill-opacity="0.55"/>
<line x1="413.4" y1="754.6" x2="442.1" y2="750.7" stroke="#a71429" stroke-width="4.4" stroke-opacity="0.72"/>
<circle cx="427.7" cy="752.6" r="2.3" fill="#a71429" fill-opacity="0.55"/>
<line x1="445.3" y1="740" x2="474.3" y2="737.8" stroke="#8a0b24" stroke-width="4.4" stroke-opacity="0.72"/>
<circle cx="459.8" cy="738.9" r="2.3" fill="#8a0b24" fill-opacity="0.55"/>
<line x1="481.8" y1="759.8" x2="510.8" y2="758.3" stroke="#7e0722" stroke-width="4.4" stroke-opacity="0.72"/>
<circle cx="496.3" cy="759.1" r="2.3" fill="#7e0722" fill-opacity="0.55"/>
<line x1="520.5" y1="760.8" x2="549.5" y2="762.9" stroke="#870a24" stroke-width="4.4" stroke-opacity="0.72"/>
<circle cx="535" cy="761.9" r="2.3" fill="#870a24" fill-opacity="0.55"/>
<line x1="88.7" y1="785.3" x2="115.8" y2="795.6" stroke="#de725b" stroke-width="4.4" stroke-opacity="0.72"/>
<circle cx="102.3" cy="790.5" r="2.3" fill="#de725b" fill-opacity="0.55"/>
<line x1="135.4" y1="760.6" x2="148.5" y2="786.5" stroke="#90c4dd" stroke-width="4.4" stroke-opacity="0.72"/>
<circle cx="142" cy="773.6" r="2.3" fill="#90c4dd" fill-opacity="0.55"/>
<line x1="172.7" y1="777.5" x2="198.8" y2="790.3" stroke="#f19e7c" stroke-width="4.4" stroke-opacity="0.72"/>
<circle cx="185.8" cy="783.9" r="2.3" fill="#f19e7c" fill-opacity="0.55"/>
<line x1="210.6" y1="790.4" x2="238.9" y2="796.7" stroke="#c03538" stroke-width="4.4" stroke-opacity="0.72"/>
<circle cx="224.8" cy="793.6" r="2.3" fill="#c03538" fill-opacity="0.55"/>
<line x1="245.5" y1="781.1" x2="271.7" y2="793.3" stroke="#ed9676" stroke-width="4.4" stroke-opacity="0.72"/>
<circle cx="258.6" cy="787.2" r="2.3" fill="#ed9676" fill-opacity="0.55"/>
<line x1="283.1" y1="792.8" x2="308.7" y2="779.3" stroke="#f4aa88" stroke-width="4.4" stroke-opacity="0.72"/>
<circle cx="295.9" cy="786" r="2.3" fill="#f4aa88" fill-opacity="0.55"/>
<line x1="320.4" y1="796.5" x2="333.8" y2="770.8" stroke="#95c6df" stroke-width="4.4" stroke-opacity="0.72"/>
<circle cx="327.1" cy="783.7" r="2.3" fill="#95c6df" fill-opacity="0.55"/>
<line x1="336.6" y1="822.6" x2="365.6" y2="824.7" stroke="#870a24" stroke-width="4.4" stroke-opacity="0.72"/>
<circle cx="351.1" cy="823.7" r="2.3" fill="#870a24" fill-opacity="0.55"/>
<line x1="373.1" y1="787.5" x2="401.9" y2="783.4" stroke="#aa1529" stroke-width="4.4" stroke-opacity="0.72"/>
<circle cx="387.5" cy="785.5" r="2.3" fill="#aa1529" fill-opacity="0.55"/>
<line x1="440.5" y1="779.1" x2="468.9" y2="773.4" stroke="#bb2a33" stroke-width="4.4" stroke-opacity="0.72"/>
<circle cx="454.7" cy="776.2" r="2.3" fill="#bb2a33" fill-opacity="0.55"/>
<line x1="468.4" y1="802.4" x2="497.4" y2="803.4" stroke="#750421" stroke-width="4.4" stroke-opacity="0.72"/>
<circle cx="482.9" cy="802.9" r="2.3" fill="#750421" fill-opacity="0.55"/>
<line x1="502.2" y1="800" x2="529.4" y2="790" stroke="#dd7059" stroke-width="4.4" stroke-opacity="0.72"/>
<circle cx="515.8" cy="795" r="2.3" fill="#dd7059" fill-opacity="0.55"/>
<line x1="530.2" y1="792.4" x2="559.1" y2="794.3" stroke="#840923" stroke-width="4.4" stroke-opacity="0.72"/>
<circle cx="544.6" cy="793.3" r="2.3" fill="#840923" fill-opacity="0.55"/>
<line x1="96" y1="807.5" x2="109.2" y2="833.3" stroke="#93c5de" stroke-width="4.4" stroke-opacity="0.72"/>
<circle cx="102.6" cy="820.4" r="2.3" fill="#93c5de" fill-opacity="0.55"/>
<line x1="129.6" y1="816.1" x2="157.6" y2="808.3" stroke="#ca4942" stroke-width="4.4" stroke-opacity="0.72"/>
<circle cx="143.6" cy="812.2" r="2.3" fill="#ca4942" fill-opacity="0.55"/>
<line x1="163.8" y1="821.5" x2="190.7" y2="810.6" stroke="#e27d63" stroke-width="4.4" stroke-opacity="0.72"/>
<circle cx="177.3" cy="816.1" r="2.3" fill="#e27d63" fill-opacity="0.55"/>
<line x1="190.6" y1="834.6" x2="214.7" y2="818.5" stroke="#faccb4" stroke-width="4.4" stroke-opacity="0.72"/>
<circle cx="202.6" cy="826.6" r="2.3" fill="#faccb4" fill-opacity="0.55"/>
<line x1="245.9" y1="837.9" x2="274.7" y2="834.2" stroke="#a11228" stroke-width="4.4" stroke-opacity="0.72"/>
<circle cx="260.3" cy="836.1" r="2.3" fill="#a11228" fill-opacity="0.55"/>
<line x1="266.2" y1="816.8" x2="295.1" y2="814.6" stroke="#8a0b24" stroke-width="4.4" stroke-opacity="0.72"/>
<circle cx="280.7" cy="815.7" r="2.3" fill="#8a0b24" fill-opacity="0.55"/>
<line x1="303.2" y1="827.6" x2="331.8" y2="822.6" stroke="#b51f2e" stroke-width="4.4" stroke-opacity="0.72"/>
<circle cx="317.5" cy="825.1" r="2.3" fill="#b51f2e" fill-opacity="0.55"/>
<line x1="343.1" y1="789" x2="372.1" y2="787.7" stroke="#7b0622" stroke-width="4.4" stroke-opacity="0.72"/>
<circle cx="357.6" cy="788.3" r="2.3" fill="#7b0622" fill-opacity="0.55"/>
<line x1="379.4" y1="819.1" x2="406.1" y2="830.2" stroke="#e58368" stroke-width="4.4" stroke-opacity="0.72"/>
<circle cx="392.8" cy="824.6" r="2.3" fill="#e58368" fill-opacity="0.55"/>
<line x1="405" y1="798.2" x2="433.9" y2="796.2" stroke="#870a24" stroke-width="4.4" stroke-opacity="0.72"/>
<circle cx="419.4" cy="797.2" r="2.3" fill="#870a24" fill-opacity="0.55"/>
<line x1="432.4" y1="813.3" x2="460.5" y2="820.7" stroke="#c94641" stroke-width="4.4" stroke-opacity="0.72"/>
<circle cx="446.4" cy="817" r="2.3" fill="#c94641" fill-opacity="0.55"/>
<line x1="485.2" y1="836.1" x2="514.2" y2="837.6" stroke="#7e0722" stroke-width="4.4" stroke-opacity="0.72"/>
<circle cx="499.7" cy="836.8" r="2.3" fill="#7e0722" fill-opacity="0.55"/>
<line x1="525.8" y1="821.3" x2="552.1" y2="833.6" stroke="#ed9676" stroke-width="4.4" stroke-opacity="0.72"/>
<circle cx="539" cy="827.5" r="2.3" fill="#ed9676" fill-opacity="0.55"/>
<line x1="101.5" y1="863.3" x2="113.7" y2="837" stroke="#7db8d7" stroke-width="4.4" stroke-opacity="0.72"/>
<circle cx="107.6" cy="850.2" r="2.3" fill="#7db8d7" fill-opacity="0.55"/>
<line x1="146.3" y1="838" x2="150.4" y2="866.7" stroke="#1e60a4" stroke-width="4.4" stroke-opacity="0.72"/>
<circle cx="148.4" cy="852.4" r="2.3" fill="#1e60a4" fill-opacity="0.55"/>
<line x1="178.7" y1="868.7" x2="202.5" y2="852.1" stroke="#fbd4be" stroke-width="4.4" stroke-opacity="0.72"/>
<circle cx="190.6" cy="860.4" r="2.3" fill="#fbd4be" fill-opacity="0.55"/>
<line x1="216.8" y1="842.4" x2="240" y2="825" stroke="#fcddca" stroke-width="4.4" stroke-opacity="0.72"/>
<circle cx="228.4" cy="833.7" r="2.3" fill="#fcddca" fill-opacity="0.55"/>
<line x1="222.8" y1="865.4" x2="251.7" y2="862.6" stroke="#930e26" stroke-width="4.4" stroke-opacity="0.72"/>
<circle cx="237.3" cy="864" r="2.3" fill="#930e26" fill-opacity="0.55"/>
<line x1="282.9" y1="851.6" x2="311.8" y2="853.9" stroke="#8a0b24" stroke-width="4.4" stroke-opacity="0.72"/>
<circle cx="297.3" cy="852.8" r="2.3" fill="#8a0b24" fill-opacity="0.55"/>
<line x1="321.9" y1="876.8" x2="349.8" y2="868.8" stroke="#cd4f44" stroke-width="4.4" stroke-opacity="0.72"/>
<circle cx="335.9" cy="872.8" r="2.3" fill="#cd4f44" fill-opacity="0.55"/>
<line x1="355.7" y1="859.1" x2="384.6" y2="857" stroke="#870a24" stroke-width="4.4" stroke-opacity="0.72"/>
<circle cx="370.2" cy="858.1" r="2.3" fill="#870a24" fill-opacity="0.55"/>
<line x1="411.2" y1="869.6" x2="422" y2="842.7" stroke="#65a8ce" stroke-width="4.4" stroke-opacity="0.72"/>
<circle cx="416.6" cy="856.2" r="2.3" fill="#65a8ce" fill-opacity="0.55"/>
<line x1="444.4" y1="851.8" x2="473.4" y2="850.1" stroke="#810823" stroke-width="4.4" stroke-opacity="0.72"/>
<circle cx="458.9" cy="851" r="2.3" fill="#810823" fill-opacity="0.55"/>
<line x1="477.3" y1="877.9" x2="505" y2="869.1" stroke="#d45d4b" stroke-width="4.4" stroke-opacity="0.72"/>
<circle cx="491.1" cy="873.5" r="2.3" fill="#d45d4b" fill-opacity="0.55"/>
<line x1="515.6" y1="854.2" x2="544.4" y2="857.3" stroke="#991027" stroke-width="4.4" stroke-opacity="0.72"/>
<circle cx="530" cy="855.7" r="2.3" fill="#991027" fill-opacity="0.55"/>
<line x1="533.1" y1="878.9" x2="561.5" y2="884.7" stroke="#bb2a33" stroke-width="4.4" stroke-opacity="0.72"/>
<circle cx="547.3" cy="881.8" r="2.3" fill="#bb2a33" fill-opacity="0.55"/>
<line x1="100.7" y1="876.3" x2="103.4" y2="905.2" stroke="#154f8d" stroke-width="4.4" stroke-opacity="0.72"/>
<circle cx="102" cy="890.8" r="2.3" fill="#154f8d" fill-opacity="0.55"/>
<line x1="132.5" y1="892.4" x2="160" y2="883.1" stroke="#d86551" stroke-width="4.4" stroke-opacity="0.72"/>
<circle cx="146.3" cy="887.7" r="2.3" fill="#d86551" fill-opacity="0.55"/>
<line x1="164.6" y1="891.3" x2="193" y2="897.5" stroke="#be3036" stroke-width="4.4" stroke-opacity="0.72"/>
<circle cx="178.8" cy="894.4" r="2.3" fill="#be3036" fill-opacity="0.55"/>
<line x1="194.4" y1="901" x2="223" y2="896.3" stroke="#b2192b" stroke-width="4.4" stroke-opacity="0.72"/>
<circle cx="208.7" cy="898.7" r="2.3" fill="#b2192b" fill-opacity="0.55"/>
<line x1="232.9" y1="893" x2="261.9" y2="893.7" stroke="#6f0220" stroke-width="4.4" stroke-opacity="0.72"/>
<circle cx="247.4" cy="893.3" r="2.3" fill="#6f0220" fill-opacity="0.55"/>
<line x1="274.5" y1="900.3" x2="283.2" y2="872.6" stroke="#408fc1" stroke-width="4.4" stroke-opacity="0.72"/>
<circle cx="278.8" cy="886.5" r="2.3" fill="#408fc1" fill-opacity="0.55"/>
<line x1="306.2" y1="900.4" x2="310.6" y2="871.8" stroke="#2064aa" stroke-width="4.4" stroke-opacity="0.72"/>
<circle cx="308.4" cy="886.1" r="2.3" fill="#2064aa" fill-opacity="0.55"/>
<line x1="346.4" y1="891.4" x2="370" y2="908.3" stroke="#fcd8c4" stroke-width="4.4" stroke-opacity="0.72"/>
<circle cx="358.2" cy="899.8" r="2.3" fill="#fcd8c4" fill-opacity="0.55"/>
<line x1="383.4" y1="897.1" x2="411.7" y2="891.2" stroke="#bc2d34" stroke-width="4.4" stroke-opacity="0.72"/>
<circle cx="397.5" cy="894.2" r="2.3" fill="#bc2d34" fill-opacity="0.55"/>
<line x1="423" y1="898.3" x2="450.7" y2="889.8" stroke="#d15749" stroke-width="4.4" stroke-opacity="0.72"/>
<circle cx="436.9" cy="894.1" r="2.3" fill="#d15749" fill-opacity="0.55"/>
<line x1="458.3" y1="887.7" x2="480.5" y2="906.3" stroke="#fae7db" stroke-width="4.4" stroke-opacity="0.72"/>
<circle cx="469.4" cy="897" r="2.3" fill="#fae7db" fill-opacity="0.55"/>
<line x1="499.7" y1="908.3" x2="528.7" y2="907.4" stroke="#720320" stroke-width="4.4" stroke-opacity="0.72"/>
<circle cx="514.2" cy="907.9" r="2.3" fill="#720320" fill-opacity="0.55"/>
<line x1="510.9" y1="881.3" x2="537.9" y2="891.7" stroke="#df755d" stroke-width="4.4" stroke-opacity="0.72"/>
<circle cx="524.4" cy="886.5" r="2.3" fill="#df755d" fill-opacity="0.55"/>
<line x1="104.2" y1="924.4" x2="133.2" y2="924.4" stroke="#67001f" stroke-width="4.4" stroke-opacity="0.72"/>
<circle cx="118.7" cy="924.4" r="2.3" fill="#67001f" fill-opacity="0.55"/>
<line x1="141.6" y1="917.7" x2="164.1" y2="936" stroke="#fae4d7" stroke-width="4.4" stroke-opacity="0.72"/>
<circle cx="152.9" cy="926.9" r="2.3" fill="#fae4d7" fill-opacity="0.55"/>
<line x1="182.6" y1="919.7" x2="188" y2="948.2" stroke="#276db0" stroke-width="4.4" stroke-opacity="0.72"/>
<circle cx="185.3" cy="933.9" r="2.3" fill="#276db0" fill-opacity="0.55"/>
<line x1="207.8" y1="934.9" x2="233.4" y2="921.2" stroke="#f4aa88" stroke-width="4.4" stroke-opacity="0.72"/>
<circle cx="220.6" cy="928" r="2.3" fill="#f4aa88" fill-opacity="0.55"/>
<line x1="248.6" y1="950.5" x2="250.3" y2="921.6" stroke="#0e437b" stroke-width="4.4" stroke-opacity="0.72"/>
<circle cx="249.4" cy="936.1" r="2.3" fill="#0e437b" fill-opacity="0.55"/>
<line x1="272.2" y1="923.6" x2="301" y2="920.6" stroke="#991027" stroke-width="4.4" stroke-opacity="0.72"/>
<circle cx="286.6" cy="922.1" r="2.3" fill="#991027" fill-opacity="0.55"/>
<line x1="317.5" y1="917.3" x2="341.5" y2="933.6" stroke="#fbd0b9" stroke-width="4.4" stroke-opacity="0.72"/>
<circle cx="329.5" cy="925.5" r="2.3" fill="#fbd0b9" fill-opacity="0.55"/>
<line x1="372" y1="915.4" x2="383" y2="942.2" stroke="#68aacf" stroke-width="4.4" stroke-opacity="0.72"/>
<circle cx="377.5" cy="928.8" r="2.3" fill="#68aacf" fill-opacity="0.55"/>
<line x1="393.7" y1="967.4" x2="422.7" y2="965.9" stroke="#7e0722" stroke-width="4.4" stroke-opacity="0.72"/>
<circle cx="408.2" cy="966.6" r="2.3" fill="#7e0722" fill-opacity="0.55"/>
<line x1="410.5" y1="939.2" x2="435.7" y2="924.8" stroke="#f6b496" stroke-width="4.4" stroke-opacity="0.72"/>
<circle cx="423.1" cy="932" r="2.3" fill="#f6b496" fill-opacity="0.55"/>
<line x1="450" y1="933.3" x2="478.8" y2="936.8" stroke="#9e1127" stroke-width="4.4" stroke-opacity="0.72"/>
<circle cx="464.4" cy="935" r="2.3" fill="#9e1127" fill-opacity="0.55"/>
<line x1="482.6" y1="931.3" x2="509.3" y2="919.9" stroke="#e6856a" stroke-width="4.4" stroke-opacity="0.72"/>
<circle cx="495.9" cy="925.6" r="2.3" fill="#e6856a" fill-opacity="0.55"/>
<line x1="528" y1="920.5" x2="551.6" y2="937.4" stroke="#fcd8c4" stroke-width="4.4" stroke-opacity="0.72"/>
<circle cx="539.8" cy="929" r="2.3" fill="#fcd8c4" fill-opacity="0.55"/>
<line x1="85.6" y1="957.5" x2="114.6" y2="957.8" stroke="#69001f" stroke-width="4.4" stroke-opacity="0.72"/>
<circle cx="100.1" cy="957.7" r="2.3" fill="#69001f" fill-opacity="0.55"/>
<line x1="124.1" y1="959.9" x2="148.1" y2="976.2" stroke="#fbd0b9" stroke-width="4.4" stroke-opacity="0.72"/>
<circle cx="136.1" cy="968" r="2.3" fill="#fbd0b9" fill-opacity="0.55"/>
<line x1="155" y1="966.5" x2="183.8" y2="963.1" stroke="#9e1127" stroke-width="4.4" stroke-opacity="0.72"/>
<circle cx="169.4" cy="964.8" r="2.3" fill="#9e1127" fill-opacity="0.55"/>
<line x1="194.8" y1="961.5" x2="222.1" y2="971.3" stroke="#db6d57" stroke-width="4.4" stroke-opacity="0.72"/>
<circle cx="208.4" cy="966.4" r="2.3" fill="#db6d57" fill-opacity="0.55"/>
<line x1="234.1" y1="973.3" x2="262.1" y2="966" stroke="#c7433f" stroke-width="4.4" stroke-opacity="0.72"/>
<circle cx="248.1" cy="969.6" r="2.3" fill="#c7433f" fill-opacity="0.55"/>
<line x1="268.5" y1="958.2" x2="296.5" y2="965.8" stroke="#ca4942" stroke-width="4.4" stroke-opacity="0.72"/>
<circle cx="282.5" cy="962" r="2.3" fill="#ca4942" fill-opacity="0.55"/>
<line x1="334.9" y1="963.7" x2="363.8" y2="966.8" stroke="#991027" stroke-width="4.4" stroke-opacity="0.72"/>
<circle cx="349.3" cy="965.3" r="2.3" fill="#991027" fill-opacity="0.55"/>
<line x1="300.5" y1="961.9" x2="329.5" y2="963.5" stroke="#7e0722" stroke-width="4.4" stroke-opacity="0.72"/>
<circle cx="315" cy="962.7" r="2.3" fill="#7e0722" fill-opacity="0.55"/>
<line x1="366.1" y1="964.7" x2="394.8" y2="960.5" stroke="#aa1529" stroke-width="4.4" stroke-opacity="0.72"/>
<circle cx="380.4" cy="962.6" r="2.3" fill="#aa1529" fill-opacity="0.55"/>
<line x1="425.3" y1="966.3" x2="454.3" y2="967.3" stroke="#750421" stroke-width="4.4" stroke-opacity="0.72"/>
<circle cx="439.8" cy="966.8" r="2.3" fill="#750421" fill-opacity="0.55"/>
<line x1="459.4" y1="970.6" x2="488.1" y2="966.8" stroke="#a41328" stroke-width="4.4" stroke-opacity="0.72"/>
<circle cx="473.7" cy="968.7" r="2.3" fill="#a41328" fill-opacity="0.55"/>
<line x1="492.8" y1="962" x2="521.8" y2="960.2" stroke="#810823" stroke-width="4.4" stroke-opacity="0.72"/>
<circle cx="507.3" cy="961.1" r="2.3" fill="#810823" fill-opacity="0.55"/>
<line x1="526.9" y1="974.5" x2="552" y2="960" stroke="#f7b698" stroke-width="4.4" stroke-opacity="0.72"/>
<circle cx="539.5" cy="967.2" r="2.3" fill="#f7b698" fill-opacity="0.55"/>
</g>
<rect x="412" y="515.5" width="144" height="40" fill="#fff"/>
<text x="551" y="547" font-size="33" text-anchor="end" fill="#000" >t = 4 min</text>
<text x="88" y="566" font-size="58" text-anchor="start" fill="#000" >(d)</text>
<rect x="568" y="518" width="150" height="461" fill="#fff" stroke="#222" stroke-width="2"/>
<line x1="652.5" y1="518" x2="652.5" y2="979" stroke="#555" stroke-width="3.4" stroke-dasharray="7 4"/>
<line x1="568" y1="663.2" x2="573" y2="663.2" stroke="#222" stroke-width="1.8"/>
<line x1="718" y1="663.2" x2="713" y2="663.2" stroke="#222" stroke-width="1.8"/>
<line x1="568" y1="809" x2="573" y2="809" stroke="#222" stroke-width="1.8"/>
<line x1="718" y1="809" x2="713" y2="809" stroke="#222" stroke-width="1.8"/>
<line x1="568" y1="954.5" x2="573" y2="954.5" stroke="#222" stroke-width="1.8"/>
<line x1="718" y1="954.5" x2="713" y2="954.5" stroke="#222" stroke-width="1.8"/>
<line x1="587.1" y1="518" x2="587.1" y2="523" stroke="#222" stroke-width="1.8"/>
<line x1="587.1" y1="979" x2="587.1" y2="974" stroke="#222" stroke-width="1.8"/>
<line x1="652.1" y1="518" x2="652.1" y2="523" stroke="#222" stroke-width="1.8"/>
<line x1="652.1" y1="979" x2="652.1" y2="974" stroke="#222" stroke-width="1.8"/>
<line x1="717.1" y1="518" x2="717.1" y2="523" stroke="#222" stroke-width="1.8"/>
<line x1="717.1" y1="979" x2="717.1" y2="974" stroke="#222" stroke-width="1.8"/>
<polyline points="688.2,540.9 669,563.6 687.2,585.8 688.2,608.3 677.3,631.2 609.2,653.7 578.3,676 637.7,698.3 678.9,720.8 683.7,743 685.1,765.7 648.6,788.4 644.3,810.5 635,833.2 621.6,855.5 607.8,878.2 640.8,900.9 648.6,922.9 625.3,945.2 631.9,967.9" fill="none" stroke="#1a9be6" stroke-width="1.7"/>
<circle cx="688.2" cy="540.9" r="6.6" fill="#e3e3e3" stroke="#1a9be6" stroke-width="1.9"/>
<circle cx="669" cy="563.6" r="6.6" fill="#e3e3e3" stroke="#1a9be6" stroke-width="1.9"/>
<circle cx="687.2" cy="585.8" r="6.6" fill="#e3e3e3" stroke="#1a9be6" stroke-width="1.9"/>
<circle cx="688.2" cy="608.3" r="6.6" fill="#e3e3e3" stroke="#1a9be6" stroke-width="1.9"/>
<circle cx="677.3" cy="631.2" r="6.6" fill="#e3e3e3" stroke="#1a9be6" stroke-width="1.9"/>
<circle cx="609.2" cy="653.7" r="6.6" fill="#e3e3e3" stroke="#1a9be6" stroke-width="1.9"/>
<circle cx="578.3" cy="676" r="6.6" fill="#e3e3e3" stroke="#1a9be6" stroke-width="1.9"/>
<circle cx="637.7" cy="698.3" r="6.6" fill="#e3e3e3" stroke="#1a9be6" stroke-width="1.9"/>
<circle cx="678.9" cy="720.8" r="6.6" fill="#e3e3e3" stroke="#1a9be6" stroke-width="1.9"/>
<circle cx="683.7" cy="743" r="6.6" fill="#e3e3e3" stroke="#1a9be6" stroke-width="1.9"/>
<circle cx="685.1" cy="765.7" r="6.6" fill="#e3e3e3" stroke="#1a9be6" stroke-width="1.9"/>
<circle cx="648.6" cy="788.4" r="6.6" fill="#e3e3e3" stroke="#1a9be6" stroke-width="1.9"/>
<circle cx="644.3" cy="810.5" r="6.6" fill="#e3e3e3" stroke="#1a9be6" stroke-width="1.9"/>
<circle cx="635" cy="833.2" r="6.6" fill="#e3e3e3" stroke="#1a9be6" stroke-width="1.9"/>
<circle cx="621.6" cy="855.5" r="6.6" fill="#e3e3e3" stroke="#1a9be6" stroke-width="1.9"/>
<circle cx="607.8" cy="878.2" r="6.6" fill="#e3e3e3" stroke="#1a9be6" stroke-width="1.9"/>
<circle cx="640.8" cy="900.9" r="6.6" fill="#e3e3e3" stroke="#1a9be6" stroke-width="1.9"/>
<circle cx="648.6" cy="922.9" r="6.6" fill="#e3e3e3" stroke="#1a9be6" stroke-width="1.9"/>
<circle cx="625.3" cy="945.2" r="6.6" fill="#e3e3e3" stroke="#1a9be6" stroke-width="1.9"/>
<circle cx="631.9" cy="967.9" r="6.6" fill="#e3e3e3" stroke="#1a9be6" stroke-width="1.9"/>
<text x="574.6" y="508" font-size="34.5" text-anchor="end" fill="#222" transform="rotate(90 574.6 508)" >0</text>
<text x="639.6" y="508" font-size="34.5" text-anchor="end" fill="#222" transform="rotate(90 639.6 508)" >0.5</text>
<text x="704.6" y="508" font-size="34.5" text-anchor="end" fill="#222" transform="rotate(90 704.6 508)" >1</text>
<text x="577" y="567.5" font-size="58" text-anchor="start" fill="#000" >(e)</text>
<clipPath id="clipg"><rect x="823" y="508" width="473" height="475"/></clipPath>
<g clip-path="url(#clipg)">
<rect x="823" y="508" width="473" height="475" fill="#e9e9e9"/>
<path d="M783.1 958.4L823 954.1M823 954.1L823 983M823 983L770.7 1004.8M823 983L869.5 983M823 954.1L862.9 958.4M862.9 958.4L869.5 983M1144.5 1003.7L1147 983M1147 983L1192.1 983M1194.9 1006.3L1192.1 983M874.6 484.6L873.4 508M873.4 508L823 508M823 508L777.6 483.8M761 728.7L823 740.2M823 709.3L823 740.2M785 707.6L823 709.3M883.4 951.6L911.9 961.8M883.4 951.6L886.6 938.3M886.6 938.3L908.4 932.3M908.4 932.3L938.8 939.4M938.8 939.4L936.4 958.2M911.9 961.8L936.4 958.2M899.5 983L869.5 983M899.5 983L911.9 961.8M862.9 958.4L883.4 951.6M961.8 933.3L954.4 910.1M943.6 906.2L954.4 910.1M943.6 906.2L911.4 916.8M911.4 916.8L908.4 932.3M961.8 933.3L938.8 939.4M980.5 936.5L990.2 956.3M958 965.9L990.2 956.3M958 965.9L936.4 958.2M961.8 933.3L980.5 936.5M823 954.1L823 936.6M783.3 930.6L823 936.6M862.7 930.6L823 936.6M862.7 930.6L886.6 938.3M823 936.6L823 904.9M864.5 908.3L823 904.9M862.7 930.6L864.5 908.3M911.4 916.8L873.4 905.8M943.6 906.2L941.4 900.3M941.4 900.3L886.9 887.1M886.9 887.1L873.4 905.8M873.4 905.8L864.5 908.3M781.5 908.3L823 904.9M1004.2 929.4L980.5 936.5M1004.2 929.4L1033 935.8M1005.6 959L990.2 956.3M1005.6 959L1040.1 944.8M1040.1 944.8L1033 935.8M958 965.9L959.2 983M899.5 983L959.2 983M911.9 1004.2L899.5 983M869.5 983L862.9 1007.6M954.4 910.1L999.3 907.3M1004.2 929.4L1005.9 910.6M1005.9 910.6L999.3 907.3M958.1 881.6L941.4 900.3M958.1 881.6L1001.6 888.6M999.3 907.3L1001.6 888.6M924.9 485.3L924.3 508M976.9 508L924.3 508M969.4 484.4L976.9 508M873.4 508L924.3 508M823 556.3L823 532M772.2 556.5L823 556.3M771.9 531.7L823 532M874.1 531.7L873.8 556.5M874.1 531.7L823 532M873.8 556.5L823 556.3M823 508L823 532M874.6 531.4L873.4 508M874.6 531.4L874.1 531.7M835.7 673.9L876.9 695.3M835.7 673.9L906.6 664.6M906.6 664.6L906.7 664.6M910 672.5L906.7 664.6M910 672.5L883.6 694.3M883.6 694.3L876.9 695.3M1123 586.6L1148.6 587.4M1148.6 587.4L1169 607.3M1107.4 596L1123 586.6M1107.4 596L1140.2 617M1169 607.3L1140.2 617M1174.2 642L1196.1 637.6M1174.2 642L1149.8 636.5M1140.2 617L1137.6 620.1M1149.8 636.5L1137.6 620.1M1177.3 607.6L1204.2 630.6M1177.3 607.6L1169 607.3M1204.2 630.6L1196.1 637.6M1228.2 658.8L1196.1 637.6M1228.2 658.8L1206 670.4M1174.2 642L1166.9 666M1166.9 666L1206 670.4M1148.6 587.4L1175.4 572.7M1203.7 597.6L1205.8 585.8M1203.7 597.6L1177.3 607.6M1205.8 585.8L1175.4 572.7M1155.6 691.3L1164.5 666.8M1164.5 666.8L1123.3 662.8M1130.9 692.4L1155.6 691.3M1130.9 692.4L1105.5 680.5M1105.5 680.5L1123.3 662.8M1149.8 636.5L1111.2 651.5M1164.5 666.8L1166.9 666M1123.3 662.8L1111.2 651.5M1030.8 589L1075.6 593.9M1030.8 589L1034.4 578M1034.4 578L1072.8 572.2M1075.6 593.9L1072.8 572.2M986.2 574.2L992.7 590.2M986.2 574.2L941.6 571.4M941.6 571.4L937.1 575.7M937.1 575.7L949.5 597.9M949.5 597.9L964.9 600.1M964.9 600.1L992.7 590.2M1034.4 578L1012.1 562.5M1007.7 562.4L1012.1 562.5M986.2 574.2L1007.7 562.4M1030.8 589L1018.4 594.7M1018.4 594.7L992.7 590.2M1304.2 500.8L1296 508M1237.3 486.3L1236.6 508M1296 508L1236.6 508M1331.3 586.1L1296 584M1296 557.3L1296 584M1350.8 564.9L1296 557.3M1260.7 586.1L1239.7 576.7M1260.7 586.1L1296 584M1296 557.3L1241.2 564.9M1241.2 564.9L1239.7 576.7M1005.9 910.6L1044.7 909.4M1023.1 880.5L1056.3 895.5M1001.6 888.6L1023.1 880.5M1056.3 895.5L1044.7 909.4M1033 935.8L1056.4 919.3M1056.4 919.3L1044.7 909.4M1192.1 983L1194.9 959.7M1147 983L1144.5 962.3M1144.5 962.3L1164.5 956.1M1194.9 959.7L1164.5 956.1M1040.1 944.8L1058.2 948.9M1005.6 959L1025.8 979.6M1025.8 979.6L1063.3 961.3M1058.2 948.9L1063.3 961.3M1072.8 572.2L1077.9 567.8M1107.4 596L1082.9 598.9M1082.9 598.9L1075.6 593.9M1123 586.6L1112.5 571M1077.9 567.8L1112.5 571M1175.4 572.7L1174.8 570.4M1174.8 570.4L1134.4 558.9M1112.5 571L1134.4 558.9M944.3 653.8L906.7 664.6M944.3 653.8L934.5 629.3M926.2 627L884.8 635.3M934.5 629.3L926.2 627M906.6 664.6L880.6 644.2M880.6 644.2L884.8 635.3M924.9 530.7L969.4 531.6M924.9 530.7L923 531.7M923 531.7L923.7 554.5M937.3 560.2L923.7 554.5M937.3 560.2L981 545.7M969.4 531.6L981.8 538.8M981 545.7L981.8 538.8M976.9 508L969.4 531.6M924.3 508L924.9 530.7M874.6 531.4L923 531.7M876.8 557.9L873.8 556.5M876.8 557.9L923.7 554.5M1007.7 562.4L981 545.7M941.6 571.4L937.3 560.2M841.1 586.4L877.8 577M841.1 586.4L870.1 609M899.4 602.5L870.1 609M899.4 602.5L895.2 582.7M895.2 582.7L877.8 577M876.8 557.9L877.8 577M823 585.3L841.1 586.4M823 556.3L823 585.3M859.8 618.9L823 621.5M859.8 618.9L870.1 609M823 585.3L823 621.5M859.8 618.9L884.8 635.3M919.7 607.2L926.2 627M919.7 607.2L899.4 602.5M949.5 597.9L919.7 607.2M937.1 575.7L895.2 582.7M804.9 586.4L823 585.3M823 621.5L786.2 618.9M823 709.3L861 707.6M823 740.2L885 728.7M861 707.6L885.1 728M885 728.7L885.1 728M823 740.2L823 747.5M884.2 759L896.2 736.9M884.2 759L869.6 760.8M885 728.7L896.2 736.9M869.6 760.8L823 747.5M776.4 760.8L823 747.5M823 904.9L823 877.4M886.9 887.1L885.2 883.2M885.2 883.2L823 877.4M760.8 883.2L823 877.4M1027.9 777.2L1050.2 799.7M1029.5 810L1050.2 799.7M1018.3 776.2L1027.9 777.2M1018.3 776.2L992.5 785M1029.5 810L1002.8 807.6M1002.8 807.6L992.5 785M1296 784.8L1296 757M1258.7 783.6L1296 784.8M1258.7 783.6L1249.9 778M1249.9 778L1265.6 759.1M1265.6 759.1L1296 757M1246.6 802.9L1258.7 783.6M1246.6 802.9L1214.2 800M1214.2 800L1212.5 775.5M1212.5 775.5L1249.9 778M1210.3 774.5L1212.5 775.5M1238.7 748.9L1265.6 759.1M1238.7 748.9L1207.2 767.9M1207.2 767.9L1210.3 774.5M1204.2 630.6L1232.4 625.6M1203.7 597.6L1243.1 608.8M1232.4 625.6L1243.1 608.8M1239.7 576.7L1205.8 585.8M1260.7 586.1L1249.3 607.2M1249.3 607.2L1243.1 608.8M1296 584L1296 613.5M1249.3 607.2L1296 613.5M1342.7 607.2L1296 613.5M1211.6 701.8L1256.2 701.4M1211.6 701.8L1203.6 693.1M1203.6 693.1L1212.4 683.5M1212.4 683.5L1257.5 684.5M1257.5 684.5L1256.2 701.4M1205.9 715L1244.1 724M1264.9 707.2L1244.1 724M1264.9 707.2L1256.2 701.4M1205.9 715L1211.6 701.8M1155.6 691.3L1159.4 692.9M1159.4 692.9L1203.6 693.1M1206 670.4L1212.4 683.5M1264 680.7L1239.4 658.4M1228.2 658.8L1239.4 658.4M1264 680.7L1257.5 684.5M1174.8 570.4L1196.3 555.4M1241.2 564.9L1227.5 556.1M1227.5 556.1L1196.3 555.4M1111.2 651.5L1100.1 649.2M1137.6 620.1L1096 625M1100.1 649.2L1096 625M1082.9 598.9L1082.4 599.4M1082.4 599.4L1088.6 622.7M1088.6 622.7L1096 625M1130.9 692.4L1112.3 709.7M1159.4 692.9L1164.8 715.4M1112.3 709.7L1144.6 721.5M1144.6 721.5L1164.8 715.4M1236 742.9L1248.5 732.5M1236 742.9L1193.2 738.5M1248.5 732.5L1244.1 724M1205.9 715L1192.6 719.5M1192.6 719.5L1193.2 738.5M1192.6 719.5L1164.8 715.4M980.4 623.4L982.1 620.9M980.4 623.4L990.5 632.9M982.1 620.9L1024.6 609.8M990.5 632.9L1025.4 640M1025.4 640L1044.1 633.9M1033.9 612.6L1024.6 609.8M1033.9 612.6L1048.2 628.5M1048.2 628.5L1044.1 633.9M934.5 629.3L980.4 623.4M964.9 600.1L982.1 620.9M944.3 653.8L968 656.7M968 656.7L990.5 632.9M1018.4 594.7L1024.6 609.8M1082.4 599.4L1033.9 612.6M1088.6 622.7L1048.2 628.5M1080.2 651.9L1100.1 649.2M1080.2 651.9L1044.1 633.9M1190.9 486.3L1185.2 508M1136.2 508L1185.2 508M1132.5 496.8L1136.2 508M1236.6 508L1237.3 529.7M1236.6 508L1185.2 508M1190.9 529.7L1185.2 508M1237.3 529.7L1190.9 529.7M1296 549.3L1296 517.6M1245.1 535.2L1296 549.3M1244.1 533.2L1296 517.6M1245.1 535.2L1244.1 533.2M1346.9 535.2L1296 549.3M1347.9 533.2L1296 517.6M1227.5 556.1L1245.1 535.2M1296 557.3L1296 549.3M1296 508L1296 517.6M1237.3 529.7L1244.1 533.2M1196.3 555.4L1177.9 537.6M1177.9 537.6L1190.9 529.7M1327.1 707.2L1296 709M1296 709L1296 734.4M1343.5 732.5L1296 734.4M1328 680.7L1296 677.9M1296 677.9L1296 709M1264.9 707.2L1296 709M1248.5 732.5L1296 734.4M1326.4 759.1L1296 757M1296 757L1296 734.4M1264 680.7L1296 677.9M1238.7 748.9L1236 742.9M1094.8 983L1025.3 983M1092.1 996.5L1094.8 983M1025.8 986.4L1025.3 983M1025.8 979.6L1025.3 983M1092.1 969.5L1063.3 961.3M1092.1 969.5L1094.8 983M1147 983L1094.8 983M1144.5 962.3L1117.4 956.7M1117.4 956.7L1092.1 969.5M959.2 983L1025.3 983M1296 983L1296 962.9M1257.3 959.2L1296 962.9M1296 983L1242.1 983M1243.3 964.6L1242.1 983M1257.3 959.2L1243.3 964.6M1334.7 959.2L1296 962.9M1322.7 1000.5L1296 983M1243.3 1001.4L1242.1 983M1204.4 956.7L1243.3 964.6M1194.9 959.7L1204.4 956.7M1192.1 983L1242.1 983M1210.3 774.5L1169.5 785M1190.1 807.7L1186.6 807.5M1214.2 800L1190.1 807.7M1169.5 785L1186.6 807.5M1057.9 769.2L1082.9 775.8M1057.9 769.2L1058.5 749.2M1058.5 749.2L1107.2 750.9M1107.2 750.9L1103 772M1103 772L1082.9 775.8M1027.9 777.2L1057.9 769.2M1077 798.8L1050.2 799.7M1077 798.8L1082.9 775.8M1054.8 747L1002.6 754.1M1018.3 776.2L1002.6 754.1M1054.8 747L1058.5 749.2M1012.1 562.5L1027.7 557.3M1077.9 567.8L1075.2 564.1M1027.7 557.3L1075.2 564.1M968 656.7L976.2 661.2M1025.4 640L1022.7 653.5M976.2 661.2L1022.7 653.5M910 672.5L953.4 689.8M976.2 661.2L979.5 670.9M979.5 670.9L956.5 689.6M953.4 689.8L956.5 689.6M883.6 694.3L926.2 706.8M953.4 689.8L926.2 706.8M861 707.6L876.9 695.3M885.1 728L926.4 709.1M926.2 706.8L926.4 709.1M934 739.7L958.3 726.8M934 739.7L945.8 760.4M991.3 737.2L995.4 751.8M991.3 737.2L970.4 726.5M970.4 726.5L958.3 726.8M995.4 751.8L953.6 762.1M953.6 762.1L945.8 760.4M896.2 736.9L934 739.7M926.4 709.1L958.3 726.8M884.2 759L909.2 767.6M909.2 767.6L945.8 760.4M1054.8 747L1053.7 734.1M1053.7 734.1L1037.3 726.8M1037.3 726.8L991.3 737.2M1002.6 754.1L995.4 751.8M992.5 785L966.9 782.4M966.9 782.4L953.6 762.1M823 747.5L823 787.2M846.2 787L823 787.2M869.6 760.8L848 786.4M848 786.4L846.2 787M799.8 787L823 787.2M958.1 881.6L955 876.9M885.2 883.2L896.3 872.8M896.3 872.8L955 876.9M896.3 872.8L894.5 863.1M894.5 863.1L916.4 852M916.4 852L961.8 858.6M955 876.9L964.8 861.9M964.8 861.9L961.8 858.6M869.7 814.2L846.2 787M869.7 814.2L900.4 808M848 786.4L906.3 788.3M900.4 808L906.3 788.3M966.9 782.4L947.8 791.5M909.2 767.6L906.6 788.1M947.8 791.5L906.6 788.1M906.6 788.1L906.3 788.3M1296 784.8L1333.3 783.6M1256.6 635.5L1296 629.5M1296 629.5L1296 657.6M1256.6 635.5L1252.7 653M1252.7 653L1296 657.6M1232.4 625.6L1256.6 635.5M1296 613.5L1296 629.5M1335.4 635.5L1296 629.5M1339.3 653L1296 657.6M1239.4 658.4L1252.7 653M1296 677.9L1296 657.6M1154.8 762.9L1121 745M1154.8 762.9L1181.1 757.6M1181.1 757.6L1184.1 742.5M1184.1 742.5L1139.1 735.8M1139.1 735.8L1122.2 742.8M1122.2 742.8L1121 745M1138 781.2L1103 772M1138 781.2L1142.6 780.2M1142.6 780.2L1154.8 762.9M1107.2 750.9L1121 745M1169.5 785L1142.6 780.2M1207.2 767.9L1181.1 757.6M1193.2 738.5L1184.1 742.5M1144.6 721.5L1139.1 735.8M1093.9 712.2L1087.7 724.9M1087.7 724.9L1122.2 742.8M1112.3 709.7L1093.9 712.2M1087.7 724.9L1053.7 734.1M1136.2 508L1132.5 519.2M1177.9 537.6L1162.9 537.6M1132.5 519.2L1162.9 537.6M1134.4 558.9L1132.5 551M1132.5 551L1162.9 537.6M1092.7 876.5L1104.1 876.2M1073.5 893.2L1092.7 876.5M1073.5 893.2L1106.2 909.1M1130.1 903L1106.2 909.1M1130.1 903L1131.9 899.3M1131.9 899.3L1104.1 876.2M1112.8 948.9L1079.2 942.7M1112.8 948.9L1130.1 933.9M1130.1 933.9L1098 919.5M1079.2 942.7L1084.2 922.9M1084.2 922.9L1098 919.5M1117.4 956.7L1112.8 948.9M1058.2 948.9L1079.2 942.7M1164.5 956.1L1158.2 931.3M1158.2 931.3L1130.1 933.9M1159.1 914.9L1163.1 928.8M1158.2 931.3L1163.1 928.8M1130.1 903L1159.1 914.9M1106.2 909.1L1098 919.5M1056.4 919.3L1084.2 922.9M1056.3 895.5L1073.5 893.2M959.2 983L958 1000.1M1128.2 794.4L1138 806.5M1128.2 794.4L1079.4 799.6M1138 806.5L1116.3 820.5M1079.4 799.6L1093.8 821.2M1116.3 820.5L1093.8 821.2M1186.6 807.5L1171 811.2M1171 811.2L1138 806.5M1138 781.2L1128.2 794.4M1077 798.8L1079.4 799.6M1084.5 827.2L1040.9 826.3M1029.5 810L1040.9 826.3M1084.5 827.2L1093.8 821.2M1018.4 508L1069.8 508M1022 485.6L1018.4 508M1074.4 493.9L1069.8 508M1022 530.4L1018.4 508M976.9 508L1018.4 508M981.8 538.8L1022 530.4M1027.7 557.3L1043.3 537.1M1022 530.4L1043.3 537.1M1136.2 508L1069.8 508M1080.5 549.7L1050.4 536.7M1080.5 549.7L1107.3 543.2M1106.2 529.4L1107.3 543.2M1106.2 529.4L1074.4 522.1M1074.4 522.1L1050.4 536.7M1075.2 564.1L1080.5 549.7M1043.3 537.1L1050.4 536.7M1132.5 551L1107.3 543.2M1132.5 519.2L1106.2 529.4M1069.8 508L1074.4 522.1M765.4 644.2L823 653.7M823 653.7L823 671.9M810.3 673.9L823 671.9M823 621.5L823 653.7M880.6 644.2L823 653.7M835.7 673.9L823 671.9M823 709.3L823 671.9M1105.5 680.5L1082.7 682M1080.2 651.9L1063.5 663.3M1063.5 663.3L1082.7 682M1022.7 653.5L1038.9 663.8M1063.5 663.3L1038.9 663.8M979.5 670.9L1021.5 679.5M1038.9 663.8L1021.5 679.5M956.5 689.6L979.9 698.2M970.4 726.5L985.5 714.2M985.5 714.2L979.9 698.2M1037.3 726.8L1032.3 713.7M985.5 714.2L1032.3 713.7M1025.1 842.7L1011.7 863M1025.1 842.7L1071.6 853.5M1071 865.4L1071.6 853.5M1071 865.4L1025.1 874.3M1025.1 874.3L1011.7 863M1089.9 844.7L1071.6 853.5M1089.9 844.7L1084.5 827.2M1040.9 826.3L1023.9 841M1023.9 841L1025.1 842.7M1023.1 880.5L1025.1 874.3M1092.7 876.5L1071 865.4M964.8 861.9L1011.7 863M953.9 809.9L927.7 818.4M953.9 809.9L981.9 814.8M981.9 814.8L983.7 834.5M925.2 830.5L970.8 839.1M925.2 830.5L927.7 818.4M983.7 834.5L970.8 839.1M900.4 808L927.7 818.4M947.8 791.5L953.9 809.9M1002.8 807.6L981.9 814.8M1023.9 841L983.7 834.5M915.6 835.2L916.4 852M915.6 835.2L925.2 830.5M961.8 858.6L970.8 839.1M1246.6 802.9L1254 808.3M1296 784.8L1296 807.8M1254 808.3L1296 807.8M1338 808.3L1296 807.8M1194.1 899.8L1193.1 893.6M1159.1 914.9L1194.1 899.8M1131.9 899.3L1161.9 886M1161.9 886L1193.1 893.6M1265.3 865.6L1243.2 857M1265.3 865.6L1248.2 887.5M1243.2 857L1209.8 870.6M1248.2 887.5L1214 883M1209.8 870.6L1214 883M1171 811.2L1158.8 832.7M1116.3 820.5L1145.2 835.1M1145.2 835.1L1158.8 832.7M1257.3 959.2L1254.6 938.7M1254.6 938.7L1296 932.3M1296 962.9L1296 932.3M1345 909.6L1296 917.9M1337.4 938.7L1296 932.3M1296 932.3L1296 917.9M1076 704.5L1034.9 710.8M1076 704.5L1074.5 687.3M1074.5 687.3L1025.8 686.7M1034.9 710.8L1021.8 691.5M1025.8 686.7L1021.8 691.5M1093.9 712.2L1076 704.5M1032.3 713.7L1034.9 710.8M1082.7 682L1074.5 687.3M1021.5 679.5L1025.8 686.7M979.9 698.2L1021.8 691.5M823 823.5L823 857.8M860.2 822.7L823 823.5M872.7 832.3L862.3 852.3M872.7 832.3L860.2 822.7M862.3 852.3L823 857.8M785.8 822.7L823 823.5M783.7 852.3L823 857.8M869.7 814.2L860.2 822.7M823 787.2L823 823.5M915.6 835.2L872.7 832.3M894.5 863.1L862.3 852.3M823 877.4L823 857.8M1296 807.8L1296 835.7M1327.5 835.3L1296 835.7M1264.5 835.3L1245.7 822.8M1264.5 835.3L1241.2 851.3M1245.7 822.8L1212.8 825.9M1241.2 851.3L1200 840.2M1212.8 825.9L1200 840.2M1254 808.3L1245.7 822.8M1296 835.7L1264.5 835.3M1190.1 807.7L1212.8 825.9M1195.8 841.1L1180.2 861.5M1209.8 870.6L1180.2 861.5M1195.8 841.1L1200 840.2M1243.2 857L1241.2 851.3M1195.8 841.1L1158.8 832.7M1128.7 850L1116 872.1M1128.7 850L1130.6 849.6M1130.6 849.6L1173.8 862.5M1116 872.1L1157.3 877M1157.3 877L1173.8 862.5M1104.1 876.2L1116 872.1M1089.9 844.7L1128.7 850M1145.2 835.1L1130.6 849.6M1180.2 861.5L1173.8 862.5M1161.9 886L1157.3 877M1193.1 893.6L1214 883M1221.5 914L1231.8 915M1221.5 914L1183.3 929.8M1231.8 915L1241.7 935.3M1241.7 935.3L1210.2 943.5M1210.2 943.5L1183.3 929.8M1194.1 899.8L1221.5 914M1254.3 891.8L1247 909.6M1254.3 891.8L1248.2 887.5M1247 909.6L1231.8 915M1163.1 928.8L1183.3 929.8M1247 909.6L1296 917.9M1254.6 938.7L1241.7 935.3M1204.4 956.7L1210.2 943.5M1337.7 891.8L1296 891.3M1296 891.3L1296 865M1326.7 865.6L1296 865M1296 917.9L1296 891.3M1254.3 891.8L1296 891.3M1265.3 865.6L1296 865M1296 835.7L1296 865" stroke="#a8a8a8" stroke-width="0.8" fill="none"/>
<line x1="841.8" y1="507.2" x2="855.3" y2="532.8" stroke="#95c6df" stroke-width="4.4" stroke-opacity="0.72"/>
<circle cx="848.6" cy="520" r="2.3" fill="#95c6df" fill-opacity="0.55"/>
<line x1="885.3" y1="522.5" x2="913.6" y2="516.3" stroke="#bf3237" stroke-width="4.4" stroke-opacity="0.72"/>
<circle cx="899.4" cy="519.4" r="2.3" fill="#bf3237" fill-opacity="0.55"/>
<line x1="935.3" y1="520.2" x2="964.2" y2="517.9" stroke="#8a0b24" stroke-width="4.4" stroke-opacity="0.72"/>
<circle cx="949.7" cy="519" r="2.3" fill="#8a0b24" fill-opacity="0.55"/>
<line x1="982" y1="518.7" x2="1009.8" y2="526.8" stroke="#ce5146" stroke-width="4.4" stroke-opacity="0.72"/>
<circle cx="995.9" cy="522.7" r="2.3" fill="#ce5146" fill-opacity="0.55"/>
<line x1="1030.9" y1="520" x2="1059.8" y2="521.4" stroke="#7b0622" stroke-width="4.4" stroke-opacity="0.72"/>
<circle cx="1045.4" cy="520.7" r="2.3" fill="#7b0622" fill-opacity="0.55"/>
<line x1="1089.4" y1="524.7" x2="1112.7" y2="507.5" stroke="#fcdcc8" stroke-width="4.4" stroke-opacity="0.72"/>
<circle cx="1101.1" cy="516.1" r="2.3" fill="#fcdcc8" fill-opacity="0.55"/>
<line x1="1116.6" y1="532.5" x2="1145.1" y2="537.8" stroke="#b6212f" stroke-width="4.4" stroke-opacity="0.72"/>
<circle cx="1130.8" cy="535.1" r="2.3" fill="#b6212f" fill-opacity="0.55"/>
<line x1="1149.7" y1="521" x2="1178.6" y2="521.7" stroke="#720320" stroke-width="4.4" stroke-opacity="0.72"/>
<circle cx="1164.2" cy="521.3" r="2.3" fill="#720320" fill-opacity="0.55"/>
<line x1="1199.8" y1="525.4" x2="1225" y2="510.9" stroke="#f7b698" stroke-width="4.4" stroke-opacity="0.72"/>
<circle cx="1212.4" cy="518.2" r="2.3" fill="#f7b698" fill-opacity="0.55"/>
<line x1="1248" y1="512.4" x2="1274.9" y2="523.1" stroke="#e17b61" stroke-width="4.4" stroke-opacity="0.72"/>
<circle cx="1261.5" cy="517.8" r="2.3" fill="#e17b61" fill-opacity="0.55"/>
<line x1="834.7" y1="542" x2="863.5" y2="545.3" stroke="#9b1027" stroke-width="4.4" stroke-opacity="0.72"/>
<circle cx="849.1" cy="543.6" r="2.3" fill="#9b1027" fill-opacity="0.55"/>
<line x1="892.3" y1="530.8" x2="905.4" y2="556.7" stroke="#90c4dd" stroke-width="4.4" stroke-opacity="0.72"/>
<circle cx="898.8" cy="543.8" r="2.3" fill="#90c4dd" fill-opacity="0.55"/>
<line x1="934.2" y1="548.2" x2="961.5" y2="538.5" stroke="#db6d57" stroke-width="4.4" stroke-opacity="0.72"/>
<circle cx="947.9" cy="543.4" r="2.3" fill="#db6d57" fill-opacity="0.55"/>
<line x1="1000.1" y1="545.6" x2="1029" y2="544.6" stroke="#750421" stroke-width="4.4" stroke-opacity="0.72"/>
<circle cx="1014.5" cy="545.1" r="2.3" fill="#750421" fill-opacity="0.55"/>
<line x1="1030.6" y1="568.9" x2="1059.6" y2="567.2" stroke="#810823" stroke-width="4.4" stroke-opacity="0.72"/>
<circle cx="1045.1" cy="568" r="2.3" fill="#810823" fill-opacity="0.55"/>
<line x1="1068.3" y1="538.4" x2="1096.9" y2="533.7" stroke="#b2192b" stroke-width="4.4" stroke-opacity="0.72"/>
<circle cx="1082.6" cy="536.1" r="2.3" fill="#b2192b" fill-opacity="0.55"/>
<line x1="1150.2" y1="558.7" x2="1177.6" y2="548.9" stroke="#da6a55" stroke-width="4.4" stroke-opacity="0.72"/>
<circle cx="1163.9" cy="553.8" r="2.3" fill="#da6a55" fill-opacity="0.55"/>
<line x1="1198.1" y1="543.8" x2="1226.7" y2="538.6" stroke="#b6212f" stroke-width="4.4" stroke-opacity="0.72"/>
<circle cx="1212.4" cy="541.2" r="2.3" fill="#b6212f" fill-opacity="0.55"/>
<line x1="1245.1" y1="548.4" x2="1273.6" y2="553.7" stroke="#b82431" stroke-width="4.4" stroke-opacity="0.72"/>
<circle cx="1259.3" cy="551.1" r="2.3" fill="#b82431" fill-opacity="0.55"/>
<line x1="1266.4" y1="526.7" x2="1292.7" y2="538.9" stroke="#ec9374" stroke-width="4.4" stroke-opacity="0.72"/>
<circle cx="1279.5" cy="532.8" r="2.3" fill="#ec9374" fill-opacity="0.55"/>
<line x1="846.5" y1="583.5" x2="851.1" y2="554.8" stroke="#2166ac" stroke-width="4.4" stroke-opacity="0.72"/>
<circle cx="848.8" cy="569.1" r="2.3" fill="#2166ac" fill-opacity="0.55"/>
<line x1="891.9" y1="564.6" x2="920" y2="572.1" stroke="#c94641" stroke-width="4.4" stroke-opacity="0.72"/>
<circle cx="905.9" cy="568.4" r="2.3" fill="#c94641" fill-opacity="0.55"/>
<line x1="952.8" y1="580.3" x2="980.6" y2="588.7" stroke="#d05447" stroke-width="4.4" stroke-opacity="0.72"/>
<circle cx="966.7" cy="584.5" r="2.3" fill="#d05447" fill-opacity="0.55"/>
<line x1="958.2" y1="559.2" x2="986.7" y2="564.5" stroke="#b6212f" stroke-width="4.4" stroke-opacity="0.72"/>
<circle cx="972.4" cy="561.9" r="2.3" fill="#b6212f" fill-opacity="0.55"/>
<line x1="1040.6" y1="558.7" x2="1067" y2="546.7" stroke="#eb9072" stroke-width="4.4" stroke-opacity="0.72"/>
<circle cx="1053.8" cy="552.7" r="2.3" fill="#eb9072" fill-opacity="0.55"/>
<line x1="1079.9" y1="579" x2="1108.2" y2="585.2" stroke="#be3036" stroke-width="4.4" stroke-opacity="0.72"/>
<circle cx="1094.1" cy="582.1" r="2.3" fill="#be3036" fill-opacity="0.55"/>
<line x1="1101.4" y1="542.9" x2="1105.1" y2="571.7" stroke="#1c5c9e" stroke-width="4.4" stroke-opacity="0.72"/>
<circle cx="1103.3" cy="557.3" r="2.3" fill="#1c5c9e" fill-opacity="0.55"/>
<line x1="1126.5" y1="571" x2="1154.8" y2="577.4" stroke="#c03538" stroke-width="4.4" stroke-opacity="0.72"/>
<circle cx="1140.6" cy="574.2" r="2.3" fill="#c03538" fill-opacity="0.55"/>
<line x1="1198.1" y1="578.7" x2="1221.6" y2="561.7" stroke="#fcd8c4" stroke-width="4.4" stroke-opacity="0.72"/>
<circle cx="1209.8" cy="570.2" r="2.3" fill="#fcd8c4" fill-opacity="0.55"/>
<line x1="1259.5" y1="581" x2="1282.5" y2="563.3" stroke="#fcdfce" stroke-width="4.4" stroke-opacity="0.72"/>
<circle cx="1271" cy="572.1" r="2.3" fill="#fcdfce" fill-opacity="0.55"/>
<line x1="859.6" y1="589" x2="887.3" y2="597.8" stroke="#d45d4b" stroke-width="4.4" stroke-opacity="0.72"/>
<circle cx="873.4" cy="593.4" r="2.3" fill="#d45d4b" fill-opacity="0.55"/>
<line x1="906.5" y1="589.7" x2="935.4" y2="592" stroke="#8a0b24" stroke-width="4.4" stroke-opacity="0.72"/>
<circle cx="921" cy="590.9" r="2.3" fill="#8a0b24" fill-opacity="0.55"/>
<line x1="980.8" y1="607.3" x2="1009.2" y2="601.5" stroke="#bb2a33" stroke-width="4.4" stroke-opacity="0.72"/>
<circle cx="995" cy="604.4" r="2.3" fill="#bb2a33" fill-opacity="0.55"/>
<line x1="1032.9" y1="598.4" x2="1061.9" y2="599.6" stroke="#780521" stroke-width="4.4" stroke-opacity="0.72"/>
<circle cx="1047.4" cy="599" r="2.3" fill="#780521" fill-opacity="0.55"/>
<line x1="1039.9" y1="585" x2="1068.7" y2="581.7" stroke="#9b1027" stroke-width="4.4" stroke-opacity="0.72"/>
<circle cx="1054.3" cy="583.4" r="2.3" fill="#9b1027" fill-opacity="0.55"/>
<line x1="998.5" y1="584.7" x2="1025.8" y2="575.1" stroke="#da6a55" stroke-width="4.4" stroke-opacity="0.72"/>
<circle cx="1012.2" cy="579.9" r="2.3" fill="#da6a55" fill-opacity="0.55"/>
<line x1="1161.1" y1="589.7" x2="1190.1" y2="590.5" stroke="#720320" stroke-width="4.4" stroke-opacity="0.72"/>
<circle cx="1175.6" cy="590.1" r="2.3" fill="#720320" fill-opacity="0.55"/>
<line x1="1123.2" y1="604" x2="1151.1" y2="596" stroke="#cd4f44" stroke-width="4.4" stroke-opacity="0.72"/>
<circle cx="1137.2" cy="600" r="2.3" fill="#cd4f44" fill-opacity="0.55"/>
<line x1="1221.5" y1="585.4" x2="1246.5" y2="600" stroke="#f7b99b" stroke-width="4.4" stroke-opacity="0.72"/>
<circle cx="1234" cy="592.7" r="2.3" fill="#f7b99b" fill-opacity="0.55"/>
<line x1="1263.6" y1="603.7" x2="1290.7" y2="593.3" stroke="#e0785f" stroke-width="4.4" stroke-opacity="0.72"/>
<circle cx="1277.1" cy="598.5" r="2.3" fill="#e0785f" fill-opacity="0.55"/>
<line x1="826.4" y1="607.8" x2="854.4" y2="600.1" stroke="#ca4942" stroke-width="4.4" stroke-opacity="0.72"/>
<circle cx="840.4" cy="604" r="2.3" fill="#ca4942" fill-opacity="0.55"/>
<line x1="881.2" y1="620.9" x2="909.7" y2="615.5" stroke="#b82431" stroke-width="4.4" stroke-opacity="0.72"/>
<circle cx="895.5" cy="618.2" r="2.3" fill="#b82431" fill-opacity="0.55"/>
<line x1="935.2" y1="614.4" x2="964.2" y2="613.1" stroke="#7b0622" stroke-width="4.4" stroke-opacity="0.72"/>
<circle cx="949.7" cy="613.7" r="2.3" fill="#7b0622" fill-opacity="0.55"/>
<line x1="1002.2" y1="622.6" x2="1030.8" y2="627.5" stroke="#b41c2d" stroke-width="4.4" stroke-opacity="0.72"/>
<circle cx="1016.5" cy="625.1" r="2.3" fill="#b41c2d" fill-opacity="0.55"/>
<line x1="1056.9" y1="601.7" x2="1071.2" y2="627" stroke="#a2cde2" stroke-width="4.4" stroke-opacity="0.72"/>
<circle cx="1064" cy="614.3" r="2.3" fill="#a2cde2" fill-opacity="0.55"/>
<line x1="1104.8" y1="631.1" x2="1133" y2="638" stroke="#c53e3c" stroke-width="4.4" stroke-opacity="0.72"/>
<circle cx="1118.9" cy="634.5" r="2.3" fill="#c53e3c" fill-opacity="0.55"/>
<line x1="1093.7" y1="614.2" x2="1122.1" y2="608.6" stroke="#b92732" stroke-width="4.4" stroke-opacity="0.72"/>
<circle cx="1107.9" cy="611.4" r="2.3" fill="#b92732" fill-opacity="0.55"/>
<line x1="1156.1" y1="625" x2="1185.1" y2="624.7" stroke="#69001f" stroke-width="4.4" stroke-opacity="0.72"/>
<circle cx="1170.6" cy="624.8" r="2.3" fill="#69001f" fill-opacity="0.55"/>
<line x1="1196.2" y1="614.4" x2="1225.1" y2="611.8" stroke="#900d25" stroke-width="4.4" stroke-opacity="0.72"/>
<circle cx="1210.7" cy="613.1" r="2.3" fill="#900d25" fill-opacity="0.55"/>
<line x1="1252.9" y1="613.1" x2="1276.2" y2="630.4" stroke="#fcddca" stroke-width="4.4" stroke-opacity="0.72"/>
<circle cx="1264.6" cy="621.7" r="2.3" fill="#fcddca" fill-opacity="0.55"/>
<line x1="834.7" y1="636" x2="863.7" y2="636" stroke="#67001f" stroke-width="4.4" stroke-opacity="0.72"/>
<circle cx="849.2" cy="636" r="2.3" fill="#67001f" fill-opacity="0.55"/>
<line x1="903.2" y1="650.8" x2="928.8" y2="637.1" stroke="#f4aa88" stroke-width="4.4" stroke-opacity="0.72"/>
<circle cx="916" cy="643.9" r="2.3" fill="#f4aa88" fill-opacity="0.55"/>
<line x1="949.4" y1="633.6" x2="976.2" y2="644.8" stroke="#e58368" stroke-width="4.4" stroke-opacity="0.72"/>
<circle cx="962.8" cy="639.2" r="2.3" fill="#e58368" fill-opacity="0.55"/>
<line x1="983.8" y1="648.3" x2="1012.8" y2="647" stroke="#7b0622" stroke-width="4.4" stroke-opacity="0.72"/>
<circle cx="998.3" cy="647.6" r="2.3" fill="#7b0622" fill-opacity="0.55"/>
<line x1="1034.6" y1="651.7" x2="1063.4" y2="648.7" stroke="#991027" stroke-width="4.4" stroke-opacity="0.72"/>
<circle cx="1049" cy="650.2" r="2.3" fill="#991027" fill-opacity="0.55"/>
<line x1="1062.2" y1="638.2" x2="1091" y2="634.5" stroke="#a11228" stroke-width="4.4" stroke-opacity="0.72"/>
<circle cx="1076.6" cy="636.3" r="2.3" fill="#a11228" fill-opacity="0.55"/>
<line x1="1131.5" y1="651.7" x2="1160.5" y2="652.1" stroke="#6c011f" stroke-width="4.4" stroke-opacity="0.72"/>
<circle cx="1146" cy="651.9" r="2.3" fill="#6c011f" fill-opacity="0.55"/>
<line x1="1181" y1="653.3" x2="1209.6" y2="658.1" stroke="#b2192b" stroke-width="4.4" stroke-opacity="0.72"/>
<circle cx="1195.3" cy="655.7" r="2.3" fill="#b2192b" fill-opacity="0.55"/>
<line x1="1216.7" y1="643.7" x2="1245.5" y2="640.6" stroke="#991027" stroke-width="4.4" stroke-opacity="0.72"/>
<circle cx="1231.1" cy="642.1" r="2.3" fill="#991027" fill-opacity="0.55"/>
<line x1="1264.1" y1="644.4" x2="1293.1" y2="645.1" stroke="#720320" stroke-width="4.4" stroke-opacity="0.72"/>
<circle cx="1278.6" cy="644.8" r="2.3" fill="#720320" fill-opacity="0.55"/>
<line x1="873.5" y1="693.1" x2="876.3" y2="664.3" stroke="#154f8d" stroke-width="4.4" stroke-opacity="0.72"/>
<circle cx="874.9" cy="678.7" r="2.3" fill="#154f8d" fill-opacity="0.55"/>
<line x1="852.9" y1="667.9" x2="877.4" y2="652.4" stroke="#f9c5ab" stroke-width="4.4" stroke-opacity="0.72"/>
<circle cx="865.1" cy="660.1" r="2.3" fill="#f9c5ab" fill-opacity="0.55"/>
<line x1="933.3" y1="666.7" x2="961" y2="675.2" stroke="#d15749" stroke-width="4.4" stroke-opacity="0.72"/>
<circle cx="947.2" cy="670.9" r="2.3" fill="#d15749" fill-opacity="0.55"/>
<line x1="995.7" y1="663.5" x2="1024.4" y2="667.6" stroke="#aa1529" stroke-width="4.4" stroke-opacity="0.72"/>
<circle cx="1010.1" cy="665.6" r="2.3" fill="#aa1529" fill-opacity="0.55"/>
<line x1="1038.5" y1="684" x2="1063.8" y2="669.8" stroke="#f6b293" stroke-width="4.4" stroke-opacity="0.72"/>
<circle cx="1051.2" cy="676.9" r="2.3" fill="#f6b293" fill-opacity="0.55"/>
<line x1="1078.7" y1="663.1" x2="1107" y2="669.4" stroke="#bf3237" stroke-width="4.4" stroke-opacity="0.72"/>
<circle cx="1092.8" cy="666.2" r="2.3" fill="#bf3237" fill-opacity="0.55"/>
<line x1="1121.8" y1="679.4" x2="1150.4" y2="674.7" stroke="#b2192b" stroke-width="4.4" stroke-opacity="0.72"/>
<circle cx="1136.1" cy="677.1" r="2.3" fill="#b2192b" fill-opacity="0.55"/>
<line x1="1169.5" y1="683.7" x2="1198.2" y2="679.1" stroke="#b2192b" stroke-width="4.4" stroke-opacity="0.72"/>
<circle cx="1183.8" cy="681.4" r="2.3" fill="#b2192b" fill-opacity="0.55"/>
<line x1="1222.2" y1="680.2" x2="1249.4" y2="670" stroke="#de725b" stroke-width="4.4" stroke-opacity="0.72"/>
<circle cx="1235.8" cy="675.1" r="2.3" fill="#de725b" fill-opacity="0.55"/>
<line x1="1255" y1="665.6" x2="1284" y2="666" stroke="#6c011f" stroke-width="4.4" stroke-opacity="0.72"/>
<circle cx="1269.5" cy="665.8" r="2.3" fill="#6c011f" fill-opacity="0.55"/>
<line x1="831.2" y1="686.7" x2="856.6" y2="700.7" stroke="#f5ae8e" stroke-width="4.4" stroke-opacity="0.72"/>
<circle cx="843.9" cy="693.7" r="2.3" fill="#f5ae8e" fill-opacity="0.55"/>
<line x1="900.8" y1="691.6" x2="929.8" y2="690.2" stroke="#7b0622" stroke-width="4.4" stroke-opacity="0.72"/>
<circle cx="915.3" cy="690.9" r="2.3" fill="#7b0622" fill-opacity="0.55"/>
<line x1="979.4" y1="686.3" x2="1008.4" y2="684.5" stroke="#840923" stroke-width="4.4" stroke-opacity="0.72"/>
<circle cx="993.9" cy="685.4" r="2.3" fill="#840923" fill-opacity="0.55"/>
<line x1="991.8" y1="702.9" x2="1020.6" y2="706.3" stroke="#9e1127" stroke-width="4.4" stroke-opacity="0.72"/>
<circle cx="1006.2" cy="704.6" r="2.3" fill="#9e1127" fill-opacity="0.55"/>
<line x1="1035.8" y1="694.9" x2="1064.4" y2="699.4" stroke="#b0172a" stroke-width="4.4" stroke-opacity="0.72"/>
<circle cx="1050.1" cy="697.1" r="2.3" fill="#b0172a" fill-opacity="0.55"/>
<line x1="1087.1" y1="690.6" x2="1114" y2="701.4" stroke="#e27d63" stroke-width="4.4" stroke-opacity="0.72"/>
<circle cx="1100.5" cy="696" r="2.3" fill="#e27d63" fill-opacity="0.55"/>
<line x1="1127.1" y1="707.6" x2="1156.1" y2="706.5" stroke="#780521" stroke-width="4.4" stroke-opacity="0.72"/>
<circle cx="1141.6" cy="707.1" r="2.3" fill="#780521" fill-opacity="0.55"/>
<line x1="1172.7" y1="694.9" x2="1194.2" y2="714.4" stroke="#f9ede7" stroke-width="4.4" stroke-opacity="0.72"/>
<circle cx="1183.4" cy="704.6" r="2.3" fill="#f9ede7" fill-opacity="0.55"/>
<line x1="1220.5" y1="688.3" x2="1248" y2="697.6" stroke="#d86551" stroke-width="4.4" stroke-opacity="0.72"/>
<circle cx="1234.3" cy="692.9" r="2.3" fill="#d86551" fill-opacity="0.55"/>
<line x1="1267.6" y1="685.3" x2="1291.2" y2="702.2" stroke="#fcd8c4" stroke-width="4.4" stroke-opacity="0.72"/>
<circle cx="1279.4" cy="693.8" r="2.3" fill="#fcd8c4" fill-opacity="0.55"/>
<line x1="835.1" y1="726.3" x2="863.2" y2="719.2" stroke="#c6403e" stroke-width="4.4" stroke-opacity="0.72"/>
<circle cx="849.2" cy="722.8" r="2.3" fill="#c6403e" fill-opacity="0.55"/>
<line x1="879.2" y1="713.4" x2="907.3" y2="706.1" stroke="#c7433f" stroke-width="4.4" stroke-opacity="0.72"/>
<circle cx="893.3" cy="709.7" r="2.3" fill="#c7433f" fill-opacity="0.55"/>
<line x1="907.9" y1="728" x2="936.5" y2="723.1" stroke="#b41c2d" stroke-width="4.4" stroke-opacity="0.72"/>
<circle cx="922.2" cy="725.6" r="2.3" fill="#b41c2d" fill-opacity="0.55"/>
<line x1="945" y1="709.6" x2="974" y2="707.8" stroke="#840923" stroke-width="4.4" stroke-opacity="0.72"/>
<circle cx="959.5" cy="708.7" r="2.3" fill="#840923" fill-opacity="0.55"/>
<line x1="992.8" y1="726" x2="1021.3" y2="720.7" stroke="#b82431" stroke-width="4.4" stroke-opacity="0.72"/>
<circle cx="1007.1" cy="723.3" r="2.3" fill="#b82431" fill-opacity="0.55"/>
<line x1="1071.3" y1="738.1" x2="1100.2" y2="740.1" stroke="#870a24" stroke-width="4.4" stroke-opacity="0.72"/>
<circle cx="1085.7" cy="739.1" r="2.3" fill="#870a24" fill-opacity="0.55"/>
<line x1="1101.7" y1="725.4" x2="1130.6" y2="723.5" stroke="#870a24" stroke-width="4.4" stroke-opacity="0.72"/>
<circle cx="1116.2" cy="724.4" r="2.3" fill="#870a24" fill-opacity="0.55"/>
<line x1="1154.4" y1="730.6" x2="1183.3" y2="728.5" stroke="#870a24" stroke-width="4.4" stroke-opacity="0.72"/>
<circle cx="1168.9" cy="729.6" r="2.3" fill="#870a24" fill-opacity="0.55"/>
<line x1="1220.5" y1="710" x2="1249.5" y2="710.5" stroke="#6c011f" stroke-width="4.4" stroke-opacity="0.72"/>
<circle cx="1235" cy="710.2" r="2.3" fill="#6c011f" fill-opacity="0.55"/>
<line x1="1258.4" y1="723.2" x2="1287.3" y2="720.6" stroke="#900d25" stroke-width="4.4" stroke-opacity="0.72"/>
<circle cx="1272.8" cy="721.9" r="2.3" fill="#900d25" fill-opacity="0.55"/>
<line x1="852.1" y1="750.3" x2="879" y2="739.4" stroke="#e27d63" stroke-width="4.4" stroke-opacity="0.72"/>
<circle cx="865.5" cy="744.8" r="2.3" fill="#e27d63" fill-opacity="0.55"/>
<line x1="900.9" y1="755.9" x2="928.5" y2="747.1" stroke="#d45d4b" stroke-width="4.4" stroke-opacity="0.72"/>
<circle cx="914.7" cy="751.5" r="2.3" fill="#d45d4b" fill-opacity="0.55"/>
<line x1="958.6" y1="730.9" x2="967.3" y2="758.5" stroke="#408fc1" stroke-width="4.4" stroke-opacity="0.72"/>
<circle cx="962.9" cy="744.7" r="2.3" fill="#408fc1" fill-opacity="0.55"/>
<line x1="1008.1" y1="739.7" x2="1037.1" y2="741.3" stroke="#810823" stroke-width="4.4" stroke-opacity="0.72"/>
<circle cx="1022.6" cy="740.5" r="2.3" fill="#810823" fill-opacity="0.55"/>
<line x1="1048.6" y1="715.2" x2="1077.1" y2="720.7" stroke="#b92732" stroke-width="4.4" stroke-opacity="0.72"/>
<circle cx="1062.8" cy="718" r="2.3" fill="#b92732" fill-opacity="0.55"/>
<line x1="1068.8" y1="765.6" x2="1096.4" y2="756.7" stroke="#d6604d" stroke-width="4.4" stroke-opacity="0.72"/>
<circle cx="1082.6" cy="761.1" r="2.3" fill="#d6604d" fill-opacity="0.55"/>
<line x1="1143" y1="746.6" x2="1171.5" y2="751.8" stroke="#b6212f" stroke-width="4.4" stroke-opacity="0.72"/>
<circle cx="1157.3" cy="749.2" r="2.3" fill="#b6212f" fill-opacity="0.55"/>
<line x1="1202.9" y1="732.8" x2="1231" y2="725.6" stroke="#c7433f" stroke-width="4.4" stroke-opacity="0.72"/>
<circle cx="1217" cy="729.2" r="2.3" fill="#c7433f" fill-opacity="0.55"/>
<line x1="1226.2" y1="757.9" x2="1251.9" y2="771.3" stroke="#f4a886" stroke-width="4.4" stroke-opacity="0.72"/>
<circle cx="1239" cy="764.6" r="2.3" fill="#f4a886" fill-opacity="0.55"/>
<line x1="1254.6" y1="744.2" x2="1283.6" y2="745.5" stroke="#7b0622" stroke-width="4.4" stroke-opacity="0.72"/>
<circle cx="1269.1" cy="744.9" r="2.3" fill="#7b0622" fill-opacity="0.55"/>
<line x1="825.6" y1="768.8" x2="854.5" y2="765.7" stroke="#991027" stroke-width="4.4" stroke-opacity="0.72"/>
<circle cx="840" cy="767.2" r="2.3" fill="#991027" fill-opacity="0.55"/>
<line x1="867" y1="779.3" x2="895.2" y2="772.5" stroke="#c33b3b" stroke-width="4.4" stroke-opacity="0.72"/>
<circle cx="881.1" cy="775.9" r="2.3" fill="#c33b3b" fill-opacity="0.55"/>
<line x1="920.5" y1="777.6" x2="949.5" y2="777.4" stroke="#69001f" stroke-width="4.4" stroke-opacity="0.72"/>
<circle cx="935" cy="777.5" r="2.3" fill="#69001f" fill-opacity="0.55"/>
<line x1="972.4" y1="767.7" x2="1001.3" y2="770.3" stroke="#900d25" stroke-width="4.4" stroke-opacity="0.72"/>
<circle cx="986.9" cy="769" r="2.3" fill="#900d25" fill-opacity="0.55"/>
<line x1="1019.4" y1="763.5" x2="1047.9" y2="758" stroke="#b92732" stroke-width="4.4" stroke-opacity="0.72"/>
<circle cx="1033.6" cy="760.7" r="2.3" fill="#b92732" fill-opacity="0.55"/>
<line x1="1089.7" y1="793.8" x2="1115.1" y2="779.8" stroke="#f5b090" stroke-width="4.4" stroke-opacity="0.72"/>
<circle cx="1102.4" cy="786.8" r="2.3" fill="#f5b090" fill-opacity="0.55"/>
<line x1="1114" y1="757.5" x2="1140.5" y2="769.2" stroke="#e88b6e" stroke-width="4.4" stroke-opacity="0.72"/>
<circle cx="1127.3" cy="763.3" r="2.3" fill="#e88b6e" fill-opacity="0.55"/>
<line x1="1161.3" y1="770.6" x2="1190.1" y2="773.2" stroke="#900d25" stroke-width="4.4" stroke-opacity="0.72"/>
<circle cx="1175.7" cy="771.9" r="2.3" fill="#900d25" fill-opacity="0.55"/>
<line x1="1193.3" y1="751.2" x2="1222.3" y2="752.2" stroke="#750421" stroke-width="4.4" stroke-opacity="0.72"/>
<circle cx="1207.8" cy="751.7" r="2.3" fill="#750421" fill-opacity="0.55"/>
<line x1="1262.2" y1="773.9" x2="1291" y2="770.8" stroke="#991027" stroke-width="4.4" stroke-opacity="0.72"/>
<circle cx="1276.6" cy="772.4" r="2.3" fill="#991027" fill-opacity="0.55"/>
<line x1="865.1" y1="792.8" x2="891.3" y2="805.1" stroke="#ed9676" stroke-width="4.4" stroke-opacity="0.72"/>
<circle cx="878.2" cy="799" r="2.3" fill="#ed9676" fill-opacity="0.55"/>
<line x1="912.3" y1="802.9" x2="941.3" y2="802.4" stroke="#6f0220" stroke-width="4.4" stroke-opacity="0.72"/>
<circle cx="926.8" cy="802.6" r="2.3" fill="#6f0220" fill-opacity="0.55"/>
<line x1="961.7" y1="804.9" x2="987.9" y2="792.4" stroke="#ee9878" stroke-width="4.4" stroke-opacity="0.72"/>
<circle cx="974.8" cy="798.6" r="2.3" fill="#ee9878" fill-opacity="0.55"/>
<line x1="1008.6" y1="784.8" x2="1031.9" y2="802.1" stroke="#fcdcc8" stroke-width="4.4" stroke-opacity="0.72"/>
<circle cx="1020.2" cy="793.4" r="2.3" fill="#fcdcc8" fill-opacity="0.55"/>
<line x1="1044" y1="785.4" x2="1072.9" y2="782.5" stroke="#960f26" stroke-width="4.4" stroke-opacity="0.72"/>
<circle cx="1058.5" cy="784" r="2.3" fill="#960f26" fill-opacity="0.55"/>
<line x1="1096.7" y1="809.6" x2="1125.1" y2="803.6" stroke="#bc2d34" stroke-width="4.4" stroke-opacity="0.72"/>
<circle cx="1110.9" cy="806.6" r="2.3" fill="#bc2d34" fill-opacity="0.55"/>
<line x1="1144.3" y1="791.2" x2="1170.8" y2="803.1" stroke="#eb9072" stroke-width="4.4" stroke-opacity="0.72"/>
<circle cx="1157.6" cy="797.1" r="2.3" fill="#eb9072" fill-opacity="0.55"/>
<line x1="1180.7" y1="785.9" x2="1208.5" y2="794.3" stroke="#d05447" stroke-width="4.4" stroke-opacity="0.72"/>
<circle cx="1194.6" cy="790.1" r="2.3" fill="#d05447" fill-opacity="0.55"/>
<line x1="1219.8" y1="796.7" x2="1245" y2="782.3" stroke="#f6b496" stroke-width="4.4" stroke-opacity="0.72"/>
<circle cx="1232.4" cy="789.5" r="2.3" fill="#f6b496" fill-opacity="0.55"/>
<line x1="1259" y1="796" x2="1288" y2="795.9" stroke="#67001f" stroke-width="4.4" stroke-opacity="0.72"/>
<circle cx="1273.5" cy="796" r="2.3" fill="#67001f" fill-opacity="0.55"/>
<line x1="830.5" y1="816.1" x2="852.9" y2="797.6" stroke="#fae5d9" stroke-width="4.4" stroke-opacity="0.72"/>
<circle cx="841.7" cy="806.8" r="2.3" fill="#fae5d9" fill-opacity="0.55"/>
<line x1="882.5" y1="821.2" x2="911.5" y2="823" stroke="#840923" stroke-width="4.4" stroke-opacity="0.72"/>
<circle cx="897" cy="822.1" r="2.3" fill="#840923" fill-opacity="0.55"/>
<line x1="941.8" y1="827.3" x2="970.5" y2="823" stroke="#ad162a" stroke-width="4.4" stroke-opacity="0.72"/>
<circle cx="956.2" cy="825.2" r="2.3" fill="#ad162a" fill-opacity="0.55"/>
<line x1="995.1" y1="821.8" x2="1023.7" y2="826.1" stroke="#ad162a" stroke-width="4.4" stroke-opacity="0.72"/>
<circle cx="1009.4" cy="823.9" r="2.3" fill="#ad162a" fill-opacity="0.55"/>
<line x1="1049.7" y1="821.3" x2="1075.5" y2="808.1" stroke="#f4a683" stroke-width="4.4" stroke-opacity="0.72"/>
<circle cx="1062.6" cy="814.7" r="2.3" fill="#f4a683" fill-opacity="0.55"/>
<line x1="1099.8" y1="832.4" x2="1128.5" y2="836.9" stroke="#b0172a" stroke-width="4.4" stroke-opacity="0.72"/>
<circle cx="1114.2" cy="834.6" r="2.3" fill="#b0172a" fill-opacity="0.55"/>
<line x1="1130.1" y1="820.6" x2="1159" y2="818.6" stroke="#870a24" stroke-width="4.4" stroke-opacity="0.72"/>
<circle cx="1144.6" cy="819.6" r="2.3" fill="#870a24" fill-opacity="0.55"/>
<line x1="1170.7" y1="821.2" x2="1198.5" y2="829.4" stroke="#ce5146" stroke-width="4.4" stroke-opacity="0.72"/>
<circle cx="1184.6" cy="825.3" r="2.3" fill="#ce5146" fill-opacity="0.55"/>
<line x1="1209.5" y1="812.8" x2="1238.5" y2="813.1" stroke="#69001f" stroke-width="4.4" stroke-opacity="0.72"/>
<circle cx="1224" cy="813" r="2.3" fill="#69001f" fill-opacity="0.55"/>
<line x1="1260.1" y1="821.4" x2="1289" y2="818.9" stroke="#900d25" stroke-width="4.4" stroke-opacity="0.72"/>
<circle cx="1274.5" cy="820.2" r="2.3" fill="#900d25" fill-opacity="0.55"/>
<line x1="829.8" y1="838.7" x2="858.7" y2="839.9" stroke="#780521" stroke-width="4.4" stroke-opacity="0.72"/>
<circle cx="844.3" cy="839.3" r="2.3" fill="#780521" fill-opacity="0.55"/>
<line x1="876.3" y1="846.8" x2="905.1" y2="844" stroke="#930e26" stroke-width="4.4" stroke-opacity="0.72"/>
<circle cx="890.7" cy="845.4" r="2.3" fill="#930e26" fill-opacity="0.55"/>
<line x1="927" y1="843.6" x2="955.9" y2="845.9" stroke="#8d0c25" stroke-width="4.4" stroke-opacity="0.72"/>
<circle cx="941.5" cy="844.8" r="2.3" fill="#8d0c25" fill-opacity="0.55"/>
<line x1="978.9" y1="844.6" x2="1005.4" y2="856.6" stroke="#eb9072" stroke-width="4.4" stroke-opacity="0.72"/>
<circle cx="992.1" cy="850.6" r="2.3" fill="#eb9072" fill-opacity="0.55"/>
<line x1="1055.3" y1="852.2" x2="1066.1" y2="825.3" stroke="#61a6cd" stroke-width="4.4" stroke-opacity="0.72"/>
<circle cx="1060.7" cy="838.8" r="2.3" fill="#61a6cd" fill-opacity="0.55"/>
<line x1="1086" y1="860.3" x2="1115" y2="858.8" stroke="#7e0722" stroke-width="4.4" stroke-opacity="0.72"/>
<circle cx="1100.5" cy="859.5" r="2.3" fill="#7e0722" fill-opacity="0.55"/>
<line x1="1150.1" y1="849" x2="1178.9" y2="845.6" stroke="#9b1027" stroke-width="4.4" stroke-opacity="0.72"/>
<circle cx="1164.5" cy="847.3" r="2.3" fill="#9b1027" fill-opacity="0.55"/>
<line x1="1196.4" y1="857.9" x2="1225.2" y2="854.5" stroke="#9e1127" stroke-width="4.4" stroke-opacity="0.72"/>
<circle cx="1210.8" cy="856.2" r="2.3" fill="#9e1127" fill-opacity="0.55"/>
<line x1="1218.7" y1="832" x2="1246.6" y2="839.9" stroke="#cd4f44" stroke-width="4.4" stroke-opacity="0.72"/>
<circle cx="1232.6" cy="836" r="2.3" fill="#cd4f44" fill-opacity="0.55"/>
<line x1="1258.7" y1="852.8" x2="1287.4" y2="848.5" stroke="#aa1529" stroke-width="4.4" stroke-opacity="0.72"/>
<circle cx="1273.1" cy="850.7" r="2.3" fill="#aa1529" fill-opacity="0.55"/>
<line x1="848" y1="875.7" x2="872.7" y2="860.5" stroke="#f8bfa3" stroke-width="4.4" stroke-opacity="0.72"/>
<circle cx="860.4" cy="868.1" r="2.3" fill="#f8bfa3" fill-opacity="0.55"/>
<line x1="909.7" y1="883.5" x2="938.5" y2="886.9" stroke="#9b1027" stroke-width="4.4" stroke-opacity="0.72"/>
<circle cx="924.1" cy="885.2" r="2.3" fill="#9b1027" fill-opacity="0.55"/>
<line x1="915.9" y1="868.9" x2="943.8" y2="860.6" stroke="#d05447" stroke-width="4.4" stroke-opacity="0.72"/>
<circle cx="929.8" cy="864.7" r="2.3" fill="#d05447" fill-opacity="0.55"/>
<line x1="976" y1="879.1" x2="1003.4" y2="869.7" stroke="#d86551" stroke-width="4.4" stroke-opacity="0.72"/>
<circle cx="989.7" cy="874.4" r="2.3" fill="#d86551" fill-opacity="0.55"/>
<line x1="1044.6" y1="876.3" x2="1072.7" y2="883.5" stroke="#c6403e" stroke-width="4.4" stroke-opacity="0.72"/>
<circle cx="1058.6" cy="879.9" r="2.3" fill="#c6403e" fill-opacity="0.55"/>
<line x1="1027.8" y1="860.5" x2="1056.6" y2="857.2" stroke="#9b1027" stroke-width="4.4" stroke-opacity="0.72"/>
<circle cx="1042.2" cy="858.9" r="2.3" fill="#9b1027" fill-opacity="0.55"/>
<line x1="1128.2" y1="863.1" x2="1156.8" y2="868.1" stroke="#b51f2e" stroke-width="4.4" stroke-opacity="0.72"/>
<circle cx="1142.5" cy="865.6" r="2.3" fill="#b51f2e" fill-opacity="0.55"/>
<line x1="1170.2" y1="880.1" x2="1198.7" y2="875" stroke="#b51f2e" stroke-width="4.4" stroke-opacity="0.72"/>
<circle cx="1184.4" cy="877.5" r="2.3" fill="#b51f2e" fill-opacity="0.55"/>
<line x1="1223.9" y1="875.1" x2="1252.6" y2="870.8" stroke="#ad162a" stroke-width="4.4" stroke-opacity="0.72"/>
<circle cx="1238.2" cy="873" r="2.3" fill="#ad162a" fill-opacity="0.55"/>
<line x1="1261.2" y1="876.6" x2="1289.3" y2="883.7" stroke="#c6403e" stroke-width="4.4" stroke-opacity="0.72"/>
<circle cx="1275.2" cy="880.1" r="2.3" fill="#c6403e" fill-opacity="0.55"/>
<line x1="836.6" y1="893.5" x2="865.6" y2="892" stroke="#7e0722" stroke-width="4.4" stroke-opacity="0.72"/>
<circle cx="851.1" cy="892.8" r="2.3" fill="#7e0722" fill-opacity="0.55"/>
<line x1="870.6" y1="921.2" x2="899.5" y2="922.4" stroke="#780521" stroke-width="4.4" stroke-opacity="0.72"/>
<circle cx="885" cy="921.8" r="2.3" fill="#780521" fill-opacity="0.55"/>
<line x1="961.9" y1="901.9" x2="989" y2="891.5" stroke="#df755d" stroke-width="4.4" stroke-opacity="0.72"/>
<circle cx="975.4" cy="896.7" r="2.3" fill="#df755d" fill-opacity="0.55"/>
<line x1="1011.7" y1="902.4" x2="1039.5" y2="894.1" stroke="#d05447" stroke-width="4.4" stroke-opacity="0.72"/>
<circle cx="1025.6" cy="898.2" r="2.3" fill="#d05447" fill-opacity="0.55"/>
<line x1="1059.6" y1="906.9" x2="1088.4" y2="909.7" stroke="#930e26" stroke-width="4.4" stroke-opacity="0.72"/>
<circle cx="1074" cy="908.3" r="2.3" fill="#930e26" fill-opacity="0.55"/>
<line x1="1089.5" y1="895.5" x2="1118.1" y2="890.6" stroke="#b41c2d" stroke-width="4.4" stroke-opacity="0.72"/>
<circle cx="1103.8" cy="893" r="2.3" fill="#b41c2d" fill-opacity="0.55"/>
<line x1="1119.5" y1="885.4" x2="1148.4" y2="882.3" stroke="#991027" stroke-width="4.4" stroke-opacity="0.72"/>
<circle cx="1133.9" cy="883.9" r="2.3" fill="#991027" fill-opacity="0.55"/>
<line x1="1148.2" y1="900.9" x2="1177.2" y2="899.4" stroke="#7e0722" stroke-width="4.4" stroke-opacity="0.72"/>
<circle cx="1162.7" cy="900.2" r="2.3" fill="#7e0722" fill-opacity="0.55"/>
<line x1="1210.8" y1="898.3" x2="1239.8" y2="897.1" stroke="#7b0622" stroke-width="4.4" stroke-opacity="0.72"/>
<circle cx="1225.3" cy="897.7" r="2.3" fill="#7b0622" fill-opacity="0.55"/>
<line x1="1261.9" y1="903.4" x2="1290.9" y2="902.5" stroke="#750421" stroke-width="4.4" stroke-opacity="0.72"/>
<circle cx="1276.4" cy="902.9" r="2.3" fill="#750421" fill-opacity="0.55"/>
<line x1="828.5" y1="915.1" x2="855.1" y2="926.8" stroke="#e88b6e" stroke-width="4.4" stroke-opacity="0.72"/>
<circle cx="841.8" cy="920.9" r="2.3" fill="#e88b6e" fill-opacity="0.55"/>
<line x1="892.6" y1="903.2" x2="921.6" y2="902.7" stroke="#6c011f" stroke-width="4.4" stroke-opacity="0.72"/>
<circle cx="907.1" cy="902.9" r="2.3" fill="#6c011f" fill-opacity="0.55"/>
<line x1="920.9" y1="926.1" x2="949.7" y2="922.3" stroke="#a41328" stroke-width="4.4" stroke-opacity="0.72"/>
<circle cx="935.3" cy="924.2" r="2.3" fill="#a41328" fill-opacity="0.55"/>
<line x1="966.8" y1="920.2" x2="995.8" y2="921" stroke="#720320" stroke-width="4.4" stroke-opacity="0.72"/>
<circle cx="981.3" cy="920.6" r="2.3" fill="#720320" fill-opacity="0.55"/>
<line x1="1014.2" y1="923.8" x2="1042.9" y2="919.5" stroke="#ad162a" stroke-width="4.4" stroke-opacity="0.72"/>
<circle cx="1028.6" cy="921.6" r="2.3" fill="#ad162a" fill-opacity="0.55"/>
<line x1="1089.3" y1="927.7" x2="1113.4" y2="943.8" stroke="#faccb4" stroke-width="4.4" stroke-opacity="0.72"/>
<circle cx="1101.3" cy="935.8" r="2.3" fill="#faccb4" fill-opacity="0.55"/>
<line x1="1116.6" y1="916.2" x2="1144.9" y2="922.7" stroke="#c03538" stroke-width="4.4" stroke-opacity="0.72"/>
<circle cx="1130.8" cy="919.5" r="2.3" fill="#c03538" fill-opacity="0.55"/>
<line x1="1174.5" y1="913" x2="1203.2" y2="917.5" stroke="#b0172a" stroke-width="4.4" stroke-opacity="0.72"/>
<circle cx="1188.9" cy="915.3" r="2.3" fill="#b0172a" fill-opacity="0.55"/>
<line x1="1198.5" y1="929.3" x2="1227.5" y2="930.2" stroke="#750421" stroke-width="4.4" stroke-opacity="0.72"/>
<circle cx="1213" cy="929.8" r="2.3" fill="#750421" fill-opacity="0.55"/>
<line x1="1249.8" y1="931.2" x2="1274.6" y2="916.3" stroke="#f7bb9e" stroke-width="4.4" stroke-opacity="0.72"/>
<circle cx="1262.2" cy="923.8" r="2.3" fill="#f7bb9e" fill-opacity="0.55"/>
<line x1="844.7" y1="953.4" x2="867.4" y2="935.4" stroke="#fbe2d4" stroke-width="4.4" stroke-opacity="0.72"/>
<circle cx="856.1" cy="944.4" r="2.3" fill="#fbe2d4" fill-opacity="0.55"/>
<line x1="898.9" y1="948.3" x2="927.8" y2="947.3" stroke="#750421" stroke-width="4.4" stroke-opacity="0.72"/>
<circle cx="913.4" cy="947.8" r="2.3" fill="#750421" fill-opacity="0.55"/>
<line x1="949.4" y1="941.9" x2="974.2" y2="956.9" stroke="#f8bda1" stroke-width="4.4" stroke-opacity="0.72"/>
<circle cx="961.8" cy="949.4" r="2.3" fill="#f8bda1" fill-opacity="0.55"/>
<line x1="994.5" y1="945" x2="1023.4" y2="942.2" stroke="#930e26" stroke-width="4.4" stroke-opacity="0.72"/>
<circle cx="1009" cy="943.6" r="2.3" fill="#930e26" fill-opacity="0.55"/>
<line x1="1046.7" y1="934.6" x2="1075.6" y2="931.9" stroke="#900d25" stroke-width="4.4" stroke-opacity="0.72"/>
<circle cx="1061.1" cy="933.2" r="2.3" fill="#900d25" fill-opacity="0.55"/>
<line x1="1072.6" y1="953.8" x2="1101.5" y2="956.4" stroke="#900d25" stroke-width="4.4" stroke-opacity="0.72"/>
<circle cx="1087" cy="955.1" r="2.3" fill="#900d25" fill-opacity="0.55"/>
<line x1="1127" y1="949.6" x2="1155.6" y2="945" stroke="#b2192b" stroke-width="4.4" stroke-opacity="0.72"/>
<circle cx="1141.3" cy="947.3" r="2.3" fill="#b2192b" fill-opacity="0.55"/>
<line x1="1169.9" y1="937.6" x2="1195.3" y2="951.7" stroke="#f5b090" stroke-width="4.4" stroke-opacity="0.72"/>
<circle cx="1182.6" cy="944.6" r="2.3" fill="#f5b090" fill-opacity="0.55"/>
<line x1="1221.9" y1="942.8" x2="1246.7" y2="957.8" stroke="#f8bda1" stroke-width="4.4" stroke-opacity="0.72"/>
<circle cx="1234.3" cy="950.3" r="2.3" fill="#f8bda1" fill-opacity="0.55"/>
<line x1="1263.4" y1="948.2" x2="1292.3" y2="949.5" stroke="#7b0622" stroke-width="4.4" stroke-opacity="0.72"/>
<circle cx="1277.8" cy="948.8" r="2.3" fill="#7b0622" fill-opacity="0.55"/>
<line x1="830.7" y1="970" x2="859.7" y2="969.3" stroke="#6f0220" stroke-width="4.4" stroke-opacity="0.72"/>
<circle cx="845.2" cy="969.7" r="2.3" fill="#6f0220" fill-opacity="0.55"/>
<line x1="871.6" y1="965.3" x2="900.4" y2="968.6" stroke="#9b1027" stroke-width="4.4" stroke-opacity="0.72"/>
<circle cx="886" cy="966.9" r="2.3" fill="#9b1027" fill-opacity="0.55"/>
<line x1="914.3" y1="968.7" x2="942" y2="977.6" stroke="#d45d4b" stroke-width="4.4" stroke-opacity="0.72"/>
<circle cx="928.2" cy="973.1" r="2.3" fill="#d45d4b" fill-opacity="0.55"/>
<line x1="976.6" y1="980" x2="1000.9" y2="964.1" stroke="#facab1" stroke-width="4.4" stroke-opacity="0.72"/>
<circle cx="988.7" cy="972" r="2.3" fill="#facab1" fill-opacity="0.55"/>
<line x1="1022" y1="959.8" x2="1051" y2="960.8" stroke="#750421" stroke-width="4.4" stroke-opacity="0.72"/>
<circle cx="1036.5" cy="960.3" r="2.3" fill="#750421" fill-opacity="0.55"/>
<line x1="1050.2" y1="976.2" x2="1079.1" y2="973.3" stroke="#960f26" stroke-width="4.4" stroke-opacity="0.72"/>
<circle cx="1064.7" cy="974.7" r="2.3" fill="#960f26" fill-opacity="0.55"/>
<line x1="1106.5" y1="972.7" x2="1135.5" y2="971.1" stroke="#810823" stroke-width="4.4" stroke-opacity="0.72"/>
<circle cx="1121" cy="971.9" r="2.3" fill="#810823" fill-opacity="0.55"/>
<line x1="1155.7" y1="971.4" x2="1184.7" y2="969.3" stroke="#870a24" stroke-width="4.4" stroke-opacity="0.72"/>
<circle cx="1170.2" cy="970.4" r="2.3" fill="#870a24" fill-opacity="0.55"/>
<line x1="1202.8" y1="968.1" x2="1230.8" y2="975.5" stroke="#c94641" stroke-width="4.4" stroke-opacity="0.72"/>
<circle cx="1216.8" cy="971.8" r="2.3" fill="#c94641" fill-opacity="0.55"/>
<line x1="1254.3" y1="972.7" x2="1283.3" y2="972.6" stroke="#67001f" stroke-width="4.4" stroke-opacity="0.72"/>
<circle cx="1268.8" cy="972.6" r="2.3" fill="#67001f" fill-opacity="0.55"/>
</g>
<rect x="1122" y="508" width="174" height="33" fill="#fff"/>
<text x="1292" y="538" font-size="33.5" text-anchor="end" fill="#000" >t = 230 min</text>
<text x="822" y="557" font-size="58" text-anchor="start" fill="#000" >(g)</text>
<text x="764" y="748" font-size="34.5" text-anchor="middle" fill="#111" transform="rotate(-90 764 748)" >Anteroposterior (<tspan font-style="italic" font-family='"Liberation Serif", serif'>μm</tspan>)</text>
<rect x="1307" y="512" width="156" height="471" fill="#fff" stroke="#222" stroke-width="2"/>
<line x1="1389" y1="512" x2="1389" y2="983" stroke="#555" stroke-width="3.4" stroke-dasharray="7 4"/>
<line x1="1307" y1="659.6" x2="1312" y2="659.6" stroke="#222" stroke-width="1.8"/>
<line x1="1463" y1="659.6" x2="1458" y2="659.6" stroke="#222" stroke-width="1.8"/>
<line x1="1307" y1="807.8" x2="1312" y2="807.8" stroke="#222" stroke-width="1.8"/>
<line x1="1463" y1="807.8" x2="1458" y2="807.8" stroke="#222" stroke-width="1.8"/>
<line x1="1307" y1="955.4" x2="1312" y2="955.4" stroke="#222" stroke-width="1.8"/>
<line x1="1463" y1="955.4" x2="1458" y2="955.4" stroke="#222" stroke-width="1.8"/>
<line x1="1314.8" y1="512" x2="1314.8" y2="517" stroke="#222" stroke-width="1.8"/>
<line x1="1314.8" y1="983" x2="1314.8" y2="978" stroke="#222" stroke-width="1.8"/>
<line x1="1389" y1="512" x2="1389" y2="517" stroke="#222" stroke-width="1.8"/>
<line x1="1389" y1="983" x2="1389" y2="978" stroke="#222" stroke-width="1.8"/>
<line x1="1462.4" y1="512" x2="1462.4" y2="517" stroke="#222" stroke-width="1.8"/>
<line x1="1462.4" y1="983" x2="1462.4" y2="978" stroke="#222" stroke-width="1.8"/>
<polyline points="1437.6,534.8 1421.5,557.7 1369.1,580.9 1377.8,603.6 1422.2,626.3 1435.6,649.4 1448.6,672.3 1446.5,695.1 1444.3,718.2 1437.9,741.1 1434.5,764 1436.6,786.9 1431.5,809.7 1417,832.8 1412.9,855.5 1419.5,878.6 1418.4,901.6 1409.4,924.7 1402.1,947.4 1389.7,970.5" fill="none" stroke="#1a9be6" stroke-width="1.7"/>
<circle cx="1437.6" cy="534.8" r="6.6" fill="#e3e3e3" stroke="#1a9be6" stroke-width="1.9"/>
<circle cx="1421.5" cy="557.7" r="6.6" fill="#e3e3e3" stroke="#1a9be6" stroke-width="1.9"/>
<circle cx="1369.1" cy="580.9" r="6.6" fill="#e3e3e3" stroke="#1a9be6" stroke-width="1.9"/>
<circle cx="1377.8" cy="603.6" r="6.6" fill="#e3e3e3" stroke="#1a9be6" stroke-width="1.9"/>
<circle cx="1422.2" cy="626.3" r="6.6" fill="#e3e3e3" stroke="#1a9be6" stroke-width="1.9"/>
<circle cx="1435.6" cy="649.4" r="6.6" fill="#e3e3e3" stroke="#1a9be6" stroke-width="1.9"/>
<circle cx="1448.6" cy="672.3" r="6.6" fill="#e3e3e3" stroke="#1a9be6" stroke-width="1.9"/>
<circle cx="1446.5" cy="695.1" r="6.6" fill="#e3e3e3" stroke="#1a9be6" stroke-width="1.9"/>
<circle cx="1444.3" cy="718.2" r="6.6" fill="#e3e3e3" stroke="#1a9be6" stroke-width="1.9"/>
<circle cx="1437.9" cy="741.1" r="6.6" fill="#e3e3e3" stroke="#1a9be6" stroke-width="1.9"/>
<circle cx="1434.5" cy="764" r="6.6" fill="#e3e3e3" stroke="#1a9be6" stroke-width="1.9"/>
<circle cx="1436.6" cy="786.9" r="6.6" fill="#e3e3e3" stroke="#1a9be6" stroke-width="1.9"/>
<circle cx="1431.5" cy="809.7" r="6.6" fill="#e3e3e3" stroke="#1a9be6" stroke-width="1.9"/>
<circle cx="1417" cy="832.8" r="6.6" fill="#e3e3e3" stroke="#1a9be6" stroke-width="1.9"/>
<circle cx="1412.9" cy="855.5" r="6.6" fill="#e3e3e3" stroke="#1a9be6" stroke-width="1.9"/>
<circle cx="1419.5" cy="878.6" r="6.6" fill="#e3e3e3" stroke="#1a9be6" stroke-width="1.9"/>
<circle cx="1418.4" cy="901.6" r="6.6" fill="#e3e3e3" stroke="#1a9be6" stroke-width="1.9"/>
<circle cx="1409.4" cy="924.7" r="6.6" fill="#e3e3e3" stroke="#1a9be6" stroke-width="1.9"/>
<circle cx="1402.1" cy="947.4" r="6.6" fill="#e3e3e3" stroke="#1a9be6" stroke-width="1.9"/>
<circle cx="1389.7" cy="970.5" r="6.6" fill="#e3e3e3" stroke="#1a9be6" stroke-width="1.9"/>
<text x="1302.3" y="989" font-size="34.5" text-anchor="start" fill="#222" transform="rotate(90 1302.3 989)" >0</text>
<text x="1376.5" y="989" font-size="34.5" text-anchor="start" fill="#222" transform="rotate(90 1376.5 989)" >0.5</text>
<text x="1449.9" y="989" font-size="34.5" text-anchor="start" fill="#222" transform="rotate(90 1449.9 989)" >1</text>
<text x="1309" y="558" font-size="58" text-anchor="start" fill="#000" >(h)</text>
<rect x="88" y="1004" width="465" height="149" fill="#fff" stroke="#222" stroke-width="2"/>
<line x1="88" y1="1066.6" x2="553" y2="1066.6" stroke="#555" stroke-width="3.2" stroke-dasharray="7 4"/>
<line x1="88" y1="1004" x2="88" y2="1009" stroke="#222" stroke-width="1.8"/>
<line x1="88" y1="1153" x2="88" y2="1148" stroke="#222" stroke-width="1.8"/>
<line x1="234.5" y1="1004" x2="234.5" y2="1009" stroke="#222" stroke-width="1.8"/>
<line x1="234.5" y1="1153" x2="234.5" y2="1148" stroke="#222" stroke-width="1.8"/>
<line x1="380.4" y1="1004" x2="380.4" y2="1009" stroke="#222" stroke-width="1.8"/>
<line x1="380.4" y1="1153" x2="380.4" y2="1148" stroke="#222" stroke-width="1.8"/>
<line x1="525.9" y1="1004" x2="525.9" y2="1009" stroke="#222" stroke-width="1.8"/>
<line x1="525.9" y1="1153" x2="525.9" y2="1148" stroke="#222" stroke-width="1.8"/>
<line x1="88" y1="1004" x2="93" y2="1004" stroke="#222" stroke-width="1.8"/>
<line x1="553" y1="1004" x2="548" y2="1004" stroke="#222" stroke-width="1.8"/>
<line x1="88" y1="1066.6" x2="93" y2="1066.6" stroke="#222" stroke-width="1.8"/>
<line x1="553" y1="1066.6" x2="548" y2="1066.6" stroke="#222" stroke-width="1.8"/>
<line x1="88" y1="1129.4" x2="93" y2="1129.4" stroke="#222" stroke-width="1.8"/>
<line x1="553" y1="1129.4" x2="548" y2="1129.4" stroke="#222" stroke-width="1.8"/>
<polyline points="111.1,1146.7 134,1080.9 156.6,1069.6 179.5,1077.4 202.5,1051 224.5,1067.5 247.1,1109.9 269.6,1126.4 292.5,1096.9 315.5,1080 338,1094.3 360.5,1062.7 383,1045.8 405.5,1042.8 428.5,1037.6 451,1044.5 473.9,1034.6 496.9,1038.5 519.4,1029.8 541.9,1037.6" fill="none" stroke="#f020b0" stroke-width="1.7"/>
<rect x="104.8" y="1140.4" width="12.6" height="12.6" fill="#e3e3e3" stroke="#f020b0" stroke-width="1.8"/>
<rect x="127.7" y="1074.6" width="12.6" height="12.6" fill="#e3e3e3" stroke="#f020b0" stroke-width="1.8"/>
<rect x="150.3" y="1063.3" width="12.6" height="12.6" fill="#e3e3e3" stroke="#f020b0" stroke-width="1.8"/>
<rect x="173.2" y="1071.1" width="12.6" height="12.6" fill="#e3e3e3" stroke="#f020b0" stroke-width="1.8"/>
<rect x="196.2" y="1044.7" width="12.6" height="12.6" fill="#e3e3e3" stroke="#f020b0" stroke-width="1.8"/>
<rect x="218.2" y="1061.2" width="12.6" height="12.6" fill="#e3e3e3" stroke="#f020b0" stroke-width="1.8"/>
<rect x="240.8" y="1103.6" width="12.6" height="12.6" fill="#e3e3e3" stroke="#f020b0" stroke-width="1.8"/>
<rect x="263.3" y="1120.1" width="12.6" height="12.6" fill="#e3e3e3" stroke="#f020b0" stroke-width="1.8"/>
<rect x="286.2" y="1090.6" width="12.6" height="12.6" fill="#e3e3e3" stroke="#f020b0" stroke-width="1.8"/>
<rect x="309.2" y="1073.7" width="12.6" height="12.6" fill="#e3e3e3" stroke="#f020b0" stroke-width="1.8"/>
<rect x="331.7" y="1088" width="12.6" height="12.6" fill="#e3e3e3" stroke="#f020b0" stroke-width="1.8"/>
<rect x="354.2" y="1056.4" width="12.6" height="12.6" fill="#e3e3e3" stroke="#f020b0" stroke-width="1.8"/>
<rect x="376.7" y="1039.5" width="12.6" height="12.6" fill="#e3e3e3" stroke="#f020b0" stroke-width="1.8"/>
<rect x="399.2" y="1036.5" width="12.6" height="12.6" fill="#e3e3e3" stroke="#f020b0" stroke-width="1.8"/>
<rect x="422.2" y="1031.3" width="12.6" height="12.6" fill="#e3e3e3" stroke="#f020b0" stroke-width="1.8"/>
<rect x="444.7" y="1038.2" width="12.6" height="12.6" fill="#e3e3e3" stroke="#f020b0" stroke-width="1.8"/>
<rect x="467.6" y="1028.3" width="12.6" height="12.6" fill="#e3e3e3" stroke="#f020b0" stroke-width="1.8"/>
<rect x="490.6" y="1032.2" width="12.6" height="12.6" fill="#e3e3e3" stroke="#f020b0" stroke-width="1.8"/>
<rect x="513.1" y="1023.5" width="12.6" height="12.6" fill="#e3e3e3" stroke="#f020b0" stroke-width="1.8"/>
<rect x="535.6" y="1031.3" width="12.6" height="12.6" fill="#e3e3e3" stroke="#f020b0" stroke-width="1.8"/>
<text x="88" y="1195" font-size="32.5" text-anchor="middle" fill="#111" >0</text>
<text x="234.5" y="1195" font-size="32.5" text-anchor="middle" fill="#111" >100</text>
<text x="380.4" y="1195" font-size="32.5" text-anchor="middle" fill="#111" >200</text>
<text x="525.9" y="1195" font-size="32.5" text-anchor="middle" fill="#111" >300</text>
<text x="563" y="1015.5" font-size="32.5" text-anchor="start" fill="#111" >1</text>
<text x="563" y="1078.1" font-size="32.5" text-anchor="start" fill="#111" >0.5</text>
<text x="563" y="1140.9" font-size="32.5" text-anchor="start" fill="#111" >0</text>
<text x="535" y="1136" font-size="27.5" text-anchor="end" fill="#111" >t = 0-1 hr</text>
<text x="97" y="1047" font-size="58" text-anchor="start" fill="#000" >(f)</text>
<text x="320.5" y="1233.5" font-size="36.5" text-anchor="middle" fill="#111" >Mediolateral (<tspan font-style="italic" font-family='"Liberation Serif", serif'>μm</tspan>)</text>
<text x="617" y="1066" font-size="31" text-anchor="middle" fill="#111" transform="rotate(90 617 1066)" >S</text>
<rect x="816" y="1002.5" width="466" height="150.5" fill="#fff" stroke="#222" stroke-width="2"/>
<line x1="816" y1="1074.4" x2="1282" y2="1074.4" stroke="#555" stroke-width="3.2" stroke-dasharray="7 4"/>
<line x1="816" y1="1002.5" x2="816" y2="1007.5" stroke="#222" stroke-width="1.8"/>
<line x1="816" y1="1153" x2="816" y2="1148" stroke="#222" stroke-width="1.8"/>
<line x1="963.8" y1="1002.5" x2="963.8" y2="1007.5" stroke="#222" stroke-width="1.8"/>
<line x1="963.8" y1="1153" x2="963.8" y2="1148" stroke="#222" stroke-width="1.8"/>
<line x1="1110.6" y1="1002.5" x2="1110.6" y2="1007.5" stroke="#222" stroke-width="1.8"/>
<line x1="1110.6" y1="1153" x2="1110.6" y2="1148" stroke="#222" stroke-width="1.8"/>
<line x1="1256.9" y1="1002.5" x2="1256.9" y2="1007.5" stroke="#222" stroke-width="1.8"/>
<line x1="1256.9" y1="1153" x2="1256.9" y2="1148" stroke="#222" stroke-width="1.8"/>
<line x1="816" y1="1002.5" x2="821" y2="1002.5" stroke="#222" stroke-width="1.8"/>
<line x1="1282" y1="1002.5" x2="1277" y2="1002.5" stroke="#222" stroke-width="1.8"/>
<line x1="816" y1="1074.4" x2="821" y2="1074.4" stroke="#222" stroke-width="1.8"/>
<line x1="1282" y1="1074.4" x2="1277" y2="1074.4" stroke="#222" stroke-width="1.8"/>
<line x1="816" y1="1146.7" x2="821" y2="1146.7" stroke="#222" stroke-width="1.8"/>
<line x1="1282" y1="1146.7" x2="1277" y2="1146.7" stroke="#222" stroke-width="1.8"/>
<polyline points="839.5,1115.5 862.5,1067.5 884.5,1054 907.1,1054 930,1073.1 953,1051 975.9,1025.5 998.4,1017.2 1021.4,1022.9 1043.9,1026.8 1066.4,1017.7 1088.9,1025 1111.9,1032.4 1134.4,1040.2 1157.3,1045 1180.3,1050.1 1202.8,1034.1 1225.3,1040.2 1248.3,1028.5 1270.8,1051" fill="none" stroke="#f020b0" stroke-width="1.7"/>
<rect x="833.2" y="1109.2" width="12.6" height="12.6" fill="#e3e3e3" stroke="#f020b0" stroke-width="1.8"/>
<rect x="856.2" y="1061.2" width="12.6" height="12.6" fill="#e3e3e3" stroke="#f020b0" stroke-width="1.8"/>
<rect x="878.2" y="1047.7" width="12.6" height="12.6" fill="#e3e3e3" stroke="#f020b0" stroke-width="1.8"/>
<rect x="900.8" y="1047.7" width="12.6" height="12.6" fill="#e3e3e3" stroke="#f020b0" stroke-width="1.8"/>
<rect x="923.7" y="1066.8" width="12.6" height="12.6" fill="#e3e3e3" stroke="#f020b0" stroke-width="1.8"/>
<rect x="946.7" y="1044.7" width="12.6" height="12.6" fill="#e3e3e3" stroke="#f020b0" stroke-width="1.8"/>
<rect x="969.6" y="1019.2" width="12.6" height="12.6" fill="#e3e3e3" stroke="#f020b0" stroke-width="1.8"/>
<rect x="992.1" y="1010.9" width="12.6" height="12.6" fill="#e3e3e3" stroke="#f020b0" stroke-width="1.8"/>
<rect x="1015.1" y="1016.6" width="12.6" height="12.6" fill="#e3e3e3" stroke="#f020b0" stroke-width="1.8"/>
<rect x="1037.6" y="1020.5" width="12.6" height="12.6" fill="#e3e3e3" stroke="#f020b0" stroke-width="1.8"/>
<rect x="1060.1" y="1011.4" width="12.6" height="12.6" fill="#e3e3e3" stroke="#f020b0" stroke-width="1.8"/>
<rect x="1082.6" y="1018.7" width="12.6" height="12.6" fill="#e3e3e3" stroke="#f020b0" stroke-width="1.8"/>
<rect x="1105.6" y="1026.1" width="12.6" height="12.6" fill="#e3e3e3" stroke="#f020b0" stroke-width="1.8"/>
<rect x="1128.1" y="1033.9" width="12.6" height="12.6" fill="#e3e3e3" stroke="#f020b0" stroke-width="1.8"/>
<rect x="1151" y="1038.7" width="12.6" height="12.6" fill="#e3e3e3" stroke="#f020b0" stroke-width="1.8"/>
<rect x="1174" y="1043.8" width="12.6" height="12.6" fill="#e3e3e3" stroke="#f020b0" stroke-width="1.8"/>
<rect x="1196.5" y="1027.8" width="12.6" height="12.6" fill="#e3e3e3" stroke="#f020b0" stroke-width="1.8"/>
<rect x="1219" y="1033.9" width="12.6" height="12.6" fill="#e3e3e3" stroke="#f020b0" stroke-width="1.8"/>
<rect x="1242" y="1022.2" width="12.6" height="12.6" fill="#e3e3e3" stroke="#f020b0" stroke-width="1.8"/>
<rect x="1264.5" y="1044.7" width="12.6" height="12.6" fill="#e3e3e3" stroke="#f020b0" stroke-width="1.8"/>
<text x="816" y="1195" font-size="32.5" text-anchor="middle" fill="#111" >0</text>
<text x="963.8" y="1195" font-size="32.5" text-anchor="middle" fill="#111" >100</text>
<text x="1110.6" y="1195" font-size="32.5" text-anchor="middle" fill="#111" >200</text>
<text x="1256.9" y="1195" font-size="32.5" text-anchor="middle" fill="#111" >300</text>
<text x="809" y="1014" font-size="32.5" text-anchor="end" fill="#111" >1</text>
<text x="809" y="1085.9" font-size="32.5" text-anchor="end" fill="#111" >0.5</text>
<text x="809" y="1158.2" font-size="32.5" text-anchor="end" fill="#111" >0</text>
<text x="1277" y="1134" font-size="27.5" text-anchor="end" fill="#111" >t = 3-4 hr</text>
<text x="829" y="1047" font-size="58" text-anchor="start" fill="#000" >(i)</text>
<text x="1082" y="1233.5" font-size="36.5" text-anchor="middle" fill="#111" >Mediolateral (<tspan font-style="italic" font-family='"Liberation Serif", serif'>μm</tspan>)</text>
<text x="750" y="1075" font-size="31" text-anchor="middle" fill="#111" transform="rotate(-90 750 1075)" >S</text>
<polygon points="118.4,1604.3 127.6,1551.5 137.8,1506.6 147.1,1554.5 156.4,1558.6 166.6,1559.8 176.8,1532 185.6,1594 194.8,1582.6 204.6,1594.3 214.3,1586.6 224.1,1596.3 234.3,1590 243.5,1581.1 253.3,1579.9 263,1574.5 273.3,1545.4 282.5,1554.9 292.7,1553.6 302.5,1508.6 312.2,1480.2 321.5,1428.1 331.2,1455.1 341,1416.4 349.7,1390.5 359.5,1377.8 368.7,1386.9 378.5,1394.6 388.7,1380.5 398.4,1403.5 408.2,1419 417.9,1384 427.7,1372.1 437.4,1401.5 446.7,1413.4 456.9,1382.3 466.6,1356.8 476.4,1362.1 485.6,1374.2 495.4,1379.5 505.6,1373.8 515.4,1364.5 525.1,1352.8 534.3,1352.7 544.1,1338.4 553.3,1343 563.6,1372.9 573.3,1361.9 583.1,1362.2 592.8,1347 602.5,1339 612.3,1322 622,1334 631.8,1339.1 641.5,1352.3 651.3,1319.1 661,1316 670.7,1318 680.5,1323.5 689.7,1311.9 689.7,1357.9 680.5,1357.8 670.7,1371.1 661,1361.7 651.3,1353.7 641.5,1383.2 631.8,1372.6 622,1380.4 612.3,1371.3 602.5,1380.5 592.8,1382.7 583.1,1391.6 573.3,1388.8 563.6,1403.6 553.3,1390.7 544.1,1388.3 534.3,1396.3 525.1,1403.8 515.4,1409.3 505.6,1418.3 495.4,1409.1 485.6,1411.1 476.4,1410.3 466.6,1405.1 456.9,1432 446.7,1444 437.4,1438.6 427.7,1425.1 417.9,1433.9 408.2,1456.8 398.4,1444.3 388.7,1416.6 378.5,1446.8 368.7,1462.6 359.5,1458.3 349.7,1475.3 341,1469.1 331.2,1507.2 321.5,1490.4 312.2,1549.6 302.5,1583.4 292.7,1600.4 282.5,1618.2 273.3,1603.6 263,1629.1 253.3,1629.2 243.5,1685.1 234.3,1676.9 224.1,1646.9 214.3,1656.3 204.6,1652.1 194.8,1666.2 185.6,1672.1 176.8,1631.5 166.6,1624.8 156.4,1672.8 147.1,1621.4 137.8,1598.5 127.6,1623.2 118.4,1684.4" fill="#cbcbcb" stroke="#111" stroke-width="1"/>
<polyline points="118.4,1633.3 127.6,1590.9 137.8,1562.7 147.1,1597.8 156.4,1614.8 166.6,1594.4 176.8,1574.4 185.6,1619.7 194.8,1626.5 204.6,1628 214.3,1624.6 224.1,1622.6 234.3,1623.6 243.5,1630.9 253.3,1606.5 263,1607 273.3,1575.4 282.5,1592.9 292.7,1575.4 302.5,1548.1 312.2,1511.5 321.5,1465.3 331.2,1477 341,1446.3 349.7,1433.6 359.5,1419 368.7,1420.5 378.5,1417.5 388.7,1400.5 398.4,1420 408.2,1436.5 417.9,1410.2 427.7,1400.5 437.4,1420 446.7,1428.7 456.9,1405.4 466.6,1380 476.4,1381 485.6,1385.9 495.4,1394.6 505.6,1390.7 515.4,1387.3 525.1,1374.2 534.3,1377.1 544.1,1368.8 553.3,1361.5 563.6,1385.9 573.3,1373.7 583.1,1377.1 592.8,1369.8 602.5,1353.2 612.3,1349.8 622,1359.6 631.8,1359.1 641.5,1366.4 651.3,1341.1 661,1346.4 670.7,1342 680.5,1337.2 689.7,1333.8" fill="none" stroke="#d09a12" stroke-width="1.3"/>
<circle cx="118.4" cy="1633.3" r="7.6" fill="#EDB120" stroke="#d09a12" stroke-width="1.2"/>
<circle cx="127.6" cy="1590.9" r="7.6" fill="#EDB120" stroke="#d09a12" stroke-width="1.2"/>
<circle cx="137.8" cy="1562.7" r="7.6" fill="#EDB120" stroke="#d09a12" stroke-width="1.2"/>
<circle cx="147.1" cy="1597.8" r="7.6" fill="#EDB120" stroke="#d09a12" stroke-width="1.2"/>
<circle cx="156.4" cy="1614.8" r="7.6" fill="#EDB120" stroke="#d09a12" stroke-width="1.2"/>
<circle cx="166.6" cy="1594.4" r="7.6" fill="#EDB120" stroke="#d09a12" stroke-width="1.2"/>
<circle cx="176.8" cy="1574.4" r="7.6" fill="#EDB120" stroke="#d09a12" stroke-width="1.2"/>
<circle cx="185.6" cy="1619.7" r="7.6" fill="#EDB120" stroke="#d09a12" stroke-width="1.2"/>
<circle cx="194.8" cy="1626.5" r="7.6" fill="#EDB120" stroke="#d09a12" stroke-width="1.2"/>
<circle cx="204.6" cy="1628" r="7.6" fill="#EDB120" stroke="#d09a12" stroke-width="1.2"/>
<circle cx="214.3" cy="1624.6" r="7.6" fill="#EDB120" stroke="#d09a12" stroke-width="1.2"/>
<circle cx="224.1" cy="1622.6" r="7.6" fill="#EDB120" stroke="#d09a12" stroke-width="1.2"/>
<circle cx="234.3" cy="1623.6" r="7.6" fill="#EDB120" stroke="#d09a12" stroke-width="1.2"/>
<circle cx="243.5" cy="1630.9" r="7.6" fill="#EDB120" stroke="#d09a12" stroke-width="1.2"/>
<circle cx="253.3" cy="1606.5" r="7.6" fill="#EDB120" stroke="#d09a12" stroke-width="1.2"/>
<circle cx="263" cy="1607" r="7.6" fill="#EDB120" stroke="#d09a12" stroke-width="1.2"/>
<circle cx="273.3" cy="1575.4" r="7.6" fill="#EDB120" stroke="#d09a12" stroke-width="1.2"/>
<circle cx="282.5" cy="1592.9" r="7.6" fill="#EDB120" stroke="#d09a12" stroke-width="1.2"/>
<circle cx="292.7" cy="1575.4" r="7.6" fill="#EDB120" stroke="#d09a12" stroke-width="1.2"/>
<circle cx="302.5" cy="1548.1" r="7.6" fill="#EDB120" stroke="#d09a12" stroke-width="1.2"/>
<circle cx="312.2" cy="1511.5" r="7.6" fill="#EDB120" stroke="#d09a12" stroke-width="1.2"/>
<circle cx="321.5" cy="1465.3" r="7.6" fill="#EDB120" stroke="#d09a12" stroke-width="1.2"/>
<circle cx="331.2" cy="1477" r="7.6" fill="#EDB120" stroke="#d09a12" stroke-width="1.2"/>
<circle cx="341" cy="1446.3" r="7.6" fill="#EDB120" stroke="#d09a12" stroke-width="1.2"/>
<circle cx="349.7" cy="1433.6" r="7.6" fill="#EDB120" stroke="#d09a12" stroke-width="1.2"/>
<circle cx="359.5" cy="1419" r="7.6" fill="#EDB120" stroke="#d09a12" stroke-width="1.2"/>
<circle cx="368.7" cy="1420.5" r="7.6" fill="#EDB120" stroke="#d09a12" stroke-width="1.2"/>
<circle cx="378.5" cy="1417.5" r="7.6" fill="#EDB120" stroke="#d09a12" stroke-width="1.2"/>
<circle cx="388.7" cy="1400.5" r="7.6" fill="#EDB120" stroke="#d09a12" stroke-width="1.2"/>
<circle cx="398.4" cy="1420" r="7.6" fill="#EDB120" stroke="#d09a12" stroke-width="1.2"/>
<circle cx="408.2" cy="1436.5" r="7.6" fill="#EDB120" stroke="#d09a12" stroke-width="1.2"/>
<circle cx="417.9" cy="1410.2" r="7.6" fill="#EDB120" stroke="#d09a12" stroke-width="1.2"/>
<circle cx="427.7" cy="1400.5" r="7.6" fill="#EDB120" stroke="#d09a12" stroke-width="1.2"/>
<circle cx="437.4" cy="1420" r="7.6" fill="#EDB120" stroke="#d09a12" stroke-width="1.2"/>
<circle cx="446.7" cy="1428.7" r="7.6" fill="#EDB120" stroke="#d09a12" stroke-width="1.2"/>
<circle cx="456.9" cy="1405.4" r="7.6" fill="#EDB120" stroke="#d09a12" stroke-width="1.2"/>
<circle cx="466.6" cy="1380" r="7.6" fill="#EDB120" stroke="#d09a12" stroke-width="1.2"/>
<circle cx="476.4" cy="1381" r="7.6" fill="#EDB120" stroke="#d09a12" stroke-width="1.2"/>
<circle cx="485.6" cy="1385.9" r="7.6" fill="#EDB120" stroke="#d09a12" stroke-width="1.2"/>
<circle cx="495.4" cy="1394.6" r="7.6" fill="#EDB120" stroke="#d09a12" stroke-width="1.2"/>
<circle cx="505.6" cy="1390.7" r="7.6" fill="#EDB120" stroke="#d09a12" stroke-width="1.2"/>
<circle cx="515.4" cy="1387.3" r="7.6" fill="#EDB120" stroke="#d09a12" stroke-width="1.2"/>
<circle cx="525.1" cy="1374.2" r="7.6" fill="#EDB120" stroke="#d09a12" stroke-width="1.2"/>
<circle cx="534.3" cy="1377.1" r="7.6" fill="#EDB120" stroke="#d09a12" stroke-width="1.2"/>
<circle cx="544.1" cy="1368.8" r="7.6" fill="#EDB120" stroke="#d09a12" stroke-width="1.2"/>
<circle cx="553.3" cy="1361.5" r="7.6" fill="#EDB120" stroke="#d09a12" stroke-width="1.2"/>
<circle cx="563.6" cy="1385.9" r="7.6" fill="#EDB120" stroke="#d09a12" stroke-width="1.2"/>
<circle cx="573.3" cy="1373.7" r="7.6" fill="#EDB120" stroke="#d09a12" stroke-width="1.2"/>
<circle cx="583.1" cy="1377.1" r="7.6" fill="#EDB120" stroke="#d09a12" stroke-width="1.2"/>
<circle cx="592.8" cy="1369.8" r="7.6" fill="#EDB120" stroke="#d09a12" stroke-width="1.2"/>
<circle cx="602.5" cy="1353.2" r="7.6" fill="#EDB120" stroke="#d09a12" stroke-width="1.2"/>
<circle cx="612.3" cy="1349.8" r="7.6" fill="#EDB120" stroke="#d09a12" stroke-width="1.2"/>
<circle cx="622" cy="1359.6" r="7.6" fill="#EDB120" stroke="#d09a12" stroke-width="1.2"/>
<circle cx="631.8" cy="1359.1" r="7.6" fill="#EDB120" stroke="#d09a12" stroke-width="1.2"/>
<circle cx="641.5" cy="1366.4" r="7.6" fill="#EDB120" stroke="#d09a12" stroke-width="1.2"/>
<circle cx="651.3" cy="1341.1" r="7.6" fill="#EDB120" stroke="#d09a12" stroke-width="1.2"/>
<circle cx="661" cy="1346.4" r="7.6" fill="#EDB120" stroke="#d09a12" stroke-width="1.2"/>
<circle cx="670.7" cy="1342" r="7.6" fill="#EDB120" stroke="#d09a12" stroke-width="1.2"/>
<circle cx="680.5" cy="1337.2" r="7.6" fill="#EDB120" stroke="#d09a12" stroke-width="1.2"/>
<circle cx="689.7" cy="1333.8" r="7.6" fill="#EDB120" stroke="#d09a12" stroke-width="1.2"/>
<polyline points="243.8,1640.2 248.7,1624.2 253.5,1609.4 258.4,1595.7 263.2,1583.1 268.1,1571.4 272.9,1560.5 277.8,1550.4 282.6,1540.9 287.5,1532.1 292.3,1523.8 297.2,1516 302,1508.6 306.9,1501.7 311.7,1495.2 316.6,1489.1 321.4,1483.3 326.3,1477.8 331.1,1472.5 336,1467.6 340.8,1462.9 345.7,1458.4 350.5,1454.1 355.3,1450.1 360.2,1446.2 365,1442.5 369.9,1439 374.7,1435.6 379.6,1432.3 384.4,1429.2 389.3,1426.2 394.1,1423.4 399,1420.6 403.8,1418 408.7,1415.5 413.5,1413 418.4,1410.7 423.2,1408.4 428.1,1406.3 432.9,1404.2 437.8,1402.1 442.6,1400.2 447.5,1398.3 452.3,1396.5 457.2,1394.7 462,1393 466.9,1391.4 471.7,1389.8 476.5,1388.2 481.4,1386.7 486.2,1385.3 491.1,1383.8 495.9,1382.5 500.8,1381.1 505.6,1379.9 510.5,1378.6 515.3,1377.4 520.2,1376.2 525,1375.1 529.9,1373.9 534.7,1372.9 539.6,1371.8 544.4,1370.8 549.3,1369.8 554.1,1368.8 559,1367.8 563.8,1366.9 568.7,1366 573.5,1365.1 578.4,1364.3 583.2,1363.4 588.1,1362.6 592.9,1361.8 597.7,1361 602.6,1360.3 607.4,1359.5 612.3,1358.8 617.1,1358.1 622,1357.4 626.8,1356.7 631.7,1356.1 636.5,1355.4 641.4,1354.8 646.2,1354.2 651.1,1353.6 655.9,1353 660.8,1352.4 665.6,1351.8 670.5,1351.3 675.3,1350.7 680.2,1350.2 685,1349.6 689.9,1349.1" fill="none" stroke="#0072BD" stroke-width="7.8"/>
<rect x="108.5" y="1263.5" width="591.5" height="439" fill="none" stroke="#222" stroke-width="2.4"/>
<line x1="108.5" y1="1623.5" x2="115.5" y2="1623.5" stroke="#222" stroke-width="2"/>
<line x1="700" y1="1623.5" x2="693" y2="1623.5" stroke="#222" stroke-width="2"/>
<text x="98" y="1635" font-size="32.5" text-anchor="end" fill="#222" >0.4</text>
<line x1="108.5" y1="1544" x2="115.5" y2="1544" stroke="#222" stroke-width="2"/>
<line x1="700" y1="1544" x2="693" y2="1544" stroke="#222" stroke-width="2"/>
<text x="98" y="1555.5" font-size="32.5" text-anchor="end" fill="#222" >0.5</text>
<line x1="108.5" y1="1464.5" x2="115.5" y2="1464.5" stroke="#222" stroke-width="2"/>
<line x1="700" y1="1464.5" x2="693" y2="1464.5" stroke="#222" stroke-width="2"/>
<text x="98" y="1476" font-size="32.5" text-anchor="end" fill="#222" >0.6</text>
<line x1="108.5" y1="1385" x2="115.5" y2="1385" stroke="#222" stroke-width="2"/>
<line x1="700" y1="1385" x2="693" y2="1385" stroke="#222" stroke-width="2"/>
<text x="98" y="1396.5" font-size="32.5" text-anchor="end" fill="#222" >0.7</text>
<line x1="108.5" y1="1305.5" x2="115.5" y2="1305.5" stroke="#222" stroke-width="2"/>
<line x1="700" y1="1305.5" x2="693" y2="1305.5" stroke="#222" stroke-width="2"/>
<text x="98" y="1317" font-size="32.5" text-anchor="end" fill="#222" >0.8</text>
<line x1="108.1" y1="1702.5" x2="108.1" y2="1695.5" stroke="#222" stroke-width="2"/>
<line x1="108.1" y1="1263.5" x2="108.1" y2="1270.5" stroke="#222" stroke-width="2"/>
<text x="108.1" y="1744" font-size="33" text-anchor="middle" fill="#111" >0</text>
<line x1="350.5" y1="1702.5" x2="350.5" y2="1695.5" stroke="#222" stroke-width="2"/>
<line x1="350.5" y1="1263.5" x2="350.5" y2="1270.5" stroke="#222" stroke-width="2"/>
<text x="350.5" y="1744" font-size="33" text-anchor="middle" fill="#111" >50</text>
<line x1="592.9" y1="1702.5" x2="592.9" y2="1695.5" stroke="#222" stroke-width="2"/>
<line x1="592.9" y1="1263.5" x2="592.9" y2="1270.5" stroke="#222" stroke-width="2"/>
<text x="592.9" y="1744" font-size="33" text-anchor="middle" fill="#111" >100</text>
<text x="404" y="1785" font-size="36.5" text-anchor="middle" fill="#111" >t (min)</text>
<text x="42" y="1482" font-size="35.5" text-anchor="middle" fill="#222" transform="rotate(-90 42 1482)" >S(t)</text>
<text x="0" y="1277.5" font-size="58" text-anchor="start" fill="#000" >(j)</text>
<text x="128" y="1692" font-size="24" fill="#1d5c96" font-family='"Liberation Serif", serif'><tspan font-style="italic">S</tspan>(<tspan font-style="italic">t</tspan>) = 0.8 − 44.7<tspan font-style="italic">t</tspan><tspan font-size="16.5" dy="-10">−1.4</tspan></text>
<rect x="414" y="1465" width="228" height="180" fill="#fff"/>
<clipPath id="clipji"><rect x="414" y="1465" width="228" height="180"/></clipPath><g clip-path="url(#clipji)">
<polygon points="414.5,1568.4 417.5,1568.3 424.4,1582.6 431.3,1574.9 438.2,1571.1 445.1,1568.4 452,1576.1 458.9,1579.1 465.8,1549.5 472.7,1573.9 479.6,1566.4 486.5,1543.7 493.4,1560.3 500.3,1554.8 507.2,1559.2 514.1,1543.9 521,1531.9 527.9,1521.1 534.8,1518.4 541.7,1517 548.6,1520 555.5,1515.7 562.4,1519.1 569.3,1544.6 576.2,1529.1 583.1,1518.7 590,1520.5 596.9,1515.5 603.8,1514.6 610.7,1517.2 617.6,1508.1 624.5,1497 631.4,1509.1 638.3,1512.7 642.3,1506.8 642.3,1545 638.3,1537.3 631.4,1533.5 624.5,1527.4 617.6,1535.5 610.7,1542.9 603.8,1551.6 596.9,1550.7 590,1552.4 583.1,1549.5 576.2,1556.7 569.3,1568.7 562.4,1550.8 555.5,1533.9 548.6,1546.9 541.7,1536 534.8,1551.9 527.9,1554.7 521,1564.6 514.1,1568.7 507.2,1586.9 500.3,1584.8 493.4,1592.5 486.5,1572.5 479.6,1586.1 472.7,1604.5 465.8,1584 458.9,1603.8 452,1606.2 445.1,1598.6 438.2,1606.2 431.3,1604 424.4,1606.1 417.5,1604.6 414.5,1607.3" fill="#cbcbcb" stroke="#222" stroke-width="0.8"/>
<polygon points="414.5,1601.2 417.5,1598.3 424.4,1590.5 431.3,1579.2 438.2,1551.8 445.1,1532.8 452,1533.9 458.9,1529 465.8,1514.9 472.7,1507.8 479.6,1508.5 486.5,1514.6 493.4,1504.9 500.3,1512.7 507.2,1523.1 514.1,1503.8 521,1500.5 527.9,1507.2 534.8,1511 541.7,1499.6 548.6,1490 555.5,1494.4 562.4,1498.5 569.3,1496.3 576.2,1496.1 583.1,1490.7 590,1489.6 596.9,1493 603.8,1488.3 610.7,1475.9 617.6,1496.2 624.5,1488 631.4,1490.5 638.3,1487.5 642.3,1483.8 642.3,1504.3 638.3,1503.9 631.4,1511.1 624.5,1511.8 617.6,1517.6 610.7,1501.8 603.8,1505.2 596.9,1510.7 590,1512.6 583.1,1513.6 576.2,1520.1 569.3,1518.9 562.4,1520.7 555.5,1510.8 548.6,1516.7 541.7,1524.6 534.8,1544 527.9,1529.7 521,1528 514.1,1530.3 507.2,1538.1 500.3,1535 493.4,1529.2 486.5,1538.6 479.6,1538 472.7,1536.6 465.8,1543.1 458.9,1550.9 452,1566.8 445.1,1552.3 438.2,1580.2 431.3,1603.8 424.4,1616.7 417.5,1624.2 414.5,1618.9" fill="#cbcbcb" stroke="#222" stroke-width="0.8"/>
<polyline points="417.5,1585.7 424.4,1592.6 431.3,1590.8 438.2,1591.5 445.1,1586.8 452,1595.4 458.9,1589.8 465.8,1567.8 472.7,1587.5 479.6,1575.8 486.5,1560.4 493.4,1581.8 500.3,1571.2 507.2,1572.6 514.1,1557.4 521,1551.9 527.9,1541.5 534.8,1534 541.7,1527 548.6,1528.9 555.5,1524.1 562.4,1535.8 569.3,1556.3 576.2,1544.8 583.1,1534.4 590,1534.6 596.9,1534 603.8,1535.1 610.7,1532.8 617.6,1526.4 624.5,1513.7 631.4,1524.3 638.3,1524.8" fill="none" stroke="#1a9be6" stroke-width="1"/>
<circle cx="417.5" cy="1585.7" r="3.6" fill="#1a9be6" stroke="#1990dc" stroke-width="0.6"/>
<circle cx="424.4" cy="1592.6" r="3.6" fill="#1a9be6" stroke="#1990dc" stroke-width="0.6"/>
<circle cx="431.3" cy="1590.8" r="3.6" fill="#1a9be6" stroke="#1990dc" stroke-width="0.6"/>
<circle cx="438.2" cy="1591.5" r="3.6" fill="#1a9be6" stroke="#1990dc" stroke-width="0.6"/>
<circle cx="445.1" cy="1586.8" r="3.6" fill="#1a9be6" stroke="#1990dc" stroke-width="0.6"/>
<circle cx="452" cy="1595.4" r="3.6" fill="#1a9be6" stroke="#1990dc" stroke-width="0.6"/>
<circle cx="458.9" cy="1589.8" r="3.6" fill="#1a9be6" stroke="#1990dc" stroke-width="0.6"/>
<circle cx="465.8" cy="1567.8" r="3.6" fill="#1a9be6" stroke="#1990dc" stroke-width="0.6"/>
<circle cx="472.7" cy="1587.5" r="3.6" fill="#1a9be6" stroke="#1990dc" stroke-width="0.6"/>
<circle cx="479.6" cy="1575.8" r="3.6" fill="#1a9be6" stroke="#1990dc" stroke-width="0.6"/>
<circle cx="486.5" cy="1560.4" r="3.6" fill="#1a9be6" stroke="#1990dc" stroke-width="0.6"/>
<circle cx="493.4" cy="1581.8" r="3.6" fill="#1a9be6" stroke="#1990dc" stroke-width="0.6"/>
<circle cx="500.3" cy="1571.2" r="3.6" fill="#1a9be6" stroke="#1990dc" stroke-width="0.6"/>
<circle cx="507.2" cy="1572.6" r="3.6" fill="#1a9be6" stroke="#1990dc" stroke-width="0.6"/>
<circle cx="514.1" cy="1557.4" r="3.6" fill="#1a9be6" stroke="#1990dc" stroke-width="0.6"/>
<circle cx="521" cy="1551.9" r="3.6" fill="#1a9be6" stroke="#1990dc" stroke-width="0.6"/>
<circle cx="527.9" cy="1541.5" r="3.6" fill="#1a9be6" stroke="#1990dc" stroke-width="0.6"/>
<circle cx="534.8" cy="1534" r="3.6" fill="#1a9be6" stroke="#1990dc" stroke-width="0.6"/>
<circle cx="541.7" cy="1527" r="3.6" fill="#1a9be6" stroke="#1990dc" stroke-width="0.6"/>
<circle cx="548.6" cy="1528.9" r="3.6" fill="#1a9be6" stroke="#1990dc" stroke-width="0.6"/>
<circle cx="555.5" cy="1524.1" r="3.6" fill="#1a9be6" stroke="#1990dc" stroke-width="0.6"/>
<circle cx="562.4" cy="1535.8" r="3.6" fill="#1a9be6" stroke="#1990dc" stroke-width="0.6"/>
<circle cx="569.3" cy="1556.3" r="3.6" fill="#1a9be6" stroke="#1990dc" stroke-width="0.6"/>
<circle cx="576.2" cy="1544.8" r="3.6" fill="#1a9be6" stroke="#1990dc" stroke-width="0.6"/>
<circle cx="583.1" cy="1534.4" r="3.6" fill="#1a9be6" stroke="#1990dc" stroke-width="0.6"/>
<circle cx="590" cy="1534.6" r="3.6" fill="#1a9be6" stroke="#1990dc" stroke-width="0.6"/>
<circle cx="596.9" cy="1534" r="3.6" fill="#1a9be6" stroke="#1990dc" stroke-width="0.6"/>
<circle cx="603.8" cy="1535.1" r="3.6" fill="#1a9be6" stroke="#1990dc" stroke-width="0.6"/>
<circle cx="610.7" cy="1532.8" r="3.6" fill="#1a9be6" stroke="#1990dc" stroke-width="0.6"/>
<circle cx="617.6" cy="1526.4" r="3.6" fill="#1a9be6" stroke="#1990dc" stroke-width="0.6"/>
<circle cx="624.5" cy="1513.7" r="3.6" fill="#1a9be6" stroke="#1990dc" stroke-width="0.6"/>
<circle cx="631.4" cy="1524.3" r="3.6" fill="#1a9be6" stroke="#1990dc" stroke-width="0.6"/>
<circle cx="638.3" cy="1524.8" r="3.6" fill="#1a9be6" stroke="#1990dc" stroke-width="0.6"/>
<polyline points="417.5,1609.2 424.4,1600.2 431.3,1587.3 438.2,1568.9 445.1,1545 452,1551.2 458.9,1535.8 465.8,1528.9 472.7,1522 479.6,1522.9 486.5,1521.3 493.4,1512.8 500.3,1522.5 507.2,1530.5 514.1,1517.2 521,1512.8 527.9,1522.5 534.8,1527 541.7,1515.5 548.6,1503.4 555.5,1503.4 562.4,1505.9 569.3,1510.3 576.2,1507 583.1,1505.2 590,1498.8 596.9,1501.8 603.8,1497.8 610.7,1493.2 617.6,1505.2 624.5,1498.8 631.4,1501.1 638.3,1497.2" fill="none" stroke="#d09a12" stroke-width="1"/>
<circle cx="417.5" cy="1609.2" r="3.6" fill="#EDB120" stroke="#d09a12" stroke-width="0.6"/>
<circle cx="424.4" cy="1600.2" r="3.6" fill="#EDB120" stroke="#d09a12" stroke-width="0.6"/>
<circle cx="431.3" cy="1587.3" r="3.6" fill="#EDB120" stroke="#d09a12" stroke-width="0.6"/>
<circle cx="438.2" cy="1568.9" r="3.6" fill="#EDB120" stroke="#d09a12" stroke-width="0.6"/>
<circle cx="445.1" cy="1545" r="3.6" fill="#EDB120" stroke="#d09a12" stroke-width="0.6"/>
<circle cx="452" cy="1551.2" r="3.6" fill="#EDB120" stroke="#d09a12" stroke-width="0.6"/>
<circle cx="458.9" cy="1535.8" r="3.6" fill="#EDB120" stroke="#d09a12" stroke-width="0.6"/>
<circle cx="465.8" cy="1528.9" r="3.6" fill="#EDB120" stroke="#d09a12" stroke-width="0.6"/>
<circle cx="472.7" cy="1522" r="3.6" fill="#EDB120" stroke="#d09a12" stroke-width="0.6"/>
<circle cx="479.6" cy="1522.9" r="3.6" fill="#EDB120" stroke="#d09a12" stroke-width="0.6"/>
<circle cx="486.5" cy="1521.3" r="3.6" fill="#EDB120" stroke="#d09a12" stroke-width="0.6"/>
<circle cx="493.4" cy="1512.8" r="3.6" fill="#EDB120" stroke="#d09a12" stroke-width="0.6"/>
<circle cx="500.3" cy="1522.5" r="3.6" fill="#EDB120" stroke="#d09a12" stroke-width="0.6"/>
<circle cx="507.2" cy="1530.5" r="3.6" fill="#EDB120" stroke="#d09a12" stroke-width="0.6"/>
<circle cx="514.1" cy="1517.2" r="3.6" fill="#EDB120" stroke="#d09a12" stroke-width="0.6"/>
<circle cx="521" cy="1512.8" r="3.6" fill="#EDB120" stroke="#d09a12" stroke-width="0.6"/>
<circle cx="527.9" cy="1522.5" r="3.6" fill="#EDB120" stroke="#d09a12" stroke-width="0.6"/>
<circle cx="534.8" cy="1527" r="3.6" fill="#EDB120" stroke="#d09a12" stroke-width="0.6"/>
<circle cx="541.7" cy="1515.5" r="3.6" fill="#EDB120" stroke="#d09a12" stroke-width="0.6"/>
<circle cx="548.6" cy="1503.4" r="3.6" fill="#EDB120" stroke="#d09a12" stroke-width="0.6"/>
<circle cx="555.5" cy="1503.4" r="3.6" fill="#EDB120" stroke="#d09a12" stroke-width="0.6"/>
<circle cx="562.4" cy="1505.9" r="3.6" fill="#EDB120" stroke="#d09a12" stroke-width="0.6"/>
<circle cx="569.3" cy="1510.3" r="3.6" fill="#EDB120" stroke="#d09a12" stroke-width="0.6"/>
<circle cx="576.2" cy="1507" r="3.6" fill="#EDB120" stroke="#d09a12" stroke-width="0.6"/>
<circle cx="583.1" cy="1505.2" r="3.6" fill="#EDB120" stroke="#d09a12" stroke-width="0.6"/>
<circle cx="590" cy="1498.8" r="3.6" fill="#EDB120" stroke="#d09a12" stroke-width="0.6"/>
<circle cx="596.9" cy="1501.8" r="3.6" fill="#EDB120" stroke="#d09a12" stroke-width="0.6"/>
<circle cx="603.8" cy="1497.8" r="3.6" fill="#EDB120" stroke="#d09a12" stroke-width="0.6"/>
<circle cx="610.7" cy="1493.2" r="3.6" fill="#EDB120" stroke="#d09a12" stroke-width="0.6"/>
<circle cx="617.6" cy="1505.2" r="3.6" fill="#EDB120" stroke="#d09a12" stroke-width="0.6"/>
<circle cx="624.5" cy="1498.8" r="3.6" fill="#EDB120" stroke="#d09a12" stroke-width="0.6"/>
<circle cx="631.4" cy="1501.1" r="3.6" fill="#EDB120" stroke="#d09a12" stroke-width="0.6"/>
<circle cx="638.3" cy="1497.2" r="3.6" fill="#EDB120" stroke="#d09a12" stroke-width="0.6"/>
</g>
<line x1="414" y1="1465" x2="642" y2="1465" stroke="#222" stroke-width="1.2"/>
<line x1="414" y1="1645" x2="642" y2="1645" stroke="#222" stroke-width="1.2"/>
<line x1="414" y1="1465" x2="414" y2="1645" stroke="#0072BD" stroke-width="1.4"/>
<line x1="642" y1="1465" x2="642" y2="1645" stroke="#D9A520" stroke-width="1.4"/>
<line x1="414" y1="1486.1" x2="418" y2="1486.1" stroke="#0072BD" stroke-width="1.2"/>
<text x="409" y="1493.6" font-size="20.5" text-anchor="end" fill="#0072BD" >1.7</text>
<line x1="414" y1="1591" x2="418" y2="1591" stroke="#0072BD" stroke-width="1.2"/>
<text x="409" y="1598.5" font-size="20.5" text-anchor="end" fill="#0072BD" >1.6</text>
<line x1="642" y1="1465.6" x2="638" y2="1465.6" stroke="#D9A520" stroke-width="1.2"/>
<text x="647" y="1473.1" font-size="20.5" text-anchor="start" fill="#C8961A" >0.8</text>
<line x1="642" y1="1544.3" x2="638" y2="1544.3" stroke="#D9A520" stroke-width="1.2"/>
<text x="647" y="1551.8" font-size="20.5" text-anchor="start" fill="#C8961A" >0.6</text>
<line x1="642" y1="1624.3" x2="638" y2="1624.3" stroke="#D9A520" stroke-width="1.2"/>
<text x="647" y="1631.8" font-size="20.5" text-anchor="start" fill="#C8961A" >0.4</text>
<line x1="465.8" y1="1645" x2="465.8" y2="1641" stroke="#222" stroke-width="1.2"/>
<line x1="465.8" y1="1465" x2="465.8" y2="1469" stroke="#222" stroke-width="1.2"/>
<text x="465.8" y="1671" font-size="20.5" text-anchor="middle" fill="#111" >50</text>
<line x1="639.5" y1="1645" x2="639.5" y2="1641" stroke="#222" stroke-width="1.2"/>
<line x1="639.5" y1="1465" x2="639.5" y2="1469" stroke="#222" stroke-width="1.2"/>
<text x="639.5" y="1671" font-size="20.5" text-anchor="middle" fill="#111" >100</text>
<text x="528" y="1693.5" font-size="22" text-anchor="middle" fill="#111" >t (min)</text>
<text x="388" y="1547" font-size="22" text-anchor="middle" fill="#0072BD" transform="rotate(-90 388 1547)" >SI(t)</text>
<text x="692" y="1572.5" font-size="22" text-anchor="middle" fill="#C8961A" transform="rotate(-90 692 1572.5)" >S(t)</text>
<clipPath id="clipk"><rect x="854.5" y="1264.5" width="592.5" height="439.0"/></clipPath>
<circle cx="866.5" cy="1286.8" r="10.6" fill="#F9B51A" stroke="#7a7a7a" stroke-width="1.3"/>
<circle cx="1028.7" cy="1391.2" r="10.6" fill="#F9B51A" stroke="#7a7a7a" stroke-width="1.3"/>
<circle cx="1103.8" cy="1470.5" r="10.6" fill="#F9B51A" stroke="#7a7a7a" stroke-width="1.3"/>
<circle cx="1152.5" cy="1495.2" r="10.6" fill="#F9B51A" stroke="#7a7a7a" stroke-width="1.3"/>
<circle cx="1189.2" cy="1529.1" r="10.6" fill="#F9B51A" stroke="#7a7a7a" stroke-width="1.3"/>
<circle cx="1218.1" cy="1554.7" r="10.6" fill="#F9B51A" stroke="#7a7a7a" stroke-width="1.3"/>
<circle cx="1242.1" cy="1557.1" r="10.6" fill="#F9B51A" stroke="#7a7a7a" stroke-width="1.3"/>
<circle cx="1262.7" cy="1568.7" r="10.6" fill="#F9B51A" stroke="#7a7a7a" stroke-width="1.3"/>
<circle cx="1281.3" cy="1603.4" r="10.6" fill="#F9B51A" stroke="#7a7a7a" stroke-width="1.3"/>
<circle cx="1297" cy="1603.4" r="10.6" fill="#F9B51A" stroke="#7a7a7a" stroke-width="1.3"/>
<circle cx="1312.2" cy="1618.2" r="10.6" fill="#F9B51A" stroke="#7a7a7a" stroke-width="1.3"/>
<circle cx="1325.4" cy="1599.2" r="10.6" fill="#F9B51A" stroke="#7a7a7a" stroke-width="1.3"/>
<circle cx="1337.8" cy="1623.2" r="10.6" fill="#F9B51A" stroke="#7a7a7a" stroke-width="1.3"/>
<circle cx="1349.4" cy="1621.1" r="10.6" fill="#F9B51A" stroke="#7a7a7a" stroke-width="1.3"/>
<circle cx="1359.7" cy="1589.3" r="10.6" fill="#F9B51A" stroke="#7a7a7a" stroke-width="1.3"/>
<circle cx="1370" cy="1575.7" r="10.6" fill="#F9B51A" stroke="#7a7a7a" stroke-width="1.3"/>
<circle cx="1378.3" cy="1596.4" r="10.6" fill="#F9B51A" stroke="#7a7a7a" stroke-width="1.3"/>
<circle cx="1386.5" cy="1579.8" r="10.6" fill="#F9B51A" stroke="#7a7a7a" stroke-width="1.3"/>
<circle cx="1394.8" cy="1588.1" r="10.6" fill="#F9B51A" stroke="#7a7a7a" stroke-width="1.3"/>
<circle cx="1401" cy="1611.6" r="10.6" fill="#F9B51A" stroke="#7a7a7a" stroke-width="1.3"/>
<circle cx="1410.4" cy="1610" r="10.6" fill="#F9B51A" stroke="#7a7a7a" stroke-width="1.3"/>
<circle cx="1415.4" cy="1631.4" r="10.6" fill="#F9B51A" stroke="#7a7a7a" stroke-width="1.3"/>
<circle cx="1421.6" cy="1637.6" r="10.6" fill="#F9B51A" stroke="#7a7a7a" stroke-width="1.3"/>
<circle cx="1428.6" cy="1639.7" r="10.6" fill="#F9B51A" stroke="#7a7a7a" stroke-width="1.3"/>
<circle cx="1436" cy="1627.3" r="10.6" fill="#F9B51A" stroke="#7a7a7a" stroke-width="1.3"/>
<circle cx="1442.2" cy="1661.1" r="10.6" fill="#F9B51A" stroke="#7a7a7a" stroke-width="1.3"/>
<rect x="858.5" y="1278.8" width="16" height="16" fill="#F5603A" stroke="#7a7a7a" stroke-width="1.3"/>
<rect x="1021.5" y="1300.7" width="16" height="16" fill="#F5603A" stroke="#7a7a7a" stroke-width="1.3"/>
<rect x="1095.8" y="1356" width="16" height="16" fill="#F5603A" stroke="#7a7a7a" stroke-width="1.3"/>
<rect x="1144.5" y="1384.1" width="16" height="16" fill="#F5603A" stroke="#7a7a7a" stroke-width="1.3"/>
<rect x="1181.2" y="1358.5" width="16" height="16" fill="#F5603A" stroke="#7a7a7a" stroke-width="1.3"/>
<rect x="1210.1" y="1372.5" width="16" height="16" fill="#F5603A" stroke="#7a7a7a" stroke-width="1.3"/>
<rect x="1234.1" y="1368.8" width="16" height="16" fill="#F5603A" stroke="#7a7a7a" stroke-width="1.3"/>
<rect x="1254.7" y="1379.9" width="16" height="16" fill="#F5603A" stroke="#7a7a7a" stroke-width="1.3"/>
<rect x="1273.3" y="1395.6" width="16" height="16" fill="#F5603A" stroke="#7a7a7a" stroke-width="1.3"/>
<rect x="1289" y="1389.4" width="16" height="16" fill="#F5603A" stroke="#7a7a7a" stroke-width="1.3"/>
<rect x="1304.2" y="1388.2" width="16" height="16" fill="#F5603A" stroke="#7a7a7a" stroke-width="1.3"/>
<rect x="1317.4" y="1389.4" width="16" height="16" fill="#F5603A" stroke="#7a7a7a" stroke-width="1.3"/>
<rect x="1329.8" y="1392.3" width="16" height="16" fill="#F5603A" stroke="#7a7a7a" stroke-width="1.3"/>
<rect x="1341.4" y="1384.1" width="16" height="16" fill="#F5603A" stroke="#7a7a7a" stroke-width="1.3"/>
<rect x="1351.7" y="1373.7" width="16" height="16" fill="#F5603A" stroke="#7a7a7a" stroke-width="1.3"/>
<rect x="1362" y="1379.9" width="16" height="16" fill="#F5603A" stroke="#7a7a7a" stroke-width="1.3"/>
<rect x="1370.3" y="1377.9" width="16" height="16" fill="#F5603A" stroke="#7a7a7a" stroke-width="1.3"/>
<rect x="1378.5" y="1383.2" width="16" height="16" fill="#F5603A" stroke="#7a7a7a" stroke-width="1.3"/>
<rect x="1386.8" y="1386.1" width="16" height="16" fill="#F5603A" stroke="#7a7a7a" stroke-width="1.3"/>
<rect x="1393" y="1390.3" width="16" height="16" fill="#F5603A" stroke="#7a7a7a" stroke-width="1.3"/>
<rect x="1402.4" y="1392.3" width="16" height="16" fill="#F5603A" stroke="#7a7a7a" stroke-width="1.3"/>
<rect x="1407.4" y="1402.6" width="16" height="16" fill="#F5603A" stroke="#7a7a7a" stroke-width="1.3"/>
<rect x="1413.6" y="1400.6" width="16" height="16" fill="#F5603A" stroke="#7a7a7a" stroke-width="1.3"/>
<rect x="1420.6" y="1406.8" width="16" height="16" fill="#F5603A" stroke="#7a7a7a" stroke-width="1.3"/>
<rect x="1428" y="1408.8" width="16" height="16" fill="#F5603A" stroke="#7a7a7a" stroke-width="1.3"/>
<rect x="1434.2" y="1417.1" width="16" height="16" fill="#F5603A" stroke="#7a7a7a" stroke-width="1.3"/>
<polygon points="868.6,1273.8 879.1,1286.8 868.6,1299.8 858.1,1286.8" fill="#3A5E98" stroke="#7a7a7a" stroke-width="1.3"/>
<polygon points="1028.7,1304 1039.2,1317 1028.7,1330 1018.2,1317" fill="#3A5E98" stroke="#7a7a7a" stroke-width="1.3"/>
<polygon points="1103.8,1321.3 1114.3,1334.3 1103.8,1347.3 1093.3,1334.3" fill="#3A5E98" stroke="#7a7a7a" stroke-width="1.3"/>
<polygon points="1152.5,1329.5 1163,1342.5 1152.5,1355.5 1142,1342.5" fill="#3A5E98" stroke="#7a7a7a" stroke-width="1.3"/>
<polygon points="1189.2,1329.5 1199.7,1342.5 1189.2,1355.5 1178.7,1342.5" fill="#3A5E98" stroke="#7a7a7a" stroke-width="1.3"/>
<polygon points="1218.1,1315.1 1228.6,1328.1 1218.1,1341.1 1207.6,1328.1" fill="#3A5E98" stroke="#7a7a7a" stroke-width="1.3"/>
<polygon points="1242.1,1317.2 1252.6,1330.2 1242.1,1343.2 1231.6,1330.2" fill="#3A5E98" stroke="#7a7a7a" stroke-width="1.3"/>
<polygon points="1262.7,1337 1273.2,1350 1262.7,1363 1252.2,1350" fill="#3A5E98" stroke="#7a7a7a" stroke-width="1.3"/>
<polygon points="1281.3,1337.8 1291.8,1350.8 1281.3,1363.8 1270.8,1350.8" fill="#3A5E98" stroke="#7a7a7a" stroke-width="1.3"/>
<polygon points="1297,1329.5 1307.5,1342.5 1297,1355.5 1286.5,1342.5" fill="#3A5E98" stroke="#7a7a7a" stroke-width="1.3"/>
<polygon points="1312.2,1326.2 1322.7,1339.2 1312.2,1352.2 1301.7,1339.2" fill="#3A5E98" stroke="#7a7a7a" stroke-width="1.3"/>
<polygon points="1325.4,1321.3 1335.9,1334.3 1325.4,1347.3 1314.9,1334.3" fill="#3A5E98" stroke="#7a7a7a" stroke-width="1.3"/>
<polygon points="1337.8,1324.6 1348.3,1337.6 1337.8,1350.6 1327.3,1337.6" fill="#3A5E98" stroke="#7a7a7a" stroke-width="1.3"/>
<polygon points="1349.4,1323.3 1359.9,1336.3 1349.4,1349.3 1338.9,1336.3" fill="#3A5E98" stroke="#7a7a7a" stroke-width="1.3"/>
<polygon points="1359.7,1321.3 1370.2,1334.3 1359.7,1347.3 1349.2,1334.3" fill="#3A5E98" stroke="#7a7a7a" stroke-width="1.3"/>
<polygon points="1370,1331.6 1380.5,1344.6 1370,1357.6 1359.5,1344.6" fill="#3A5E98" stroke="#7a7a7a" stroke-width="1.3"/>
<polygon points="1378.3,1323.3 1388.8,1336.3 1378.3,1349.3 1367.8,1336.3" fill="#3A5E98" stroke="#7a7a7a" stroke-width="1.3"/>
<polygon points="1386.5,1325.4 1397,1338.4 1386.5,1351.4 1376,1338.4" fill="#3A5E98" stroke="#7a7a7a" stroke-width="1.3"/>
<polygon points="1394.8,1335.7 1405.3,1348.7 1394.8,1361.7 1384.3,1348.7" fill="#3A5E98" stroke="#7a7a7a" stroke-width="1.3"/>
<polygon points="1401,1325.4 1411.5,1338.4 1401,1351.4 1390.5,1338.4" fill="#3A5E98" stroke="#7a7a7a" stroke-width="1.3"/>
<polygon points="1410.4,1335.7 1420.9,1348.7 1410.4,1361.7 1399.9,1348.7" fill="#3A5E98" stroke="#7a7a7a" stroke-width="1.3"/>
<polygon points="1415.4,1338.6 1425.9,1351.6 1415.4,1364.6 1404.9,1351.6" fill="#3A5E98" stroke="#7a7a7a" stroke-width="1.3"/>
<polygon points="1421.6,1342.7 1432.1,1355.7 1421.6,1368.7 1411.1,1355.7" fill="#3A5E98" stroke="#7a7a7a" stroke-width="1.3"/>
<polygon points="1428.6,1341.9 1439.1,1354.9 1428.6,1367.9 1418.1,1354.9" fill="#3A5E98" stroke="#7a7a7a" stroke-width="1.3"/>
<polygon points="1436,1337 1446.5,1350 1436,1363 1425.5,1350" fill="#3A5E98" stroke="#7a7a7a" stroke-width="1.3"/>
<polygon points="1442.2,1350.2 1452.7,1363.2 1442.2,1376.2 1431.7,1363.2" fill="#3A5E98" stroke="#7a7a7a" stroke-width="1.3"/>
<g clip-path="url(#clipk)">
<line x1="850.1" y1="1282.2" x2="1442.2" y2="1674.8" stroke="#fbc02d" stroke-width="7.2"/>
<line x1="854.1" y1="1293" x2="1442.2" y2="1416.8" stroke="#f4a898" stroke-width="6.5" stroke-dasharray="22 4 4 4"/>
<line x1="854.1" y1="1301.3" x2="1442.2" y2="1352.9" stroke="#3d8be8" stroke-width="6" stroke-dasharray="5 3.5"/>
</g>
<rect x="854.5" y="1264.5" width="592.5" height="439" fill="none" stroke="#222" stroke-width="2.4"/>
<line x1="854.5" y1="1703.3" x2="861.5" y2="1703.3" stroke="#222" stroke-width="1.6"/>
<line x1="1447" y1="1703.3" x2="1440" y2="1703.3" stroke="#222" stroke-width="1.6"/>
<line x1="854.5" y1="1645.9" x2="858.5" y2="1645.9" stroke="#222" stroke-width="1.6"/>
<line x1="1447" y1="1645.9" x2="1443" y2="1645.9" stroke="#222" stroke-width="1.6"/>
<line x1="854.5" y1="1599" x2="858.5" y2="1599" stroke="#222" stroke-width="1.6"/>
<line x1="1447" y1="1599" x2="1443" y2="1599" stroke="#222" stroke-width="1.6"/>
<line x1="854.5" y1="1559.3" x2="858.5" y2="1559.3" stroke="#222" stroke-width="1.6"/>
<line x1="1447" y1="1559.3" x2="1443" y2="1559.3" stroke="#222" stroke-width="1.6"/>
<line x1="854.5" y1="1525" x2="861.5" y2="1525" stroke="#222" stroke-width="1.6"/>
<line x1="1447" y1="1525" x2="1440" y2="1525" stroke="#222" stroke-width="1.6"/>
<line x1="854.5" y1="1494.7" x2="858.5" y2="1494.7" stroke="#222" stroke-width="1.6"/>
<line x1="1447" y1="1494.7" x2="1443" y2="1494.7" stroke="#222" stroke-width="1.6"/>
<line x1="854.5" y1="1467.6" x2="858.5" y2="1467.6" stroke="#222" stroke-width="1.6"/>
<line x1="1447" y1="1467.6" x2="1443" y2="1467.6" stroke="#222" stroke-width="1.6"/>
<line x1="854.5" y1="1443.1" x2="858.5" y2="1443.1" stroke="#222" stroke-width="1.6"/>
<line x1="1447" y1="1443.1" x2="1443" y2="1443.1" stroke="#222" stroke-width="1.6"/>
<line x1="854.5" y1="1420.7" x2="861.5" y2="1420.7" stroke="#222" stroke-width="1.6"/>
<line x1="1447" y1="1420.7" x2="1440" y2="1420.7" stroke="#222" stroke-width="1.6"/>
<line x1="854.5" y1="1400.1" x2="858.5" y2="1400.1" stroke="#222" stroke-width="1.6"/>
<line x1="1447" y1="1400.1" x2="1443" y2="1400.1" stroke="#222" stroke-width="1.6"/>
<line x1="854.5" y1="1381" x2="858.5" y2="1381" stroke="#222" stroke-width="1.6"/>
<line x1="1447" y1="1381" x2="1443" y2="1381" stroke="#222" stroke-width="1.6"/>
<line x1="854.5" y1="1363.3" x2="858.5" y2="1363.3" stroke="#222" stroke-width="1.6"/>
<line x1="1447" y1="1363.3" x2="1443" y2="1363.3" stroke="#222" stroke-width="1.6"/>
<line x1="854.5" y1="1346.7" x2="861.5" y2="1346.7" stroke="#222" stroke-width="1.6"/>
<line x1="1447" y1="1346.7" x2="1440" y2="1346.7" stroke="#222" stroke-width="1.6"/>
<line x1="854.5" y1="1331.1" x2="858.5" y2="1331.1" stroke="#222" stroke-width="1.6"/>
<line x1="1447" y1="1331.1" x2="1443" y2="1331.1" stroke="#222" stroke-width="1.6"/>
<line x1="854.5" y1="1316.4" x2="858.5" y2="1316.4" stroke="#222" stroke-width="1.6"/>
<line x1="1447" y1="1316.4" x2="1443" y2="1316.4" stroke="#222" stroke-width="1.6"/>
<line x1="854.5" y1="1302.5" x2="858.5" y2="1302.5" stroke="#222" stroke-width="1.6"/>
<line x1="1447" y1="1302.5" x2="1443" y2="1302.5" stroke="#222" stroke-width="1.6"/>
<line x1="854.5" y1="1289.3" x2="861.5" y2="1289.3" stroke="#222" stroke-width="1.6"/>
<line x1="1447" y1="1289.3" x2="1440" y2="1289.3" stroke="#222" stroke-width="1.6"/>
<text x="844.5" y="1300.8" font-size="33" text-anchor="end" fill="#111" >1</text>
<text x="844.5" y="1358.2" font-size="33" text-anchor="end" fill="#111" >0.8</text>
<text x="844.5" y="1432.2" font-size="33" text-anchor="end" fill="#111" >0.6</text>
<text x="844.5" y="1536.5" font-size="33" text-anchor="end" fill="#111" >0.4</text>
<text x="844.5" y="1714.8" font-size="33" text-anchor="end" fill="#111" >0.2</text>
<line x1="873.9" y1="1703.5" x2="873.9" y2="1699.5" stroke="#222" stroke-width="1.6"/>
<line x1="873.9" y1="1264.5" x2="873.9" y2="1268.5" stroke="#222" stroke-width="1.6"/>
<line x1="906.3" y1="1703.5" x2="906.3" y2="1699.5" stroke="#222" stroke-width="1.6"/>
<line x1="906.3" y1="1264.5" x2="906.3" y2="1268.5" stroke="#222" stroke-width="1.6"/>
<line x1="932.9" y1="1703.5" x2="932.9" y2="1699.5" stroke="#222" stroke-width="1.6"/>
<line x1="932.9" y1="1264.5" x2="932.9" y2="1268.5" stroke="#222" stroke-width="1.6"/>
<line x1="955.3" y1="1703.5" x2="955.3" y2="1699.5" stroke="#222" stroke-width="1.6"/>
<line x1="955.3" y1="1264.5" x2="955.3" y2="1268.5" stroke="#222" stroke-width="1.6"/>
<line x1="974.7" y1="1703.5" x2="974.7" y2="1699.5" stroke="#222" stroke-width="1.6"/>
<line x1="974.7" y1="1264.5" x2="974.7" y2="1268.5" stroke="#222" stroke-width="1.6"/>
<line x1="991.9" y1="1703.5" x2="991.9" y2="1699.5" stroke="#222" stroke-width="1.6"/>
<line x1="991.9" y1="1264.5" x2="991.9" y2="1268.5" stroke="#222" stroke-width="1.6"/>
<line x1="1007.2" y1="1703.5" x2="1007.2" y2="1696.5" stroke="#222" stroke-width="1.6"/>
<line x1="1007.2" y1="1264.5" x2="1007.2" y2="1271.5" stroke="#222" stroke-width="1.6"/>
<line x1="1108.1" y1="1703.5" x2="1108.1" y2="1699.5" stroke="#222" stroke-width="1.6"/>
<line x1="1108.1" y1="1264.5" x2="1108.1" y2="1268.5" stroke="#222" stroke-width="1.6"/>
<line x1="1167.1" y1="1703.5" x2="1167.1" y2="1699.5" stroke="#222" stroke-width="1.6"/>
<line x1="1167.1" y1="1264.5" x2="1167.1" y2="1268.5" stroke="#222" stroke-width="1.6"/>
<line x1="1209" y1="1703.5" x2="1209" y2="1699.5" stroke="#222" stroke-width="1.6"/>
<line x1="1209" y1="1264.5" x2="1209" y2="1268.5" stroke="#222" stroke-width="1.6"/>
<line x1="1241.4" y1="1703.5" x2="1241.4" y2="1699.5" stroke="#222" stroke-width="1.6"/>
<line x1="1241.4" y1="1264.5" x2="1241.4" y2="1268.5" stroke="#222" stroke-width="1.6"/>
<line x1="1268" y1="1703.5" x2="1268" y2="1699.5" stroke="#222" stroke-width="1.6"/>
<line x1="1268" y1="1264.5" x2="1268" y2="1268.5" stroke="#222" stroke-width="1.6"/>
<line x1="1290.4" y1="1703.5" x2="1290.4" y2="1699.5" stroke="#222" stroke-width="1.6"/>
<line x1="1290.4" y1="1264.5" x2="1290.4" y2="1268.5" stroke="#222" stroke-width="1.6"/>
<line x1="1309.8" y1="1703.5" x2="1309.8" y2="1699.5" stroke="#222" stroke-width="1.6"/>
<line x1="1309.8" y1="1264.5" x2="1309.8" y2="1268.5" stroke="#222" stroke-width="1.6"/>
<line x1="1327" y1="1703.5" x2="1327" y2="1699.5" stroke="#222" stroke-width="1.6"/>
<line x1="1327" y1="1264.5" x2="1327" y2="1268.5" stroke="#222" stroke-width="1.6"/>
<line x1="1342.3" y1="1703.5" x2="1342.3" y2="1696.5" stroke="#222" stroke-width="1.6"/>
<line x1="1342.3" y1="1264.5" x2="1342.3" y2="1271.5" stroke="#222" stroke-width="1.6"/>
<line x1="1443.2" y1="1703.5" x2="1443.2" y2="1699.5" stroke="#222" stroke-width="1.6"/>
<line x1="1443.2" y1="1264.5" x2="1443.2" y2="1268.5" stroke="#222" stroke-width="1.6"/>
<text x="983" y="1760" font-size="31" text-anchor="start" fill="#111" >10<tspan font-size="21" dy="-14">1</tspan></text>
<text x="1318" y="1760" font-size="31" text-anchor="start" fill="#111" >10<tspan font-size="21" dy="-14">2</tspan></text>
<text x="1152" y="1803" font-size="37" text-anchor="middle" fill="#111">Distance r (<tspan font-style="italic" font-family='"Liberation Serif", serif'>μ</tspan>m)</text>
<text x="769" y="1489" font-size="36" text-anchor="middle" fill="#111" transform="rotate(-90 769 1489)">C<tspan font-size="27" dy="8">S</tspan><tspan dy="-8">(r)</tspan></text>
<text x="736" y="1277.3" font-size="58" text-anchor="start" fill="#000" >(k)</text>
<rect x="868.6" y="1499.4" width="206.3" height="191.9" fill="#fff" stroke="#a0a0a0" stroke-width="2"/>
<circle cx="895.4" cy="1518.5" r="10.6" fill="#F9B51A" stroke="#7a7a7a" stroke-width="1.3"/>
<rect x="887.4" y="1537.5" width="16" height="16" fill="#F5603A" stroke="#7a7a7a" stroke-width="1.3"/>
<polygon points="895.4,1559.5 905.9,1572.5 895.4,1585.5 884.9,1572.5" fill="#3A5E98" stroke="#7a7a7a" stroke-width="1.3"/>
<text x="920.5" y="1526" font-size="22.3" text-anchor="start" fill="#111" >t = 0-40 min</text>
<text x="920.5" y="1553" font-size="22.3" text-anchor="start" fill="#111" >t = 40-80 min</text>
<text x="920.5" y="1580.5" font-size="22.3" text-anchor="start" fill="#111" >t = 80-120 min</text>
<line x1="874" y1="1602.5" x2="916" y2="1602.5" stroke="#fbc02d" stroke-width="6"/>
<line x1="874" y1="1636.5" x2="916" y2="1636.5" stroke="#f4a898" stroke-width="6" stroke-dasharray="22 4 5 4"/>
<line x1="874" y1="1670.5" x2="916" y2="1670.5" stroke="#3d8be8" stroke-width="6" stroke-dasharray="5 3.5"/>
<text x="920.5" y="1616" font-size="22.3" fill="#111">r<tspan font-size="16" dy="-12">-0.37</tspan></text>
<text x="920.5" y="1650" font-size="22.3" fill="#111">r<tspan font-size="16" dy="-12">-0.12</tspan></text>
<text x="920.5" y="1684" font-size="22.3" fill="#111">r<tspan font-size="16" dy="-12">-0.047</tspan></text>
<defs><filter id="hmap" x="-3%" y="-3%" width="106%" height="106%" color-interpolation-filters="sRGB"><feGaussianBlur stdDeviation="3.0"/><feComponentTransfer><feFuncR type="table" tableValues="0.001 0.014 0.040 0.074 0.118 0.165 0.219 0.272 0.329 0.378 0.427 0.476 0.532 0.582 0.633 0.684 0.742 0.792 0.841 0.885 0.926 0.953 0.972 0.983 0.992 0.995 0.997 0.997 0.995 0.993 0.990 0.987"/><feFuncG type="table" tableValues="0.000 0.012 0.031 0.052 0.066 0.068 0.061 0.061 0.076 0.095 0.115 0.135 0.155 0.172 0.188 0.204 0.224 0.244 0.269 0.301 0.347 0.398 0.454 0.513 0.580 0.639 0.697 0.755 0.820 0.877 0.934 0.991"/><feFuncB type="table" tableValues="0.014 0.069 0.134 0.203 0.286 0.362 0.425 0.466 0.489 0.500 0.506 0.508 0.507 0.503 0.495 0.484 0.467 0.448 0.425 0.400 0.375 0.361 0.361 0.374 0.402 0.437 0.477 0.523 0.579 0.633 0.690 0.750"/></feComponentTransfer></filter></defs>
<clipPath id="clipl0"><rect x="65.6" y="1825" width="319" height="318.5"/></clipPath>
<g clip-path="url(#clipl0)"><g filter="url(#hmap)"><g shape-rendering="crispEdges" transform="translate(65.6 1825) scale(10.6333 10.6167)">
<path fill="#000000" d="M7 2h1v1h-1zm0 1h1v1h-1zm12 2h1v1h-1zm1 6h6v1h-6zm-2 1h8v1h-8zm6 1h2v1h-2zm-5 2h1v1h-1zm6 1h1v1h-1zm0 1h1v1h-1zm0 1h1v1h-1zm-4 1h2v1h-2zm4 0h1v1h-1zm-4 1h2v1h-2zm4 0h1v1h-1zm-1 1h2v1h-2zm0 1h2v1h-2zm1 1h1v1h-1zm2 3h1v1h-1zm0 1h1v1h-1z"/>
<path fill="#050505" d="M6 2h1v1h-1zm13 2h2v1h-2zm-1 1h1v1h-1zm2 0h1v1h-1zm-1 6h1v1h-1zm-20 1h4v1h-4zm27 0h1v1h-1zm-10 1h8v1h-8zm2 1h2v1h-2zm6 0h2v1h-2zm-6 1h1v1h-1zm2 0h1v1h-1zm4 0h2v1h-2zm-5 1h3v1h-3zm5 0h1v1h-1zm-3 1h4v1h-4zm0 1h4v1h-4zm2 1h2v1h-2zm0 1h2v1h-2zm3 5h2v1h-2zm0 1h1v1h-1zm2 0h1v1h-1zm-2 1h1v1h-1zm0 1h2v1h-2zm0 1h1v1h-1zm0 1h1v1h-1z"/>
<path fill="#0b0b0b" d="M26 -1h1v1h-1zm0 1h1v1h-1zm-27 2h2v1h-2zm9 0h1v1h-1zm-2 1h1v1h-1zm2 0h1v1h-1zm9 1h2v1h-2zm4 0h1v1h-1zm0 1h1v1h-1zm-22 6h5v1h-5zm27 0h1v1h-1zm-23 1h1v1h-1zm23 1h1v1h-1zm-9 1h1v1h-1zm3 0h1v1h-1zm3 0h1v1h-1zm3 0h1v1h-1zm-5 1h1v1h-1zm2 0h1v1h-1zm3 0h1v1h-1zm-4 1h2v1h-2zm4 0h1v1h-1zm0 1h1v1h-1zm0 1h1v1h-1zm-5 3h3v1h-3zm2 1h1v1h-1zm3 0h1v1h-1zm-2 1h1v1h-1zm2 0h1v1h-1zm-1 1h2v1h-2zm4 2h2v1h-2zm-1 1h3v1h-3zm-1 2h1v1h-1zm0 1h1v1h-1z"/>
<path fill="#101010" d="M2 -1h3v1h-3zm18 0h6v1h-6zm7 0h4v1h-4zm-25 1h3v1h-3zm18 0h6v1h-6zm7 0h4v1h-4zm-28 1h3v1h-3zm7 0h3v1h-3zm-5 1h1v1h-1zm4 0h1v1h-1zm-6 1h2v1h-2zm23 1h1v1h-1zm-5 1h1v1h-1zm0 7h1v1h-1zm-18 1h5v1h-5zm17 1h1v1h-1zm5 0h2v1h-2zm1 1h1v1h-1zm-2 2h1v1h-1zm6 2h1v1h-1zm0 1h1v1h-1zm0 1h1v1h-1zm2 4h3v1h-3zm0 3h1v1h-1zm-3 1h1v1h-1zm0 1h1v1h-1z"/>
<path fill="#161616" d="M-1 -1h3v1h-3zm6 0h5v1h-5zm14 0h1v1h-1zm-20 1h3v1h-3zm6 0h5v1h-5zm14 0h1v1h-1zm-17 1h4v1h-4zm17 0h12v1h-12zm1 1h4v1h-4zm-2 1h6v1h-6zm-2 1h1v1h-1zm-12 7h1v1h-1zm14 0h1v1h-1zm-14 1h1v1h-1zm11 1h1v1h-1zm3 3h1v1h-1zm2 4h1v1h-1zm7 4h1v1h-1zm-2 1h1v1h-1zm0 3h1v1h-1zm4 0h2v1h-2zm-1 1h3v1h-3zm0 1h3v1h-3z"/>
<path fill="#1b1b1b" d="M9 1h1v1h-1zm9 1h2v1h-2zm6 0h1v1h-1zm-23 1h1v1h-1zm16 0h1v1h-1zm-2 1h1v1h-1zm8 0h1v1h-1zm-7 1h1v1h-1zm6 0h1v1h-1zm3 5h2v1h-2zm-21 3h1v1h-1zm4 0h1v1h-1zm-9 1h5v1h-5zm9 0h1v1h-1zm9 1h1v1h-1zm3 3h1v1h-1zm0 1h1v1h-1zm0 2h1v1h-1zm2 1h1v1h-1zm1 1h1v1h-1zm1 1h1v1h-1zm1 2h1v1h-1zm0 1h1v1h-1z"/>
<path fill="#212121" d="M10 -1h1v1h-1zm8 0h1v1h-1zm-8 1h1v1h-1zm8 0h1v1h-1zm0 1h1v1h-1zm-16 1h1v1h-1zm2 0h1v1h-1zm5 0h1v1h-1zm-4 1h1v1h-1zm11 0h1v1h-1zm-8 1h1v1h-1zm7 1h1v1h-1zm9 5h1v1h-1zm3 1h1v1h-1zm-22 1h1v1h-1zm3 0h1v1h-1zm8 0h1v1h-1zm11 0h1v1h-1zm-20 1h1v1h-1zm2 0h1v1h-1zm18 0h1v1h-1zm-23 1h1v1h-1zm3 0h1v1h-1zm8 0h1v1h-1zm12 0h1v1h-1zm0 1h1v1h-1zm-8 2h1v1h-1zm8 6h1v1h-1zm1 1h1v1h-1z"/>
<path fill="#262626" d="M3 2h1v1h-1zm14 0h1v1h-1zm8 0h1v1h-1zm4 0h2v1h-2zm-14 1h1v1h-1zm9 0h1v1h-1zm-17 1h1v1h-1zm7 0h1v1h-1zm-12 6h2v1h-2zm3 1h1v1h-1zm1 1h2v1h-2zm3 0h1v1h-1zm0 2h1v1h-1zm-6 1h5v1h-5zm3 1h1v1h-1zm21 0h1v1h-1zm-6 6h1v1h-1zm8 2h2v1h-2zm-5 5h1v1h-1zm0 1h1v1h-1z"/>
<path fill="#2b2b2b" d="M10 1h1v1h-1zm17 1h2v1h-2zm-25 1h1v1h-1zm7 0h1v1h-1zm15 1h1v1h-1zm-10 1h1v1h-1zm9 0h1v1h-1zm-5 1h2v1h-2zm-19 4h3v1h-3zm28 0h1v1h-1zm-22 3h2v1h-2zm9 0h1v1h-1zm-9 1h2v1h-2zm-4 1h2v1h-2zm7 0h1v1h-1zm-3 1h1v1h-1zm22 1h1v1h-1zm-7 5h1v1h-1zm4 6h1v1h-1z"/>
<path fill="#313131" d="M17 -1h1v1h-1zm0 1h1v1h-1zm0 1h1v1h-1zm-1 1h1v1h-1zm10 0h1v1h-1zm-27 2h2v1h-2zm21 2h1v1h-1zm3 4h1v1h-1zm-17 1h1v1h-1zm11 0h1v1h-1zm-7 2h1v1h-1zm4 1h1v1h-1zm-15 1h2v1h-2zm8 1h1v1h-1zm-1 1h1v1h-1zm21 1h1v1h-1zm0 4h1v1h-1z"/>
<path fill="#363636" d="M11 -1h1v1h-1zm0 1h1v1h-1zm-7 3h1v1h-1zm10 0h1v1h-1zm-13 1h1v1h-1zm5 0h1v1h-1zm3 0h1v1h-1zm4 1h1v1h-1zm11 0h1v1h-1zm-7 1h1v1h-1zm4 0h1v1h-1zm-17 4h1v1h-1zm6 2h1v1h-1zm5 0h1v1h-1zm13 0h1v1h-1zm0 1h1v1h-1zm0 1h1v1h-1zm0 1h1v1h-1zm-24 1h1v1h-1zm23 3h1v1h-1zm0 1h1v1h-1zm-8 1h1v1h-1zm8 0h1v1h-1zm-8 1h1v1h-1zm3 1h1v1h-1zm2 2h1v1h-1z"/>
<path fill="#3c3c3c" d="M3 3h1v1h-1zm22 0h1v1h-1zm3 0h3v1h-3zm-15 1h1v1h-1zm13 5h2v1h-2zm-4 1h1v1h-1zm6 0h1v1h-1zm-21 1h1v1h-1zm21 0h1v1h-1zm-15 2h1v1h-1zm16 0h2v1h-2zm-19 1h1v1h-1zm19 0h2v1h-2zm-20 1h1v1h-1zm7 0h1v1h-1zm12 1h1v1h-1zm-23 1h1v1h-1zm2 0h1v1h-1zm-1 1h1v1h-1zm12 5h1v1h-1zm10 0h1v1h-1zm-5 1h1v1h-1zm1 3h1v1h-1z"/>
<path fill="#414141" d="M11 1h1v1h-1zm5 0h1v1h-1zm-6 1h1v1h-1zm5 0h1v1h-1zm12 1h1v1h-1zm-25 1h1v1h-1zm23 0h1v1h-1zm-16 1h1v1h-1zm16 0h1v1h-1zm-9 1h1v1h-1zm6 0h1v1h-1zm6 1h3v1h-3zm0 1h3v1h-3zm-3 1h1v1h-1zm3 0h3v1h-3zm-20 2h1v1h-1zm21 1h2v1h-2zm-18 1h1v1h-1zm2 1h1v1h-1zm16 1h2v1h-2zm-26 1h1v1h-1zm5 0h1v1h-1zm9 0h1v1h-1zm1 1h1v1h-1zm1 1h1v1h-1zm0 2h1v1h-1zm-2 3h1v1h-1zm2 0h1v1h-1zm10 0h2v1h-2zm-28 6h2v1h-2zm22 0h1v1h-1zm-22 1h2v1h-2zm22 0h1v1h-1z"/>
<path fill="#474747" d="M26 3h1v1h-1zm-23 1h1v1h-1zm2 0h1v1h-1zm23 0h3v1h-3zm-20 1h1v1h-1zm4 0h1v1h-1zm14 0h5v1h-5zm-11 1h1v1h-1zm8 0h1v1h-1zm2 0h6v1h-6zm2 1h1v1h-1zm0 1h1v1h-1zm-22 2h1v1h-1zm15 0h2v1h-2zm9 0h2v1h-2zm-20 1h1v1h-1zm20 0h2v1h-2zm-18 1h1v1h-1zm1 1h1v1h-1zm17 3h2v1h-2zm-1 1h1v1h-1zm-22 2h1v1h-1zm12 3h1v1h-1zm-1 2h1v1h-1zm7 2h1v1h-1zm-25 2h3v1h-3zm0 1h2v1h-2zm0 1h2v1h-2z"/>
<path fill="#4c4c4c" d="M16 -1h1v1h-1zm0 1h1v1h-1zm-3 3h1v1h-1zm-9 1h1v1h-1zm22 0h2v1h-2zm-16 1h1v1h-1zm4 1h1v1h-1zm10 0h1v1h-1zm2 1h1v1h-1zm0 1h1v1h-1zm-23 1h1v1h-1zm16 1h1v1h-1zm-9 1h1v1h-1zm1 3h2v1h-2zm4 1h1v1h-1zm-13 1h1v1h-1zm17 3h1v1h-1zm-13 1h1v1h-1zm22 2h1v1h-1zm-8 1h2v1h-2zm-4 1h1v1h-1zm-14 4h1v1h-1zm21 0h1v1h-1zm-20 1h1v1h-1zm0 1h1v1h-1z"/>
<path fill="#515151" d="M14 2h1v1h-1zm-12 3h2v1h-2zm9 0h1v1h-1zm2 1h1v1h-1zm-11 3h1v1h-1zm22 0h1v1h-1zm-8 2h1v1h-1zm-2 1h1v1h-1zm-4 3h1v1h-1zm-11 1h3v1h-3zm30 1h2v1h-2zm-24 1h1v1h-1zm2 0h1v1h-1zm21 0h1v1h-1zm-10 6h1v1h-1zm-19 3h2v1h-2z"/>
<path fill="#575757" d="M12 -1h1v1h-1zm0 1h1v1h-1zm-2 3h1v1h-1zm0 1h1v1h-1zm2 0h1v1h-1zm-9 2h1v1h-1zm22 1h1v1h-1zm0 1h1v1h-1zm-24 1h1v1h-1zm17 1h1v1h-1zm-6 2h1v1h-1zm2 3h1v1h-1zm-5 1h1v1h-1zm-5 1h1v1h-1zm4 0h1v1h-1zm-2 4h1v1h-1zm10 2h1v1h-1zm-15 4h1v1h-1zm2 1h1v1h-1zm19 1h1v1h-1zm0 1h1v1h-1z"/>
<path fill="#5c5c5c" d="M12 1h1v1h-1zm3 0h1v1h-1zm-4 1h1v1h-1zm2 0h1v1h-1zm-12 3h1v1h-1zm11 1h1v1h-1zm-13 3h2v1h-2zm7 1h1v1h-1zm7 2h1v1h-1zm16 6h2v1h-2zm-1 1h1v1h-1zm-10 2h1v1h-1zm10 0h1v1h-1zm-22 1h1v1h-1zm23 0h2v1h-2zm-13 3h2v1h-2z"/>
<path fill="#626262" d="M12 2h1v1h-1zm0 1h1v1h-1zm-13 2h2v1h-2zm5 0h1v1h-1zm3 0h1v1h-1zm-5 1h1v1h-1zm8 0h2v1h-2zm14 1h1v1h-1zm-20 2h1v1h-1zm7 2h1v1h-1zm0 4h1v1h-1zm2 0h1v1h-1zm-8 4h1v1h-1zm2 0h1v1h-1zm21 1h1v1h-1zm-11 2h1v1h-1zm5 2h1v1h-1zm1 1h1v1h-1zm-21 2h1v1h-1zm21 0h1v1h-1zm-6 2h3v1h-3zm0 1h3v1h-3z"/>
<path fill="#676767" d="M15 -1h1v1h-1zm0 1h1v1h-1zm-4 4h1v1h-1zm-2 2h1v1h-1zm-6 1h1v1h-1zm0 1h1v1h-1zm9 7h1v1h-1zm4 1h1v1h-1zm-10 7h1v1h-1zm9 1h1v1h-1zm4 0h1v1h-1zm-4 1h1v1h-1zm-16 1h2v1h-2zm17 0h1v1h-1zm1 2h2v1h-2zm5 0h1v1h-1zm-2 1h2v1h-2zm0 1h2v1h-2z"/>
<path fill="#6d6d6d" d="M13 1h2v1h-2zm-2 2h1v1h-1zm-9 5h1v1h-1zm22 0h1v1h-1zm-1 1h1v1h-1zm-16 1h1v1h-1zm10 0h1v1h-1zm-7 6h1v1h-1zm7 1h1v1h-1zm1 1h1v1h-1zm11 1h2v1h-2zm-24 1h1v1h-1zm2 0h1v1h-1zm-2 1h1v1h-1zm24 0h2v1h-2zm-24 1h1v1h-1zm0 1h1v1h-1zm-4 3h1v1h-1zm15 1h1v1h-1zm-1 1h2v1h-2zm-11 1h1v1h-1zm11 0h2v1h-2zm-11 1h1v1h-1zm11 0h2v1h-2z"/>
<path fill="#727272" d="M13 -1h1v1h-1zm0 1h1v1h-1zm-11 7h1v1h-1zm21 0h1v1h-1zm-15 3h1v1h-1zm7 1h1v1h-1zm-12 6h1v1h-1zm6 0h1v1h-1zm-1 1h1v1h-1zm10 2h1v1h-1zm11 0h2v1h-2zm-24 4h1v1h-1zm13 1h1v1h-1zm-3 1h1v1h-1zm2 0h1v1h-1zm6 0h1v1h-1zm-20 1h1v1h-1zm12 0h1v1h-1zm2 0h1v1h-1zm-13 1h1v1h-1zm15 0h1v1h-1zm-5 1h1v1h-1zm0 1h1v1h-1z"/>
<path fill="#777777" d="M14 -1h1v1h-1zm0 1h1v1h-1zm-9 5h1v1h-1zm-1 1h1v1h-1zm14 1h1v1h-1zm-6 4h1v1h-1zm3 12h1v1h-1zm-9 1h1v1h-1zm8 4h1v1h-1zm6 0h2v1h-2z"/>
<path fill="#7d7d7d" d="M6 5h1v1h-1zm-5 1h1v1h-1zm7 0h1v1h-1zm9 1h1v1h-1zm-16 1h1v1h-1zm3 0h1v1h-1zm1 1h1v1h-1zm4 1h1v1h-1zm2 6h1v1h-1zm-9 1h1v1h-1zm2 1h1v1h-1zm14 1h1v1h-1zm-11 2h1v1h-1zm13 3h2v1h-2zm-15 1h1v1h-1zm9 2h1v1h-1zm4 0h1v1h-1z"/>
<path fill="#828282" d="M4 7h1v1h-1zm11 0h2v1h-2zm4 0h1v1h-1zm3 0h1v1h-1zm-12 3h1v1h-1zm5 6h1v1h-1zm-16 1h3v1h-3zm11 0h1v1h-1zm6 5h1v1h-1zm-14 4h1v1h-1zm12 0h1v1h-1zm-10 1h1v1h-1zm9 2h1v1h-1zm0 1h1v1h-1z"/>
<path fill="#888888" d="M-1 6h2v1h-2zm2 1h1v1h-1zm13 0h1v1h-1zm-15 1h2v1h-2zm24 0h1v1h-1zm-7 2h1v1h-1zm-2 1h1v1h-1zm-2 5h2v1h-2zm-3 2h1v1h-1zm-1 1h1v1h-1zm9 2h1v1h-1zm-18 4h2v1h-2zm7 0h1v1h-1zm8 0h1v1h-1zm-9 1h1v1h-1zm13 0h1v1h-1zm4 1h1v1h-1zm-9 1h1v1h-1z"/>
<path fill="#8d8d8d" d="M13 7h1v1h-1zm7 0h2v1h-2zm2 2h1v1h-1zm-9 2h1v1h-1zm1 5h1v1h-1zm-7 6h1v1h-1zm7 2h1v1h-1zm-13 1h1v1h-1zm21 0h1v1h-1zm-3 2h1v1h-1z"/>
<path fill="#929292" d="M-1 7h2v1h-2zm13 0h1v1h-1zm-1 3h1v1h-1zm0 7h1v1h-1zm5 0h1v1h-1zm1 1h1v1h-1zm2 7h1v1h-1zm-16 1h2v1h-2zm2 1h1v1h-1zm8 0h1v1h-1zm-8 1h1v1h-1zm0 1h1v1h-1zm0 1h1v1h-1z"/>
<path fill="#989898" d="M10 7h2v1h-2zm-4 2h1v1h-1zm4 9h1v1h-1zm-6 6h1v1h-1zm0 1h1v1h-1zm2 1h1v1h-1z"/>
<path fill="#9d9d9d" d="M9 7h1v1h-1zm9 2h1v1h-1zm-14 10h1v1h-1zm0 4h1v1h-1zm3 0h1v1h-1zm7 0h1v1h-1zm-12 2h1v1h-1zm11 1h1v1h-1zm9 0h1v1h-1zm-2 1h2v1h-2zm-8 2h1v1h-1zm0 1h1v1h-1z"/>
<path fill="#a3a3a3" d="M5 6h1v1h-1zm2 0h1v1h-1zm0 3h1v1h-1zm12 0h1v1h-1zm2 0h1v1h-1zm-6 1h1v1h-1zm-3 7h1v1h-1zm-9 1h1v1h-1zm6 1h1v1h-1zm-1 1h1v1h-1zm9 0h1v1h-1zm-2 2h1v1h-1zm4 4h1v1h-1zm-7 2h1v1h-1z"/>
<path fill="#a8a8a8" d="M8 7h1v1h-1zm-3 1h1v1h-1zm3 1h1v1h-1zm9 0h1v1h-1zm3 0h1v1h-1zm-8 1h1v1h-1zm-1 8h1v1h-1zm6 1h1v1h-1zm-13 3h1v1h-1zm-5 2h2v1h-2zm8 0h1v1h-1zm-4 1h1v1h-1zm10 0h1v1h-1zm7 0h2v1h-2z"/>
<path fill="#aeaeae" d="M17 8h1v1h-1zm5 0h1v1h-1zm-9 9h1v1h-1zm2 0h1v1h-1zm-16 1h2v1h-2zm3 0h1v1h-1zm8 1h1v1h-1zm-6 1h1v1h-1zm12 1h1v1h-1zm-15 3h1v1h-1zm5 3h1v1h-1zm6 0h1v1h-1z"/>
<path fill="#b3b3b3" d="M5 7h1v1h-1zm10 1h2v1h-2zm3 0h1v1h-1zm-9 1h1v1h-1zm7 0h1v1h-1zm-2 1h1v1h-1zm0 7h1v1h-1zm-13 1h1v1h-1zm15 0h1v1h-1zm-5 1h1v1h-1zm-7 2h1v1h-1zm-1 3h1v1h-1zm10 0h1v1h-1zm-6 1h1v1h-1zm13 1h2v1h-2z"/>
<path fill="#b8b8b8" d="M6 6h1v1h-1zm8 2h1v1h-1zm-4 1h1v1h-1zm3 1h1v1h-1zm-1 8h1v1h-1zm-4 3h1v1h-1zm6 1h1v1h-1zm-12 2h1v1h-1zm10 2h1v1h-1zm-6 2h1v1h-1z"/>
<path fill="#bebebe" d="M9 8h1v1h-1zm4 0h1v1h-1zm6 0h1v1h-1zm-4 1h1v1h-1zm-6 11h1v1h-1zm4 3h1v1h-1zm-7 6h1v1h-1zm0 1h1v1h-1z"/>
<path fill="#c3c3c3" d="M7 7h1v1h-1zm1 1h1v1h-1zm2 0h1v1h-1zm2 0h1v1h-1zm-1 1h1v1h-1zm-12 10h2v1h-2zm11 1h2v1h-2zm-11 1h2v1h-2zm0 2h3v1h-3zm4 0h1v1h-1zm9 2h1v1h-1zm-5 1h1v1h-1zm4 2h1v1h-1zm0 1h1v1h-1zm0 1h1v1h-1z"/>
<path fill="#c9c9c9" d="M6 8h2v1h-2zm5 0h1v1h-1zm9 0h2v1h-2zm-8 1h1v1h-1zm2 0h1v1h-1zm-1 9h1v1h-1zm2 0h1v1h-1zm-14 1h1v1h-1zm2 0h1v1h-1zm9 0h1v1h-1zm4 0h1v1h-1zm-17 1h2v1h-2zm17 0h1v1h-1zm-1 1h1v1h-1zm-16 1h2v1h-2zm14 0h1v1h-1zm-1 2h1v1h-1zm-1 3h1v1h-1z"/>
<path fill="#cecece" d="M13 9h1v1h-1zm1 9h1v1h-1zm-2 2h1v1h-1zm-11 1h1v1h-1zm10 0h2v1h-2zm-10 1h1v1h-1zm7 0h1v1h-1zm-6 1h1v1h-1zm10 0h1v1h-1zm-1 3h1v1h-1z"/>
<path fill="#d4d4d4" d="M6 7h1v1h-1zm-4 12h1v1h-1zm-1 1h1v1h-1zm9 1h1v1h-1zm3 0h2v1h-2zm-1 1h1v1h-1zm-5 5h1v1h-1z"/>
<path fill="#d9d9d9" d="M13 19h1v1h-1zm2 0h1v1h-1zm-2 1h1v1h-1zm-4 1h1v1h-1zm-6 1h1v1h-1zm8 0h1v1h-1zm0 3h1v1h-1z"/>
<path fill="#dedede" d="M14 19h1v1h-1zm1 1h1v1h-1zm-13 2h1v1h-1zm6 1h1v1h-1zm3 0h1v1h-1zm0 1h1v1h-1zm-4 4h1v1h-1z"/>
<path fill="#e4e4e4" d="M2 20h2v1h-2zm12 0h1v1h-1zm-12 1h2v1h-2zm6 3h1v1h-1zm2 3h1v1h-1zm0 1h1v1h-1zm-3 1h1v1h-1zm3 0h1v1h-1zm-3 1h1v1h-1zm3 0h1v1h-1z"/>
<path fill="#e9e9e9" d="M9 22h2v1h-2zm-1 3h1v1h-1zm0 1h1v1h-1zm2 0h1v1h-1z"/>
<path fill="#efefef" d="M10 25h1v1h-1zm-2 2h1v1h-1z"/>
<path fill="#f4f4f4" d="M10 23h1v1h-1zm0 1h1v1h-1zm-2 4h2v1h-2zm1 1h1v1h-1zm0 1h1v1h-1z"/>
<path fill="#fafafa" d="M9 23h1v1h-1zm0 3h1v1h-1zm0 1h1v1h-1zm-1 2h1v1h-1zm0 1h1v1h-1z"/>
<path fill="#ffffff" d="M9 24h1v1h-1zm0 1h1v1h-1z"/>
</g></g>
<path d="M178 2141 180 2115 188 2084 189 2075 185 2066 181 2062 174 2057 170 2056 165 2058 161 2063 156 2074 152 2106 146 2128 144 2141M214 2034 212 2040 214 2044 218 2046 223 2045 227 2043 229 2040 228 2035 223 2031 218 2031 214 2034M94 2037 90 2041 88 2048 89 2057 92 2062 94 2063 99 2063 100 2062 104 2057 105 2048 103 2042 101 2040 99 2038 94 2037" fill="none" stroke="#52137c" stroke-width="1" stroke-opacity="0.95"/>
<path d="M68 2075 77 2076 90 2081 94 2082 99 2081 103 2077 108 2069 111 2057 112 2048 110 2040 108 2034 103 2029 99 2027 90 2025 68 2028M189 2141 189 2128 192 2115 208 2075 214 2066 220 2062 236 2053 240 2048 244 2040 244 2035 243 2031 236 2022 227 2016 218 2015 210 2016 201 2022 192 2036 187 2040 183 2042 170 2042 165 2044 161 2047 156 2055 153 2066 146 2101 136 2128 135 2141M130 1898 127 1902 127 1907 128 1911 132 1916 139 1918 143 1919 152 1918 161 1916 156 1914 146 1902 140 1898 134 1896 130 1898M165 1916 162 1916 165 1917 166 1920 210 1934 219 1933 227 1929 232 1925 232 1920 211 1916 196 1914 183 1913 165 1916M276 1914 272 1916 273 1920 285 1922 289 1922 296 1920 298 1916 294 1913 289 1912 285 1912 276 1914" fill="none" stroke="#7c2382" stroke-width="1" stroke-opacity="0.95"/>
<path d="M68 2088 81 2090 99 2099 103 2100 108 2098 110 2093 112 2079 115 2062 117 2048 115 2040 112 2031 108 2025 103 2021 99 2019 90 2017 68 2017M199 2141 199 2132 201 2123 210 2101 215 2084 219 2075 227 2066 246 2053 250 2048 253 2040 253 2031 251 2026 244 2017 236 2010 232 2008 227 2006 218 2005 205 2007 196 2011 183 2022 165 2031 161 2034 156 2040 150 2057 139 2101 132 2115 128 2124 127 2141M134 1889 130 1889 125 1892 121 1898 120 1902 120 1911 122 1916 126 1920 134 1924 139 1926 183 1933 210 1943 214 1943 223 1941 245 1930 254 1927 263 1926 289 1927 298 1925 307 1920 309 1916 306 1911 303 1909 294 1907 285 1907 263 1910 249 1911 218 1909 187 1906 165 1905 156 1902 143 1892 134 1889M289 2092 285 2093 277 2097 273 2101 272 2106 274 2110 276 2112 280 2115 285 2116 289 2117 296 2115 302 2110 304 2106 303 2101 300 2097 294 2093 289 2092" fill="none" stroke="#aa337d" stroke-width="1" stroke-opacity="0.95"/>
<path d="M68 1917 78 1916 84 1911 85 1907 85 1902 81 1896 77 1893 68 1892M68 2098 77 2099 81 2100 99 2111 112 2117 115 2119 117 2124 119 2132 119 2141M211 2141 213 2128 221 2110 223 2088 226 2079 228 2075 233 2071 249 2058 254 2053 257 2048 261 2040 261 2031 260 2026 253 2017 241 2005 232 2000 223 1998 205 1998 196 1999 187 2002 161 2022 156 2027 152 2035 146 2053 138 2084 134 2093 130 2098 125 2098 122 2093 120 2088 119 2079 121 2053 121 2044 118 2031 113 2022 108 2017 99 2013 86 2011 68 2010M125 1884 121 1887 117 1892 114 1898 112 1907 114 1916 117 1920 121 1924 130 1929 139 1931 183 1939 205 1949 210 1950 214 1950 223 1947 245 1936 258 1931 267 1930 289 1931 303 1928 311 1925 317 1920 319 1916 318 1911 313 1907 303 1904 289 1903 254 1905 214 1903 187 1900 170 1900 161 1898 147 1889 139 1885 130 1884 125 1884M280 2087 272 2092 265 2097 261 2101 259 2106 259 2110 261 2115 267 2119 280 2125 289 2126 298 2123 303 2121 309 2115 311 2110 312 2106 311 2101 306 2093 298 2087 289 2085 280 2087" fill="none" stroke="#d5446d" stroke-width="1" stroke-opacity="0.95"/>
<path d="M201 1827 201 1836 199 1845 195 1849 187 1853 183 1857 180 1863 180 1867 181 1871 183 1874 187 1875 192 1874 196 1870 205 1854 210 1851 223 1845 228 1840 231 1836 233 1827M68 1925 81 1924 99 1919 103 1920 118 1929 130 1934 148 1939 179 1944 186 1947 201 1955 210 1957 223 1953 249 1940 258 1936 267 1934 297 1933 311 1930 323 1925 329 1920 333 1916 334 1911 331 1907 329 1905 325 1902 316 1900 298 1899 258 1901 214 1897 187 1894 170 1893 161 1891 143 1882 130 1878 121 1879 117 1880 112 1885 103 1899 99 1899 90 1889 86 1886 77 1884 68 1883M382 2022 378 2023 374 2026 370 2035 368 2044 369 2051 372 2057 374 2059 378 2062 382 2062M68 2109 77 2111 103 2125 107 2128 109 2132 110 2141M300 2141 301 2137 303 2132 311 2124 318 2115 320 2106 319 2101 316 2095 310 2088 304 2084 294 2079 285 2079 276 2082 254 2095 245 2099 241 2099 236 2097 234 2093 233 2084 235 2079 238 2075 254 2062 259 2057 265 2048 268 2035 267 2026 265 2022 241 1998 236 1995 227 1992 196 1987 187 1988 183 1990 161 2009 152 2019 146 2031 134 2067 130 2070 127 2044 124 2031 120 2022 117 2017 108 2010 99 2006 86 2004 68 2003" fill="none" stroke="#f4675c" stroke-width="1" stroke-opacity="0.95"/>
<path d="M191 1827 190 1836 187 1840 178 1849 172 1858 171 1867 170 1878 169 1880 165 1882 161 1883 156 1882 139 1875 121 1871 108 1865 103 1865 94 1872 90 1874 81 1876 68 1876M382 1866 374 1866 356 1860 347 1860 341 1863 338 1867 335 1880 334 1885 327 1889 306 1894 276 1897 263 1897 211 1889 204 1885 204 1880 208 1871 214 1862 220 1858 235 1849 240 1845 243 1840 245 1836 246 1827M382 1921 374 1921 371 1925 371 1933 371 1942 374 1953 378 1960 382 1961M68 1932 81 1932 94 1930 103 1930 139 1944 165 1948 176 1951 182 1955 186 1960 187 1964 187 1969 184 1973 171 1986 152 2004 139 2022 134 2025 130 2022 119 2009 108 2001 90 1997 68 1995M382 1989 378 1990 374 1994 369 2002 363 2022 360 2044 361 2057 365 2067 369 2072 374 2074 382 2076M316 2141 317 2132 324 2119 327 2110 326 2101 322 2093 307 2078 298 2073 294 2072 280 2071 272 2074 258 2080 253 2079 254 2075 263 2067 267 2062 271 2053 275 2035 275 2026 273 2022 270 2017 245 1994 236 1989 216 1982 208 1978 205 1973 207 1969 258 1941 272 1938 298 1937 311 1935 347 1924 369 1920 374 1914 377 1911 382 1911" fill="none" stroke="#fd9a6a" stroke-width="1" stroke-opacity="0.95"/>
<path d="M180 1827 179 1832 177 1836 170 1845 168 1849 163 1867 161 1871 156 1874 143 1872 129 1867 122 1863 112 1851 108 1849 103 1849 99 1850 94 1853 87 1863 81 1867 77 1868 68 1869M382 1850 351 1847 338 1849 334 1851 329 1855 324 1863 319 1876 315 1880 310 1885 300 1889 285 1892 272 1893 258 1892 248 1889 227 1882 223 1880 220 1876 222 1871 226 1867 249 1855 256 1849 259 1840 259 1827M68 1939 94 1937 103 1938 115 1942 122 1947 126 1951 127 1955 118 1969 116 1973 115 1982 112 1986 103 1987 81 1985 68 1984M327 2141 328 2132 333 2119 334 2110 334 2101 330 2093 322 2084 307 2070 298 2065 285 2061 281 2057 280 2053 280 2048 281 2026 278 2017 274 2013 263 2004 249 1990 241 1984 226 1978 222 1973 223 1969 228 1964 235 1960 257 1947 267 1942 276 1941 311 1939 338 1934 347 1934 351 1936 357 1942 360 1951 360 1960 359 1986 353 2040 353 2053 355 2066 359 2075 365 2082 374 2086 382 2087M148 1959 152 1958 161 1958 166 1960 170 1964 170 1969 165 1978 160 1982 152 1986 148 1985 145 1982 143 1964 145 1960 148 1959" fill="none" stroke="#fec68a" stroke-width="1" stroke-opacity="0.95"/>
<path d="M302.6 1951.0 333.6 1947.7 338.1 1948.6 342.5 1950.9 345.6 1955.5 346.9 1959.4 347.8 1968.8 347.6 1982.0 343.3 2030.7 343.0 2070.5 342.4 2074.9 338.1 2075.4 333.6 2072.6 315.9 2058.6 302.6 2049.6 298.2 2044.8 294.6 2035.1 291.0 2017.4 286.7 2008.6 283.3 2004.2 267.2 1987.7 260.6 1977.6 259.6 1973.2 260.8 1968.8 264.4 1964.3 270.2 1959.9 280.5 1955.3 302.6 1951.0M351.4 2091.2 369.1 2098.1 373.5 2099.2 382.4 2099.8 382.4 2141.3 344.8 2141.3 347.7 2097.1 349.4 2092.6 351.4 2091.2" fill="none" stroke="#fff" stroke-width="4.2" stroke-dasharray="4 3"/>
</g>
<text x="81.1" y="1869" font-size="36" text-anchor="start" fill="#fff" >(I)</text>
<text x="371.6" y="1867" font-size="32" text-anchor="end" fill="#fff" >t=30 min</text>
<clipPath id="clipl1"><rect x="396" y="1825" width="318" height="318.5"/></clipPath>
<g clip-path="url(#clipl1)"><g filter="url(#hmap)"><g shape-rendering="crispEdges" transform="translate(396 1825) scale(10.6000 10.6167)">
<path fill="#000000" d="M24 -1h2v1h-2zm0 1h2v1h-2zm0 1h2v1h-2zm0 1h2v1h-2zm-17 2h1v1h-1zm13 0h2v1h-2zm-14 1h1v1h-1zm19 0h1v1h-1zm-1 1h2v1h-2zm0 1h2v1h-2zm0 1h2v1h-2zm0 1h2v1h-2zm0 1h2v1h-2zm0 8h1v1h-1zm0 1h2v1h-2zm0 1h2v1h-2zm0 1h2v1h-2zm0 1h2v1h-2zm-8 2h2v1h-2zm12 0h3v1h-3zm-12 1h2v1h-2zm4 0h1v1h-1zm8 0h3v1h-3zm-14 3h2v1h-2zm0 1h2v1h-2zm10 0h2v1h-2zm-10 1h2v1h-2zm10 0h2v1h-2z"/>
<path fill="#050505" d="M-1 -1h4v1h-4zm5 0h8v1h-8zm12 0h1v1h-1zm-17 1h4v1h-4zm5 0h8v1h-8zm12 0h1v1h-1zm-17 1h11v1h-11zm16 0h2v1h-2zm-13 1h3v1h-3zm5 0h2v1h-2zm6 0h3v1h-3zm-7 1h3v1h-3zm7 0h3v1h-3zm11 0h2v1h-2zm-19 1h2v1h-2zm3 0h1v1h-1zm7 0h5v1h-5zm7 0h4v1h-4zm-15 1h1v1h-1zm9 0h9v1h-9zm1 1h2v1h-2zm2 1h1v1h-1zm0 1h2v1h-2zm0 1h3v1h-3zm0 1h3v1h-3zm-2 1h5v1h-5zm7 0h2v1h-2zm-9 1h1v1h-1zm2 0h4v1h-4zm6 0h3v1h-3zm-5 1h3v1h-3zm5 0h4v1h-4zm-4 1h6v1h-6zm7 0h5v1h-5zm-6 1h4v1h-4zm6 0h5v1h-5zm-3 1h8v1h-8zm1 1h3v1h-3zm1 1h1v1h-1zm-8 5h2v1h-2zm6 0h4v1h-4zm-5 1h4v1h-4zm9 0h1v1h-1zm-9 1h2v1h-2zm3 0h1v1h-1zm-5 1h5v1h-5zm3 1h2v1h-2zm0 1h2v1h-2zm6 0h1v1h-1zm-6 1h3v1h-3zm4 0h1v1h-1zm-4 1h3v1h-3zm4 0h1v1h-1z"/>
<path fill="#0b0b0b" d="M3 -1h1v1h-1zm9 0h4v1h-4zm5 0h1v1h-1zm9 0h1v1h-1zm-23 1h1v1h-1zm9 0h4v1h-4zm5 0h1v1h-1zm9 0h1v1h-1zm-16 1h5v1h-5zm7 0h1v1h-1zm9 0h1v1h-1zm-27 1h3v1h-3zm6 0h2v1h-2zm4 0h1v1h-1zm3 0h1v1h-1zm4 0h2v1h-2zm7 0h1v1h-1zm3 0h1v1h-1zm-24 1h4v1h-4zm7 0h1v1h-1zm7 0h8v1h-8zm10 0h1v1h-1zm-22 1h1v1h-1zm10 0h1v1h-1zm12 0h1v1h-1zm-21 1h1v1h-1zm3 0h1v1h-1zm18 0h1v1h-1zm-20 1h1v1h-1zm10 0h1v1h-1zm3 0h5v1h-5zm-2 1h2v1h-2zm3 0h4v1h-4zm-2 1h1v1h-1zm3 0h3v1h-3zm-3 1h1v1h-1zm4 0h2v1h-2zm-5 1h2v1h-2zm5 0h2v1h-2zm-7 1h2v1h-2zm7 0h2v1h-2zm4 0h1v1h-1zm-12 1h1v1h-1zm2 0h1v1h-1zm5 0h2v1h-2zm5 0h1v1h-1zm-9 1h1v1h-1zm4 0h2v1h-2zm6 0h4v1h-4zm-9 1h1v1h-1zm7 0h1v1h-1zm-6 1h1v1h-1zm5 0h2v1h-2zm-4 1h3v1h-3zm3 1h1v1h-1zm4 0h4v1h-4zm-4 1h1v1h-1zm3 0h1v1h-1zm0 1h1v1h-1zm-3 3h1v1h-1zm3 0h1v1h-1zm-10 1h1v1h-1zm3 0h1v1h-1zm3 0h1v1h-1zm0 1h1v1h-1zm5 1h1v1h-1zm-6 1h1v1h-1zm-6 1h4v1h-4zm6 0h1v1h-1zm-5 1h3v1h-3zm5 0h2v1h-2zm3 0h1v1h-1zm-11 1h1v1h-1zm3 0h3v1h-3zm6 0h1v1h-1zm-9 1h1v1h-1zm3 0h3v1h-3zm6 0h1v1h-1z"/>
<path fill="#101010" d="M23 -1h1v1h-1zm0 1h1v1h-1zm0 1h1v1h-1zm-13 1h2v1h-2zm8 0h1v1h-1zm-19 1h3v1h-3zm13 0h1v1h-1zm15 0h1v1h-1zm-18 1h1v1h-1zm6 1h1v1h-1zm-8 1h1v1h-1zm19 0h1v1h-1zm-10 1h1v1h-1zm1 1h1v1h-1zm0 1h1v1h-1zm-1 1h1v1h-1zm10 0h1v1h-1zm-12 1h1v1h-1zm13 1h1v1h-1zm-13 1h3v1h-3zm-10 1h1v1h-1zm3 0h1v1h-1zm-3 1h5v1h-5zm0 1h2v1h-2zm15 0h1v1h-1zm0 1h1v1h-1zm3 0h1v1h-1zm-4 1h1v1h-1zm9 0h1v1h-1zm-4 1h1v1h-1zm0 1h1v1h-1zm3 0h1v1h-1zm-3 1h1v1h-1zm3 0h1v1h-1zm-9 1h2v1h-2zm3 1h2v1h-2zm7 0h1v1h-1zm-12 1h1v1h-1zm8 0h1v1h-1zm3 0h1v1h-1zm-11 1h1v1h-1zm0 1h1v1h-1zm-1 1h1v1h-1zm9 1h1v1h-1z"/>
<path fill="#161616" d="M18 1h1v1h-1zm-8 2h1v1h-1zm-7 1h1v1h-1zm10 0h1v1h-1zm14 0h1v1h-1zm-12 2h1v1h-1zm11 1h1v1h-1zm-10 1h1v1h-1zm10 0h1v1h-1zm-10 1h1v1h-1zm10 0h1v1h-1zm-11 1h1v1h-1zm-10 2h3v1h-3zm8 0h1v1h-1zm15 0h3v1h-3zm-29 1h9v1h-9zm4 1h1v1h-1zm2 0h2v1h-2zm3 0h1v1h-1zm9 0h1v1h-1zm-14 1h1v1h-1zm15 0h1v1h-1zm-12 1h1v1h-1zm12 0h1v1h-1zm0 1h1v1h-1zm2 0h2v1h-2zm-1 1h1v1h-1zm9 0h3v1h-3zm-10 1h1v1h-1zm-13 4h1v1h-1zm0 1h1v1h-1zm19 0h2v1h-2zm-20 1h1v1h-1zm18 0h1v1h-1zm6 1h3v1h-3zm-6 1h1v1h-1zm-9 1h1v1h-1z"/>
<path fill="#1b1b1b" d="M18 -1h1v1h-1zm0 1h1v1h-1zm1 2h1v1h-1zm3 0h1v1h-1zm5 0h1v1h-1zm-16 1h1v1h-1zm17 0h1v1h-1zm-26 1h1v1h-1zm2 1h1v1h-1zm5 0h1v1h-1zm5 0h1v1h-1zm-9 1h1v1h-1zm3 0h1v1h-1zm-3 5h2v1h-2zm8 0h1v1h-1zm-14 1h6v1h-6zm9 1h1v1h-1zm5 0h1v1h-1zm-11 1h1v1h-1zm7 1h1v1h-1zm-2 1h1v1h-1zm-2 1h1v1h-1zm17 1h1v1h-1zm-4 2h1v1h-1zm0 1h1v1h-1zm-2 1h1v1h-1zm3 0h1v1h-1zm3 0h1v1h-1zm-7 1h1v1h-1zm13 0h1v1h-1zm-24 1h1v1h-1zm22 1h1v1h-1zm-4 1h1v1h-1zm5 0h1v1h-1zm-2 1h1v1h-1zm1 1h1v1h-1zm0 1h1v1h-1zm0 1h1v1h-1z"/>
<path fill="#212121" d="M29 3h2v1h-2zm-30 1h3v1h-3zm11 0h1v1h-1zm2 0h1v1h-1zm3 3h1v1h-1zm0 2h1v1h-1zm-1 1h1v1h-1zm-7 1h1v1h-1zm20 0h1v1h-1zm-19 1h1v1h-1zm1 2h1v1h-1zm6 0h2v1h-2zm2 1h1v1h-1zm-14 1h1v1h-1zm5 0h1v1h-1zm-4 1h1v1h-1zm13 1h1v1h-1zm0 1h1v1h-1zm2 0h1v1h-1zm8 0h1v1h-1zm-10 2h1v1h-1zm12 2h2v1h-2zm-26 2h1v1h-1zm2 0h1v1h-1zm-2 1h2v1h-2zm11 0h1v1h-1zm12 0h1v1h-1zm-3 1h2v1h-2zm3 0h1v1h-1z"/>
<path fill="#262626" d="M27 -1h1v1h-1zm0 1h1v1h-1zm0 1h1v1h-1zm-7 1h1v1h-1zm8 0h1v1h-1zm-17 2h1v1h-1zm17 0h1v1h-1zm-1 1h1v1h-1zm-21 2h2v1h-2zm9 1h1v1h-1zm-9 2h1v1h-1zm-2 1h1v1h-1zm4 0h1v1h-1zm4 0h1v1h-1zm0 1h1v1h-1zm-13 2h3v1h-3zm15 0h1v1h-1zm-5 2h1v1h-1zm8 0h1v1h-1zm-11 1h1v1h-1zm11 0h1v1h-1zm3 1h2v1h-2zm2 1h1v1h-1zm-5 1h1v1h-1zm2 1h1v1h-1zm-14 1h1v1h-1zm15 0h2v1h-2zm7 0h1v1h-1zm-23 1h1v1h-1zm19 2h1v1h-1zm2 0h1v1h-1z"/>
<path fill="#2b2b2b" d="M19 1h1v1h-1zm2 1h1v1h-1zm8 0h2v1h-2zm0 2h2v1h-2zm-26 1h1v1h-1zm7 0h1v1h-1zm3 0h1v1h-1zm1 1h1v1h-1zm-7 4h1v1h-1zm2 2h1v1h-1zm0 1h1v1h-1zm3 0h1v1h-1zm1 1h1v1h-1zm-11 1h1v1h-1zm8 0h1v1h-1zm0 1h1v1h-1zm-6 2h2v1h-2zm15 2h1v1h-1zm8 0h1v1h-1zm-5 1h1v1h-1zm-20 4h1v1h-1zm12 0h1v1h-1zm10 0h1v1h-1zm-22 1h1v1h-1zm21 0h1v1h-1zm2 0h1v1h-1zm-12 1h1v1h-1z"/>
<path fill="#313131" d="M19 -1h1v1h-1zm0 1h1v1h-1zm3 1h1v1h-1zm-13 5h1v1h-1zm5 3h1v1h-1zm-9 1h1v1h-1zm8 0h1v1h-1zm-10 1h1v1h-1zm6 0h1v1h-1zm2 0h1v1h-1zm17 0h1v1h-1zm-12 4h1v1h-1zm-13 2h1v1h-1zm25 2h1v1h-1zm-6 1h1v1h-1zm-17 1h1v1h-1zm22 0h1v1h-1zm-23 1h1v1h-1zm2 1h1v1h-1zm-3 1h1v1h-1zm11 0h1v1h-1zm-9 2h1v1h-1zm19 0h1v1h-1zm-21 1h2v1h-2z"/>
<path fill="#363636" d="M22 -1h1v1h-1zm0 1h1v1h-1zm6 1h1v1h-1zm-26 4h1v1h-1zm9 0h2v1h-2zm-7 1h1v1h-1zm1 1h1v1h-1zm3 0h1v1h-1zm0 3h1v1h-1zm19 0h1v1h-1zm-26 1h2v1h-2zm9 0h1v1h-1zm0 1h2v1h-2zm0 2h1v1h-1zm2 0h1v1h-1zm-5 3h1v1h-1zm-1 1h1v1h-1zm-1 1h1v1h-1zm15 0h1v1h-1zm9 0h2v1h-2zm-24 1h1v1h-1zm11 1h1v1h-1zm-1 1h1v1h-1zm-9 2h1v1h-1zm-5 1h1v1h-1zm0 1h1v1h-1zm1 1h1v1h-1zm25 0h1v1h-1zm-15 2h1v1h-1zm0 1h1v1h-1z"/>
<path fill="#3c3c3c" d="M27 6h1v1h-1zm-13 1h1v1h-1zm-8 1h2v1h-2zm8 0h1v1h-1zm-8 1h2v1h-2zm6 1h1v1h-1zm-13 1h2v1h-2zm30 0h2v1h-2zm-19 2h2v1h-2zm1 1h1v1h-1zm-10 1h1v1h-1zm10 0h1v1h-1zm4 0h1v1h-1zm1 1h1v1h-1zm-12 3h1v1h-1zm17 0h1v1h-1zm-17 1h1v1h-1zm0 1h1v1h-1zm16 0h1v1h-1zm-21 1h2v1h-2zm7 0h1v1h-1zm22 0h1v1h-1zm-25 1h1v1h-1zm11 0h1v1h-1zm-15 1h4v1h-4zm0 1h2v1h-2zm0 1h2v1h-2zm0 1h3v1h-3zm6 0h1v1h-1z"/>
<path fill="#414141" d="M28 -1h1v1h-1zm0 1h1v1h-1zm-8 1h1v1h-1zm9 0h2v1h-2zm-30 4h3v1h-3zm29 0h1v1h-1zm-18 1h1v1h-1zm3 0h1v1h-1zm-4 4h1v1h-1zm-7 6h1v1h-1zm9 0h1v1h-1zm-3 1h2v1h-2zm8 0h1v1h-1zm-13 1h1v1h-1zm13 0h1v1h-1zm0 1h1v1h-1zm0 1h1v1h-1zm4 0h1v1h-1zm1 1h1v1h-1zm-20 1h1v1h-1zm-2 1h3v1h-3zm0 5h6v1h-6zm13 0h1v1h-1zm-13 1h3v1h-3zm0 1h3v1h-3z"/>
<path fill="#474747" d="M21 1h1v1h-1zm-13 7h1v1h-1zm-3 1h1v1h-1zm3 0h1v1h-1zm5 0h1v1h-1zm-9 1h1v1h-1zm6 0h2v1h-2zm-11 5h2v1h-2zm13 0h1v1h-1zm2 0h1v1h-1zm-4 2h1v1h-1zm-4 2h1v1h-1zm15 1h1v1h-1zm-22 1h3v1h-3zm4 0h1v1h-1zm3 0h1v1h-1zm-4 1h2v1h-2zm27 0h2v1h-2zm-27 1h1v1h-1zm4 2h1v1h-1zm7 1h1v1h-1zm15 1h1v1h-1zm-23 1h1v1h-1zm-3 1h1v1h-1zm0 1h1v1h-1z"/>
<path fill="#4c4c4c" d="M20 -1h1v1h-1zm9 0h2v1h-2zm-9 1h1v1h-1zm9 0h2v1h-2zm0 5h2v1h-2zm-18 1h2v1h-2zm-2 1h1v1h-1zm-4 1h1v1h-1zm8 7h1v1h-1zm-10 4h1v1h-1zm0 1h1v1h-1zm3 0h1v1h-1zm22 0h1v1h-1zm-26 1h1v1h-1zm25 7h1v1h-1zm-24 1h3v1h-3zm0 1h3v1h-3z"/>
<path fill="#515151" d="M21 -1h1v1h-1zm0 1h1v1h-1zm-18 6h1v1h-1zm10 1h1v1h-1zm0 1h1v1h-1zm14 1h1v1h-1zm-20 9h1v1h-1zm8 3h1v1h-1zm13 0h1v1h-1zm1 6h2v1h-2z"/>
<path fill="#575757" d="M4 7h1v1h-1zm23 0h1v1h-1zm-18 2h1v1h-1zm3 0h1v1h-1zm3 7h1v1h-1zm-13 1h1v1h-1zm9 0h1v1h-1zm-9 3h1v1h-1zm27 0h2v1h-2zm-15 2h1v1h-1zm-1 3h1v1h-1zm-7 1h1v1h-1zm6 1h1v1h-1zm15 2h1v1h-1zm0 1h1v1h-1z"/>
<path fill="#5c5c5c" d="M10 7h1v1h-1zm-1 1h1v1h-1zm-6 2h1v1h-1zm-2 6h1v1h-1zm11 0h1v1h-1zm1 8h1v1h-1zm-7 3h1v1h-1z"/>
<path fill="#626262" d="M12 7h1v1h-1zm15 1h1v1h-1zm-17 1h1v1h-1zm18 1h1v1h-1zm-29 10h3v1h-3zm30 1h2v1h-2zm-23 7h1v1h-1zm0 1h1v1h-1zm0 1h1v1h-1z"/>
<path fill="#676767" d="M2 6h1v1h-1zm9 1h1v1h-1zm1 1h1v1h-1zm-8 1h1v1h-1zm7 0h1v1h-1zm-12 7h2v1h-2zm16 1h1v1h-1zm-13 1h1v1h-1zm6 0h1v1h-1zm-6 1h1v1h-1zm5 0h1v1h-1zm8 1h1v1h-1z"/>
<path fill="#6d6d6d" d="M28 6h1v1h-1zm-24 2h1v1h-1zm6 0h1v1h-1zm-8 2h1v1h-1zm11 6h2v1h-2zm-4 2h2v1h-2zm4 5h1v1h-1zm-2 6h1v1h-1zm0 1h1v1h-1z"/>
<path fill="#727272" d="M1 6h1v1h-1zm10 2h1v1h-1zm18 2h2v1h-2zm-14 8h1v1h-1zm0 1h1v1h-1zm-8 1h1v1h-1zm5 6h1v1h-1z"/>
<path fill="#777777" d="M-1 6h2v1h-2zm2 4h1v1h-1zm0 7h1v1h-1zm11 0h1v1h-1zm2 4h1v1h-1zm-3 7h1v1h-1z"/>
<path fill="#7d7d7d" d="M29 6h2v1h-2zm-26 1h1v1h-1zm-4 3h2v1h-2zm12 8h1v1h-1zm-10 1h1v1h-1zm6 2h1v1h-1zm21 7h1v1h-1z"/>
<path fill="#828282" d="M-1 19h2v1h-2zm8 3h1v1h-1zm6 0h1v1h-1z"/>
<path fill="#888888" d="M3 9h1v1h-1zm-4 8h2v1h-2zm2 1h1v1h-1zm7 1h1v1h-1zm-1 4h1v1h-1zm0 1h1v1h-1zm5 1h1v1h-1zm-5 3h1v1h-1zm0 1h1v1h-1zm0 1h1v1h-1z"/>
<path fill="#8d8d8d" d="M14 17h1v1h-1zm-7 8h1v1h-1zm0 1h1v1h-1zm0 1h1v1h-1zm4 0h1v1h-1zm18 1h2v1h-2zm-1 1h1v1h-1zm0 1h1v1h-1z"/>
<path fill="#929292" d="M28 7h1v1h-1zm0 2h1v1h-1zm-15 8h1v1h-1zm-14 1h2v1h-2zm15 2h1v1h-1zm-2 4h1v1h-1z"/>
<path fill="#989898" d="M3 8h1v1h-1zm9 10h1v1h-1zm-3 1h2v1h-2z"/>
<path fill="#9d9d9d" d="M2 7h1v1h-1zm12 11h1v1h-1zm-1 3h1v1h-1zm-1 2h1v1h-1zm-2 6h1v1h-1zm0 1h1v1h-1z"/>
<path fill="#a3a3a3" d="M2 9h1v1h-1zm9 10h1v1h-1zm3 0h1v1h-1zm-6 1h1v1h-1zm3 6h1v1h-1zm-1 2h1v1h-1z"/>
<path fill="#a8a8a8" d="M28 8h1v1h-1zm1 21h2v1h-2zm0 1h2v1h-2z"/>
<path fill="#aeaeae" d="M29 7h2v1h-2zm0 2h2v1h-2zm-16 9h1v1h-1zm0 2h1v1h-1zm-1 2h1v1h-1zm-4 6h1v1h-1zm0 1h1v1h-1zm0 1h1v1h-1z"/>
<path fill="#b3b3b3" d="M1 7h1v1h-1zm11 12h1v1h-1zm-4 8h1v1h-1zm2 0h1v1h-1zm-1 2h1v1h-1zm0 1h1v1h-1z"/>
<path fill="#b8b8b8" d="M-1 7h2v1h-2zm3 1h1v1h-1zm11 11h1v1h-1zm-5 2h1v1h-1zm3 4h1v1h-1zm-2 3h1v1h-1z"/>
<path fill="#bebebe" d="M1 9h1v1h-1zm8 11h1v1h-1zm3 0h1v1h-1zm0 1h1v1h-1zm-4 5h1v1h-1z"/>
<path fill="#c3c3c3" d="M29 8h2v1h-2zm-30 1h2v1h-2zm11 11h2v1h-2zm1 4h1v1h-1zm-1 2h1v1h-1zm-1 1h1v1h-1z"/>
<path fill="#cecece" d="M8 22h1v1h-1zm3 1h1v1h-1zm-3 2h1v1h-1z"/>
<path fill="#d4d4d4" d="M1 8h1v1h-1zm8 18h1v1h-1z"/>
<path fill="#d9d9d9" d="M11 21h1v1h-1zm0 1h1v1h-1zm-3 1h1v1h-1zm0 1h1v1h-1zm2 1h1v1h-1z"/>
<path fill="#dedede" d="M-1 8h2v1h-2zm10 13h1v1h-1z"/>
<path fill="#e4e4e4" d="M10 21h1v1h-1z"/>
<path fill="#e9e9e9" d="M9 25h1v1h-1z"/>
<path fill="#efefef" d="M10 24h1v1h-1z"/>
<path fill="#f4f4f4" d="M10 22h1v1h-1z"/>
<path fill="#fafafa" d="M9 22h1v1h-1zm1 1h1v1h-1zm-1 1h1v1h-1z"/>
<path fill="#ffffff" d="M9 23h1v1h-1z"/>
</g></g>
<path d="M500 2052 495 2055 491 2060 487 2071 487 2079 488 2088 491 2096 495 2100 500 2100 505 2097 510 2088 514 2075 516 2062 516 2057 513 2053 509 2051 504 2051 500 2052" fill="none" stroke="#52137c" stroke-width="1" stroke-opacity="0.95"/>
<path d="M712 1910 707 1911 705 1916 707 1920 712 1921M398 1927 407 1926 413 1925 420 1920 421 1916 418 1911 411 1907 398 1906M500 2042 495 2044 491 2048 488 2053 484 2062 482 2075 483 2093 487 2108 491 2117 495 2119 500 2117 504 2113 513 2101 517 2091 529 2048 529 2044 526 2041 509 2041 500 2042" fill="none" stroke="#7c2382" stroke-width="1" stroke-opacity="0.95"/>
<path d="M712 1901 707 1901 703 1903 699 1908 697 1916 698 1920 700 1925 703 1927 707 1928 712 1929M398 1932 411 1931 420 1928 426 1925 429 1921 430 1916 429 1911 424 1907 420 1904 411 1901 398 1900M712 2132 707 2133 703 2137 703 2141M506 2141 508 2128 522 2099 531 2067 535 2058 545 2044 549 2035 550 2026 548 2019 544 2015 540 2015 535 2017 522 2029 513 2033 494 2035 488 2040 485 2044 480 2057 478 2079 479 2101 482 2141" fill="none" stroke="#aa337d" stroke-width="1" stroke-opacity="0.95"/>
<path d="M712 1894 703 1896 699 1899 693 1907 692 1916 694 1925 699 1931 703 1933 712 1934M398 1936 416 1935 429 1930 436 1925 439 1920 439 1916 438 1911 434 1907 425 1900 411 1896 398 1895M398 2034 407 2033 411 2031 414 2026 415 2022 414 2017 411 2013 407 2009 403 2008 398 2008M712 2125 703 2126 699 2129 696 2132 695 2141M514 2141 516 2128 528 2101 533 2079 536 2071 541 2062 554 2044 557 2035 557 2022 555 2013 552 2009 548 2006 544 2005 540 2005 535 2007 517 2023 509 2026 491 2027 487 2029 481 2035 478 2044 476 2057 473 2110 473 2141" fill="none" stroke="#d5446d" stroke-width="1" stroke-opacity="0.95"/>
<path d="M712 1888 703 1889 699 1891 694 1895 690 1903 688 1916 689 1925 694 1934 699 1937 703 1939 712 1940M398 1941 420 1939 434 1935 443 1929 446 1925 448 1920 448 1916 446 1911 439 1902 434 1898 425 1894 416 1891 398 1890M398 2044 411 2043 420 2040 423 2035 425 2031 425 2026 423 2017 420 2011 416 2005 411 2001 407 1999 398 1997M712 2048 707 2048 707 2053 712 2053M712 2119 703 2120 699 2121 694 2124 691 2128 690 2132 689 2141M521 2141 522 2128 535 2101 541 2075 546 2066 560 2048 563 2040 564 2022 562 2008 560 2004 556 2000 548 1996 544 1996 535 1997 531 2000 518 2013 513 2017 509 2018 491 2019 487 2020 482 2022 478 2025 474 2031 470 2044 471 2079 466 2115 464 2141M513 1902 504 1908 499 1916 499 1920 504 1926 513 1928 517 1928 526 1925 531 1920 533 1916 534 1911 532 1907 526 1902 522 1901 513 1902" fill="none" stroke="#f4675c" stroke-width="1" stroke-opacity="0.95"/>
<path d="M607 1827 608 1836 610 1839 615 1843 619 1844 623 1843 628 1840 630 1836 631 1827M698 1827 698 1832 699 1836 703 1840 707 1842 712 1842M712 1880 703 1881 699 1883 691 1889 688 1894 685 1901 683 1916 685 1929 690 1938 699 1944 703 1945 712 1946M398 1946 425 1945 438 1941 447 1936 456 1929 461 1925 463 1920 461 1916 454 1907 442 1896 434 1890 425 1886 416 1884 398 1883M712 2035 703 2036 699 2038 694 2042 692 2048 692 2053 693 2057 697 2062 703 2065 712 2066M398 2060 407 2062 409 2066 409 2075 411 2079 416 2080 425 2079 429 2077 434 2071 440 2053 442 2044 440 2035 435 2022 422 2000 416 1993 411 1990 407 1988 398 1988M712 2114 699 2115 694 2116 689 2119 686 2124 685 2128 684 2141M527 2141 527 2132 530 2124 543 2101 546 2084 549 2075 555 2066 567 2053 571 2044 572 2035 571 2009 569 2000 567 1995 561 1991 553 1988 531 1986 526 1987 522 1992 518 2000 513 2006 509 2008 504 2009 487 2011 479 2013 472 2017 465 2026 461 2035 461 2044 466 2066 467 2075 466 2084 464 2093 460 2106 456 2116 451 2122 447 2125 442 2126 425 2126 414 2128 406 2132 403 2137 402 2141M517 1888 509 1892 500 1898 485 1911 481 1916 479 1920 480 1925 484 1929 489 1933 495 1937 504 1940 509 1940 522 1938 531 1934 539 1929 544 1925 547 1920 548 1916 548 1911 546 1902 543 1898 539 1894 531 1889 522 1887 517 1888M619 2035 614 2040 613 2044 613 2048 616 2053 619 2054 623 2054 628 2048 628 2041 623 2035 619 2035" fill="none" stroke="#fd9a6a" stroke-width="1" stroke-opacity="0.95"/>
<path d="M597 1827 598 1836 601 1845 606 1849 610 1852 619 1854 628 1852 633 1849 636 1845 639 1836 640 1827M686 1827 687 1840 690 1846 693 1849 699 1854 703 1856 712 1857M712 1870 707 1870 699 1873 694 1875 689 1880 685 1886 682 1894 680 1902 679 1916 680 1929 683 1938 686 1942 694 1950 703 1953 712 1953M398 1953 425 1954 434 1953 442 1950 460 1940 464 1939 469 1940 473 1941 481 1947 489 1955 495 1973 503 1991 503 1995 497 2000 473 2004 469 2006 456 2015 451 2017 447 2016 442 2013 438 2009 425 1988 420 1983 411 1979 398 1977M712 2026 699 2028 692 2031 687 2035 685 2039 683 2048 685 2057 686 2062 690 2066 694 2070 699 2072 712 2073M712 2109 681 2111 678 2115 679 2141M532 2141 533 2132 535 2127 540 2119 547 2110 551 2101 554 2084 557 2075 562 2069 575 2057 579 2053 581 2048 582 2044 580 2022 583 2000 580 1991 577 1986 570 1982 562 1980 545 1978 540 1975 537 1973 533 1969 529 1955 529 1951 532 1947 552 1933 561 1925 563 1920 563 1916 559 1902 553 1892 546 1885 526 1874 517 1871 513 1872 509 1875 495 1889 482 1900 473 1904 469 1905 460 1901 438 1883 429 1879 411 1874 398 1873M615 2020 610 2023 605 2031 601 2040 600 2048 603 2057 607 2062 615 2066 623 2066 628 2064 632 2062 636 2057 639 2048 639 2040 637 2033 633 2026 628 2021 623 2019 619 2019 615 2020M451 2065 456 2064 460 2068 462 2079 460 2087 456 2096 447 2108 442 2110 438 2111 433 2110 428 2106 427 2101 429 2097 438 2088 441 2084 447 2071 451 2065M654 2092 650 2093 643 2097 640 2101 640 2106 641 2110 646 2114 650 2115 659 2114 676 2110 676 2106 672 2097 668 2094 663 2092 654 2092" fill="none" stroke="#fec68a" stroke-width="1" stroke-opacity="0.95"/>
<path d="M398.2 1827.1 584.1 1827.2 584.7 1836.1 585.9 1840.5 588.2 1844.9 592.5 1850.6 597.0 1854.4 605.8 1859.1 610.2 1860.5 619.0 1861.5 627.9 1860.3 632.3 1858.6 636.7 1856.0 641.1 1851.5 644.9 1844.9 646.4 1840.5 647.8 1827.2 676.7 1827.2 677.4 1840.5 679.9 1853.8 680.5 1862.6 673.5 1884.7 669.4 1902.4 668.5 1915.7 669.7 1929.0 673.7 1942.2 675.8 1946.6 680.9 1955.0 685.3 1959.7 689.7 1963.0 698.5 1966.7 711.8 1967.9 711.8 2004.2 711.8 2012.9 703.0 2013.5 694.1 2016.6 689.7 2019.5 683.2 2026.3 680.4 2030.7 676.9 2039.5 675.5 2048.4 675.6 2052.8 678.6 2066.1 685.3 2079.0 689.7 2083.6 694.1 2086.3 711.8 2086.9 711.8 2092.9 702.2 2092.6 694.1 2089.7 680.9 2087.1 654.4 2085.4 645.5 2086.4 641.1 2088.4 636.7 2092.5 634.3 2097.1 633.2 2101.5 633.3 2105.9 634.6 2110.3 637.2 2114.7 641.1 2118.8 645.5 2121.9 654.4 2126.1 658.8 2129.7 661.4 2136.9 661.6 2141.3 548.9 2141.3 550.0 2132.4 552.8 2126.2 562.9 2110.3 570.5 2086.3 574.5 2079.4 579.3 2074.6 588.1 2070.0 592.5 2069.3 597.0 2069.5 614.6 2073.7 623.5 2074.3 627.9 2073.7 632.3 2072.0 638.8 2066.1 643.4 2057.2 644.6 2052.8 645.3 2044.0 643.2 2030.7 639.5 2021.9 636.7 2017.4 632.5 2013.0 627.9 2009.7 623.5 2007.7 610.2 2004.5 605.8 2002.5 601.4 1998.6 592.9 1986.5 585.4 1977.6 563.5 1959.9 561.0 1955.5 561.0 1951.1 562.6 1946.6 573.2 1929.0 575.8 1920.1 576.0 1915.7 574.1 1906.8 567.9 1893.6 561.6 1883.9 552.8 1874.7 544.0 1868.9 526.3 1859.9 517.5 1858.1 513.0 1858.4 508.6 1859.5 499.8 1864.5 486.5 1876.3 477.7 1882.3 473.3 1884.0 468.9 1884.4 464.5 1883.3 460.0 1881.0 442.4 1868.5 433.5 1864.2 415.9 1858.7 398.2 1857.1 398.2 1827.1" fill="none" stroke="#fff" stroke-width="4.2" stroke-dasharray="4 3"/>
</g>
<text x="411.5" y="1869" font-size="36" text-anchor="start" fill="#fff" >(II)</text>
<text x="701" y="1867" font-size="32" text-anchor="end" fill="#fff" >t= 60min</text>
<clipPath id="clipl2"><rect x="728" y="1826" width="319.6" height="318.5"/></clipPath>
<g clip-path="url(#clipl2)"><g filter="url(#hmap)"><g shape-rendering="crispEdges" transform="translate(728 1826) scale(10.6533 10.6167)">
<path fill="#000000" d="M15 3h1v1h-1zm3 6h2v1h-2zm-16 3h3v1h-3zm0 1h2v1h-2zm14 9h2v1h-2zm0 1h2v1h-2zm9 2h1v1h-1z"/>
<path fill="#050505" d="M11 -1h3v1h-3zm5 0h15v1h-15zm-5 1h3v1h-3zm5 0h15v1h-15zm-4 1h6v1h-6zm8 0h5v1h-5zm8 0h3v1h-3zm-14 1h3v1h-3zm7 0h2v1h-2zm-7 1h1v1h-1zm7 0h1v1h-1zm-7 1h2v1h-2zm-2 4h1v1h-1zm7 0h2v1h-2zm-8 1h7v1h-7zm9 0h1v1h-1zm-10 1h11v1h-11zm-7 1h3v1h-3zm10 0h4v1h-4zm7 0h7v1h-7zm-21 1h3v1h-3zm15 0h3v1h-3zm7 0h10v1h-10zm-22 1h3v1h-3zm14 0h4v1h-4zm8 0h10v1h-10zm-9 1h3v1h-3zm0 1h2v1h-2zm-1 1h3v1h-3zm1 1h2v1h-2zm0 1h2v1h-2zm14 0h5v1h-5zm-2 1h7v1h-7zm-2 1h6v1h-6zm-7 1h1v1h-1zm6 0h3v1h-3zm5 0h5v1h-5zm-11 1h1v1h-1zm3 0h1v1h-1zm3 0h3v1h-3zm6 0h4v1h-4zm-9 1h2v1h-2zm5 0h8v1h-8zm0 1h4v1h-4zm-2 1h4v1h-4zm5 0h1v1h-1zm-5 1h5v1h-5zm0 1h3v1h-3zm0 1h3v1h-3zm0 1h3v1h-3zm0 1h3v1h-3z"/>
<path fill="#0b0b0b" d="M14 -1h2v1h-2zm0 1h2v1h-2zm-3 1h1v1h-1zm7 0h2v1h-2zm7 0h3v1h-3zm-12 1h1v1h-1zm4 0h1v1h-1zm2 0h2v1h-2zm4 0h8v1h-8zm-10 1h1v1h-1zm3 0h1v1h-1zm4 0h1v1h-1zm2 0h1v1h-1zm-1 1h1v1h-1zm-7 1h1v1h-1zm7 0h1v1h-1zm-7 2h1v1h-1zm6 0h2v1h-2zm-9 1h1v1h-1zm2 0h6v1h-6zm8 0h1v1h-1zm-11 1h1v1h-1zm11 0h1v1h-1zm-13 1h2v1h-2zm13 0h2v1h-2zm3 0h3v1h-3zm-22 1h1v1h-1zm4 0h7v1h-7zm11 0h3v1h-3zm10 0h1v1h-1zm-15 1h2v1h-2zm5 0h4v1h-4zm-5 1h1v1h-1zm5 0h1v1h-1zm3 0h1v1h-1zm-21 1h4v1h-4zm16 0h1v1h-1zm8 0h8v1h-8zm-12 1h1v1h-1zm3 0h1v1h-1zm11 0h6v1h-6zm-11 1h1v1h-1zm11 0h6v1h-6zm-14 1h1v1h-1zm3 0h1v1h-1zm10 0h7v1h-7zm-10 1h1v1h-1zm9 0h3v1h-3zm-11 1h3v1h-3zm10 0h2v1h-2zm-8 1h2v1h-2zm7 0h1v1h-1zm7 0h3v1h-3zm-12 1h1v1h-1zm4 0h1v1h-1zm4 0h2v1h-2zm-5 1h2v1h-2zm5 0h3v1h-3zm-4 1h3v1h-3zm1 1h2v1h-2zm6 0h1v1h-1zm-1 2h1v1h-1zm-2 1h1v1h-1zm-4 1h1v1h-1zm0 1h1v1h-1zm0 1h1v1h-1z"/>
<path fill="#101010" d="M10 -1h1v1h-1zm0 1h1v1h-1zm2 2h1v1h-1zm6 0h1v1h-1zm-1 1h1v1h-1zm11 0h3v1h-3zm-15 1h1v1h-1zm3 0h1v1h-1zm4 0h1v1h-1zm-5 1h1v1h-1zm5 0h1v1h-1zm-6 1h1v1h-1zm6 0h2v1h-2zm-7 1h1v1h-1zm2 0h1v1h-1zm10 2h1v1h-1zm-19 1h2v1h-2zm17 0h1v1h-1zm5 1h3v1h-3zm-23 1h1v1h-1zm6 0h1v1h-1zm-7 1h1v1h-1zm7 0h1v1h-1zm7 0h2v1h-2zm-15 1h1v1h-1zm8 0h1v1h-1zm5 0h1v1h-1zm5 0h2v1h-2zm-22 1h2v1h-2zm16 0h1v1h-1zm8 0h2v1h-2zm1 1h1v1h-1zm-1 1h1v1h-1zm-12 1h1v1h-1zm4 0h1v1h-1zm7 0h1v1h-1zm-7 1h1v1h-1zm6 0h1v1h-1zm-8 1h1v1h-1zm1 1h1v1h-1zm3 0h1v1h-1zm-2 2h1v1h-1zm5 1h1v1h-1zm8 0h3v1h-3zm-8 1h1v1h-1zm7 0h1v1h-1zm-7 2h1v1h-1zm5 0h1v1h-1zm-1 1h1v1h-1zm-5 1h1v1h-1zm5 0h1v1h-1zm-5 1h1v1h-1zm5 0h1v1h-1z"/>
<path fill="#161616" d="M10 1h1v1h-1zm8 2h2v1h-2zm5 0h1v1h-1zm3 0h2v1h-2zm-13 2h1v1h-1zm0 1h1v1h-1zm2 0h1v1h-1zm-3 1h1v1h-1zm4 0h1v1h-1zm3 0h1v1h-1zm-9 1h1v1h-1zm-1 1h1v1h-1zm13 0h1v1h-1zm4 0h1v1h-1zm-21 1h1v1h-1zm22 0h1v1h-1zm-28 1h3v1h-3zm11 1h1v1h-1zm7 2h1v1h-1zm3 0h1v1h-1zm-19 1h1v1h-1zm9 0h1v1h-1zm12 0h1v1h-1zm-12 1h1v1h-1zm5 0h1v1h-1zm8 0h1v1h-1zm-8 1h1v1h-1zm7 0h1v1h-1zm-10 3h1v1h-1zm4 0h1v1h-1zm4 0h1v1h-1zm-7 1h1v1h-1zm5 0h2v1h-2zm-4 1h1v1h-1zm5 2h1v1h-1zm1 2h1v1h-1zm-1 2h1v1h-1z"/>
<path fill="#1b1b1b" d="M11 2h1v1h-1zm13 1h2v1h-2zm-2 1h1v1h-1zm6 0h3v1h-3zm-12 1h1v1h-1zm-5 2h1v1h-1zm12 2h2v1h-2zm-19 1h1v1h-1zm2 2h1v1h-1zm12 2h2v1h-2zm-16 1h1v1h-1zm14 0h1v1h-1zm5 0h1v1h-1zm-22 1h2v1h-2zm23 0h1v1h-1zm-1 2h1v1h-1zm-5 1h1v1h-1zm1 5h2v1h-2zm10 2h1v1h-1zm-9 3h1v1h-1zm0 1h1v1h-1z"/>
<path fill="#212121" d="M12 3h1v1h-1zm5 1h1v1h-1zm2 0h1v1h-1zm8 0h1v1h-1zm-15 2h1v1h-1zm4 0h1v1h-1zm1 1h2v1h-2zm5 1h1v1h-1zm4 0h1v1h-1zm-19 1h2v1h-2zm21 1h1v1h-1zm-19 2h1v1h-1zm-4 1h1v1h-1zm5 0h1v1h-1zm-6 1h1v1h-1zm6 0h1v1h-1zm-9 2h1v1h-1zm15 0h1v1h-1zm-6 1h1v1h-1zm11 0h1v1h-1zm-5 1h1v1h-1zm-5 1h1v1h-1zm9 0h1v1h-1zm-3 1h1v1h-1zm-3 3h1v1h-1zm2 1h1v1h-1zm12 1h1v1h-1zm-2 2h1v1h-1zm-1 1h1v1h-1z"/>
<path fill="#262626" d="M9 -1h1v1h-1zm0 1h1v1h-1zm0 1h1v1h-1zm1 1h1v1h-1zm2 2h1v1h-1zm14 0h1v1h-1zm-14 1h1v1h-1zm7 0h1v1h-1zm3 0h1v1h-1zm-3 1h1v1h-1zm-10 2h1v1h-1zm16 0h1v1h-1zm-19 1h1v1h-1zm21 0h1v1h-1zm-24 1h1v1h-1zm26 0h2v1h-2zm-22 2h2v1h-2zm-4 3h1v1h-1zm14 0h1v1h-1zm3 0h1v1h-1zm1 1h1v1h-1zm-5 1h1v1h-1zm3 3h1v1h-1zm-7 1h1v1h-1zm1 1h1v1h-1zm6 3h1v1h-1zm10 0h2v1h-2zm-10 2h1v1h-1zm-1 1h1v1h-1zm7 1h1v1h-1zm0 1h1v1h-1z"/>
<path fill="#2b2b2b" d="M18 4h1v1h-1zm5 0h1v1h-1zm5 1h3v1h-3zm-18 2h1v1h-1zm12 0h1v1h-1zm-17 2h1v1h-1zm4 6h1v1h-1zm9 0h2v1h-2zm-16 1h1v1h-1zm7 0h1v1h-1zm-4 2h1v1h-1zm15 0h1v1h-1zm-3 1h1v1h-1zm1 1h1v1h-1zm1 6h1v1h-1zm8 1h1v1h-1zm-28 1h2v1h-2zm0 1h2v1h-2zm18 0h1v1h-1zm-18 1h2v1h-2zm18 0h1v1h-1z"/>
<path fill="#313131" d="M9 2h1v1h-1zm2 1h1v1h-1zm14 1h1v1h-1zm-8 1h1v1h-1zm10 0h1v1h-1zm-16 1h1v1h-1zm6 0h1v1h-1zm5 0h1v1h-1zm4 1h1v1h-1zm-3 1h2v1h-2zm4 0h1v1h-1zm-25 2h1v1h-1zm7 3h1v1h-1zm8 3h1v1h-1zm3 0h1v1h-1zm-21 1h3v1h-3zm6 0h1v1h-1zm15 0h1v1h-1zm-14 1h1v1h-1zm4 0h1v1h-1zm-5 1h1v1h-1zm14 0h1v1h-1zm-8 1h1v1h-1zm4 4h1v1h-1zm13 2h1v1h-1zm-29 1h3v1h-3zm2 1h1v1h-1zm25 0h1v1h-1zm-25 1h1v1h-1zm10 0h1v1h-1zm-10 1h1v1h-1zm10 0h1v1h-1z"/>
<path fill="#363636" d="M3 3h1v1h-1zm0 1h3v1h-3zm21 0h1v1h-1zm-6 1h1v1h-1zm8 0h1v1h-1zm-8 1h1v1h-1zm9 0h1v1h-1zm-18 1h1v1h-1zm18 0h1v1h-1zm-20 1h2v1h-2zm21 1h1v1h-1zm-22 4h1v1h-1zm-1 1h1v1h-1zm4 0h1v1h-1zm-5 1h1v1h-1zm-1 1h1v1h-1zm15 0h2v1h-2zm-12 1h1v1h-1zm11 0h1v1h-1zm-13 1h1v1h-1zm13 0h1v1h-1zm-13 1h1v1h-1zm14 0h1v1h-1zm-19 2h3v1h-3zm13 1h1v1h-1zm1 1h1v1h-1zm5 2h1v1h-1zm-19 1h4v1h-4zm30 0h2v1h-2zm-27 1h1v1h-1zm26 0h1v1h-1zm-26 1h1v1h-1zm9 0h1v1h-1zm6 0h1v1h-1zm10 0h1v1h-1zm-25 1h1v1h-1zm24 0h1v1h-1zm-24 1h1v1h-1zm24 0h1v1h-1z"/>
<path fill="#3c3c3c" d="M8 -1h1v1h-1zm0 1h1v1h-1zm0 1h1v1h-1zm0 1h1v1h-1zm-6 1h1v1h-1zm2 0h1v1h-1zm5 0h2v1h-2zm-7 1h1v1h-1zm4 0h1v1h-1zm5 0h1v1h-1zm-7 1h3v1h-3zm7 0h1v1h-1zm-1 1h1v1h-1zm16 0h1v1h-1zm2 0h3v1h-3zm-3 1h1v1h-1zm-19 1h1v1h-1zm-2 1h1v1h-1zm-3 1h1v1h-1zm7 3h1v1h-1zm-3 2h1v1h-1zm3 0h1v1h-1zm-4 1h3v1h-3zm4 0h1v1h-1zm-6 1h1v1h-1zm2 0h1v1h-1zm5 0h1v1h-1zm10 0h1v1h-1zm-20 1h2v1h-2zm20 0h1v1h-1zm-13 1h1v1h-1zm-7 1h4v1h-4zm5 0h2v1h-2zm-2 1h1v1h-1zm-3 1h3v1h-3zm15 2h1v1h-1zm-15 1h4v1h-4zm4 1h1v1h-1zm0 1h1v1h-1zm15 0h1v1h-1zm11 0h2v1h-2zm-26 1h1v1h-1zm9 0h1v1h-1zm16 0h1v1h-1zm-16 1h1v1h-1zm4 0h1v1h-1zm11 0h1v1h-1zm-15 1h1v1h-1zm4 0h1v1h-1zm11 0h1v1h-1z"/>
<path fill="#414141" d="M-1 2h4v1h-4zm0 1h3v1h-3zm6 0h4v1h-4zm-4 1h1v1h-1zm6 0h2v1h-2zm-4 1h1v1h-1zm4 0h1v1h-1zm-2 1h3v1h-3zm4 0h1v1h-1zm-3 1h3v1h-3zm-1 1h1v1h-1zm24 1h2v1h-2zm-30 1h2v1h-2zm8 3h1v1h-1zm0 3h1v1h-1zm-4 1h1v1h-1zm4 0h1v1h-1zm11 0h1v1h-1zm-17 1h3v1h-3zm17 0h1v1h-1zm-19 1h5v1h-5zm4 1h1v1h-1zm0 1h2v1h-2zm8 0h1v1h-1zm-9 1h2v1h-2zm-3 1h4v1h-4zm0 1h4v1h-4zm4 1h1v1h-1zm8 2h1v1h-1zm-7 1h1v1h-1zm25 0h2v1h-2zm-26 1h2v1h-2zm7 0h1v1h-1zm18 0h3v1h-3zm-25 1h2v1h-2zm7 0h1v1h-1zm18 0h3v1h-3z"/>
<path fill="#474747" d="M-1 -1h3v1h-3zm0 1h3v1h-3zm0 1h3v1h-3zm4 1h1v1h-1zm-4 2h2v1h-2zm10 0h2v1h-2zm-7 1h1v1h-1zm6 0h3v1h-3zm15 0h1v1h-1zm2 0h1v1h-1zm-17 1h1v1h-1zm-3 1h1v1h-1zm18 0h1v1h-1zm5 0h1v1h-1zm0 1h1v1h-1zm-22 6h1v1h-1zm2 0h1v1h-1zm-2 1h2v1h-2zm2 2h1v1h-1zm2 2h1v1h-1zm-6 3h1v1h-1zm-1 1h2v1h-2zm9 0h1v1h-1zm-9 1h2v1h-2zm10 0h1v1h-1zm-9 1h1v1h-1zm13 0h1v1h-1zm-13 1h1v1h-1zm14 0h1v1h-1zm-14 1h1v1h-1zm8 0h1v1h-1zm-7 1h1v1h-1zm5 0h1v1h-1zm6 0h1v1h-1zm-11 1h1v1h-1zm8 0h1v1h-1zm2 0h1v1h-1zm-10 1h1v1h-1zm8 0h1v1h-1zm2 0h1v1h-1z"/>
<path fill="#4c4c4c" d="M2 1h1v1h-1zm2 1h1v1h-1zm3 0h1v1h-1zm-3 4h1v1h-1zm21 0h1v1h-1zm-1 1h1v1h-1zm5 0h2v1h-2zm0 1h2v1h-2zm-26 1h1v1h-1zm4 5h1v1h-1zm0 4h1v1h-1zm-2 3h1v1h-1zm6 5h1v1h-1zm-6 1h1v1h-1zm5 0h1v1h-1zm7 0h1v1h-1zm-4 1h1v1h-1zm-7 1h1v1h-1zm8 0h1v1h-1zm-8 1h1v1h-1zm8 0h1v1h-1z"/>
<path fill="#515151" d="M2 -1h1v1h-1zm0 1h1v1h-1zm1 1h1v1h-1zm4 0h1v1h-1zm-2 1h2v1h-2zm-6 3h3v1h-3zm25 0h1v1h-1zm-21 1h1v1h-1zm1 1h1v1h-1zm0 1h1v1h-1zm5 10h1v1h-1zm-3 2h1v1h-1zm-1 2h1v1h-1zm0 1h1v1h-1zm0 1h1v1h-1zm7 0h1v1h-1zm-7 1h1v1h-1zm11 0h1v1h-1zm-11 1h1v1h-1zm7 0h1v1h-1zm-6 2h1v1h-1zm8 0h2v1h-2z"/>
<path fill="#575757" d="M7 -1h1v1h-1zm0 1h1v1h-1zm16 6h1v1h-1zm-13 14h1v1h-1zm1 2h1v1h-1zm1 3h4v1h-4zm-6 2h1v1h-1zm7 0h1v1h-1zm-4 2h1v1h-1zm0 1h1v1h-1z"/>
<path fill="#5c5c5c" d="M3 -1h1v1h-1zm0 1h1v1h-1zm1 1h1v1h-1zm-2 5h1v1h-1zm22 0h1v1h-1zm-22 3h1v1h-1zm6 9h1v1h-1zm3 7h1v1h-1zm-1 1h1v1h-1zm3 0h1v1h-1zm4 0h1v1h-1zm-1 1h1v1h-1zm-7 1h1v1h-1zm-2 1h1v1h-1zm0 1h1v1h-1z"/>
<path fill="#626262" d="M5 1h2v1h-2zm-2 6h1v1h-1zm0 1h1v1h-1zm4 11h1v1h-1zm4 4h1v1h-1zm0 1h1v1h-1zm-5 2h1v1h-1zm3 1h1v1h-1zm5 0h2v1h-2zm-7 1h1v1h-1z"/>
<path fill="#676767" d="M4 -1h1v1h-1zm2 0h1v1h-1zm-2 1h1v1h-1zm2 0h1v1h-1zm-7 6h3v1h-3zm7 15h1v1h-1zm8 5h1v1h-1zm2 0h1v1h-1zm-9 1h1v1h-1zm1 1h1v1h-1zm0 1h1v1h-1zm0 1h1v1h-1z"/>
<path fill="#6d6d6d" d="M5 -1h1v1h-1zm0 1h1v1h-1zm-4 9h1v1h-1zm8 10h1v1h-1zm1 2h1v1h-1zm-4 1h1v1h-1zm0 2h1v1h-1zm0 1h1v1h-1zm9 1h1v1h-1z"/>
<path fill="#727272" d="M2 7h1v1h-1zm-3 2h2v1h-2zm7 14h1v1h-1zm4 2h1v1h-1zm-2 2h1v1h-1z"/>
<path fill="#777777" d="M2 8h1v1h-1zm6 11h1v1h-1zm-1 1h1v1h-1zm0 6h1v1h-1zm2 0h1v1h-1z"/>
<path fill="#7d7d7d" d="M1 7h1v1h-1z"/>
<path fill="#828282" d="M-1 7h2v1h-2zm11 15h1v1h-1zm-2 4h1v1h-1z"/>
<path fill="#888888" d="M1 8h1v1h-1zm8 12h1v1h-1zm1 4h1v1h-1zm-3 1h1v1h-1z"/>
<path fill="#8d8d8d" d="M-1 8h2v1h-2zm8 13h1v1h-1zm3 2h1v1h-1zm-1 2h1v1h-1z"/>
<path fill="#929292" d="M8 20h1v1h-1z"/>
<path fill="#989898" d="M7 24h1v1h-1zm1 1h1v1h-1z"/>
<path fill="#9d9d9d" d="M9 21h1v1h-1zm-2 1h1v1h-1zm0 1h1v1h-1z"/>
<path fill="#a8a8a8" d="M8 21h1v1h-1zm1 3h1v1h-1z"/>
<path fill="#aeaeae" d="M9 22h1v1h-1z"/>
<path fill="#b3b3b3" d="M9 23h1v1h-1zm-1 1h1v1h-1z"/>
<path fill="#b8b8b8" d="M8 22h1v1h-1z"/>
<path fill="#bebebe" d="M8 23h1v1h-1z"/>
</g></g>
<path d="M819 2071 820 2076 823 2077 824 2072 823 2070 819 2071" fill="none" stroke="#7c2382" stroke-width="1" stroke-opacity="0.95"/>
<path d="M819 2049 815 2052 811 2058 809 2063 808 2072 810 2085 815 2092 819 2094 823 2094 830 2089 833 2085 835 2076 833 2063 828 2054 823 2049 819 2049" fill="none" stroke="#aa337d" stroke-width="1" stroke-opacity="0.95"/>
<path d="M730 1923 739 1922 744 1921 749 1917 750 1912 746 1908 744 1906 739 1905 730 1904M819 2035 812 2041 806 2050 803 2058 801 2072 802 2085 806 2098 810 2104 815 2107 819 2108 823 2107 828 2104 837 2094 842 2085 843 2076 840 2063 832 2046 828 2039 824 2036 819 2035" fill="none" stroke="#d5446d" stroke-width="1" stroke-opacity="0.95"/>
<path d="M770 1828 770 1833 773 1837 775 1839 779 1842 788 1845 792 1845 797 1843 799 1841 802 1837 803 1828M730 1931 744 1930 756 1926 762 1921 766 1917 768 1912 768 1908 765 1903 757 1897 744 1893 730 1892M825 2142 826 2133 830 2120 836 2111 850 2094 852 2089 852 2080 847 2063 832 2032 828 2026 823 2023 819 2023 815 2025 810 2030 800 2045 796 2054 793 2067 793 2089 794 2102 797 2111 807 2129 809 2133 810 2142M877 2102 874 2107 875 2111 878 2116 886 2120 890 2121 899 2119 905 2116 909 2111 910 2107 903 2102 886 2100 877 2102" fill="none" stroke="#f4675c" stroke-width="1" stroke-opacity="0.95"/>
<path d="M1045 1898 1037 1898 1032 1900 1028 1903 1027 1908 1029 1917 1032 1922 1037 1925 1045 1926M730 1937 748 1936 765 1930 781 1921 797 1909 815 1908 819 1907 841 1891 846 1886 847 1881 847 1877 846 1872 841 1868 832 1866 819 1865 817 1864 817 1828M1045 2125 1041 2126 1037 2129 1029 2138 1028 2142M841 2142 842 2129 846 2122 850 2119 855 2119 860 2125 865 2133 866 2142M901 2142 902 2138 904 2133 908 2129 921 2119 926 2113 928 2107 927 2102 921 2098 912 2095 888 2089 878 2085 871 2080 863 2072 855 2060 850 2052 838 2027 832 2018 823 2009 819 2007 815 2006 810 2007 802 2027 797 2035 792 2040 783 2046 770 2050 766 2054 757 2066 739 2080 742 2085 761 2095 767 2102 768 2107 769 2116 768 2142M744 1858 752 1856 766 1857 792 1865 805 1868 810 1872 807 1881 801 1889 797 1892 792 1892 763 1881 748 1872 743 1868 740 1864 741 1859 744 1858M979 1880 974 1886 972 1895 973 1903 976 1908 979 1910 983 1912 992 1909 1001 1903 1005 1899 1008 1895 1008 1890 1005 1886 1001 1881 992 1878 988 1877 983 1878 979 1880M810 1969 806 1970 801 1972 797 1976 790 1987 788 1992 788 1996 792 1998 806 1999 810 1998 815 1993 821 1983 823 1979 822 1974 817 1970 810 1969M930 2009 926 2010 924 2014 923 2018 926 2024 930 2024 931 2023 933 2018 934 2014 930 2009M761 2013 744 2024 736 2027 737 2032 752 2039 761 2041 766 2038 768 2018 768 2014 766 2012 761 2013" fill="none" stroke="#fd9a6a" stroke-width="1" stroke-opacity="0.95"/>
<path d="M1045 1880 1028 1878 1001 1868 992 1867 983 1868 975 1872 970 1877 966 1886 964 1895 965 1903 967 1912 970 1917 974 1922 979 1924 983 1924 988 1922 1001 1916 1005 1915 1010 1915 1014 1918 1023 1930 1028 1934 1037 1938 1045 1938M730 1944 748 1942 792 1929 819 1925 828 1920 841 1908 855 1899 860 1895 862 1890 863 1881 861 1868 858 1864 854 1859 839 1850 834 1846 831 1841 830 1837 829 1828M1045 2096 1037 2097 1032 2099 1017 2116 1005 2125 1002 2129 1000 2133 999 2142M919 2142 919 2138 921 2133 934 2120 937 2116 939 2107 939 2102 937 2098 934 2094 926 2090 899 2085 888 2080 882 2076 859 2050 850 2035 833 2001 833 1996 833 1992 838 1979 838 1974 837 1969 832 1963 828 1961 819 1958 806 1959 798 1961 791 1965 779 1979 770 1986 744 2003 739 2004 730 2005M921 1871 917 1874 909 1881 906 1890 906 1895 909 1899 914 1903 921 1905 926 1905 930 1903 935 1899 937 1895 938 1886 935 1877 931 1872 926 1871 921 1871M921 1987 912 1993 906 2001 904 2010 904 2018 908 2032 913 2041 921 2046 926 2047 930 2047 934 2045 939 2041 946 2032 955 2014 957 2005 957 2001 954 1996 949 1992 939 1987 930 1985 921 1987" fill="none" stroke="#fec68a" stroke-width="1" stroke-opacity="0.95"/>
<path d="M850.1 1828.2 1045.5 1828.2 1045.4 1860.7 1032.1 1859.9 1005.4 1855.0 996.6 1854.3 987.7 1854.8 978.8 1856.9 974.4 1858.9 967.1 1863.6 956.6 1872.4 952.2 1874.5 947.7 1873.2 934.4 1863.4 930.0 1861.8 925.5 1861.6 921.1 1862.6 912.2 1867.6 896.5 1881.3 891.9 1885.7 890.0 1888.9 888.1 1890.1 890.2 1894.6 900.1 1903.4 908.1 1907.8 916.7 1910.6 925.5 1911.4 930.0 1910.9 943.3 1906.2 947.7 1905.5 952.2 1907.7 965.5 1926.7 969.9 1930.8 974.4 1933.5 983.2 1936.0 1001.0 1936.0 1005.4 1936.8 1009.9 1938.4 1023.2 1945.4 1032.1 1948.8 1045.4 1950.2 1045.4 2085.9 1036.5 2086.5 1032.1 2087.5 1023.2 2092.1 998.7 2115.7 995.0 2120.2 990.4 2129.0 989.3 2133.4 988.8 2142.3 942.1 2142.3 942.8 2133.4 948.0 2115.7 949.1 2106.9 947.7 2098.1 943.3 2089.5 938.7 2084.8 930.0 2079.2 907.8 2071.9 899.9 2067.1 894.5 2061.0 883.9 2045.0 863.4 2022.6 854.5 2009.7 852.4 2005.2 849.7 1996.3 849.6 1978.6 848.6 1969.8 844.2 1960.9 840.6 1956.5 831.2 1947.6 828.6 1943.2 829.7 1938.8 837.2 1930.0 845.6 1921.8 870.7 1903.4 880.3 1894.6 881.1 1892.2 883.1 1890.1 881.1 1887.4 867.7 1859.2 863.4 1853.1 852.9 1841.5 850.3 1837.1 848.9 1828.2 850.1 1828.2M770.2 1952.1 774.6 1954.3 775.7 1956.5 774.2 1960.9 771.3 1965.3 765.7 1971.1 761.3 1974.4 748.0 1980.7 739.1 1983.3 730.2 1983.9 730.2 1959.2 743.5 1958.1 765.7 1952.4 770.2 1952.1M921.1 1973.4 912.2 1977.5 907.8 1980.4 899.7 1987.5 896.1 1991.9 893.4 1996.3 890.5 2005.2 889.4 2014.0 889.7 2022.9 891.4 2031.7 893.1 2036.1 895.8 2040.5 899.8 2045.0 907.8 2051.4 916.7 2056.4 925.5 2058.5 930.0 2058.2 934.4 2056.9 943.3 2051.4 954.5 2040.5 962.1 2031.7 968.3 2022.9 973.0 2014.0 975.6 2005.2 975.7 2000.7 974.4 1996.3 971.7 1991.9 967.2 1987.5 952.5 1978.6 943.3 1974.7 934.4 1972.3 925.5 1972.3 921.1 1973.4" fill="none" stroke="#fff" stroke-width="4.2" stroke-dasharray="4 3"/>
</g>
<text x="743.5" y="1870" font-size="36" text-anchor="start" fill="#fff" >(III)</text>
<text x="1034.6" y="1868" font-size="32" text-anchor="end" fill="#fff" >t=90 min</text>
<clipPath id="clipl3"><rect x="1064" y="1826" width="319" height="317"/></clipPath>
<g clip-path="url(#clipl3)"><g filter="url(#hmap)"><g shape-rendering="crispEdges" transform="translate(1064 1826) scale(10.6333 10.5667)">
<path fill="#000000" d="M7 -1h1v1h-1zm17 0h2v1h-2zm-17 1h1v1h-1zm17 0h2v1h-2zm-17 1h1v1h-1zm17 0h2v1h-2zm-17 1h1v1h-1zm7 0h1v1h-1zm10 0h2v1h-2zm-17 1h1v1h-1zm7 0h1v1h-1zm10 0h2v1h-2zm-10 1h1v1h-1zm11 0h1v1h-1zm0 1h1v1h-1zm0 1h1v1h-1zm-11 1h3v1h-3zm10 2h1v1h-1zm-20 2h2v1h-2zm0 1h2v1h-2zm24 0h3v1h-3zm-24 1h2v1h-2zm0 1h2v1h-2zm21 7h1v1h-1zm-7 1h3v1h-3zm7 0h1v1h-1zm-1 1h2v1h-2zm0 1h2v1h-2zm0 1h2v1h-2z"/>
<path fill="#050505" d="M6 -1h1v1h-1zm2 0h1v1h-1zm6 0h3v1h-3zm4 0h3v1h-3zm-12 1h1v1h-1zm2 0h1v1h-1zm6 0h3v1h-3zm4 0h3v1h-3zm-12 1h1v1h-1zm2 0h1v1h-1zm6 0h3v1h-3zm4 0h3v1h-3zm-12 1h1v1h-1zm9 0h2v1h-2zm3 0h3v1h-3zm-12 1h1v1h-1zm9 0h1v1h-1zm3 0h3v1h-3zm-12 1h2v1h-2zm9 0h1v1h-1zm4 0h2v1h-2zm5 0h1v1h-1zm-18 1h2v1h-2zm8 0h2v1h-2zm5 0h2v1h-2zm-13 1h1v1h-1zm8 0h3v1h-3zm4 0h3v1h-3zm-12 1h2v1h-2zm7 0h1v1h-1zm4 0h4v1h-4zm8 0h1v1h-1zm-19 1h3v1h-3zm6 0h10v1h-10zm12 0h2v1h-2zm-18 1h1v1h-1zm4 0h2v1h-2zm11 0h3v1h-3zm4 0h1v1h-1zm-21 1h2v1h-2zm6 0h2v1h-2zm11 0h5v1h-5zm0 1h2v1h-2zm5 0h5v1h-5zm-6 1h2v1h-2zm6 0h2v1h-2zm-7 1h2v1h-2zm7 0h5v1h-5zm0 1h2v1h-2zm-22 1h2v1h-2zm7 0h1v1h-1zm-12 1h2v1h-2zm4 0h3v1h-3zm8 0h4v1h-4zm-7 1h3v1h-3zm7 0h4v1h-4zm15 0h1v1h-1zm-21 1h9v1h-9zm21 0h3v1h-3zm-1 1h2v1h-2zm-1 1h2v1h-2zm-10 1h8v1h-8zm9 0h2v1h-2zm-9 1h4v1h-4zm7 0h1v1h-1zm3 0h1v1h-1zm-10 1h8v1h-8zm0 1h3v1h-3zm5 0h2v1h-2zm4 0h1v1h-1zm-9 1h7v1h-7zm9 0h1v1h-1zm-9 1h2v1h-2zm5 0h3v1h-3zm5 0h2v1h-2zm-3 1h1v1h-1zm5 1h1v1h-1zm0 1h1v1h-1zm0 1h1v1h-1z"/>
<path fill="#0b0b0b" d="M9 -1h1v1h-1zm4 0h1v1h-1zm4 0h1v1h-1zm4 0h3v1h-3zm-12 1h1v1h-1zm4 0h1v1h-1zm4 0h1v1h-1zm4 0h3v1h-3zm-8 1h1v1h-1zm4 0h1v1h-1zm4 0h3v1h-3zm-13 1h1v1h-1zm5 0h1v1h-1zm4 0h1v1h-1zm4 0h3v1h-3zm-13 1h1v1h-1zm5 0h1v1h-1zm3 0h2v1h-2zm5 0h3v1h-3zm-8 1h1v1h-1zm3 0h3v1h-3zm5 0h1v1h-1zm-8 1h1v1h-1zm3 0h3v1h-3zm5 0h1v1h-1zm3 0h1v1h-1zm-17 1h1v1h-1zm6 0h1v1h-1zm4 0h1v1h-1zm4 0h1v1h-1zm-13 1h1v1h-1zm4 0h1v1h-1zm9 0h1v1h-1zm3 0h1v1h-1zm2 0h1v1h-1zm-17 1h3v1h-3zm13 0h2v1h-2zm4 0h1v1h-1zm-21 1h1v1h-1zm2 0h3v1h-3zm5 0h1v1h-1zm7 0h2v1h-2zm7 0h1v1h-1zm-20 1h1v1h-1zm14 0h1v1h-1zm6 0h2v1h-2zm-20 1h1v1h-1zm4 0h2v1h-2zm10 0h1v1h-1zm3 0h3v1h-3zm-17 1h1v1h-1zm4 0h2v1h-2zm9 0h1v1h-1zm-16 1h1v1h-1zm3 0h1v1h-1zm4 0h2v1h-2zm8 0h1v1h-1zm3 0h1v1h-1zm-18 1h1v1h-1zm3 0h1v1h-1zm4 0h2v1h-2zm9 0h2v1h-2zm-16 1h1v1h-1zm3 0h1v1h-1zm4 0h1v1h-1zm2 0h1v1h-1zm14 0h2v1h-2zm-25 1h2v1h-2zm5 0h2v1h-2zm4 0h1v1h-1zm5 0h1v1h-1zm11 0h2v1h-2zm-23 1h1v1h-1zm4 0h4v1h-4zm20 0h1v1h-1zm-23 1h1v1h-1zm10 0h1v1h-1zm11 0h1v1h-1zm4 0h2v1h-2zm-20 1h6v1h-6zm15 0h1v1h-1zm3 0h1v1h-1zm-15 1h4v1h-4zm10 0h2v1h-2zm4 0h1v1h-1zm-13 1h1v1h-1zm9 0h1v1h-1zm4 0h1v1h-1zm-13 1h1v1h-1zm9 0h2v1h-2zm4 0h1v1h-1zm-13 1h1v1h-1zm9 0h2v1h-2zm-9 1h1v1h-1zm4 0h2v1h-2zm4 0h2v1h-2zm-8 1h1v1h-1zm8 0h2v1h-2zm5 0h1v1h-1zm-10 1h3v1h-3zm6 0h2v1h-2zm4 0h1v1h-1zm-6 1h1v1h-1zm2 0h1v1h-1zm3 0h2v1h-2zm-5 1h2v1h-2zm5 0h1v1h-1zm2 0h1v1h-1zm-7 1h2v1h-2zm7 0h1v1h-1zm-7 1h2v1h-2zm7 0h1v1h-1z"/>
<path fill="#101010" d="M12 -1h1v1h-1zm14 0h1v1h-1zm-14 1h1v1h-1zm14 0h1v1h-1zm-17 1h1v1h-1zm17 0h1v1h-1zm0 1h1v1h-1zm-18 2h1v1h-1zm14 0h2v1h-2zm4 0h1v1h-1zm0 1h1v1h-1zm-2 1h1v1h-1zm2 0h1v1h-1zm-21 1h1v1h-1zm4 0h1v1h-1zm2 0h1v1h-1zm11 0h1v1h-1zm-17 1h1v1h-1zm-1 1h1v1h-1zm9 0h1v1h-1zm5 0h1v1h-1zm-11 1h3v1h-3zm5 0h1v1h-1zm7 0h1v1h-1zm9 0h1v1h-1zm-25 1h1v1h-1zm16 0h1v1h-1zm-16 1h1v1h-1zm19 0h1v1h-1zm3 0h1v1h-1zm-9 2h3v1h-3zm12 0h3v1h-3zm-27 1h2v1h-2zm6 0h1v1h-1zm6 0h4v1h-4zm-5 1h2v1h-2zm-6 1h1v1h-1zm13 0h1v1h-1zm10 0h1v1h-1zm3 0h3v1h-3zm-13 1h1v1h-1zm-10 1h4v1h-4zm10 0h1v1h-1zm8 0h1v1h-1zm5 0h3v1h-3zm-17 1h1v1h-1zm5 0h1v1h-1zm5 0h1v1h-1zm-9 1h1v1h-1zm0 1h1v1h-1zm14 1h1v1h-1zm0 1h1v1h-1zm-13 2h1v1h-1zm1 1h6v1h-6zm9 0h2v1h-2zm-1 1h1v1h-1zm3 1h1v1h-1zm3 0h3v1h-3zm-3 1h1v1h-1zm3 0h3v1h-3z"/>
<path fill="#161616" d="M5 -1h1v1h-1zm5 0h2v1h-2zm-5 1h1v1h-1zm5 0h2v1h-2zm-5 1h1v1h-1zm7 0h1v1h-1zm-7 1h1v1h-1zm21 1h1v1h-1zm-21 2h1v1h-1zm3 0h1v1h-1zm14 0h2v1h-2zm-17 1h1v1h-1zm3 0h1v1h-1zm4 0h1v1h-1zm10 0h1v1h-1zm-12 1h1v1h-1zm13 0h1v1h-1zm-9 2h1v1h-1zm3 0h1v1h-1zm10 0h1v1h-1zm2 1h2v1h-2zm-22 1h1v1h-1zm2 0h1v1h-1zm3 0h1v1h-1zm-5 1h1v1h-1zm2 0h1v1h-1zm9 0h1v1h-1zm5 0h2v1h-2zm-16 1h1v1h-1zm2 0h1v1h-1zm8 0h1v1h-1zm8 0h1v1h-1zm-18 1h1v1h-1zm2 0h1v1h-1zm3 0h1v1h-1zm9 0h1v1h-1zm-22 1h2v1h-2zm9 0h2v1h-2zm9 0h1v1h-1zm11 0h1v1h-1zm-12 1h1v1h-1zm9 0h1v1h-1zm-22 2h1v1h-1zm21 0h1v1h-1zm-20 1h1v1h-1zm18 0h1v1h-1zm-5 1h1v1h-1zm3 0h1v1h-1zm7 0h1v1h-1zm-15 3h1v1h-1zm0 1h1v1h-1zm0 1h1v1h-1zm1 2h1v1h-1zm14 0h1v1h-1zm-13 1h3v1h-3zm5 0h1v1h-1zm5 0h1v1h-1zm4 0h3v1h-3zm-13 1h1v1h-1zm4 0h1v1h-1zm3 0h1v1h-1zm-7 1h1v1h-1zm4 0h1v1h-1zm3 0h1v1h-1z"/>
<path fill="#1b1b1b" d="M10 1h1v1h-1zm-1 1h1v1h-1zm-4 1h1v1h-1zm0 1h1v1h-1zm18 2h1v1h-1zm-8 3h2v1h-2zm-12 1h1v1h-1zm15 0h1v1h-1zm-10 1h1v1h-1zm0 1h1v1h-1zm4 0h1v1h-1zm-4 1h1v1h-1zm4 0h1v1h-1zm10 0h1v1h-1zm-14 1h1v1h-1zm7 0h1v1h-1zm10 0h1v1h-1zm-7 1h1v1h-1zm7 0h1v1h-1zm4 0h2v1h-2zm-1 1h1v1h-1zm-29 1h3v1h-3zm17 2h1v1h-1zm-6 1h1v1h-1zm8 0h2v1h-2zm-7 1h1v1h-1zm1 5h1v1h-1zm1 2h1v1h-1zm4 0h2v1h-2zm6 0h1v1h-1zm-9 1h1v1h-1zm2 0h1v1h-1zm7 0h2v1h-2zm-9 1h1v1h-1zm2 0h1v1h-1zm7 0h2v1h-2z"/>
<path fill="#212121" d="M11 1h1v1h-1zm1 1h1v1h-1zm0 3h1v1h-1zm-3 1h3v1h-3zm-5 2h1v1h-1zm23 0h1v1h-1zm-14 2h1v1h-1zm5 1h1v1h-1zm-2 2h1v1h-1zm-14 1h1v1h-1zm11 0h2v1h-2zm6 1h2v1h-2zm10 1h2v1h-2zm-13 1h1v1h-1zm0 1h1v1h-1zm7 0h1v1h-1zm-2 1h1v1h-1zm-16 1h2v1h-2zm4 0h1v1h-1zm19 0h1v1h-1zm-1 1h1v1h-1zm0 5h1v1h-1zm1 1h1v1h-1zm-24 2h1v1h-1zm9 0h1v1h-1zm4 0h2v1h-2zm-13 1h1v1h-1zm9 0h1v1h-1zm4 0h2v1h-2z"/>
<path fill="#262626" d="M4 -1h1v1h-1zm0 1h1v1h-1zm5 3h1v1h-1zm3 0h1v1h-1zm-3 1h1v1h-1zm3 0h1v1h-1zm-3 1h1v1h-1zm-6 4h1v1h-1zm25 0h1v1h-1zm-11 3h1v1h-1zm7 1h1v1h-1zm-3 2h1v1h-1zm-4 1h1v1h-1zm7 1h1v1h-1zm-22 1h1v1h-1zm20 0h1v1h-1zm-19 1h1v1h-1zm4 1h2v1h-2zm22 0h2v1h-2zm-17 7h1v1h-1zm17 0h2v1h-2zm-25 1h1v1h-1z"/>
<path fill="#2b2b2b" d="M4 1h1v1h-1zm6 1h1v1h-1zm-6 5h1v1h-1zm23 0h1v1h-1zm2 2h2v1h-2zm-15 1h1v1h-1zm3 0h1v1h-1zm-4 1h1v1h-1zm0 2h1v1h-1zm2 0h1v1h-1zm8 0h1v1h-1zm-1 1h1v1h-1zm-1 4h1v1h-1zm-4 1h1v1h-1zm3 0h1v1h-1zm-16 1h1v1h-1zm7 2h1v1h-1zm0 3h1v1h-1zm16 0h1v1h-1zm-16 1h1v1h-1zm1 2h1v1h-1zm-7 1h1v1h-1zm0 1h1v1h-1z"/>
<path fill="#313131" d="M4 2h1v1h-1zm7 0h1v1h-1zm-1 3h2v1h-2zm-6 1h1v1h-1zm9 6h1v1h-1zm-11 1h1v1h-1zm12 0h1v1h-1zm-13 1h1v1h-1zm23 0h1v1h-1zm-6 2h4v1h-4zm6 0h1v1h-1zm-7 1h1v1h-1zm5 0h2v1h-2zm-12 4h1v1h-1zm17 1h1v1h-1zm-16 2h1v1h-1zm-6 4h1v1h-1zm7 1h1v1h-1zm0 1h1v1h-1z"/>
<path fill="#363636" d="M3 -1h1v1h-1zm0 1h1v1h-1zm1 3h1v1h-1zm0 2h1v1h-1zm23 1h1v1h-1zm1 2h1v1h-1zm-13 2h2v1h-2zm2 1h1v1h-1zm-15 1h1v1h-1zm14 0h1v1h-1zm-17 2h2v1h-2zm24 0h1v1h-1zm-1 1h1v1h-1zm2 0h1v1h-1zm-3 2h1v1h-1zm-4 1h1v1h-1zm1 1h2v1h-2zm-7 4h1v1h-1zm16 0h1v1h-1zm0 1h1v1h-1zm-17 2h1v1h-1zm18 0h1v1h-1zm-17 1h1v1h-1zm-8 1h1v1h-1zm0 1h1v1h-1zm0 1h1v1h-1z"/>
<path fill="#3c3c3c" d="M-1 -1h4v1h-4zm0 1h4v1h-4zm4 1h1v1h-1zm7 2h2v1h-2zm-6 1h1v1h-1zm6 0h2v1h-2zm-7 4h1v1h-1zm-1 3h1v1h-1zm12 0h1v1h-1zm0 1h2v1h-2zm8 4h1v1h-1zm-2 1h1v1h-1zm-19 1h1v1h-1zm19 0h1v1h-1zm-17 2h1v1h-1zm2 1h1v1h-1zm23 0h1v1h-1zm-24 6h1v1h-1z"/>
<path fill="#414141" d="M-1 1h4v1h-4zm4 1h1v1h-1zm26 6h2v1h-2zm-27 2h1v1h-1zm21 5h1v1h-1zm0 1h1v1h-1zm-5 1h1v1h-1zm-19 1h2v1h-2zm3 1h1v1h-1zm2 2h1v1h-1zm2 0h1v1h-1zm23 0h2v1h-2zm-20 5h1v1h-1zm20 0h2v1h-2zm-26 1h1v1h-1zm2 0h1v1h-1zm5 0h1v1h-1zm1 1h1v1h-1zm-5 1h1v1h-1zm0 1h1v1h-1z"/>
<path fill="#474747" d="M27 -1h1v1h-1zm0 1h1v1h-1zm0 5h1v1h-1zm-25 4h1v1h-1zm13 2h2v1h-2zm4 6h1v1h-1zm-1 1h2v1h-2zm-8 7h1v1h-1zm-1 2h1v1h-1zm-3 1h1v1h-1zm5 1h1v1h-1zm0 1h1v1h-1z"/>
<path fill="#4c4c4c" d="M27 1h1v1h-1zm-28 1h4v1h-4zm4 5h1v1h-1zm25 0h1v1h-1zm-27 6h1v1h-1zm8 8h1v1h-1zm19 4h1v1h-1zm-20 1h1v1h-1zm-2 1h1v1h-1zm2 0h1v1h-1z"/>
<path fill="#515151" d="M27 2h1v1h-1zm-24 1h1v1h-1zm24 1h1v1h-1zm-24 17h1v1h-1zm4 0h1v1h-1zm3 1h1v1h-1zm18 0h1v1h-1zm-25 4h2v1h-2zm4 1h1v1h-1zm3 1h1v1h-1z"/>
<path fill="#575757" d="M27 3h1v1h-1zm-24 1h1v1h-1zm-2 15h1v1h-1zm1 1h1v1h-1zm6 1h1v1h-1zm-9 3h3v1h-3zm30 1h2v1h-2zm-22 1h1v1h-1zm0 2h1v1h-1zm2 0h1v1h-1zm-2 1h1v1h-1zm3 0h1v1h-1zm-3 1h1v1h-1zm3 0h1v1h-1z"/>
<path fill="#5c5c5c" d="M1 3h2v1h-2zm2 3h1v1h-1zm26 1h2v1h-2zm-27 1h1v1h-1zm-3 5h2v1h-2zm4 9h2v1h-2zm26 0h2v1h-2zm-30 1h4v1h-4zm29 0h1v1h-1zm-26 1h1v1h-1zm8 0h1v1h-1zm18 0h1v1h-1zm-27 1h3v1h-3zm8 0h1v1h-1zm-7 1h1v1h-1zm3 0h1v1h-1zm3 2h1v1h-1z"/>
<path fill="#626262" d="M-1 3h2v1h-2zm4 2h1v1h-1zm25 1h1v1h-1zm-27 4h1v1h-1zm0 2h1v1h-1zm-2 7h2v1h-2zm3 2h1v1h-1zm0 1h1v1h-1zm3 0h1v1h-1zm-2 1h1v1h-1zm0 1h1v1h-1zm-4 1h2v1h-2zm7 1h1v1h-1zm3 3h1v1h-1zm0 1h1v1h-1z"/>
<path fill="#676767" d="M1 9h1v1h-1zm0 2h1v1h-1zm-2 11h3v1h-3zm11 1h1v1h-1zm-6 2h1v1h-1zm-2 2h1v1h-1zm6 2h1v1h-1zm0 1h1v1h-1z"/>
<path fill="#6d6d6d" d="M1 20h1v1h-1zm3 3h1v1h-1zm25 0h2v1h-2zm0 1h2v1h-2zm-27 4h1v1h-1zm0 1h1v1h-1zm0 1h1v1h-1z"/>
<path fill="#727272" d="M2 4h1v1h-1zm0 3h1v1h-1zm-1 1h1v1h-1zm-2 1h2v1h-2zm0 1h2v1h-2zm0 2h2v1h-2zm0 8h2v1h-2zm2 1h1v1h-1zm5 1h1v1h-1zm-2 2h1v1h-1zm1 1h1v1h-1zm3 0h1v1h-1zm-7 1h1v1h-1z"/>
<path fill="#777777" d="M29 6h2v1h-2zm-30 5h2v1h-2zm0 10h2v1h-2zm0 5h2v1h-2z"/>
<path fill="#7d7d7d" d="M28 -1h1v1h-1zm0 1h1v1h-1zm-27 4h1v1h-1zm27 1h1v1h-1zm-29 3h2v1h-2zm10 14h1v1h-1zm-4 1h1v1h-1zm1 2h2v1h-2z"/>
<path fill="#828282" d="M28 1h1v1h-1zm-29 3h2v1h-2zm3 1h1v1h-1zm3 19h1v1h-1z"/>
<path fill="#888888" d="M2 6h1v1h-1zm5 16h1v1h-1zm-6 5h1v1h-1z"/>
<path fill="#8d8d8d" d="M9 24h1v1h-1z"/>
<path fill="#929292" d="M28 2h1v1h-1zm0 2h1v1h-1zm1 1h2v1h-2zm-28 2h1v1h-1zm7 15h1v1h-1z"/>
<path fill="#989898" d="M29 -1h2v1h-2zm0 1h2v1h-2zm-1 3h1v1h-1zm-22 20h1v1h-1zm0 1h1v1h-1zm-7 3h2v1h-2z"/>
<path fill="#9d9d9d" d="M29 1h2v1h-2zm-28 4h1v1h-1zm-2 2h2v1h-2zm10 16h1v1h-1zm-8 5h1v1h-1z"/>
<path fill="#a8a8a8" d="M-1 5h2v1h-2zm2 1h1v1h-1zm6 18h2v1h-2zm-6 5h1v1h-1zm0 1h1v1h-1z"/>
<path fill="#aeaeae" d="M29 2h2v1h-2zm0 2h2v1h-2z"/>
<path fill="#b3b3b3" d="M-1 6h2v1h-2zm8 17h1v1h-1zm-8 5h2v1h-2z"/>
<path fill="#b8b8b8" d="M29 3h2v1h-2zm-21 20h1v1h-1z"/>
<path fill="#bebebe" d="M-1 29h2v1h-2zm0 1h2v1h-2z"/>
</g></g>
<path d="M1071 2141 1069 2136 1066 2135" fill="none" stroke="#7c2382" stroke-width="1" stroke-opacity="0.95"/>
<path d="M1381 1843 1376 1844 1372 1849 1369 1859 1368 1863 1369 1868 1372 1876 1376 1880 1381 1880M1066 1904 1075 1903 1080 1900 1083 1894 1083 1890 1080 1885 1075 1882 1066 1881M1082 2141 1081 2132 1080 2127 1077 2123 1075 2121 1071 2119 1066 2119M1142 2070 1136 2075 1135 2079 1136 2084 1142 2087 1150 2088 1159 2085 1164 2079 1165 2075 1163 2070 1159 2068 1155 2066 1150 2066 1142 2070" fill="none" stroke="#aa337d" stroke-width="1" stroke-opacity="0.95"/>
<path d="M1367 1828 1367 1837 1363 1859 1363 1872 1367 1884 1372 1889 1376 1891 1381 1892M1066 1916 1075 1914 1084 1908 1088 1903 1091 1899 1093 1890 1092 1885 1090 1881 1086 1877 1080 1874 1066 1873M1088 2141 1087 2128 1084 2118 1080 2112 1075 2110 1066 2109M1146 2061 1135 2066 1123 2075 1121 2079 1121 2084 1123 2088 1128 2092 1137 2095 1150 2094 1159 2091 1164 2089 1169 2084 1171 2079 1171 2075 1170 2070 1167 2066 1159 2061 1155 2060 1146 2061" fill="none" stroke="#d5446d" stroke-width="1" stroke-opacity="0.95"/>
<path d="M1361 1828 1358 1863 1358 1872 1360 1881 1363 1890 1367 1897 1372 1902 1376 1903 1381 1904M1066 1967 1071 1967 1075 1965 1080 1959 1081 1951 1081 1934 1083 1925 1097 1903 1100 1894 1101 1885 1100 1877 1098 1872 1093 1867 1084 1864 1066 1863M1381 2064 1376 2065 1372 2067 1368 2075 1367 2079 1368 2084 1372 2089 1376 2092 1381 2092M1066 2071 1088 2070 1093 2071 1099 2088 1103 2092 1109 2097 1119 2103 1128 2106 1133 2106 1159 2098 1168 2093 1173 2089 1176 2084 1177 2075 1174 2066 1171 2062 1164 2057 1155 2055 1142 2057 1115 2065 1102 2067 1097 2067 1094 2062 1089 2048 1084 2040 1080 2035 1075 2033 1066 2031M1093 2141 1092 2114 1088 2103 1084 2098 1080 2097 1066 2095M1169 2141 1169 2136 1165 2132 1159 2130 1155 2130 1152 2132 1149 2136 1149 2141" fill="none" stroke="#f4675c" stroke-width="1" stroke-opacity="0.95"/>
<path d="M1355 1828 1353 1868 1355 1881 1358 1894 1363 1907 1367 1913 1372 1915 1381 1917M1066 1977 1075 1976 1080 1974 1084 1970 1087 1965 1089 1956 1090 1938 1092 1929 1106 1903 1109 1890 1110 1877 1109 1868 1106 1856 1102 1849 1097 1844 1093 1840 1088 1838 1084 1838 1066 1840M1381 2052 1372 2053 1366 2057 1363 2060 1360 2066 1359 2079 1361 2092 1367 2101 1372 2104 1381 2106M1099 2141 1099 2128 1102 2119 1106 2114 1111 2114 1119 2117 1128 2123 1130 2128 1131 2132 1131 2141M1189 2141 1188 2132 1183 2123 1177 2118 1169 2114 1162 2110 1165 2106 1168 2104 1177 2097 1180 2092 1183 2084 1184 2075 1183 2070 1179 2062 1175 2057 1169 2053 1164 2050 1155 2049 1146 2050 1124 2054 1114 2053 1106 2049 1102 2045 1089 2031 1084 2026 1075 2022 1066 2021M1181 1866 1180 1868 1181 1871 1183 1868 1181 1866M1226 1942 1220 1947 1219 1951 1220 1956 1221 1957 1226 1958 1235 1955 1240 1951 1243 1947 1242 1943 1239 1941 1235 1940 1226 1942M1314 1986 1310 1989 1309 1991 1307 1996 1310 2000 1314 2000 1317 1996 1318 1991 1314 1986M1261 2008 1257 2013 1255 2018 1255 2022 1259 2026 1266 2028 1270 2027 1274 2025 1278 2022 1280 2018 1279 2013 1274 2009 1270 2007 1266 2007 1261 2008" fill="none" stroke="#fd9a6a" stroke-width="1" stroke-opacity="0.95"/>
<path d="M1350 1828 1349 1872 1352 1894 1356 1912 1359 1919 1365 1925 1372 1928 1381 1929M1066 1985 1075 1984 1084 1982 1088 1979 1092 1973 1095 1965 1097 1943 1099 1934 1102 1928 1110 1916 1114 1907 1117 1890 1119 1868 1119 1859 1115 1837 1114 1828M1381 2042 1372 2042 1367 2044 1363 2046 1359 2050 1354 2062 1352 2079 1354 2097 1359 2107 1363 2113 1367 2116 1372 2118 1381 2119M1107 2141 1107 2136 1111 2130 1115 2131 1116 2132 1118 2136 1118 2141M1205 2141 1205 2132 1203 2128 1191 2106 1190 2097 1192 2084 1191 2075 1188 2062 1181 2053 1173 2046 1159 2042 1150 2042 1128 2044 1119 2043 1111 2040 1106 2036 1093 2022 1088 2018 1080 2014 1066 2013M1181 1845 1177 1847 1173 1850 1168 1856 1165 1863 1163 1877 1164 1886 1168 1892 1173 1894 1181 1894 1186 1892 1190 1889 1195 1883 1198 1872 1198 1863 1197 1859 1195 1853 1190 1848 1186 1846 1181 1845M1230 1929 1221 1931 1215 1934 1210 1938 1204 1947 1201 1956 1201 1965 1204 1973 1208 1978 1212 1979 1221 1977 1248 1961 1254 1956 1257 1951 1259 1947 1259 1943 1257 1938 1253 1934 1243 1930 1230 1929M1310 1967 1305 1971 1292 1988 1288 1991 1283 1993 1261 1993 1255 1996 1249 2000 1243 2009 1241 2018 1242 2026 1245 2031 1250 2035 1257 2038 1266 2039 1274 2038 1283 2035 1301 2024 1319 2016 1323 2013 1328 2006 1330 2000 1331 1987 1330 1978 1328 1972 1323 1967 1319 1965 1314 1965 1310 1967" fill="none" stroke="#fec68a" stroke-width="1" stroke-opacity="0.95"/>
<path d="M1128.2 1828.2 1338.0 1828.2 1336.9 1885.4 1338.0 1894.2 1343.5 1911.9 1349.8 1925.1 1354.2 1930.7 1358.6 1934.4 1367.5 1938.4 1380.8 1940.0 1380.8 1994.1 1375.6 1995.5 1375.7 1999.9 1380.8 2001.3 1380.8 2027.1 1371.9 2028.0 1367.5 2029.6 1358.6 2035.3 1354.2 2039.8 1349.8 2046.5 1346.9 2052.7 1343.3 2066.0 1342.3 2074.8 1343.0 2092.4 1347.0 2110.0 1351.4 2118.8 1362.2 2132.0 1364.8 2136.4 1365.3 2140.8 1318.8 2140.8 1314.3 2139.3 1314.2 2140.8 1270.5 2140.8 1269.2 2132.0 1266.5 2127.6 1261.2 2123.8 1252.3 2121.9 1234.6 2121.7 1225.7 2119.5 1216.9 2113.6 1210.8 2105.6 1207.8 2096.8 1206.4 2074.8 1203.1 2061.5 1201.3 2057.1 1196.0 2048.3 1187.7 2039.5 1177.0 2032.2 1163.7 2027.1 1154.8 2025.6 1132.7 2025.6 1119.4 2023.0 1109.5 2017.5 1094.9 2004.3 1091.8 1999.9 1091.4 1995.5 1100.7 1977.9 1110.5 1944.1 1121.4 1925.1 1125.1 1916.3 1127.2 1907.5 1127.9 1894.2 1124.8 1859.0 1124.1 1841.4 1125.2 1828.2 1128.2 1828.2" fill="none" stroke="#fff" stroke-width="4.2" stroke-dasharray="4 3"/>
</g>
<text x="1079.5" y="1870" font-size="36" text-anchor="start" fill="#fff" >(IV)</text>
<text x="1370" y="1868" font-size="32" text-anchor="end" fill="#fff" >t=120 min</text>
<clipPath id="clipl4"><rect x="65.6" y="2161" width="319" height="318.5"/></clipPath>
<g clip-path="url(#clipl4)"><g filter="url(#hmap)"><g shape-rendering="crispEdges" transform="translate(65.6 2161) scale(10.6333 10.6167)">
<path fill="#000000" d="M8 6h1v1h-1zm-1 1h4v1h-4zm7 0h1v1h-1zm-10 2h1v1h-1zm15 0h2v1h-2zm-15 5h1v1h-1zm0 1h1v1h-1zm21 3h1v1h-1zm-8 2h2v1h-2zm5 2h1v1h-1zm0 1h1v1h-1zm0 1h1v1h-1zm-11 1h2v1h-2zm6 2h2v1h-2z"/>
<path fill="#050505" d="M9 6h1v1h-1zm4 0h3v1h-3zm-2 1h3v1h-3zm4 0h1v1h-1zm-11 1h13v1h-13zm18 0h2v1h-2zm-19 1h1v1h-1zm2 0h1v1h-1zm11 0h3v1h-3zm5 0h5v1h-5zm-20 1h6v1h-6zm10 0h1v1h-1zm5 0h10v1h-10zm-11 1h12v1h-12zm19 0h2v1h-2zm-20 1h12v1h-12zm20 0h2v1h-2zm-20 1h3v1h-3zm4 0h8v1h-8zm13 0h2v1h-2zm3 0h2v1h-2zm-19 1h1v1h-1zm4 0h3v1h-3zm4 0h3v1h-3zm8 0h5v1h-5zm-16 1h1v1h-1zm4 0h8v1h-8zm12 0h5v1h-5zm-17 1h3v1h-3zm4 0h9v1h-9zm13 0h7v1h-7zm-16 1h11v1h-11zm15 0h2v1h-2zm3 0h4v1h-4zm-17 1h11v1h-11zm13 0h3v1h-3zm5 0h1v1h-1zm-16 1h14v1h-14zm16 0h1v1h-1zm-15 1h8v1h-8zm10 0h5v1h-5zm-10 1h3v1h-3zm4 0h2v1h-2zm8 0h3v1h-3zm-12 1h2v1h-2zm4 0h1v1h-1zm8 0h1v1h-1zm2 0h1v1h-1zm-13 1h4v1h-4zm11 0h1v1h-1zm2 0h1v1h-1zm-12 1h3v1h-3zm10 0h1v1h-1zm2 0h1v1h-1zm-10 1h1v1h-1zm8 0h2v1h-2zm-10 1h3v1h-3zm4 0h6v1h-6zm-1 1h3v1h-3zm5 0h1v1h-1zm-5 1h5v1h-5zm0 1h2v1h-2zm0 1h2v1h-2z"/>
<path fill="#0b0b0b" d="M25 -1h1v1h-1zm0 1h1v1h-1zm-10 5h2v1h-2zm-8 1h1v1h-1zm3 0h1v1h-1zm2 0h1v1h-1zm4 0h1v1h-1zm-10 1h1v1h-1zm10 0h1v1h-1zm7 0h1v1h-1zm-6 1h5v1h-5zm-15 1h1v1h-1zm4 0h10v1h-10zm-7 1h2v1h-2zm8 0h4v1h-4zm5 0h4v1h-4zm14 0h1v1h-1zm-27 1h6v1h-6zm18 0h7v1h-7zm-14 1h1v1h-1zm13 0h2v1h-2zm4 0h4v1h-4zm-17 1h1v1h-1zm4 0h1v1h-1zm9 0h1v1h-1zm4 0h1v1h-1zm3 0h1v1h-1zm3 0h1v1h-1zm-23 1h1v1h-1zm3 0h3v1h-3zm6 0h1v1h-1zm4 0h1v1h-1zm4 0h1v1h-1zm6 0h1v1h-1zm-23 1h1v1h-1zm3 0h3v1h-3zm11 0h4v1h-4zm9 0h1v1h-1zm-23 1h1v1h-1zm4 0h1v1h-1zm10 0h4v1h-4zm11 0h3v1h-3zm-24 1h1v1h-1zm12 0h4v1h-4zm6 0h1v1h-1zm5 0h1v1h-1zm-22 1h1v1h-1zm12 0h2v1h-2zm5 0h2v1h-2zm4 0h1v1h-1zm-20 1h2v1h-2zm16 0h2v1h-2zm3 0h1v1h-1zm-18 1h2v1h-2zm17 0h1v1h-1zm-16 1h1v1h-1zm4 0h1v1h-1zm3 0h6v1h-6zm-7 1h1v1h-1zm3 0h2v1h-2zm3 0h1v1h-1zm-5 1h1v1h-1zm5 0h1v1h-1zm-4 1h1v1h-1zm4 0h1v1h-1zm0 1h2v1h-2zm6 0h1v1h-1zm-6 1h1v1h-1zm7 0h1v1h-1zm-8 1h1v1h-1zm7 0h1v1h-1zm-7 1h1v1h-1zm6 0h1v1h-1zm-6 1h1v1h-1zm3 0h4v1h-4zm-3 1h1v1h-1zm3 0h4v1h-4z"/>
<path fill="#101010" d="M16 4h1v1h-1zm-5 2h1v1h-1zm-6 1h1v1h-1zm12 0h1v1h-1zm5 0h1v1h-1zm-19 1h1v1h-1zm21 0h1v1h-1zm2 1h1v1h-1zm0 2h1v1h-1zm-24 1h1v1h-1zm16 0h2v1h-2zm8 0h1v1h-1zm-9 1h3v1h-3zm0 1h3v1h-3zm10 1h2v1h-2zm-24 2h1v1h-1zm1 1h1v1h-1zm1 1h1v1h-1zm2 2h1v1h-1zm17 0h1v1h-1zm-9 1h1v1h-1zm5 0h1v1h-1zm4 0h1v1h-1zm-16 1h1v1h-1zm7 0h1v1h-1zm0 1h1v1h-1zm-5 1h1v1h-1zm6 0h1v1h-1zm7 0h1v1h-1zm-1 1h1v1h-1zm-10 1h1v1h-1zm8 1h1v1h-1z"/>
<path fill="#161616" d="M25 1h1v1h-1zm-9 2h1v1h-1zm-1 1h1v1h-1zm-1 1h1v1h-1zm-8 1h1v1h-1zm17 0h1v1h-1zm-5 1h1v1h-1zm-19 2h3v1h-3zm2 3h1v1h-1zm26 2h1v1h-1zm2 1h2v1h-2zm-1 2h3v1h-3zm-22 3h1v1h-1zm1 2h1v1h-1zm9 0h1v1h-1zm4 1h1v1h-1zm4 0h1v1h-1zm-15 1h1v1h-1zm11 0h1v1h-1zm-3 1h3v1h-3zm-7 1h1v1h-1zm1 1h1v1h-1zm10 0h1v1h-1zm-1 2h1v1h-1zm0 1h1v1h-1z"/>
<path fill="#1b1b1b" d="M13 -1h2v1h-2zm0 1h2v1h-2zm2 3h1v1h-1zm-2 2h1v1h-1zm4 0h1v1h-1zm0 1h1v1h-1zm5 0h1v1h-1zm-18 1h1v1h-1zm17 0h1v1h-1zm-19 1h1v1h-1zm23 0h1v1h-1zm-26 4h2v1h-2zm3 1h1v1h-1zm0 1h1v1h-1zm1 4h1v1h-1zm1 1h1v1h-1zm1 1h1v1h-1zm20 0h1v1h-1zm-19 1h1v1h-1zm10 3h1v1h-1zm8 0h1v1h-1zm-1 2h1v1h-1zm-11 2h1v1h-1zm0 1h1v1h-1zm0 1h1v1h-1z"/>
<path fill="#212121" d="M24 -1h1v1h-1zm2 0h1v1h-1zm-2 1h1v1h-1zm2 0h1v1h-1zm-13 1h2v1h-2zm4 3h1v1h-1zm-5 1h1v1h-1zm-7 1h1v1h-1zm14 1h2v1h-2zm5 0h1v1h-1zm3 2h1v1h-1zm0 1h1v1h-1zm0 3h1v1h-1zm-25 2h1v1h-1zm0 1h1v1h-1zm25 2h1v1h-1zm-1 1h1v1h-1zm-20 3h1v1h-1zm11 0h1v1h-1zm2 0h1v1h-1zm-12 1h1v1h-1zm9 0h1v1h-1zm8 2h1v1h-1zm-2 2h1v1h-1zm-1 1h1v1h-1zm0 1h1v1h-1zm0 1h1v1h-1z"/>
<path fill="#262626" d="M24 1h1v1h-1zm-9 1h2v1h-2zm2 1h1v1h-1zm-3 1h1v1h-1zm-3 1h1v1h-1zm12 0h1v1h-1zm-5 1h1v1h-1zm-15 1h1v1h-1zm23 1h1v1h-1zm1 3h1v1h-1zm0 1h1v1h-1zm-26 1h1v1h-1zm27 1h1v1h-1zm-26 3h1v1h-1zm2 3h1v1h-1zm1 1h1v1h-1zm20 0h1v1h-1zm-7 1h1v1h-1zm1 2h1v1h-1zm-10 1h1v1h-1zm1 2h1v1h-1zm1 1h1v1h-1z"/>
<path fill="#2b2b2b" d="M4 -1h1v1h-1zm8 0h1v1h-1zm3 0h1v1h-1zm-11 1h1v1h-1zm8 0h1v1h-1zm3 0h1v1h-1zm0 1h1v1h-1zm11 0h1v1h-1zm-12 1h1v1h-1zm-8 3h1v1h-1zm4 0h1v1h-1zm12 0h1v1h-1zm-21 3h1v1h-1zm26 0h1v1h-1zm1 1h1v1h-1zm-29 4h2v1h-2zm30 1h2v1h-2zm-27 4h1v1h-1zm1 1h1v1h-1zm22 3h1v1h-1zm-6 1h1v1h-1zm6 0h1v1h-1zm-17 1h1v1h-1zm9 0h1v1h-1zm8 0h1v1h-1zm-1 2h1v1h-1zm-1 1h1v1h-1zm-1 1h1v1h-1z"/>
<path fill="#313131" d="M5 -1h1v1h-1zm0 1h1v1h-1zm-1 1h1v1h-1zm8 0h1v1h-1zm13 1h1v1h-1zm-11 1h1v1h-1zm-7 2h1v1h-1zm2 0h1v1h-1zm9 0h1v1h-1zm-14 1h1v1h-1zm15 0h1v1h-1zm2 0h1v1h-1zm3 0h1v1h-1zm-25 2h2v1h-2zm29 0h3v1h-3zm1 1h2v1h-2zm-28 5h1v1h-1zm0 1h1v1h-1zm3 6h1v1h-1zm1 1h1v1h-1zm12 1h1v1h-1zm1 1h1v1h-1zm11 0h2v1h-2zm-30 5h2v1h-2zm12 0h1v1h-1zm11 0h1v1h-1zm-23 1h2v1h-2zm12 0h1v1h-1zm11 0h1v1h-1z"/>
<path fill="#363636" d="M23 -1h1v1h-1zm0 1h1v1h-1zm-18 1h1v1h-1zm11 0h1v1h-1zm-3 1h1v1h-1zm4 0h1v1h-1zm7 0h1v1h-1zm-11 2h1v1h-1zm5 0h1v1h-1zm4 0h1v1h-1zm-17 1h1v1h-1zm3 0h1v1h-1zm12 1h1v1h-1zm-18 1h1v1h-1zm26 3h1v1h-1zm0 3h1v1h-1zm-27 3h1v1h-1zm0 1h1v1h-1zm27 1h1v1h-1zm-26 1h1v1h-1zm1 1h1v1h-1zm1 2h1v1h-1zm-5 1h3v1h-3zm7 0h1v1h-1zm12 0h1v1h-1zm-19 1h2v1h-2zm29 0h1v1h-1zm-3 1h1v1h-1zm-16 1h1v1h-1zm15 1h1v1h-1zm-25 1h2v1h-2zm11 0h1v1h-1zm-9 1h1v1h-1zm0 1h1v1h-1z"/>
<path fill="#3c3c3c" d="M16 -1h1v1h-1zm0 1h1v1h-1zm7 1h1v1h-1zm-5 2h1v1h-1zm-6 1h1v1h-1zm11 0h1v1h-1zm-2 1h1v1h-1zm8 2h2v1h-2zm0 3h2v1h-2zm-1 1h1v1h-1zm-29 3h2v1h-2zm0 1h2v1h-2zm0 1h2v1h-2zm0 1h2v1h-2zm2 1h1v1h-1zm28 0h2v1h-2zm-26 3h1v1h-1zm0 1h1v1h-1zm-1 1h1v1h-1zm24 0h1v1h-1zm-25 1h1v1h-1zm25 0h2v1h-2zm-1 2h1v1h-1zm-16 1h1v1h-1zm-8 1h1v1h-1zm22 0h1v1h-1zm-21 1h1v1h-1zm8 0h1v1h-1zm18 0h3v1h-3zm-26 1h1v1h-1zm8 0h1v1h-1zm18 0h3v1h-3z"/>
<path fill="#414141" d="M6 -1h1v1h-1zm5 0h1v1h-1zm9 0h3v1h-3zm-14 1h1v1h-1zm5 0h1v1h-1zm9 0h3v1h-3zm-3 1h1v1h-1zm3 0h3v1h-3zm-16 1h2v1h-2zm8 0h1v1h-1zm6 0h1v1h-1zm2 0h3v1h-3zm6 0h1v1h-1zm-13 1h1v1h-1zm7 0h3v1h-3zm1 1h1v1h-1zm-2 1h2v1h-2zm5 0h1v1h-1zm1 2h1v1h-1zm3 0h1v1h-1zm0 5h1v1h-1zm1 1h2v1h-2zm-30 5h2v1h-2zm3 2h1v1h-1zm24 0h1v1h-1zm-24 1h1v1h-1zm-3 1h4v1h-4zm4 1h3v1h-3zm-4 2h3v1h-3zm27 0h1v1h-1zm2 0h3v1h-3zm-29 2h3v1h-3zm26 0h1v1h-1zm-23 1h1v1h-1zm7 0h1v1h-1zm15 0h1v1h-1zm4 0h3v1h-3zm-19 1h1v1h-1zm14 0h1v1h-1zm4 0h1v1h-1zm-18 1h1v1h-1zm14 0h1v1h-1zm4 0h1v1h-1z"/>
<path fill="#474747" d="M3 -1h1v1h-1zm14 0h3v1h-3zm-14 1h1v1h-1zm14 0h3v1h-3zm-11 1h1v1h-1zm5 0h1v1h-1zm7 0h2v1h-2zm1 1h1v1h-1zm4 0h1v1h-1zm-18 1h1v1h-1zm14 0h1v1h-1zm4 0h2v1h-2zm-18 1h1v1h-1zm6 0h1v1h-1zm8 0h2v1h-2zm-15 1h1v1h-1zm-1 1h1v1h-1zm-2 1h1v1h-1zm28 4h2v1h-2zm0 1h2v1h-2zm-30 7h3v1h-3zm27 3h1v1h-1zm1 1h1v1h-1zm-25 1h1v1h-1zm5 0h1v1h-1zm1 1h1v1h-1zm19 0h1v1h-1zm-28 1h3v1h-3zm26 2h3v1h-3zm-22 1h1v1h-1zm5 0h1v1h-1zm16 0h3v1h-3zm-21 1h1v1h-1zm5 0h1v1h-1zm16 0h3v1h-3z"/>
<path fill="#4c4c4c" d="M3 1h1v1h-1zm9 2h1v1h-1zm13 0h1v1h-1zm-19 1h1v1h-1zm18 0h1v1h-1zm-25 3h2v1h-2zm28 12h1v1h-1zm-26 1h1v1h-1zm-2 1h3v1h-3zm27 0h1v1h-1zm2 2h3v1h-3zm-2 3h5v1h-5zm-24 1h1v1h-1zm24 0h5v1h-5zm-23 1h1v1h-1zm5 0h1v1h-1z"/>
<path fill="#515151" d="M7 -1h1v1h-1zm0 1h1v1h-1zm4 2h1v1h-1zm-7 1h1v1h-1zm0 1h1v1h-1zm25 2h2v1h-2zm-3 1h2v1h-2zm-27 13h2v1h-2zm4 4h1v1h-1zm-1 1h1v1h-1zm0 1h1v1h-1zm2 3h1v1h-1zm3 0h1v1h-1zm-3 1h1v1h-1zm3 0h1v1h-1z"/>
<path fill="#575757" d="M10 -1h1v1h-1zm0 1h1v1h-1zm-4 2h1v1h-1zm5 1h1v1h-1zm-1 1h1v1h-1zm-8 2h1v1h-1zm6 20h1v1h-1zm0 1h1v1h-1zm-4 1h1v1h-1zm1 1h2v1h-2zm0 1h2v1h-2z"/>
<path fill="#5c5c5c" d="M8 -1h2v1h-2zm0 1h2v1h-2zm-1 1h1v1h-1zm3 0h1v1h-1zm-7 1h1v1h-1zm3 1h1v1h-1zm20 0h1v1h-1zm-23 2h1v1h-1zm25 1h1v1h-1zm-24 18h1v1h-1zm2 0h1v1h-1zm-3 3h1v1h-1zm4 1h1v1h-1z"/>
<path fill="#626262" d="M7 4h1v1h-1zm18 2h1v1h-1zm-20 18h1v1h-1zm-2 1h1v1h-1zm2 3h1v1h-1z"/>
<path fill="#676767" d="M27 -1h1v1h-1zm0 1h1v1h-1zm-2 4h1v1h-1zm-24 2h1v1h-1zm26 16h1v1h-1zm-24 4h1v1h-1zm3 2h1v1h-1z"/>
<path fill="#6d6d6d" d="M8 1h2v1h-2zm19 0h1v1h-1zm-17 1h1v1h-1zm-7 1h1v1h-1zm0 1h1v1h-1zm22 1h1v1h-1zm4 0h2v1h-2zm-30 1h2v1h-2zm8 19h1v1h-1z"/>
<path fill="#727272" d="M27 2h1v1h-1zm-17 1h1v1h-1zm-1 1h1v1h-1zm18 2h1v1h-1zm1 13h1v1h-1zm-24 8h1v1h-1zm3 0h1v1h-1z"/>
<path fill="#777777" d="M2 -1h1v1h-1zm0 1h1v1h-1zm5 2h1v1h-1zm1 2h1v1h-1zm18 0h1v1h-1zm-24 1h1v1h-1zm26 0h1v1h-1zm-1 15h1v1h-1zm-23 5h1v1h-1z"/>
<path fill="#7d7d7d" d="M27 3h1v1h-1zm-1 3h1v1h-1zm-19 20h1v1h-1z"/>
<path fill="#828282" d="M2 1h1v1h-1zm5 2h1v1h-1zm20 1h1v1h-1zm2 15h2v1h-2zm-2 2h1v1h-1zm1 1h1v1h-1zm-24 4h1v1h-1zm1 1h2v1h-2z"/>
<path fill="#888888" d="M9 2h1v1h-1zm19 2h3v1h-3zm-2 1h2v1h-2zm-21 20h2v1h-2z"/>
<path fill="#8d8d8d" d="M2 2h1v1h-1zm6 0h1v1h-1zm-7 3h1v1h-1zm28 17h2v1h-2z"/>
<path fill="#929292" d="M9 3h1v1h-1zm-7 1h1v1h-1zm3 22h1v1h-1z"/>
<path fill="#989898" d="M2 3h1v1h-1zm26 0h1v1h-1zm-29 2h2v1h-2zm7 21h1v1h-1z"/>
<path fill="#9d9d9d" d="M8 3h1v1h-1z"/>
<path fill="#a3a3a3" d="M29 3h2v1h-2z"/>
<path fill="#a8a8a8" d="M28 2h1v1h-1zm0 18h1v1h-1z"/>
<path fill="#aeaeae" d="M1 -1h1v1h-1zm0 1h1v1h-1zm0 4h1v1h-1z"/>
<path fill="#b3b3b3" d="M28 -1h1v1h-1zm0 1h1v1h-1zm-27 1h1v1h-1zm27 0h1v1h-1zm0 20h1v1h-1z"/>
<path fill="#bebebe" d="M1 2h1v1h-1zm28 0h2v1h-2zm-30 2h2v1h-2zm30 16h2v1h-2z"/>
<path fill="#c3c3c3" d="M-1 -1h2v1h-2zm0 1h2v1h-2zm2 3h1v1h-1zm28 18h2v1h-2z"/>
<path fill="#c9c9c9" d="M-1 1h2v1h-2z"/>
<path fill="#cecece" d="M29 1h2v1h-2zm-30 1h2v1h-2z"/>
<path fill="#d4d4d4" d="M29 -1h2v1h-2zm0 1h2v1h-2zm-30 3h2v1h-2z"/>
</g></g>
<path d="M371 2163 371 2172 374 2182 378 2186 382 2187M68 2208 72 2207 77 2206 80 2203 82 2199 82 2190 75 2172 74 2163M382 2379 377 2380 372 2384 374 2389 382 2391" fill="none" stroke="#7c2382" stroke-width="1" stroke-opacity="0.95"/>
<path d="M365 2163 366 2181 369 2194 374 2199 382 2200M68 2217 77 2216 81 2214 86 2211 89 2207 90 2203 90 2194 86 2176 85 2163M382 2373 374 2374 370 2376 365 2380 363 2384 364 2389 367 2393 374 2396 382 2397" fill="none" stroke="#aa337d" stroke-width="1" stroke-opacity="0.95"/>
<path d="M361 2163 360 2185 359 2199 356 2206 347 2212 343 2216 342 2221 343 2225 347 2228 351 2229 357 2225 365 2217 369 2214 382 2213M68 2225 77 2224 87 2221 94 2214 98 2207 98 2199 92 2176 91 2163M382 2368 374 2369 365 2373 359 2380 357 2384 357 2389 359 2393 365 2399 374 2402 382 2402M156 2183 152 2185 147 2190 146 2194 145 2199 148 2203 152 2206 156 2207 161 2207 165 2206 171 2203 173 2199 174 2194 172 2190 170 2187 165 2184 161 2183 156 2183M117 2433 114 2437 113 2442 115 2446 121 2452 130 2455 134 2454 139 2452 143 2448 145 2442 144 2437 139 2432 130 2429 125 2429 121 2430 117 2433" fill="none" stroke="#d5446d" stroke-width="1" stroke-opacity="0.95"/>
<path d="M357 2163 356 2181 354 2190 351 2194 348 2199 336 2207 334 2212 333 2216 334 2225 338 2232 343 2236 347 2238 351 2238 360 2235 374 2226 382 2225M68 2234 81 2232 90 2229 101 2221 107 2212 108 2203 107 2199 98 2176 97 2163M382 2363 374 2364 369 2365 360 2371 353 2380 351 2389 352 2393 353 2398 356 2401 360 2404 369 2406 382 2407M156 2171 148 2177 140 2185 136 2194 136 2199 138 2203 142 2207 148 2211 156 2213 165 2212 174 2209 181 2203 184 2199 184 2194 184 2190 179 2179 170 2171 165 2169 161 2169 156 2171M112 2423 105 2429 101 2433 100 2437 100 2442 101 2446 107 2455 117 2462 125 2466 130 2467 139 2465 148 2459 152 2453 154 2446 153 2437 148 2430 139 2424 130 2421 121 2420 112 2423" fill="none" stroke="#f4675c" stroke-width="1" stroke-opacity="0.95"/>
<path d="M134 2163 134 2168 131 2176 125 2185 121 2189 117 2188 112 2185 108 2179 105 2172 104 2163M243 2163 243 2168 245 2172 255 2181 261 2190 268 2212 272 2218 276 2222 280 2224 285 2224 289 2221 291 2216 293 2207 292 2203 289 2190 289 2175 294 2184 295 2194 298 2199 316 2206 320 2209 325 2218 331 2234 338 2241 347 2245 356 2245 365 2244 378 2239 382 2239M352 2163 351 2177 347 2188 343 2192 334 2194 329 2193 325 2191 318 2185 309 2172 308 2163M68 2245 81 2243 99 2234 111 2225 121 2214 125 2212 130 2212 143 2216 152 2217 165 2217 174 2216 192 2209 205 2206 210 2204 212 2199 210 2194 201 2188 194 2181 190 2172 189 2163M382 2275 378 2275 373 2278 370 2283 369 2287 369 2291 370 2296 374 2302 378 2304 382 2305M382 2358 369 2359 360 2364 356 2368 349 2376 347 2380 345 2384 344 2393 344 2398 347 2405 351 2411 356 2413 382 2413M68 2401 90 2400 94 2399 97 2393 97 2389 94 2380 86 2368 77 2358 72 2355 68 2354M382 2432 369 2431 356 2427 351 2427 347 2429 343 2434 334 2452 329 2457 320 2464 317 2468 315 2473 315 2477M68 2451 77 2453 86 2459 94 2468 96 2473 96 2477M166 2477 165 2451 161 2437 156 2429 151 2424 143 2418 134 2414 117 2408 103 2407 99 2408 89 2420 81 2427 77 2430 68 2432M360 2477 361 2473 365 2468 374 2466 382 2466" fill="none" stroke="#fd9a6a" stroke-width="1" stroke-opacity="0.95"/>
<path d="M226 2163 224 2176 223 2179 218 2180 210 2178 205 2175 202 2168 202 2163M348 2163 347 2172 346 2176 343 2182 338 2183 334 2182 327 2176 326 2172 325 2163M68 2256 77 2255 86 2252 117 2235 129 2225 134 2223 143 2222 179 2222 201 2219 211 2216 218 2212 222 2207 230 2190 232 2188 236 2188 241 2190 245 2193 249 2198 252 2203 257 2225 260 2230 267 2236 274 2238 280 2240 289 2239 297 2234 307 2222 311 2220 316 2221 320 2225 326 2238 329 2243 334 2247 338 2249 359 2256 362 2261 362 2265 358 2278 357 2287 357 2296 359 2305 365 2313 369 2316 374 2318 382 2318M382 2351 369 2353 360 2357 351 2364 342 2376 340 2380 336 2389 333 2415 327 2433 320 2443 301 2460 296 2468 295 2477M195 2477 193 2468 191 2464 177 2451 174 2446 168 2433 162 2424 135 2402 122 2384 108 2369 99 2358 94 2349 91 2340 89 2314 86 2305 79 2300 68 2299M254 2401 249 2403 246 2407 244 2411 244 2415 246 2420 251 2424 258 2426 267 2426 272 2424 276 2420 277 2415 278 2411 276 2406 272 2402 267 2400 263 2400 254 2401" fill="none" stroke="#fec68a" stroke-width="1" stroke-opacity="0.95"/>
<path d="M218.5 2224.6 227.3 2221.8 231.7 2221.3 236.2 2222.3 240.6 2225.8 247.2 2234.0 253.9 2240.3 258.3 2243.1 267.2 2246.5 276.1 2248.2 284.9 2248.7 302.6 2247.1 308.6 2247.3 315.9 2249.6 325.5 2256.1 336.2 2265.0 342.5 2273.7 350.5 2309.2 359.5 2326.9 360.7 2331.3 359.2 2335.7 355.9 2340.2 332.4 2366.7 326.3 2375.5 323.0 2384.4 322.1 2388.8 320.3 2410.9 315.9 2424.0 307.1 2437.5 287.8 2459.6 282.9 2468.4 281.5 2477.3 205.6 2477.3 205.0 2468.4 202.0 2459.6 187.4 2439.8 175.7 2419.8 143.1 2382.4 118.3 2357.9 108.5 2344.6 103.3 2332.4 98.3 2309.2 94.4 2300.1 90.0 2294.4 81.1 2288.0 72.2 2285.3 67.8 2285.1 67.8 2272.5 76.7 2271.7 85.5 2268.1 112.1 2252.1 140.8 2238.4 156.4 2235.1 183.0 2233.7 191.9 2232.5 218.5 2224.6" fill="none" stroke="#fff" stroke-width="4.2" stroke-dasharray="4 3"/>
</g>
<text x="81.1" y="2205" font-size="36" text-anchor="start" fill="#fff" >(VIII)</text>
<text x="371.6" y="2203" font-size="32" text-anchor="end" fill="#fff" >t=240 min</text>
<clipPath id="clipl5"><rect x="394.5" y="2161" width="318.5" height="318.5"/></clipPath>
<g clip-path="url(#clipl5)"><g filter="url(#hmap)"><g shape-rendering="crispEdges" transform="translate(394.5 2161) scale(10.6167 10.6167)">
<path fill="#000000" d="M17 7h1v1h-1zm11 2h3v1h-3zm1 1h2v1h-2zm-30 2h2v1h-2zm18 12h1v1h-1zm-1 1h3v1h-3zm-4 3h1v1h-1zm0 1h1v1h-1zm0 1h1v1h-1z"/>
<path fill="#050505" d="M9 -1h3v1h-3zm4 0h3v1h-3zm-4 1h3v1h-3zm4 0h3v1h-3zm-3 1h2v1h-2zm3 0h3v1h-3zm-2 1h6v1h-6zm0 1h5v1h-5zm0 1h5v1h-5zm-1 1h5v1h-5zm-1 1h3v1h-3zm4 0h11v1h-11zm-5 1h4v1h-4zm5 0h4v1h-4zm5 0h6v1h-6zm-10 1h11v1h-11zm15 0h2v1h-2zm-15 1h1v1h-1zm3 0h3v1h-3zm13 0h4v1h-4zm-17 1h2v1h-2zm4 0h3v1h-3zm13 0h5v1h-5zm-25 1h2v1h-2zm7 0h3v1h-3zm5 0h3v1h-3zm10 0h6v1h-6zm-20 1h2v1h-2zm4 0h4v1h-4zm6 0h3v1h-3zm11 0h4v1h-4zm-23 1h15v1h-15zm24 0h3v1h-3zm-20 1h3v1h-3zm5 0h6v1h-6zm17 0h1v1h-1zm-22 1h3v1h-3zm5 0h6v1h-6zm-4 1h10v1h-10zm1 1h3v1h-3zm5 0h4v1h-4zm-4 1h2v1h-2zm4 0h4v1h-4zm-2 1h2v1h-2zm5 0h1v1h-1zm5 0h1v1h-1zm-10 1h2v1h-2zm6 0h1v1h-1zm4 0h2v1h-2zm-4 1h3v1h-3zm5 0h2v1h-2zm-3 1h1v1h-1zm0 1h3v1h-3zm0 1h1v1h-1zm2 0h2v1h-2zm-3 1h1v1h-1zm4 0h3v1h-3zm-6 1h2v1h-2zm9 0h2v1h-2zm-10 1h2v1h-2zm-1 1h1v1h-1zm2 0h1v1h-1zm-2 1h1v1h-1zm2 0h1v1h-1zm-2 1h1v1h-1zm2 0h1v1h-1z"/>
<path fill="#0b0b0b" d="M12 -1h1v1h-1zm4 0h1v1h-1zm-4 1h1v1h-1zm4 0h1v1h-1zm-7 1h1v1h-1zm3 0h1v1h-1zm4 0h1v1h-1zm-6 1h1v1h-1zm0 1h1v1h-1zm6 0h1v1h-1zm-6 1h1v1h-1zm6 0h2v1h-2zm-7 1h1v1h-1zm6 0h4v1h-4zm7 0h2v1h-2zm-14 1h1v1h-1zm4 0h1v1h-1zm0 1h1v1h-1zm12 0h1v1h-1zm-17 1h1v1h-1zm12 0h4v1h-4zm6 0h6v1h-6zm-18 1h1v1h-1zm2 0h2v1h-2zm5 0h1v1h-1zm5 0h5v1h-5zm-13 1h1v1h-1zm3 0h2v1h-2zm11 0h4v1h-4zm-19 1h1v1h-1zm4 0h1v1h-1zm4 0h2v1h-2zm11 0h1v1h-1zm7 0h4v1h-4zm-24 1h2v1h-2zm6 0h2v1h-2zm12 0h1v1h-1zm5 0h1v1h-1zm-12 1h1v1h-1zm8 0h1v1h-1zm4 0h1v1h-1zm-24 1h1v1h-1zm4 0h2v1h-2zm8 0h2v1h-2zm10 0h1v1h-1zm-18 1h2v1h-2zm8 0h2v1h-2zm11 0h1v1h-1zm-22 1h1v1h-1zm11 0h1v1h-1zm-10 1h1v1h-1zm4 0h2v1h-2zm6 0h1v1h-1zm11 0h1v1h-1zm-20 1h1v1h-1zm3 0h2v1h-2zm6 0h1v1h-1zm4 0h1v1h-1zm7 0h1v1h-1zm-18 1h1v1h-1zm3 0h3v1h-3zm4 0h1v1h-1zm3 0h1v1h-1zm2 0h1v1h-1zm-9 1h1v1h-1zm3 0h1v1h-1zm2 0h3v1h-3zm5 0h1v1h-1zm-3 1h2v1h-2zm4 0h1v1h-1zm-6 1h1v1h-1zm2 0h4v1h-4zm-2 1h1v1h-1zm4 0h2v1h-2zm-4 1h1v1h-1zm5 0h1v1h-1zm-6 1h1v1h-1zm8 0h1v1h-1zm-10 1h1v1h-1zm3 0h7v1h-7zm-4 1h1v1h-1zm3 0h1v1h-1z"/>
<path fill="#101010" d="M17 -1h1v1h-1zm0 1h1v1h-1zm0 1h1v1h-1zm-8 1h1v1h-1zm8 0h1v1h-1zm0 1h1v1h-1zm6 1h1v1h-1zm-4 1h1v1h-1zm2 0h1v1h-1zm3 1h1v1h-1zm-17 1h1v1h-1zm-1 2h1v1h-1zm9 0h1v1h-1zm2 0h2v1h-2zm-3 1h1v1h-1zm5 0h1v1h-1zm-17 1h1v1h-1zm12 0h1v1h-1zm0 1h1v1h-1zm6 0h1v1h-1zm7 0h1v1h-1zm-12 1h1v1h-1zm6 0h1v1h-1zm-22 1h3v1h-3zm17 0h1v1h-1zm7 0h1v1h-1zm3 0h1v1h-1zm-24 1h1v1h-1zm14 0h1v1h-1zm-14 1h1v1h-1zm13 0h1v1h-1zm10 0h1v1h-1zm-22 1h1v1h-1zm12 0h1v1h-1zm-11 1h1v1h-1zm11 0h1v1h-1zm2 0h1v1h-1zm2 0h1v1h-1zm-13 1h1v1h-1zm9 0h2v1h-2zm-8 1h1v1h-1zm4 0h2v1h-2zm10 0h1v1h-1zm-13 1h2v1h-2zm5 0h1v1h-1zm1 1h1v1h-1zm7 0h1v1h-1zm-7 1h1v1h-1zm0 1h1v1h-1zm7 0h1v1h-1zm-8 1h1v1h-1zm10 0h1v1h-1zm-1 2h2v1h-2z"/>
<path fill="#161616" d="M8 -1h1v1h-1zm10 0h1v1h-1zm5 0h2v1h-2zm-15 1h1v1h-1zm10 0h1v1h-1zm5 0h2v1h-2zm0 1h2v1h-2zm0 1h2v1h-2zm-14 1h1v1h-1zm14 0h2v1h-2zm-14 1h1v1h-1zm9 0h1v1h-1zm6 0h1v1h-1zm-16 1h1v1h-1zm12 0h1v1h-1zm4 0h1v1h-1zm-17 1h1v1h-1zm18 1h1v1h-1zm-19 1h1v1h-1zm10 1h1v1h-1zm-17 1h2v1h-2zm6 0h1v1h-1zm-2 1h2v1h-2zm16 0h1v1h-1zm0 1h1v1h-1zm9 0h1v1h-1zm-12 1h1v1h-1zm4 0h1v1h-1zm7 0h1v1h-1zm-10 1h1v1h-1zm4 0h2v1h-2zm-20 1h1v1h-1zm16 0h1v1h-1zm7 0h1v1h-1zm2 0h1v1h-1zm-10 1h2v1h-2zm-14 1h1v1h-1zm14 0h4v1h-4zm10 0h1v1h-1zm-10 1h1v1h-1zm4 1h1v1h-1zm5 0h1v1h-1zm-26 4h2v1h-2zm22 0h1v1h-1zm1 1h1v1h-1zm-11 2h1v1h-1zm13 0h1v1h-1zm-9 1h1v1h-1zm6 0h1v1h-1zm-11 1h1v1h-1zm4 0h1v1h-1zm-4 1h1v1h-1zm4 0h1v1h-1zm-4 1h1v1h-1zm4 0h1v1h-1z"/>
<path fill="#1b1b1b" d="M8 1h1v1h-1zm10 0h1v1h-1zm0 1h1v1h-1zm0 1h1v1h-1zm4 1h1v1h-1zm-16 3h1v1h-1zm20 0h5v1h-5zm-25 3h1v1h-1zm17 0h1v1h-1zm-3 2h1v1h-1zm14 0h2v1h-2zm-12 1h3v1h-3zm1 1h3v1h-3zm-19 1h2v1h-2zm19 0h1v1h-1zm-17 1h1v1h-1zm17 0h2v1h-2zm6 0h1v1h-1zm2 0h1v1h-1zm-25 1h1v1h-1zm2 1h1v1h-1zm17 0h1v1h-1zm6 0h1v1h-1zm-21 1h1v1h-1zm5 2h1v1h-1zm2 0h1v1h-1zm10 0h1v1h-1zm-9 1h1v1h-1zm0 2h1v1h-1zm-1 1h1v1h-1zm-2 2h1v1h-1zm14 0h1v1h-1zm-1 1h2v1h-2z"/>
<path fill="#212121" d="M25 -1h1v1h-1zm0 1h1v1h-1zm0 1h1v1h-1zm-6 3h1v1h-1zm6 2h1v1h-1zm-10 4h1v1h-1zm2 0h1v1h-1zm1 1h1v1h-1zm0 1h1v1h-1zm1 3h5v1h-5zm-20 1h2v1h-2zm21 0h1v1h-1zm-21 1h2v1h-2zm21 0h1v1h-1zm4 0h1v1h-1zm-22 1h1v1h-1zm22 0h1v1h-1zm-20 1h1v1h-1zm17 0h1v1h-1zm3 0h1v1h-1zm2 0h1v1h-1zm-4 1h1v1h-1zm3 0h1v1h-1zm-18 1h1v1h-1zm4 0h1v1h-1zm11 1h1v1h-1zm-21 1h1v1h-1zm12 0h1v1h-1zm9 0h1v1h-1zm1 1h1v1h-1zm1 1h1v1h-1zm-14 1h1v1h-1zm6 1h1v1h-1zm3 0h2v1h-2zm3 1h1v1h-1zm1 1h2v1h-2zm0 1h2v1h-2z"/>
<path fill="#262626" d="M19 -1h1v1h-1zm3 0h1v1h-1zm-3 1h1v1h-1zm3 0h1v1h-1zm0 1h1v1h-1zm-14 1h1v1h-1zm14 0h1v1h-1zm3 0h1v1h-1zm-3 1h1v1h-1zm-14 1h1v1h-1zm13 0h1v1h-1zm-15 2h1v1h-1zm-1 3h1v1h-1zm-3 1h1v1h-1zm14 0h1v1h-1zm-1 1h1v1h-1zm1 1h2v1h-2zm12 1h1v1h-1zm-1 1h1v1h-1zm-6 2h1v1h-1zm-20 2h1v1h-1zm5 2h1v1h-1zm6 2h1v1h-1zm-13 2h2v1h-2zm12 1h1v1h-1zm6 2h2v1h-2zm-2 1h1v1h-1zm6 0h1v1h-1zm4 0h1v1h-1zm-3 1h1v1h-1zm3 0h1v1h-1zm-3 1h1v1h-1zm3 0h1v1h-1z"/>
<path fill="#2b2b2b" d="M19 1h1v1h-1zm0 1h1v1h-1zm-11 1h1v1h-1zm11 0h1v1h-1zm6 0h1v1h-1zm-5 1h1v1h-1zm5 0h1v1h-1zm-18 1h1v1h-1zm18 0h1v1h-1zm1 1h5v1h-5zm-22 4h1v1h-1zm13 1h1v1h-1zm12 2h2v1h-2zm-7 3h2v1h-2zm-1 1h1v1h-1zm-22 1h2v1h-2zm22 0h1v1h-1zm-18 1h1v1h-1zm19 0h1v1h-1zm1 1h2v1h-2zm3 0h1v1h-1zm-3 1h1v1h-1zm2 0h1v1h-1zm-17 1h2v1h-2zm15 1h1v1h-1zm-11 1h1v1h-1zm12 0h1v1h-1zm1 3h1v1h-1zm-16 1h1v1h-1zm0 1h1v1h-1zm6 0h1v1h-1zm11 0h1v1h-1zm-17 1h1v1h-1zm6 0h1v1h-1zm11 0h1v1h-1z"/>
<path fill="#313131" d="M7 -1h1v1h-1zm19 0h1v1h-1zm-19 1h1v1h-1zm19 0h1v1h-1zm0 1h1v1h-1zm-21 6h1v1h-1zm0 1h1v1h-1zm-6 1h2v1h-2zm4 1h1v1h-1zm13 1h1v1h-1zm11 4h1v1h-1zm-5 2h2v1h-2zm0 1h2v1h-2zm1 1h1v1h-1zm-18 1h1v1h-1zm19 1h1v1h-1zm2 0h1v1h-1zm-16 1h2v1h-2zm13 0h1v1h-1zm2 0h1v1h-1zm-13 1h1v1h-1zm12 0h1v1h-1zm-23 1h1v1h-1zm9 1h1v1h-1zm15 1h1v1h-1zm-16 1h1v1h-1zm11 1h1v1h-1zm6 0h1v1h-1zm-5 1h1v1h-1zm0 1h1v1h-1z"/>
<path fill="#363636" d="M4 -1h1v1h-1zm16 0h2v1h-2zm-16 1h1v1h-1zm16 0h2v1h-2zm-13 1h1v1h-1zm13 0h2v1h-2zm6 1h1v1h-1zm-6 1h2v1h-2zm6 2h1v1h-1zm2 0h3v1h-3zm-23 1h1v1h-1zm-4 3h1v1h-1zm1 10h1v1h-1zm2 1h1v1h-1zm2 1h1v1h-1zm18 1h1v1h-1zm2 0h1v1h-1zm-1 1h2v1h-2zm-14 1h1v1h-1zm14 0h1v1h-1zm0 1h1v1h-1zm-16 1h1v1h-1zm7 2h1v1h-1zm3 0h1v1h-1zm8 1h1v1h-1zm0 1h1v1h-1z"/>
<path fill="#3c3c3c" d="M5 -1h1v1h-1zm22 0h1v1h-1zm-22 1h1v1h-1zm22 0h1v1h-1zm-23 1h1v1h-1zm23 0h1v1h-1zm-7 1h2v1h-2zm7 0h1v1h-1zm-1 1h1v1h-1zm-19 1h1v1h-1zm19 0h1v1h-1zm2 0h3v1h-3zm-22 1h1v1h-1zm21 0h1v1h-1zm1 9h1v1h-1zm-1 2h1v1h-1zm-24 4h1v1h-1zm-4 2h2v1h-2zm8 0h1v1h-1zm20 0h1v1h-1zm-25 1h1v1h-1zm9 0h1v1h-1zm16 0h1v1h-1zm-10 5h2v1h-2zm10 0h1v1h-1zm-7 1h1v1h-1zm8 0h3v1h-3zm-8 1h1v1h-1zm8 0h3v1h-3z"/>
<path fill="#414141" d="M6 -1h1v1h-1zm22 0h3v1h-3zm-22 1h1v1h-1zm22 0h3v1h-3zm-23 1h1v1h-1zm23 0h3v1h-3zm-24 1h1v1h-1zm3 0h1v1h-1zm21 0h3v1h-3zm-1 1h4v1h-4zm0 1h1v1h-1zm-23 1h2v1h-2zm0 1h1v1h-1zm0 3h1v1h-1zm25 5h2v1h-2zm-28 5h1v1h-1zm4 2h1v1h-1zm22 0h1v1h-1zm-26 1h1v1h-1zm9 1h1v1h-1zm18 0h1v1h-1zm-18 1h1v1h-1zm16 0h1v1h-1zm-17 1h1v1h-1zm17 2h1v1h-1zm2 1h1v1h-1zm-12 1h1v1h-1zm3 0h1v1h-1zm-3 1h1v1h-1zm3 0h1v1h-1z"/>
<path fill="#474747" d="M3 -1h1v1h-1zm0 1h1v1h-1zm0 1h1v1h-1zm3 0h1v1h-1zm1 2h1v1h-1zm-3 1h1v1h-1zm-1 1h1v1h-1zm1 2h1v1h-1zm-5 1h2v1h-2zm3 1h1v1h-1zm25 8h1v1h-1zm-28 2h2v1h-2zm28 1h1v1h-1zm-23 1h1v1h-1zm-2 1h1v1h-1zm26 0h3v1h-3zm-19 1h1v1h-1zm20 0h2v1h-2zm-27 1h1v1h-1zm25 0h1v1h-1zm-19 4h1v1h-1zm21 0h2v1h-2zm-21 1h1v1h-1zm9 0h2v1h-2zm-9 1h1v1h-1zm9 0h2v1h-2z"/>
<path fill="#4c4c4c" d="M3 2h1v1h-1zm2 0h1v1h-1zm-1 1h1v1h-1zm-1 1h1v1h-1zm3 0h1v1h-1zm-3 2h1v1h-1zm-2 2h1v1h-1zm3 0h1v1h-1zm-1 1h1v1h-1zm24 9h1v1h-1zm0 1h1v1h-1zm-24 2h1v1h-1zm3 1h1v1h-1zm2 1h1v1h-1zm1 1h1v1h-1zm17 1h1v1h-1zm0 1h1v1h-1zm-18 1h1v1h-1zm19 0h1v1h-1z"/>
<path fill="#515151" d="M6 2h1v1h-1zm-3 1h1v1h-1zm2 1h1v1h-1zm-6 3h2v1h-2zm29 8h1v1h-1zm-26 5h1v1h-1zm26 1h1v1h-1zm-25 1h1v1h-1zm25 2h3v1h-3zm-29 1h2v1h-2zm9 1h1v1h-1zm-1 3h1v1h-1zm0 1h1v1h-1z"/>
<path fill="#575757" d="M5 3h2v1h-2zm-3 2h1v1h-1zm0 1h1v1h-1zm-1 1h3v1h-3zm1 1h1v1h-1zm0 13h1v1h-1zm27 0h2v1h-2zm-25 1h2v1h-2zm-1 1h1v1h-1zm4 0h1v1h-1zm1 1h1v1h-1zm-7 1h1v1h-1zm7 0h1v1h-1zm19 0h1v1h-1zm1 2h3v1h-3z"/>
<path fill="#5c5c5c" d="M-1 6h3v1h-3zm4 2h1v1h-1zm26 7h2v1h-2zm-2 11h1v1h-1zm-20 2h1v1h-1zm-1 1h1v1h-1zm0 1h1v1h-1z"/>
<path fill="#626262" d="M1 20h1v1h-1zm-2 1h3v1h-3zm7 2h1v1h-1zm22 2h3v1h-3zm0 1h1v1h-1zm-23 3h1v1h-1zm0 1h1v1h-1z"/>
<path fill="#676767" d="M2 4h1v1h-1zm26 12h1v1h-1zm-29 4h2v1h-2zm29 0h1v1h-1zm-24 3h1v1h-1zm-1 1h1v1h-1zm-1 1h1v1h-1zm27 1h2v1h-2zm-23 2h1v1h-1zm-3 1h2v1h-2zm0 1h2v1h-2z"/>
<path fill="#6d6d6d" d="M1 5h1v1h-1zm4 18h1v1h-1zm2 1h1v1h-1zm0 3h1v1h-1zm-4 1h3v1h-3zm-1 1h1v1h-1zm0 1h1v1h-1z"/>
<path fill="#727272" d="M2 3h1v1h-1zm-3 2h2v1h-2zm30 15h2v1h-2zm-28 8h2v1h-2zm-2 1h3v1h-3zm0 1h3v1h-3z"/>
<path fill="#777777" d="M29 16h2v1h-2zm-1 1h1v1h-1zm0 2h1v1h-1zm-25 6h1v1h-1zm-4 1h3v1h-3zm0 2h2v1h-2z"/>
<path fill="#7d7d7d" d="M2 -1h1v1h-1zm0 1h1v1h-1zm0 1h1v1h-1zm0 1h1v1h-1zm26 16h1v1h-1zm-24 6h1v1h-1zm2 0h1v1h-1zm1 1h1v1h-1zm-5 1h1v1h-1zm5 0h1v1h-1zm-8 1h5v1h-5z"/>
<path fill="#828282" d="M1 4h1v1h-1zm2 22h1v1h-1zm1 1h1v1h-1zm2 0h1v1h-1z"/>
<path fill="#888888" d="M29 17h2v1h-2zm0 2h2v1h-2zm-24 5h1v1h-1zm0 3h1v1h-1z"/>
<path fill="#8d8d8d" d="M-1 4h2v1h-2zm5 21h1v1h-1z"/>
<path fill="#929292" d="M29 18h2v1h-2zm-25 8h1v1h-1z"/>
<path fill="#989898" d="M1 3h1v1h-1zm5 22h1v1h-1zm0 1h1v1h-1z"/>
<path fill="#9d9d9d" d="M5 25h1v1h-1zm0 1h1v1h-1z"/>
<path fill="#a8a8a8" d="M1 2h1v1h-1zm-2 1h2v1h-2z"/>
<path fill="#b3b3b3" d="M1 1h1v1h-1z"/>
<path fill="#b8b8b8" d="M1 -1h1v1h-1zm0 1h1v1h-1z"/>
<path fill="#bebebe" d="M-1 2h2v1h-2z"/>
<path fill="#c9c9c9" d="M-1 1h2v1h-2z"/>
<path fill="#cecece" d="M-1 -1h2v1h-2zm0 1h2v1h-2z"/>
</g></g>
<path d="M397 2187 401 2186 406 2181 408 2172 408 2163" fill="none" stroke="#7c2382" stroke-width="1" stroke-opacity="0.95"/>
<path d="M397 2202 401 2201 406 2200 410 2194 414 2181 415 2163M454 2434 451 2437 453 2442 454 2442 459 2442 460 2437 459 2435 454 2434" fill="none" stroke="#aa337d" stroke-width="1" stroke-opacity="0.95"/>
<path d="M397 2214 401 2214 407 2212 410 2210 416 2203 420 2190 421 2163M711 2341 706 2341 702 2344 699 2349 698 2358 698 2362 702 2370 706 2372 711 2373M450 2419 445 2421 441 2424 437 2429 428 2442 429 2446 434 2451 444 2455 450 2456 459 2456 463 2455 467 2451 471 2446 473 2442 473 2433 472 2429 468 2424 463 2421 459 2420 450 2419" fill="none" stroke="#d5446d" stroke-width="1" stroke-opacity="0.95"/>
<path d="M397 2229 406 2228 410 2227 414 2223 419 2218 423 2209 426 2203 427 2194 426 2163M711 2327 706 2327 702 2329 698 2333 692 2345 691 2358 692 2371 696 2380 702 2385 711 2386M397 2391 410 2389 411 2389 414 2384 412 2380 410 2379 406 2377 397 2376M711 2430 698 2432 694 2433 690 2437 691 2442 697 2446 702 2448 711 2448M459 2477 460 2473 472 2463 476 2457 480 2446 483 2433 482 2424 480 2420 475 2415 459 2407 450 2405 445 2405 441 2407 437 2410 427 2424 419 2431 410 2434 397 2435" fill="none" stroke="#f4675c" stroke-width="1" stroke-opacity="0.95"/>
<path d="M455 2163 453 2172 450 2176 445 2182 441 2185 436 2181 434 2172 434 2163M701 2163 701 2172 699 2176 695 2185 689 2194 685 2203 689 2207 702 2200 711 2199M397 2255 406 2256 428 2266 432 2267 437 2266 441 2264 444 2261 446 2256 448 2247 446 2238 441 2225 445 2221 459 2218 467 2214 474 2207 476 2203 477 2199 476 2194 473 2185 466 2172 465 2163M711 2313 702 2315 698 2317 693 2322 688 2331 686 2340 685 2349 684 2380 686 2389 692 2402 693 2407 691 2411 678 2420 674 2424 671 2430 670 2437 672 2446 675 2452 680 2457 689 2462 698 2466 711 2468M397 2399 410 2400 418 2402 422 2407 423 2411 422 2415 419 2420 414 2424 406 2427 397 2428M487 2477 489 2451 493 2437 498 2429 512 2417 513 2415 513 2411 507 2408 490 2408 481 2405 472 2400 459 2390 454 2388 437 2383 419 2370 410 2367 397 2366M604 2477 604 2473 599 2468 587 2465 578 2466 574 2468 571 2473 570 2477" fill="none" stroke="#fd9a6a" stroke-width="1" stroke-opacity="0.95"/>
<path d="M599 2163 597 2190 598 2199 600 2203 605 2208 609 2211 618 2212 622 2211 628 2207 632 2203 634 2199 635 2190 634 2163M667 2163 666 2176 662 2207 663 2221 667 2229 671 2233 680 2236 711 2234M397 2267 406 2268 423 2275 432 2277 441 2276 450 2269 453 2265 457 2256 461 2238 463 2234 466 2230 481 2215 486 2207 488 2203 487 2194 481 2176 479 2163M711 2300 702 2301 698 2302 690 2309 685 2318 680 2331 677 2367 675 2373 671 2379 667 2380 662 2378 658 2375 655 2371 653 2362 651 2340 649 2335 644 2331 636 2328 627 2329 618 2333 615 2336 614 2340 615 2349 618 2358 621 2362 633 2376 637 2384 637 2389 634 2407 635 2411 638 2415 653 2426 658 2433 660 2442 663 2477M397 2406 406 2407 411 2411 411 2415 406 2420 397 2421M500 2477 500 2455 503 2446 507 2440 524 2429 529 2424 533 2420 535 2415 535 2411 534 2407 529 2399 522 2393 516 2391 512 2392 494 2397 485 2397 476 2392 465 2380 459 2376 441 2369 428 2361 414 2356 406 2354 397 2353M637 2477 636 2473 633 2468 629 2464 618 2458 605 2454 583 2453 569 2454 560 2460 557 2464 555 2468 554 2477M565 2272 560 2275 559 2278 558 2283 560 2287 563 2291 569 2295 578 2296 583 2295 586 2291 588 2287 588 2283 586 2278 583 2275 574 2271 569 2271 565 2272" fill="none" stroke="#fec68a" stroke-width="1" stroke-opacity="0.95"/>
<path d="M498.5 2163.2 582.2 2163.2 582.4 2185.3 584.5 2198.6 589.3 2207.4 595.8 2213.5 604.6 2218.2 613.5 2220.4 622.3 2220.5 640.0 2217.1 644.4 2218.0 648.9 2221.6 657.4 2234.0 661.5 2238.4 671.0 2244.3 684.2 2247.0 710.8 2247.5 710.8 2287.8 697.5 2289.3 688.7 2293.7 681.7 2300.3 671.0 2315.0 666.6 2319.1 662.1 2321.0 657.7 2320.9 653.3 2319.6 636.9 2313.6 625.9 2309.2 618.4 2304.8 613.5 2300.3 610.2 2295.9 600.2 2276.9 595.8 2272.2 586.9 2267.0 578.1 2264.5 569.2 2264.3 564.8 2265.3 560.4 2267.4 556.0 2271.4 552.4 2278.2 551.8 2282.6 553.3 2291.5 556.0 2297.4 566.7 2313.6 568.5 2318.0 572.7 2335.7 575.3 2340.2 578.1 2342.9 591.4 2350.8 595.8 2354.4 616.8 2380.0 620.5 2388.8 621.0 2406.5 622.7 2415.4 624.8 2419.8 634.3 2433.1 636.2 2437.5 635.5 2441.9 631.2 2444.1 626.7 2444.5 595.8 2442.5 582.5 2442.7 569.2 2444.3 560.4 2447.3 555.0 2450.7 550.8 2455.2 548.3 2459.6 545.8 2468.4 545.4 2477.3 513.4 2477.3 514.8 2464.0 518.5 2455.2 525.0 2445.8 540.3 2428.6 545.2 2419.8 546.6 2410.9 545.7 2406.5 541.2 2397.7 537.6 2393.2 529.4 2385.7 520.6 2380.8 511.7 2379.2 494.0 2380.2 489.6 2379.4 485.2 2377.4 467.5 2365.5 438.9 2349.0 432.1 2343.8 414.4 2327.5 405.6 2323.2 396.7 2322.4 396.7 2282.4 405.6 2282.9 427.7 2288.7 436.5 2288.5 445.4 2285.2 454.2 2278.7 463.0 2269.4 469.6 2260.5 482.7 2234.0 494.7 2216.3 499.1 2207.4 500.3 2203.0 500.5 2194.2 495.2 2172.1 494.7 2163.2 498.5 2163.2" fill="none" stroke="#fff" stroke-width="4.2" stroke-dasharray="4 3"/>
</g>
<text x="410" y="2205" font-size="36" text-anchor="start" fill="#fff" >(VII)</text>
<text x="700" y="2203" font-size="32" text-anchor="end" fill="#fff" >t=210 min</text>
<clipPath id="clipl6"><rect x="725.4" y="2160.7" width="319" height="318.5"/></clipPath>
<g clip-path="url(#clipl6)"><g filter="url(#hmap)"><g shape-rendering="crispEdges" transform="translate(725.4 2160.7) scale(10.6333 10.6167)">
<path fill="#000000" d="M14 -1h2v1h-2zm0 1h2v1h-2zm1 1h1v1h-1zm10 2h1v1h-1zm0 1h1v1h-1zm-18 3h2v1h-2zm18 4h1v1h-1zm-6 1h2v1h-2zm5 0h2v1h-2zm0 1h2v1h-2zm-15 7h2v1h-2zm0 1h1v1h-1zm8 3h1v1h-1zm-8 4h1v1h-1zm0 1h2v1h-2zm0 1h2v1h-2z"/>
<path fill="#050505" d="M11 -1h2v1h-2zm0 1h2v1h-2zm0 1h4v1h-4zm0 1h4v1h-4zm0 1h3v1h-3zm0 1h3v1h-3zm0 1h3v1h-3zm14 0h1v1h-1zm-17 1h4v1h-4zm5 0h2v1h-2zm12 0h1v1h-1zm-19 1h1v1h-1zm3 0h3v1h-3zm5 0h2v1h-2zm-10 1h8v1h-8zm10 0h2v1h-2zm-11 1h3v1h-3zm7 0h2v1h-2zm3 0h3v1h-3zm-11 1h4v1h-4zm8 0h6v1h-6zm15 0h1v1h-1zm-21 1h21v1h-21zm0 1h2v1h-2zm4 0h6v1h-6zm9 0h2v1h-2zm4 0h3v1h-3zm5 0h1v1h-1zm-22 1h2v1h-2zm4 0h6v1h-6zm10 0h4v1h-4zm5 0h1v1h-1zm-19 1h11v1h-11zm15 0h3v1h-3zm5 0h2v1h-2zm-20 1h6v1h-6zm9 0h2v1h-2zm5 0h4v1h-4zm-14 1h1v1h-1zm10 0h4v1h-4zm-11 1h2v1h-2zm12 0h3v1h-3zm0 1h2v1h-2zm-5 3h1v1h-1zm11 0h1v1h-1zm-1 1h3v1h-3zm-3 1h1v1h-1zm4 0h2v1h-2zm-5 1h1v1h-1zm2 0h2v1h-2zm3 0h3v1h-3zm-5 1h3v1h-3zm5 0h3v1h-3zm-5 1h3v1h-3zm5 0h2v1h-2zm-2 1h2v1h-2zm-9 1h1v1h-1zm4 0h3v1h-3zm5 0h2v1h-2zm-8 1h1v1h-1zm2 0h4v1h-4zm5 0h3v1h-3zm-7 1h1v1h-1zm2 0h4v1h-4zm5 0h3v1h-3z"/>
<path fill="#0b0b0b" d="M13 -1h1v1h-1zm3 0h1v1h-1zm-3 1h1v1h-1zm3 0h1v1h-1zm-1 2h1v1h-1zm10 0h1v1h-1zm-11 1h1v1h-1zm0 1h1v1h-1zm-4 1h1v1h-1zm4 0h1v1h-1zm-7 1h1v1h-1zm5 0h1v1h-1zm3 0h1v1h-1zm11 0h1v1h-1zm-21 1h1v1h-1zm7 0h2v1h-2zm4 0h1v1h-1zm9 0h2v1h-2zm-22 1h1v1h-1zm9 0h2v1h-2zm4 0h1v1h-1zm9 0h2v1h-2zm-23 1h1v1h-1zm4 0h4v1h-4zm6 0h1v1h-1zm4 0h1v1h-1zm9 0h2v1h-2zm-26 1h3v1h-3zm7 0h4v1h-4zm10 0h1v1h-1zm8 0h1v1h-1zm2 0h1v1h-1zm-27 1h5v1h-5zm27 0h1v1h-1zm-24 1h2v1h-2zm4 0h2v1h-2zm8 0h3v1h-3zm-11 1h1v1h-1zm3 0h2v1h-2zm8 0h4v1h-4zm8 0h1v1h-1zm4 0h1v1h-1zm-23 1h1v1h-1zm12 0h4v1h-4zm7 0h2v1h-2zm-19 1h1v1h-1zm7 0h3v1h-3zm5 0h3v1h-3zm7 0h2v1h-2zm-19 1h1v1h-1zm2 0h5v1h-5zm8 0h1v1h-1zm5 0h4v1h-4zm-4 1h1v1h-1zm4 0h1v1h-1zm-15 1h1v1h-1zm14 0h1v1h-1zm-8 1h1v1h-1zm11 2h1v1h-1zm2 0h1v1h-1zm-3 1h1v1h-1zm4 0h1v1h-1zm-7 1h1v1h-1zm2 0h3v1h-3zm5 0h1v1h-1zm-3 1h1v1h-1zm-5 1h1v1h-1zm4 0h2v1h-2zm-4 1h1v1h-1zm4 0h2v1h-2zm4 0h1v1h-1zm-9 1h5v1h-5zm7 0h1v1h-1zm-10 1h3v1h-3zm6 0h2v1h-2zm4 0h1v1h-1zm-13 1h1v1h-1zm4 0h1v1h-1zm5 0h1v1h-1zm4 0h1v1h-1zm-13 1h1v1h-1zm4 0h1v1h-1zm5 0h1v1h-1zm4 0h1v1h-1z"/>
<path fill="#101010" d="M24 3h1v1h-1zm0 1h1v1h-1zm2 0h1v1h-1zm-11 1h1v1h-1zm11 0h1v1h-1zm-20 1h1v1h-1zm-7 3h3v1h-3zm18 1h1v1h-1zm-18 2h3v1h-3zm3 1h1v1h-1zm22 2h1v1h-1zm-12 1h1v1h-1zm10 0h1v1h-1zm-14 1h1v1h-1zm11 0h1v1h-1zm-15 1h1v1h-1zm10 0h1v1h-1zm-6 1h1v1h-1zm0 1h1v1h-1zm3 0h1v1h-1zm4 4h1v1h-1zm9 0h1v1h-1zm0 1h1v1h-1zm-10 1h1v1h-1zm-1 1h1v1h-1zm9 0h1v1h-1zm-14 1h1v1h-1z"/>
<path fill="#161616" d="M10 -1h1v1h-1zm0 1h1v1h-1zm0 1h1v1h-1zm6 0h1v1h-1zm9 0h1v1h-1zm-15 1h1v1h-1zm0 1h1v1h-1zm5 0h1v1h-1zm11 0h1v1h-1zm-16 1h1v1h-1zm5 0h1v1h-1zm-6 1h1v1h-1zm15 0h1v1h-1zm-8 1h1v1h-1zm-12 1h1v1h-1zm-2 1h1v1h-1zm15 1h1v1h-1zm1 1h6v1h-6zm-16 4h1v1h-1zm24 0h1v1h-1zm-24 1h1v1h-1zm23 0h1v1h-1zm-23 1h1v1h-1zm8 0h2v1h-2zm13 0h2v1h-2zm-21 1h1v1h-1zm3 0h1v1h-1zm2 0h1v1h-1zm2 0h1v1h-1zm4 0h1v1h-1zm7 0h1v1h-1zm-12 1h2v1h-2zm10 0h1v1h-1zm-8 1h1v1h-1zm5 0h3v1h-3zm5 1h2v1h-2zm-12 1h1v1h-1zm3 0h1v1h-1zm8 0h1v1h-1zm4 0h1v1h-1zm-6 1h2v1h-2zm7 1h1v1h-1zm0 3h1v1h-1zm-15 1h4v1h-4zm13 1h1v1h-1z"/>
<path fill="#1b1b1b" d="M25 -1h1v1h-1zm0 1h1v1h-1zm1 2h1v1h-1zm-2 7h1v1h-1zm3 2h1v1h-1zm0 1h1v1h-1zm-28 1h3v1h-3zm26 3h1v1h-1zm-19 1h1v1h-1zm15 0h1v1h-1zm4 0h1v1h-1zm-12 1h1v1h-1zm6 0h1v1h-1zm6 0h1v1h-1zm-22 1h1v1h-1zm11 0h1v1h-1zm4 0h2v1h-2zm7 0h1v1h-1zm-13 1h1v1h-1zm7 0h1v1h-1zm3 0h1v1h-1zm-4 1h1v1h-1zm6 0h1v1h-1zm-15 1h1v1h-1zm15 0h1v1h-1zm-9 1h1v1h-1zm-1 2h1v1h-1zm-1 1h1v1h-1zm10 1h1v1h-1zm-1 2h1v1h-1zm0 1h1v1h-1z"/>
<path fill="#212121" d="M26 1h1v1h-1zm-2 1h1v1h-1zm-16 3h1v1h-1zm-3 1h1v1h-1zm19 0h1v1h-1zm-21 1h1v1h-1zm14 0h1v1h-1zm-18 1h3v1h-3zm18 0h1v1h-1zm10 2h1v1h-1zm-28 4h3v1h-3zm2 1h1v1h-1zm9 2h1v1h-1zm2 0h1v1h-1zm10 0h1v1h-1zm2 0h1v1h-1zm-22 1h1v1h-1zm18 0h1v1h-1zm6 0h1v1h-1zm-22 1h1v1h-1zm7 0h1v1h-1zm2 0h1v1h-1zm7 0h2v1h-2zm-2 1h1v1h-1zm5 0h3v1h-3zm-11 1h1v1h-1zm4 1h1v1h-1zm9 2h1v1h-1z"/>
<path fill="#262626" d="M26 -1h1v1h-1zm0 1h1v1h-1zm-10 2h1v1h-1zm-7 2h1v1h-1zm7 1h1v1h-1zm8 2h1v1h-1zm0 1h1v1h-1zm-6 1h1v1h-1zm9 4h1v1h-1zm-28 2h2v1h-2zm27 0h1v1h-1zm-25 1h1v1h-1zm10 1h1v1h-1zm12 0h1v1h-1zm3 0h1v1h-1zm-21 1h1v1h-1zm2 0h1v1h-1zm3 0h1v1h-1zm11 0h1v1h-1zm3 0h1v1h-1zm-12 1h1v1h-1zm12 0h1v1h-1zm2 0h1v1h-1zm-13 1h1v1h-1zm3 0h2v1h-2zm1 1h1v1h-1zm8 0h1v1h-1zm-15 1h1v1h-1zm5 0h1v1h-1zm10 0h1v1h-1zm0 1h1v1h-1zm-11 1h1v1h-1zm11 1h1v1h-1zm-13 1h1v1h-1zm-4 1h1v1h-1zm15 1h1v1h-1z"/>
<path fill="#2b2b2b" d="M24 1h1v1h-1zm-1 2h1v1h-1zm0 1h1v1h-1zm-16 1h1v1h-1zm10 1h1v1h-1zm-15 1h1v1h-1zm21 2h1v1h-1zm4 0h1v1h-1zm1 2h1v1h-1zm-29 5h2v1h-2zm27 0h1v1h-1zm-25 1h1v1h-1zm11 1h1v1h-1zm10 0h1v1h-1zm-15 1h1v1h-1zm15 0h2v1h-2zm-8 1h2v1h-2zm12 0h1v1h-1zm-10 1h1v1h-1zm-2 2h1v1h-1zm-1 2h1v1h-1zm11 2h1v1h-1zm-1 2h1v1h-1zm0 1h1v1h-1z"/>
<path fill="#313131" d="M9 -1h1v1h-1zm15 0h1v1h-1zm-15 1h1v1h-1zm15 0h1v1h-1zm-15 1h1v1h-1zm-5 5h1v1h-1zm-3 1h1v1h-1zm26 1h1v1h-1zm-8 1h4v1h-4zm10 2h2v1h-2zm-1 1h1v1h-1zm-1 2h1v1h-1zm-28 3h2v1h-2zm7 1h1v1h-1zm5 0h1v1h-1zm12 0h1v1h-1zm-10 3h3v1h-3zm13 0h1v1h-1zm-18 1h1v1h-1zm6 0h1v1h-1zm12 0h5v1h-5zm0 1h5v1h-5zm-17 3h3v1h-3zm16 0h1v1h-1zm-18 3h1v1h-1zm0 1h1v1h-1z"/>
<path fill="#363636" d="M17 -1h1v1h-1zm0 1h1v1h-1zm-8 2h1v1h-1zm14 0h1v1h-1zm-14 1h1v1h-1zm7 0h1v1h-1zm0 1h1v1h-1zm7 1h1v1h-1zm4 1h1v1h-1zm-28 1h2v1h-2zm19 0h1v1h-1zm9 0h1v1h-1zm-9 1h1v1h-1zm10 2h1v1h-1zm1 2h2v1h-2zm-27 7h1v1h-1zm5 1h1v1h-1zm19 4h1v1h-1z"/>
<path fill="#3c3c3c" d="M6 5h1v1h-1zm-3 1h1v1h-1zm26 4h2v1h-2zm-1 3h1v1h-1zm-27 5h1v1h-1zm4 1h1v1h-1zm-2 1h2v1h-2zm24 1h1v1h-1zm-16 1h1v1h-1zm2 0h1v1h-1zm-4 1h1v1h-1zm-2 5h1v1h-1zm17 0h1v1h-1z"/>
<path fill="#414141" d="M21 -1h1v1h-1zm0 1h1v1h-1zm-4 1h1v1h-1zm6 0h1v1h-1zm-1 1h1v1h-1zm0 1h1v1h-1zm-14 1h1v1h-1zm9 1h1v1h-1zm10 0h1v1h-1zm-25 1h1v1h-1zm16 0h1v1h-1zm5 0h1v1h-1zm-4 2h1v1h-1zm4 0h1v1h-1zm4 7h1v1h-1zm0 3h1v1h-1zm-21 1h1v1h-1zm21 0h1v1h-1zm0 1h1v1h-1zm1 1h3v1h-3zm-16 1h1v1h-1zm1 2h1v1h-1zm-4 1h1v1h-1zm3 0h1v1h-1zm-4 1h1v1h-1zm17 1h1v1h-1zm-1 2h1v1h-1zm0 1h1v1h-1z"/>
<path fill="#474747" d="M22 -1h2v1h-2zm0 1h2v1h-2zm-1 1h2v1h-2zm1 3h1v1h-1zm5 0h1v1h-1zm-22 1h1v1h-1zm-6 1h3v1h-3zm24 1h1v1h-1zm6 6h2v1h-2zm-2 3h1v1h-1zm0 1h1v1h-1zm-28 1h2v1h-2zm8 3h1v1h-1zm6 2h1v1h-1zm-4 1h1v1h-1zm18 0h1v1h-1zm-28 1h4v1h-4zm27 0h1v1h-1zm-24 1h1v1h-1z"/>
<path fill="#4c4c4c" d="M3 -1h1v1h-1zm0 1h1v1h-1zm18 2h1v1h-1zm-17 3h1v1h-1zm18 0h1v1h-1zm-3 2h1v1h-1zm1 1h3v1h-3zm8 1h1v1h-1zm0 5h1v1h-1zm-20 9h1v1h-1zm2 2h2v1h-2zm-11 1h3v1h-3zm8 1h1v1h-1zm18 1h1v1h-1z"/>
<path fill="#515151" d="M2 -1h1v1h-1zm6 0h1v1h-1zm12 0h1v1h-1zm-18 1h1v1h-1zm6 0h1v1h-1zm12 0h1v1h-1zm-18 1h2v1h-2zm25 2h1v1h-1zm-24 2h1v1h-1zm2 15h2v1h-2zm23 0h1v1h-1zm-18 3h1v1h-1zm18 1h3v1h-3zm-25 1h1v1h-1zm5 0h1v1h-1zm-5 1h1v1h-1zm23 0h1v1h-1zm-1 3h1v1h-1zm0 1h1v1h-1z"/>
<path fill="#575757" d="M8 1h1v1h-1zm12 0h1v1h-1zm-3 1h1v1h-1zm10 0h1v1h-1zm-6 1h1v1h-1zm-19 2h1v1h-1zm17 1h1v1h-1zm3 0h1v1h-1zm-2 1h3v1h-3zm9 2h2v1h-2zm0 5h2v1h-2zm-28 5h1v1h-1zm1 1h1v1h-1zm27 0h2v1h-2zm-26 1h1v1h-1zm-1 3h1v1h-1zm6 0h1v1h-1z"/>
<path fill="#5c5c5c" d="M1 -1h1v1h-1zm17 0h1v1h-1zm9 0h1v1h-1zm-26 1h1v1h-1zm17 0h1v1h-1zm9 0h1v1h-1zm-26 1h1v1h-1zm26 0h1v1h-1zm-25 1h2v1h-2zm6 0h1v1h-1zm0 1h1v1h-1zm-1 1h1v1h-1zm10 0h1v1h-1zm4 0h1v1h-1zm-22 1h3v1h-3zm19 0h1v1h-1zm3 0h1v1h-1zm-1 1h2v1h-2zm8 2h1v1h-1zm0 7h1v1h-1zm-24 6h1v1h-1zm8 2h1v1h-1zm-11 1h1v1h-1zm2 0h1v1h-1zm7 0h1v1h-1zm2 0h1v1h-1zm-9 3h1v1h-1zm23 0h1v1h-1zm-20 2h1v1h-1zm0 1h1v1h-1z"/>
<path fill="#626262" d="M-1 -1h2v1h-2zm5 0h1v1h-1zm15 0h1v1h-1zm-20 1h2v1h-2zm5 0h1v1h-1zm15 0h1v1h-1zm-20 1h2v1h-2zm3 2h2v1h-2zm0 1h2v1h-2zm26 3h1v1h-1zm0 9h1v1h-1zm0 3h1v1h-1zm-17 4h1v1h-1zm-12 1h2v1h-2zm28 1h1v1h-1zm-20 1h1v1h-1zm-5 1h1v1h-1zm4 1h1v1h-1zm20 0h1v1h-1z"/>
<path fill="#676767" d="M4 1h1v1h-1zm14 0h1v1h-1zm-17 1h1v1h-1zm19 0h1v1h-1zm-3 1h1v1h-1zm-18 1h3v1h-3zm5 0h1v1h-1zm24 2h1v1h-1zm1 9h2v1h-2zm-1 2h1v1h-1zm0 1h1v1h-1zm-29 1h2v1h-2zm4 3h1v1h-1zm-1 1h2v1h-2zm9 1h1v1h-1zm-7 2h1v1h-1zm-3 1h1v1h-1zm3 0h1v1h-1zm2 0h1v1h-1zm20 2h1v1h-1zm0 1h1v1h-1z"/>
<path fill="#6d6d6d" d="M19 1h1v1h-1zm-20 1h2v1h-2zm0 1h3v1h-3zm20 2h2v1h-2zm10 3h2v1h-2zm0 8h2v1h-2zm0 3h2v1h-2zm-27 2h1v1h-1zm5 1h1v1h-1zm-8 5h2v1h-2z"/>
<path fill="#727272" d="M4 2h1v1h-1zm1 2h2v1h-2zm23 1h1v1h-1zm-23 16h2v1h-2zm-3 1h1v1h-1zm2 3h1v1h-1zm1 2h1v1h-1zm-2 1h3v1h-3zm2 1h1v1h-1zm0 1h1v1h-1z"/>
<path fill="#777777" d="M7 -1h1v1h-1zm0 1h1v1h-1zm-3 3h1v1h-1zm16 0h1v1h-1zm0 1h1v1h-1zm9 3h2v1h-2zm0 10h2v1h-2zm0 1h2v1h-2zm-28 5h1v1h-1zm26 3h1v1h-1zm0 2h1v1h-1zm-24 1h2v1h-2zm24 0h1v1h-1zm-24 1h2v1h-2zm24 0h1v1h-1z"/>
<path fill="#7d7d7d" d="M5 -1h1v1h-1zm0 1h1v1h-1zm2 1h1v1h-1zm11 1h1v1h-1zm11 4h2v1h-2zm-28 14h1v1h-1zm3 2h1v1h-1zm-5 1h2v1h-2zm8 2h1v1h-1zm21 0h1v1h-1zm-23 1h2v1h-2zm22 1h1v1h-1zm-25 1h1v1h-1z"/>
<path fill="#828282" d="M5 1h1v1h-1zm2 1h1v1h-1zm12 0h1v1h-1zm-12 1h1v1h-1zm11 1h1v1h-1zm10 0h1v1h-1zm0 25h3v1h-3zm0 1h3v1h-3z"/>
<path fill="#888888" d="M6 -1h1v1h-1zm0 1h1v1h-1zm13 4h1v1h-1zm10 1h2v1h-2zm-22 18h1v1h-1zm-3 1h1v1h-1zm25 1h2v1h-2zm-28 3h1v1h-1zm27 0h1v1h-1zm-26 1h1v1h-1zm0 1h1v1h-1z"/>
<path fill="#8d8d8d" d="M6 1h1v1h-1zm-1 1h1v1h-1zm0 1h1v1h-1zm13 0h1v1h-1zm-19 17h2v1h-2zm2 1h1v1h-1zm0 1h1v1h-1zm3 1h1v1h-1zm3 1h1v1h-1zm-8 4h2v1h-2zm30 0h2v1h-2z"/>
<path fill="#929292" d="M19 3h1v1h-1zm9 0h1v1h-1z"/>
<path fill="#989898" d="M28 1h1v1h-1zm-22 1h1v1h-1zm22 0h1v1h-1zm-22 1h1v1h-1zm-7 19h2v1h-2zm6 3h1v1h-1zm23 1h1v1h-1zm0 1h1v1h-1zm-27 2h1v1h-1zm0 1h1v1h-1z"/>
<path fill="#9d9d9d" d="M28 -1h1v1h-1zm0 1h1v1h-1zm1 4h2v1h-2zm-30 17h2v1h-2zm6 1h2v1h-2zm1 3h1v1h-1zm23 2h2v1h-2zm-30 2h2v1h-2zm0 1h2v1h-2z"/>
<path fill="#a3a3a3" d="M29 26h2v1h-2z"/>
<path fill="#aeaeae" d="M29 3h2v1h-2z"/>
<path fill="#b3b3b3" d="M29 -1h2v1h-2zm0 1h2v1h-2zm0 1h2v1h-2zm0 1h2v1h-2zm-24 22h1v1h-1z"/>
<path fill="#b8b8b8" d="M5 23h1v1h-1zm1 1h1v1h-1z"/>
<path fill="#bebebe" d="M6 23h1v1h-1z"/>
</g></g>
<path d="M790 2408 786 2411 785 2415 788 2419 790 2420 792 2419 794 2418 795 2415 794 2411 790 2408" fill="none" stroke="#7c2382" stroke-width="1" stroke-opacity="0.95"/>
<path d="M1030 2163 1030 2185 1033 2198 1033 2201 1038 2206 1042 2207M1042 2439 1038 2440 1033 2442 1032 2446 1034 2450 1038 2452 1042 2452M785 2400 781 2403 779 2406 777 2411 778 2419 781 2425 785 2429 790 2431 794 2431 799 2427 800 2424 802 2419 801 2411 799 2405 794 2400 790 2398 785 2400" fill="none" stroke="#aa337d" stroke-width="1" stroke-opacity="0.95"/>
<path d="M785 2163 784 2172 777 2189 777 2198 781 2203 785 2205 790 2206 794 2206 801 2203 805 2198 807 2194 806 2185 802 2172 801 2163M1023 2163 1024 2189 1027 2207 1033 2221 1038 2226 1042 2227M728 2410 736 2409 741 2406 745 2402 747 2397 747 2393 745 2386 741 2380 736 2376 732 2375 728 2375M1042 2430 1033 2431 1028 2433 1022 2437 1020 2442 1019 2446 1019 2455 1021 2459 1028 2473 1029 2477M758 2477 757 2473 755 2468 751 2464 741 2460 728 2458M927 2185 923 2187 918 2194 917 2198 918 2203 923 2209 927 2211 931 2212 936 2211 939 2207 941 2203 940 2198 936 2189 931 2186 927 2185M785 2392 777 2397 773 2402 771 2406 770 2415 773 2424 778 2433 785 2441 790 2442 794 2441 799 2438 803 2433 807 2424 807 2415 805 2406 799 2396 794 2392 790 2391 785 2392" fill="none" stroke="#d5446d" stroke-width="1" stroke-opacity="0.95"/>
<path d="M773 2163 772 2172 767 2184 763 2192 759 2195 754 2194 750 2190 743 2181 737 2172 735 2163M926 2163 925 2167 914 2187 911 2194 910 2203 911 2207 914 2212 923 2219 940 2227 949 2228 952 2225 953 2220 953 2207 951 2198 945 2185 933 2167 933 2163M1018 2163 1020 2198 1026 2229 1029 2248 1033 2256 1038 2258 1042 2259M728 2216 741 2215 759 2208 772 2212 785 2213 799 2211 807 2207 812 2203 814 2198 815 2194 815 2185 813 2172 812 2163M1042 2321 1038 2321 1033 2324 1029 2330 1026 2340 1025 2349 1027 2362 1029 2368 1033 2373 1038 2375 1042 2375M728 2421 741 2419 754 2414 759 2414 763 2420 769 2433 771 2442 771 2446 768 2450 763 2453 759 2453 736 2450 728 2449M1042 2423 1033 2424 1024 2426 1020 2428 1015 2433 1013 2437 1010 2446 1004 2468 1003 2477M794 2477 794 2464 797 2455 809 2437 813 2428 814 2424 814 2419 812 2411 806 2397 799 2387 794 2383 790 2382 781 2385 767 2394 763 2396 759 2392 751 2380 741 2369 736 2367 728 2365M847 2409 843 2412 840 2415 839 2419 842 2424 847 2425 852 2424 856 2421 858 2415 856 2410 852 2409 847 2409" fill="none" stroke="#f4675c" stroke-width="1" stroke-opacity="0.95"/>
<path d="M914 2163 913 2172 905 2189 903 2198 904 2207 905 2212 909 2217 921 2229 923 2234 927 2247 930 2251 936 2255 940 2256 958 2257 967 2256 971 2254 974 2251 977 2247 977 2243 976 2234 967 2207 965 2194 966 2189 967 2185 976 2176 978 2172 980 2163M1013 2163 1014 2194 1022 2256 1024 2261 1029 2267 1033 2270 1042 2272M728 2234 741 2234 754 2231 776 2223 803 2216 813 2212 818 2207 821 2203 823 2198 824 2189 822 2163M1042 2299 1038 2299 1033 2301 1029 2305 1026 2309 1017 2327 1015 2335 1015 2340 1018 2375 1020 2384 1024 2388 1029 2389 1042 2390M1042 2416 1029 2416 1020 2417 1016 2419 1011 2422 1007 2429 998 2450 987 2468 985 2477M802 2477 803 2464 807 2455 812 2447 821 2437 825 2434 830 2434 843 2436 852 2435 861 2431 865 2427 869 2420 871 2415 871 2406 869 2402 865 2400 861 2399 852 2400 843 2402 825 2413 821 2412 816 2406 807 2389 799 2370 794 2366 790 2366 776 2377 772 2380 767 2382 763 2381 759 2378 741 2359 736 2356 732 2354 728 2354" fill="none" stroke="#fd9a6a" stroke-width="1" stroke-opacity="0.95"/>
<path d="M907 2163 906 2172 905 2176 897 2194 895 2203 895 2207 899 2216 911 2234 915 2256 918 2260 923 2264 927 2265 936 2267 962 2267 971 2267 976 2266 980 2263 985 2256 986 2251 987 2243 986 2234 980 2212 978 2203 980 2194 989 2176 991 2172 992 2163M1007 2163 1007 2176 1012 2220 1015 2256 1018 2269 1024 2282 1024 2287 1016 2309 1004 2331 1004 2340 1008 2358 1007 2369 1002 2375 996 2380 993 2384 993 2393 997 2415 997 2424 995 2433 993 2438 989 2446 976 2459 973 2464 972 2468 971 2477M728 2250 736 2249 750 2245 767 2237 785 2228 816 2218 825 2212 829 2207 832 2198 832 2189 831 2163M809 2477 810 2464 816 2454 821 2450 825 2448 834 2447 847 2447 856 2444 869 2437 876 2428 884 2411 887 2406 892 2401 908 2393 914 2389 916 2384 914 2380 905 2377 866 2371 866 2362 865 2358 861 2351 856 2347 852 2345 847 2344 843 2344 837 2349 835 2353 835 2358 839 2362 846 2366 865 2371 867 2375 866 2380 864 2384 859 2389 834 2400 825 2402 821 2401 816 2396 813 2389 810 2380 808 2362 806 2358 803 2353 799 2351 794 2350 790 2351 785 2354 776 2366 772 2370 767 2372 763 2371 757 2366 750 2358 746 2349 736 2324 732 2319 728 2318M967 2348 955 2353 950 2358 949 2362 954 2366 962 2371 971 2375 980 2376 985 2374 987 2371 987 2366 986 2358 985 2353 980 2348 976 2347 967 2348" fill="none" stroke="#fec68a" stroke-width="1" stroke-opacity="0.95"/>
<path d="M847.2 2162.9 892.5 2162.9 891.5 2172.7 884.0 2189.5 881.4 2198.3 881.4 2207.1 883.8 2216.0 896.0 2239.6 903.0 2255.8 908.9 2264.7 913.7 2269.2 918.1 2272.1 927.0 2275.5 940.3 2277.6 953.6 2278.0 966.9 2277.2 975.7 2275.6 984.6 2272.0 993.4 2267.4 997.9 2266.5 1002.3 2269.5 1006.2 2277.9 1007.1 2282.3 1006.7 2294.2 1002.3 2307.0 997.9 2313.9 993.4 2318.8 984.6 2326.0 967.5 2335.4 936.4 2348.7 913.7 2361.1 904.8 2363.0 896.0 2362.3 887.1 2358.8 865.0 2343.3 856.1 2338.5 851.7 2337.0 842.8 2336.6 838.4 2337.9 825.1 2345.4 820.7 2346.9 816.2 2346.6 802.9 2342.2 794.1 2340.8 785.2 2341.9 771.9 2345.5 767.5 2344.9 763.1 2341.3 758.6 2333.7 749.8 2311.0 745.3 2304.5 740.9 2300.9 736.5 2298.9 727.6 2297.9 727.6 2265.1 736.5 2264.4 745.3 2262.0 767.5 2251.8 785.2 2245.1 807.4 2235.2 825.1 2226.0 832.8 2220.4 840.1 2211.6 843.6 2202.7 845.3 2189.5 845.0 2162.9 847.2 2162.9M944.7 2383.1 953.6 2383.2 958.0 2384.5 966.9 2389.5 971.3 2393.6 975.7 2400.0 979.3 2410.6 979.9 2419.5 978.4 2428.3 975.0 2437.2 966.2 2450.4 961.5 2459.3 959.2 2468.1 958.7 2477.0 825.1 2477.0 825.5 2472.6 827.5 2468.1 833.0 2463.7 860.5 2456.8 869.4 2452.7 878.3 2446.6 886.7 2437.2 896.2 2419.5 902.7 2410.6 909.3 2405.5 923.2 2397.4 935.9 2387.4 940.3 2384.7 944.7 2383.1" fill="none" stroke="#fff" stroke-width="4.2" stroke-dasharray="4 3"/>
</g>
<text x="740.9" y="2204.7" font-size="36" text-anchor="start" fill="#fff" >(VI)</text>
<text x="1031.4" y="2202.7" font-size="32" text-anchor="end" fill="#fff" >t=180 min</text>
<clipPath id="clipl7"><rect x="1065" y="2160.7" width="319" height="319.3"/></clipPath>
<g clip-path="url(#clipl7)"><g filter="url(#hmap)"><g shape-rendering="crispEdges" transform="translate(1065 2160.7) scale(10.6333 10.6433)">
<path fill="#000000" d="M9 -1h2v1h-2zm12 0h2v1h-2zm-12 1h2v1h-2zm12 0h2v1h-2zm-12 1h2v1h-2zm0 1h2v1h-2zm0 1h1v1h-1zm18 5h1v1h-1zm-24 1h3v1h-3zm1 1h2v1h-2zm0 1h1v1h-1zm0 1h2v1h-2zm0 1h2v1h-2zm0 1h2v1h-2zm3 3h1v1h-1zm20 2h4v1h-4zm-10 3h1v1h-1zm4 0h5v1h-5zm-2 3h2v1h-2zm1 1h1v1h-1z"/>
<path fill="#050505" d="M13 -1h3v1h-3zm10 0h1v1h-1zm-10 1h3v1h-3zm10 0h1v1h-1zm-9 1h2v1h-2zm8 0h2v1h-2zm-7 1h2v1h-2zm1 1h1v1h-1zm-1 1h1v1h-1zm0 1h1v1h-1zm-7 1h1v1h-1zm7 0h1v1h-1zm-7 1h1v1h-1zm6 0h2v1h-2zm12 0h5v1h-5zm-19 1h2v1h-2zm7 0h2v1h-2zm12 0h1v1h-1zm2 0h3v1h-3zm-22 1h3v1h-3zm8 0h2v1h-2zm12 0h1v1h-1zm-23 1h1v1h-1zm3 0h3v1h-3zm10 0h1v1h-1zm9 0h2v1h-2zm-20 1h1v1h-1zm11 0h6v1h-6zm8 0h2v1h-2zm-8 1h5v1h-5zm0 1h4v1h-4zm-5 1h1v1h-1zm-8 1h3v1h-3zm7 0h2v1h-2zm-5 1h5v1h-5zm0 1h2v1h-2zm3 0h1v1h-1zm-2 1h3v1h-3zm7 1h2v1h-2zm13 0h1v1h-1zm-16 1h5v1h-5zm16 0h5v1h-5zm-11 1h12v1h-12zm0 1h2v1h-2zm3 0h3v1h-3zm8 0h1v1h-1zm-10 1h11v1h-11zm2 1h3v1h-3zm0 1h1v1h-1zm1 1h1v1h-1zm2 2h1v1h-1zm0 1h2v1h-2zm0 1h2v1h-2z"/>
<path fill="#0b0b0b" d="M11 -1h2v1h-2zm5 0h1v1h-1zm4 0h1v1h-1zm-9 1h2v1h-2zm5 0h1v1h-1zm4 0h1v1h-1zm-9 1h3v1h-3zm5 0h1v1h-1zm5 0h1v1h-1zm-10 1h1v1h-1zm2 0h2v1h-2zm4 0h1v1h-1zm-7 1h1v1h-1zm4 0h2v1h-2zm3 0h1v1h-1zm-9 1h2v1h-2zm8 0h1v1h-1zm-8 1h1v1h-1zm8 0h1v1h-1zm-2 1h1v1h-1zm2 0h1v1h-1zm-9 1h1v1h-1zm9 0h1v1h-1zm-12 1h3v1h-3zm9 0h1v1h-1zm3 0h1v1h-1zm-7 1h1v1h-1zm4 0h1v1h-1zm3 0h5v1h-5zm9 0h1v1h-1zm2 0h1v1h-1zm-18 1h1v1h-1zm5 0h2v1h-2zm3 0h6v1h-6zm7 0h1v1h-1zm-18 1h3v1h-3zm9 0h1v1h-1zm7 0h2v1h-2zm-16 1h1v1h-1zm9 0h1v1h-1zm6 0h1v1h-1zm-15 1h1v1h-1zm4 0h2v1h-2zm5 0h1v1h-1zm5 0h1v1h-1zm-17 1h1v1h-1zm3 0h1v1h-1zm4 0h1v1h-1zm2 0h1v1h-1zm3 0h3v1h-3zm-13 1h1v1h-1zm4 0h2v1h-2zm3 0h1v1h-1zm3 0h1v1h-1zm-13 1h6v1h-6zm11 0h2v1h-2zm-6 1h1v1h-1zm5 0h1v1h-1zm5 0h1v1h-1zm-9 1h1v1h-1zm4 0h1v1h-1zm4 0h2v1h-2zm13 0h5v1h-5zm-18 1h5v1h-5zm7 0h1v1h-1zm10 0h1v1h-1zm-16 1h1v1h-1zm6 0h1v1h-1zm9 0h2v1h-2zm-13 1h4v1h-4zm16 0h4v1h-4zm-13 1h1v1h-1zm13 0h1v1h-1zm-12 1h1v1h-1zm1 1h2v1h-2zm5 0h1v1h-1zm-4 1h1v1h-1zm4 0h1v1h-1zm-3 1h1v1h-1zm3 0h1v1h-1zm-1 1h2v1h-2zm2 1h1v1h-1z"/>
<path fill="#101010" d="M8 -1h1v1h-1zm9 0h1v1h-1zm2 0h1v1h-1zm5 0h1v1h-1zm-16 1h1v1h-1zm9 0h1v1h-1zm2 0h1v1h-1zm5 0h1v1h-1zm-16 1h1v1h-1zm9 0h4v1h-4zm-9 1h1v1h-1zm4 0h1v1h-1zm6 0h1v1h-1zm4 0h2v1h-2zm-14 1h1v1h-1zm10 0h1v1h-1zm-4 1h1v1h-1zm3 0h1v1h-1zm-3 1h1v1h-1zm-7 1h1v1h-1zm19 0h2v1h-2zm-23 2h1v1h-1zm6 0h1v1h-1zm8 0h1v1h-1zm-15 1h1v1h-1zm8 0h3v1h-3zm11 0h1v1h-1zm7 0h1v1h-1zm-18 1h1v1h-1zm3 0h1v1h-1zm10 0h1v1h-1zm-20 1h1v1h-1zm6 0h1v1h-1zm5 0h1v1h-1zm12 0h1v1h-1zm-23 1h1v1h-1zm4 0h2v1h-2zm3 0h2v1h-2zm4 0h1v1h-1zm8 0h1v1h-1zm-19 1h1v1h-1zm9 0h3v1h-3zm-5 1h1v1h-1zm2 0h1v1h-1zm4 0h2v1h-2zm5 0h2v1h-2zm-17 1h1v1h-1zm7 0h1v1h-1zm7 0h2v1h-2zm-3 1h4v1h-4zm-9 1h1v1h-1zm7 0h4v1h-4zm5 0h1v1h-1zm-11 1h1v1h-1zm6 0h1v1h-1zm2 0h1v1h-1zm3 0h1v1h-1zm10 0h1v1h-1zm-18 1h1v1h-1zm17 0h1v1h-1zm-8 1h2v1h-2zm6 0h2v1h-2zm-12 1h1v1h-1zm3 1h1v1h-1zm15 0h3v1h-3zm-14 1h1v1h-1zm13 0h1v1h-1zm-5 1h1v1h-1zm3 0h1v1h-1zm-8 2h1v1h-1zm3 2h1v1h-1zm3 1h1v1h-1zm0 1h1v1h-1z"/>
<path fill="#161616" d="M18 -1h1v1h-1zm0 1h1v1h-1zm6 1h1v1h-1zm-5 1h1v1h-1zm-8 1h3v1h-3zm-2 2h1v1h-1zm16 1h1v1h-1zm3 0h3v1h-3zm-22 1h1v1h-1zm3 0h1v1h-1zm4 0h1v1h-1zm4 0h1v1h-1zm8 0h1v1h-1zm-23 1h1v1h-1zm10 0h1v1h-1zm6 0h1v1h-1zm7 0h1v1h-1zm4 1h2v1h-2zm-18 1h2v1h-2zm16 0h1v1h-1zm-17 1h1v1h-1zm3 0h1v1h-1zm-4 1h1v1h-1zm3 0h2v1h-2zm11 0h2v1h-2zm-16 1h1v1h-1zm2 0h1v1h-1zm12 0h1v1h-1zm-13 1h1v1h-1zm12 0h1v1h-1zm-21 1h2v1h-2zm14 0h2v1h-2zm4 0h1v1h-1zm-1 1h1v1h-1zm-14 1h1v1h-1zm24 0h1v1h-1zm-15 1h1v1h-1zm13 0h1v1h-1zm-18 1h1v1h-1zm10 0h1v1h-1zm7 0h1v1h-1zm-15 1h1v1h-1zm10 0h4v1h-4zm-9 1h1v1h-1zm3 1h1v1h-1zm16 1h1v1h-1zm-13 1h1v1h-1zm8 0h2v1h-2zm3 0h1v1h-1zm-10 1h1v1h-1zm0 2h1v1h-1zm3 0h1v1h-1zm3 0h1v1h-1zm-6 1h1v1h-1zm-1 1h2v1h-2zm5 0h1v1h-1zm-5 1h2v1h-2zm5 0h1v1h-1z"/>
<path fill="#1b1b1b" d="M20 2h2v1h-2zm4 0h1v1h-1zm-1 1h1v1h-1zm-13 1h1v1h-1zm3 0h1v1h-1zm4 1h1v1h-1zm-8 1h1v1h-1zm8 0h1v1h-1zm-16 2h1v1h-1zm9 0h2v1h-2zm9 0h2v1h-2zm-18 1h1v1h-1zm21 0h1v1h-1zm2 0h1v1h-1zm-22 1h1v1h-1zm9 1h2v1h-2zm14 1h1v1h-1zm-17 1h1v1h-1zm13 1h1v1h-1zm-20 3h1v1h-1zm15 0h1v1h-1zm9 0h1v1h-1zm2 0h2v1h-2zm-24 1h1v1h-1zm13 0h1v1h-1zm-11 1h1v1h-1zm8 4h1v1h-1zm16 0h2v1h-2zm-2 1h1v1h-1zm-5 1h1v1h-1zm-6 1h1v1h-1zm1 1h2v1h-2zm-2 1h1v1h-1zm8 0h1v1h-1z"/>
<path fill="#212121" d="M19 3h1v1h-1zm5 0h1v1h-1zm-6 1h1v1h-1zm6 0h1v1h-1zm-17 1h1v1h-1zm6 0h1v1h-1zm11 0h3v1h-3zm-11 1h1v1h-1zm-8 1h1v1h-1zm-6 1h2v1h-2zm22 0h1v1h-1zm-22 1h2v1h-2zm24 0h1v1h-1zm-1 4h1v1h-1zm-20 1h1v1h-1zm16 1h2v1h-2zm-19 2h2v1h-2zm25 0h1v1h-1zm5 0h2v1h-2zm-6 1h1v1h-1zm-19 1h1v1h-1zm18 0h1v1h-1zm-15 1h1v1h-1zm4 2h1v1h-1zm3 2h1v1h-1zm1 1h1v1h-1zm7 1h1v1h-1zm-7 1h1v1h-1zm2 1h1v1h-1zm0 1h1v1h-1zm0 1h1v1h-1z"/>
<path fill="#262626" d="M25 -1h1v1h-1zm0 1h1v1h-1zm-3 3h1v1h-1zm1 1h1v1h-1zm1 2h1v1h-1zm-20 1h1v1h-1zm14 0h1v1h-1zm6 0h1v1h-1zm0 1h1v1h-1zm4 2h1v1h-1zm-1 1h1v1h-1zm-1 1h1v1h-1zm-3 1h1v1h-1zm-1 1h1v1h-1zm-2 1h2v1h-2zm-3 1h1v1h-1zm6 1h1v1h-1zm-6 2h1v1h-1zm4 0h1v1h-1zm-13 2h1v1h-1zm2 1h1v1h-1zm18 2h1v1h-1zm-2 1h1v1h-1zm-11 1h1v1h-1zm4 2h1v1h-1zm-5 1h1v1h-1zm0 1h1v1h-1z"/>
<path fill="#2b2b2b" d="M25 1h1v1h-1zm-14 3h2v1h-2zm14 0h1v1h-1zm-7 1h1v1h-1zm5 0h1v1h-1zm4 0h1v1h-1zm-21 1h1v1h-1zm-3 1h1v1h-1zm7 0h1v1h-1zm2 0h1v1h-1zm10 1h1v1h-1zm7 2h2v1h-2zm-27 1h1v1h-1zm0 2h1v1h-1zm22 0h1v1h-1zm-2 2h1v1h-1zm0 1h6v1h-6zm-5 1h1v1h-1zm-15 1h1v1h-1zm20 0h1v1h-1zm-19 1h1v1h-1zm6 3h1v1h-1zm3 1h1v1h-1zm1 1h1v1h-1zm16 0h2v1h-2zm-6 1h3v1h-3zm0 2h1v1h-1zm-9 1h1v1h-1zm4 0h1v1h-1zm1 1h1v1h-1zm5 0h1v1h-1zm-5 1h1v1h-1zm5 0h1v1h-1z"/>
<path fill="#313131" d="M25 2h1v1h-1zm-5 1h2v1h-2zm5 0h1v1h-1zm-18 1h1v1h-1zm12 0h1v1h-1zm9 1h3v1h-3zm-10 1h1v1h-1zm5 0h1v1h-1zm-21 1h1v1h-1zm17 0h1v1h-1zm4 1h1v1h-1zm-22 2h1v1h-1zm1 2h1v1h-1zm25 0h1v1h-1zm-2 1h1v1h-1zm-24 1h1v1h-1zm22 0h1v1h-1zm0 1h1v1h-1zm-5 1h1v1h-1zm2 0h2v1h-2zm8 0h3v1h-3zm-6 1h1v1h-1zm-5 1h1v1h-1zm1 1h3v1h-3zm-13 1h2v1h-2zm9 5h1v1h-1zm13 0h1v1h-1zm-13 2h1v1h-1zm10 1h1v1h-1zm-6 1h1v1h-1zm0 1h1v1h-1z"/>
<path fill="#363636" d="M26 -1h1v1h-1zm0 1h1v1h-1zm-4 4h1v1h-1zm4 0h1v1h-1zm-16 1h1v1h-1zm-9 2h1v1h-1zm10 0h1v1h-1zm9 0h2v1h-2zm3 0h1v1h-1zm5 4h1v1h-1zm-2 2h1v1h-1zm-2 1h1v1h-1zm0 1h3v1h-3zm-5 1h1v1h-1zm2 1h1v1h-1zm0 1h1v1h-1zm-17 2h1v1h-1zm3 1h1v1h-1zm1 1h1v1h-1zm3 1h1v1h-1zm3 3h1v1h-1zm9 0h1v1h-1zm-10 3h1v1h-1zm0 1h1v1h-1z"/>
<path fill="#3c3c3c" d="M7 -1h1v1h-1zm20 0h4v1h-4zm-20 1h1v1h-1zm20 0h4v1h-4zm-20 1h1v1h-1zm19 0h1v1h-1zm-19 1h1v1h-1zm0 1h1v1h-1zm5 2h1v1h-1zm-7 1h1v1h-1zm5 0h1v1h-1zm2 0h1v1h-1zm-13 1h2v1h-2zm23 0h1v1h-1zm-23 3h2v1h-2zm28 3h1v1h-1zm-28 1h2v1h-2zm26 0h2v1h-2zm2 1h1v1h-1zm-9 2h1v1h-1zm-17 1h1v1h-1zm2 2h1v1h-1zm9 4h1v1h-1zm1 1h1v1h-1zm15 0h1v1h-1zm-4 1h3v1h-3zm0 1h1v1h-1zm-11 1h1v1h-1z"/>
<path fill="#414141" d="M27 1h4v1h-4zm-1 1h1v1h-1zm-6 2h2v1h-2zm-14 1h1v1h-1zm13 0h1v1h-1zm3 0h1v1h-1zm-18 1h1v1h-1zm15 0h1v1h-1zm3 0h1v1h-1zm7 5h2v1h-2zm-1 1h1v1h-1zm-1 2h1v1h-1zm1 1h3v1h-3zm-9 2h2v1h-2zm-20 1h2v1h-2zm19 0h1v1h-1zm2 0h1v1h-1zm-18 1h1v1h-1zm4 2h1v1h-1zm1 1h1v1h-1zm1 1h3v1h-3zm21 2h2v1h-2zm-16 1h1v1h-1zm14 0h1v1h-1zm-14 1h1v1h-1zm12 0h1v1h-1zm-13 1h1v1h-1zm13 0h1v1h-1zm-13 1h1v1h-1zm13 0h1v1h-1zm4 0h2v1h-2zm-17 1h1v1h-1zm13 0h1v1h-1zm4 0h2v1h-2z"/>
<path fill="#474747" d="M26 3h1v1h-1zm1 1h1v1h-1zm-16 1h1v1h-1zm-8 1h1v1h-1zm18 0h1v1h-1zm-20 5h1v1h-1zm28 1h2v1h-2zm-1 1h3v1h-3zm0 1h3v1h-3zm-9 4h1v1h-1zm-15 3h2v1h-2zm7 3h1v1h-1zm1 1h1v1h-1zm0 1h1v1h-1zm16 0h1v1h-1zm-17 1h2v1h-2zm15 0h1v1h-1zm-16 1h2v1h-2zm18 0h3v1h-3zm-18 1h2v1h-2zm18 0h1v1h-1zm-18 1h2v1h-2zm18 0h1v1h-1z"/>
<path fill="#4c4c4c" d="M27 2h1v1h-1zm1 2h1v1h-1zm-8 1h2v1h-2zm-9 1h1v1h-1zm9 0h1v1h-1zm-19 7h1v1h-1zm1 7h1v1h-1zm1 1h1v1h-1zm1 1h3v1h-3zm3 1h1v1h-1zm1 1h3v1h-3zm3 1h1v1h-1zm-1 1h2v1h-2zm19 0h2v1h-2zm-20 1h2v1h-2zm18 0h4v1h-4zm-18 1h1v1h-1zm17 0h2v1h-2zm-17 1h1v1h-1zm18 0h1v1h-1zm-18 1h1v1h-1zm18 0h1v1h-1z"/>
<path fill="#515151" d="M28 2h3v1h-3zm-1 1h1v1h-1zm2 1h2v1h-2zm-25 1h2v1h-2zm-2 1h1v1h-1zm-3 5h2v1h-2zm2 1h1v1h-1zm0 7h1v1h-1zm4 4h2v1h-2zm2 1h1v1h-1zm1 1h3v1h-3zm1 1h1v1h-1zm17 3h1v1h-1zm0 1h1v1h-1z"/>
<path fill="#575757" d="M4 1h1v1h-1zm-1 1h2v1h-2zm0 1h2v1h-2zm25 0h1v1h-1zm-25 1h2v1h-2zm3 0h1v1h-1zm-3 1h1v1h-1zm-4 8h2v1h-2zm0 6h2v1h-2zm3 2h1v1h-1zm1 1h1v1h-1zm1 1h1v1h-1zm2 1h1v1h-1zm1 1h1v1h-1zm1 1h1v1h-1zm0 1h1v1h-1zm0 1h1v1h-1zm0 1h1v1h-1zm0 1h1v1h-1z"/>
<path fill="#5c5c5c" d="M4 -1h1v1h-1zm0 1h1v1h-1zm-1 1h1v1h-1zm26 2h2v1h-2zm-28 3h1v1h-1zm0 14h1v1h-1zm6 6h1v1h-1zm0 1h1v1h-1zm0 1h1v1h-1zm0 1h1v1h-1zm0 1h1v1h-1z"/>
<path fill="#626262" d="M3 -1h1v1h-1zm3 0h1v1h-1zm-3 1h1v1h-1zm3 0h1v1h-1zm0 1h1v1h-1zm0 2h1v1h-1zm-1 1h1v1h-1zm-6 2h2v1h-2zm0 6h2v1h-2zm0 8h2v1h-2zm6 4h1v1h-1zm1 1h1v1h-1zm-2 4h3v1h-3zm0 1h3v1h-3z"/>
<path fill="#676767" d="M5 -1h1v1h-1zm0 1h1v1h-1zm0 1h1v1h-1zm0 1h2v1h-2zm0 1h1v1h-1zm-3 2h1v1h-1zm-1 16h1v1h-1zm1 1h1v1h-1zm1 1h1v1h-1zm3 3h1v1h-1zm0 1h1v1h-1zm-1 1h2v1h-2z"/>
<path fill="#6d6d6d" d="M-1 21h2v1h-2zm5 7h1v1h-1z"/>
<path fill="#727272" d="M2 4h1v1h-1zm2 20h1v1h-1zm1 1h1v1h-1zm-2 4h1v1h-1zm0 1h1v1h-1z"/>
<path fill="#777777" d="M2 3h1v1h-1zm-1 2h1v1h-1zm0 17h1v1h-1zm4 5h1v1h-1z"/>
<path fill="#7d7d7d" d="M2 2h1v1h-1zm-3 20h2v1h-2zm3 1h1v1h-1zm3 3h1v1h-1zm-2 2h1v1h-1z"/>
<path fill="#828282" d="M2 -1h1v1h-1zm0 1h1v1h-1zm0 1h1v1h-1zm-3 4h2v1h-2zm4 19h1v1h-1zm1 3h1v1h-1z"/>
<path fill="#888888" d="M4 25h1v1h-1z"/>
<path fill="#8d8d8d" d="M1 4h1v1h-1zm0 19h1v1h-1zm1 6h1v1h-1zm0 1h1v1h-1z"/>
<path fill="#929292" d="M4 26h1v1h-1z"/>
<path fill="#989898" d="M-1 23h2v1h-2zm3 1h1v1h-1zm1 3h1v1h-1zm-1 1h1v1h-1z"/>
<path fill="#9d9d9d" d="M1 3h1v1h-1zm-2 1h2v1h-2z"/>
<path fill="#a3a3a3" d="M1 2h1v1h-1zm2 23h1v1h-1z"/>
<path fill="#a8a8a8" d="M1 1h1v1h-1zm0 23h1v1h-1zm2 2h1v1h-1zm-2 3h1v1h-1zm0 1h1v1h-1z"/>
<path fill="#aeaeae" d="M1 -1h1v1h-1zm0 1h1v1h-1zm-2 3h2v1h-2zm3 24h1v1h-1z"/>
<path fill="#b3b3b3" d="M-1 24h2v1h-2zm3 1h1v1h-1zm-1 3h1v1h-1zm-2 1h2v1h-2zm0 1h2v1h-2z"/>
<path fill="#b8b8b8" d="M-1 2h2v1h-2zm0 26h2v1h-2z"/>
<path fill="#bebebe" d="M-1 -1h2v1h-2zm0 1h2v1h-2zm0 1h2v1h-2zm3 25h1v1h-1zm-1 1h1v1h-1z"/>
<path fill="#c3c3c3" d="M1 25h1v1h-1z"/>
<path fill="#c9c9c9" d="M-1 25h2v1h-2zm2 1h1v1h-1zm-2 1h2v1h-2z"/>
<path fill="#cecece" d="M-1 26h2v1h-2z"/>
</g></g>
<path d="M1067 2460 1072 2460 1076 2458 1085 2450 1091 2442 1090 2438 1085 2433 1076 2429 1067 2428" fill="none" stroke="#7c2382" stroke-width="1" stroke-opacity="0.95"/>
<path d="M1067 2206 1072 2206 1076 2203 1081 2196 1084 2181 1085 2163M1085 2478 1086 2469 1088 2464 1094 2458 1105 2447 1108 2442 1107 2438 1104 2433 1099 2429 1085 2420 1076 2415 1067 2414" fill="none" stroke="#aa337d" stroke-width="1" stroke-opacity="0.95"/>
<path d="M1067 2220 1076 2219 1081 2217 1085 2212 1088 2203 1090 2190 1093 2163M1096 2478 1098 2469 1101 2464 1116 2453 1120 2448 1122 2442 1121 2438 1119 2433 1115 2429 1095 2416 1081 2404 1076 2402 1067 2400" fill="none" stroke="#d5446d" stroke-width="1" stroke-opacity="0.95"/>
<path d="M1118 2163 1118 2198 1120 2206 1125 2209 1129 2208 1134 2203 1135 2198 1136 2190 1134 2163M1067 2230 1076 2229 1085 2227 1091 2225 1096 2221 1098 2216 1098 2212 1098 2198 1101 2176 1102 2163M1143 2478 1143 2456 1142 2447 1140 2438 1134 2429 1125 2421 1106 2411 1101 2407 1076 2378 1072 2375 1067 2375" fill="none" stroke="#f4675c" stroke-width="1" stroke-opacity="0.95"/>
<path d="M1382 2174 1360 2173 1355 2174 1351 2177 1346 2183 1344 2190 1343 2194 1343 2198 1346 2203 1351 2207 1364 2213 1373 2214 1382 2215M1067 2239 1085 2237 1120 2229 1129 2225 1134 2221 1139 2212 1144 2198 1144 2190 1144 2163M1382 2284 1377 2284 1372 2287 1368 2292 1356 2314 1357 2318 1362 2323 1373 2326 1382 2327M1067 2313 1076 2313 1082 2309 1086 2305 1087 2296 1086 2287 1081 2279 1076 2276 1067 2275M1382 2433 1373 2434 1351 2445 1337 2447 1333 2449 1332 2451 1335 2464 1335 2478M1200 2478 1201 2469 1211 2451 1212 2447 1212 2442 1210 2438 1191 2418 1187 2415 1182 2413 1156 2408 1148 2402 1138 2392 1134 2388 1125 2385 1112 2384 1107 2383 1098 2377 1089 2365 1085 2361 1076 2357 1067 2357M1284 2207 1278 2212 1271 2221 1270 2225 1271 2229 1277 2234 1284 2236 1298 2236 1302 2235 1303 2234 1305 2229 1305 2225 1302 2216 1299 2212 1293 2206 1289 2206 1284 2207M1187 2216 1182 2218 1181 2221 1179 2225 1178 2229 1182 2236 1187 2237 1191 2236 1194 2234 1197 2229 1198 2225 1196 2219 1191 2216 1187 2216M1271 2344 1267 2345 1262 2349 1261 2354 1262 2358 1267 2361 1271 2362 1275 2361 1283 2358 1285 2354 1284 2349 1278 2345 1271 2344" fill="none" stroke="#fd9a6a" stroke-width="1" stroke-opacity="0.95"/>
<path d="M1334 2163 1334 2172 1329 2194 1328 2203 1329 2207 1331 2212 1339 2216 1360 2222 1373 2224 1382 2225M1067 2249 1076 2249 1103 2243 1120 2240 1129 2237 1134 2234 1143 2222 1148 2207 1150 2194 1151 2163M1382 2268 1373 2269 1365 2274 1351 2291 1346 2294 1337 2298 1319 2300 1311 2304 1305 2309 1298 2320 1293 2323 1289 2325 1267 2327 1258 2331 1252 2336 1248 2340 1246 2345 1244 2354 1246 2362 1249 2367 1253 2370 1262 2373 1275 2374 1292 2371 1303 2367 1308 2362 1320 2347 1329 2342 1342 2340 1368 2344 1382 2345M1067 2321 1081 2320 1085 2318 1089 2315 1094 2307 1096 2296 1094 2283 1089 2274 1081 2266 1076 2264 1067 2262M1382 2417 1373 2418 1368 2419 1355 2426 1346 2430 1342 2430 1320 2427 1315 2428 1311 2430 1308 2433 1306 2437 1306 2442 1310 2451 1320 2464 1322 2469 1323 2478M1221 2478 1222 2469 1223 2464 1231 2447 1232 2442 1231 2438 1229 2433 1224 2429 1213 2420 1200 2408 1191 2403 1165 2396 1156 2390 1146 2380 1138 2376 1112 2369 1107 2367 1094 2355 1089 2352 1081 2349 1067 2348M1276 2478 1275 2469 1273 2464 1267 2460 1262 2459 1258 2460 1254 2464 1252 2469 1252 2478M1280 2193 1275 2196 1262 2212 1256 2221 1255 2229 1256 2234 1258 2238 1262 2242 1267 2244 1289 2249 1311 2260 1315 2261 1320 2260 1324 2257 1327 2252 1328 2243 1323 2221 1322 2216 1319 2212 1306 2198 1298 2193 1289 2191 1284 2191 1280 2193M1182 2207 1178 2210 1174 2215 1170 2225 1170 2234 1171 2238 1174 2243 1178 2246 1182 2248 1187 2248 1196 2245 1200 2242 1205 2237 1208 2229 1208 2225 1208 2216 1206 2212 1200 2206 1196 2204 1191 2204 1187 2205 1182 2207" fill="none" stroke="#fec68a" stroke-width="1" stroke-opacity="0.95"/>
<path d="M1164.7 2162.9 1321.2 2162.9 1322.2 2171.8 1322.4 2189.5 1323.8 2198.4 1327.4 2207.3 1333.0 2216.0 1341.9 2225.1 1350.8 2231.7 1355.2 2234.1 1368.5 2239.2 1381.8 2240.8 1381.8 2256.4 1372.9 2257.1 1364.1 2261.0 1355.2 2268.5 1346.3 2278.6 1337.5 2285.8 1324.2 2292.4 1288.7 2306.7 1262.2 2314.9 1248.9 2320.5 1238.7 2327.0 1233.7 2331.4 1230.6 2335.9 1229.0 2340.3 1228.8 2349.2 1230.9 2358.0 1235.3 2366.9 1238.9 2371.3 1244.2 2375.8 1248.9 2378.5 1257.7 2381.7 1266.6 2383.2 1275.5 2383.4 1288.7 2382.4 1306.5 2377.9 1315.3 2373.6 1333.0 2361.2 1341.9 2357.1 1355.2 2355.5 1381.8 2356.1 1381.8 2402.7 1368.5 2404.2 1341.9 2415.6 1315.3 2420.4 1307.4 2424.6 1303.0 2429.0 1298.7 2437.9 1297.6 2446.7 1298.3 2455.6 1301.7 2468.9 1302.4 2477.8 1285.3 2477.8 1284.5 2468.9 1283.3 2464.5 1280.9 2460.0 1276.8 2455.6 1270.5 2451.2 1252.6 2442.3 1248.9 2438.9 1233.6 2420.1 1222.3 2408.9 1213.4 2401.5 1204.6 2395.8 1180.6 2384.7 1155.8 2370.4 1126.3 2358.0 1117.5 2353.6 1104.3 2344.7 1094.4 2335.9 1093.2 2331.4 1101.0 2313.7 1103.7 2300.4 1103.7 2287.1 1101.2 2269.4 1101.3 2264.9 1102.7 2260.6 1107.3 2256.0 1129.2 2248.5 1133.7 2245.8 1138.1 2241.0 1142.5 2231.9 1144.6 2225.0 1158.0 2176.2 1160.4 2162.9 1164.7 2162.9" fill="none" stroke="#fff" stroke-width="4.2" stroke-dasharray="4 3"/>
</g>
<text x="1080.5" y="2204.7" font-size="36" text-anchor="start" fill="#fff" >(V)</text>
<text x="1371" y="2202.7" font-size="32" text-anchor="end" fill="#fff" >t=150 min</text>
<text x="2" y="1853" font-size="58" text-anchor="start" fill="#000" >(l)</text>
<text x="47" y="2160" font-size="35" text-anchor="middle" fill="#111" transform="rotate(-90 47 2160)" >Anteroposterior</text>
<text x="733" y="2520" font-size="34.5" text-anchor="middle" fill="#111" >Mediolateral</text>
<linearGradient id="cbm1" x1="0" y1="0" x2="0" y2="1"><stop offset="0.0000" stop-color="#000003"/><stop offset="0.0625" stop-color="#0a0722"/><stop offset="0.1250" stop-color="#1c1046"/><stop offset="0.1875" stop-color="#350f6a"/><stop offset="0.2500" stop-color="#50127b"/><stop offset="0.3125" stop-color="#691c80"/><stop offset="0.3750" stop-color="#822581"/><stop offset="0.4375" stop-color="#9c2e7f"/><stop offset="0.5000" stop-color="#b63679"/><stop offset="0.5625" stop-color="#d0416f"/><stop offset="0.6250" stop-color="#e65162"/><stop offset="0.6875" stop-color="#f56a5b"/><stop offset="0.7500" stop-color="#fb8861"/><stop offset="0.8125" stop-color="#fea671"/><stop offset="0.8750" stop-color="#fec488"/><stop offset="0.9375" stop-color="#fde1a3"/><stop offset="1.0000" stop-color="#fbfcbf"/></linearGradient>
<rect x="1389" y="1826" width="17.8" height="317" fill="url(#cbm1)" stroke="#111" stroke-width="1.2"/>
<line x1="1406.8" y1="1826" x2="1410.8" y2="1826" stroke="#222" stroke-width="1"/>
<text x="1416.3" y="1831.3" font-size="14.6" text-anchor="start" fill="#111" >1.00</text>
<line x1="1406.8" y1="1865.6" x2="1410.8" y2="1865.6" stroke="#222" stroke-width="1"/>
<text x="1416.3" y="1870.9" font-size="14.6" text-anchor="start" fill="#111" >0.75</text>
<line x1="1406.8" y1="1905.2" x2="1410.8" y2="1905.2" stroke="#222" stroke-width="1"/>
<text x="1416.3" y="1910.5" font-size="14.6" text-anchor="start" fill="#111" >0.50</text>
<line x1="1406.8" y1="1944.9" x2="1410.8" y2="1944.9" stroke="#222" stroke-width="1"/>
<text x="1416.3" y="1950.2" font-size="14.6" text-anchor="start" fill="#111" >0.25</text>
<line x1="1406.8" y1="1984.5" x2="1410.8" y2="1984.5" stroke="#222" stroke-width="1"/>
<text x="1416.3" y="1989.8" font-size="14.6" text-anchor="start" fill="#111" >0.00</text>
<line x1="1406.8" y1="2024.1" x2="1410.8" y2="2024.1" stroke="#222" stroke-width="1"/>
<text x="1416.3" y="2029.4" font-size="14.6" text-anchor="start" fill="#111" >−0.25</text>
<line x1="1406.8" y1="2063.8" x2="1410.8" y2="2063.8" stroke="#222" stroke-width="1"/>
<text x="1416.3" y="2069.1" font-size="14.6" text-anchor="start" fill="#111" >−0.50</text>
<line x1="1406.8" y1="2103.4" x2="1410.8" y2="2103.4" stroke="#222" stroke-width="1"/>
<text x="1416.3" y="2108.7" font-size="14.6" text-anchor="start" fill="#111" >−0.75</text>
<line x1="1406.8" y1="2143" x2="1410.8" y2="2143" stroke="#222" stroke-width="1"/>
<text x="1416.3" y="2148.3" font-size="14.6" text-anchor="start" fill="#111" >−1.00</text>
<linearGradient id="cbm2" x1="0" y1="0" x2="0" y2="1"><stop offset="0.0000" stop-color="#000003"/><stop offset="0.0625" stop-color="#0a0722"/><stop offset="0.1250" stop-color="#1c1046"/><stop offset="0.1875" stop-color="#350f6a"/><stop offset="0.2500" stop-color="#50127b"/><stop offset="0.3125" stop-color="#691c80"/><stop offset="0.3750" stop-color="#822581"/><stop offset="0.4375" stop-color="#9c2e7f"/><stop offset="0.5000" stop-color="#b63679"/><stop offset="0.5625" stop-color="#d0416f"/><stop offset="0.6250" stop-color="#e65162"/><stop offset="0.6875" stop-color="#f56a5b"/><stop offset="0.7500" stop-color="#fb8861"/><stop offset="0.8125" stop-color="#fea671"/><stop offset="0.8750" stop-color="#fec488"/><stop offset="0.9375" stop-color="#fde1a3"/><stop offset="1.0000" stop-color="#fbfcbf"/></linearGradient>
<rect x="1390.5" y="2160.7" width="17.5" height="319.3" fill="url(#cbm2)" stroke="#111" stroke-width="1.2"/>
<line x1="1408" y1="2160.7" x2="1412" y2="2160.7" stroke="#222" stroke-width="1"/>
<text x="1417.5" y="2166" font-size="14.6" text-anchor="start" fill="#111" >1.00</text>
<line x1="1408" y1="2200.6" x2="1412" y2="2200.6" stroke="#222" stroke-width="1"/>
<text x="1417.5" y="2205.9" font-size="14.6" text-anchor="start" fill="#111" >0.75</text>
<line x1="1408" y1="2240.5" x2="1412" y2="2240.5" stroke="#222" stroke-width="1"/>
<text x="1417.5" y="2245.8" font-size="14.6" text-anchor="start" fill="#111" >0.50</text>
<line x1="1408" y1="2280.4" x2="1412" y2="2280.4" stroke="#222" stroke-width="1"/>
<text x="1417.5" y="2285.7" font-size="14.6" text-anchor="start" fill="#111" >0.25</text>
<line x1="1408" y1="2320.3" x2="1412" y2="2320.3" stroke="#222" stroke-width="1"/>
<text x="1417.5" y="2325.7" font-size="14.6" text-anchor="start" fill="#111" >0.00</text>
<line x1="1408" y1="2360.3" x2="1412" y2="2360.3" stroke="#222" stroke-width="1"/>
<text x="1417.5" y="2365.6" font-size="14.6" text-anchor="start" fill="#111" >−0.25</text>
<line x1="1408" y1="2400.2" x2="1412" y2="2400.2" stroke="#222" stroke-width="1"/>
<text x="1417.5" y="2405.5" font-size="14.6" text-anchor="start" fill="#111" >−0.50</text>
<line x1="1408" y1="2440.1" x2="1412" y2="2440.1" stroke="#222" stroke-width="1"/>
<text x="1417.5" y="2445.4" font-size="14.6" text-anchor="start" fill="#111" >−0.75</text>
<line x1="1408" y1="2480" x2="1412" y2="2480" stroke="#222" stroke-width="1"/>
<text x="1417.5" y="2485.3" font-size="14.6" text-anchor="start" fill="#111" >−1.00</text>
<text x="1457" y="1977" font-size="30" font-style="italic" text-anchor="middle" fill="#111">S</text>
<text x="1458" y="2313" font-size="30" font-style="italic" text-anchor="middle" fill="#111">S</text>
<rect x="80" y="2122.5" width="51.5" height="8.5" fill="#fff"/>
<rect x="428" y="2122.5" width="51.5" height="8.5" fill="#fff"/>
<rect x="768" y="2122.5" width="51.5" height="8.5" fill="#fff"/>
<rect x="1101.5" y="2122.5" width="51.5" height="8.5" fill="#fff"/>
<rect x="80" y="2458.7" width="51.5" height="8.5" fill="#fff"/>
<rect x="427" y="2458.7" width="51.5" height="8.5" fill="#fff"/>
<rect x="768" y="2459" width="51.5" height="8.5" fill="#fff"/>
<rect x="1101.4" y="2459" width="51.5" height="8.5" fill="#fff"/>
<text x="80" y="2106" font-size="26" fill="#fff">50 <tspan font-style="italic" font-family='"Liberation Serif", serif'>μm</tspan></text>
<line x1="364.5" y1="2115.5" x2="414.6" y2="2115.5" stroke="#1de3f0" stroke-width="6"/><polygon points="430.6,2115.5 406.6,2126.5 414.6,2115.5 406.6,2104.5" fill="#1de3f0"/>
<line x1="701.5" y1="2115.5" x2="750" y2="2115.5" stroke="#1de3f0" stroke-width="6"/><polygon points="766,2115.5 742,2126.5 750,2115.5 742,2104.5" fill="#1de3f0"/>
<line x1="1029" y1="2115.5" x2="1078" y2="2115.5" stroke="#1de3f0" stroke-width="6"/><polygon points="1094,2115.5 1070,2126.5 1078,2115.5 1070,2104.5" fill="#1de3f0"/>
<line x1="1175" y1="2127" x2="1175" y2="2177" stroke="#1de3f0" stroke-width="6"/><polygon points="1175,2193 1164,2169 1175,2177 1186,2169" fill="#1de3f0"/>
<line x1="1089" y1="2447.5" x2="1033.5" y2="2447.5" stroke="#1de3f0" stroke-width="6"/><polygon points="1017.5,2447.5 1041.5,2436.5 1033.5,2447.5 1041.5,2458.5" fill="#1de3f0"/>
<line x1="758" y1="2447.5" x2="708.7" y2="2447.5" stroke="#1de3f0" stroke-width="6"/><polygon points="692.7,2447.5 716.7,2436.5 708.7,2447.5 716.7,2458.5" fill="#1de3f0"/>
<line x1="418" y1="2447.5" x2="368.5" y2="2447.5" stroke="#1de3f0" stroke-width="6"/><polygon points="352.5,2447.5 376.5,2436.5 368.5,2447.5 376.5,2458.5" fill="#1de3f0"/></svg>
</body></html>
